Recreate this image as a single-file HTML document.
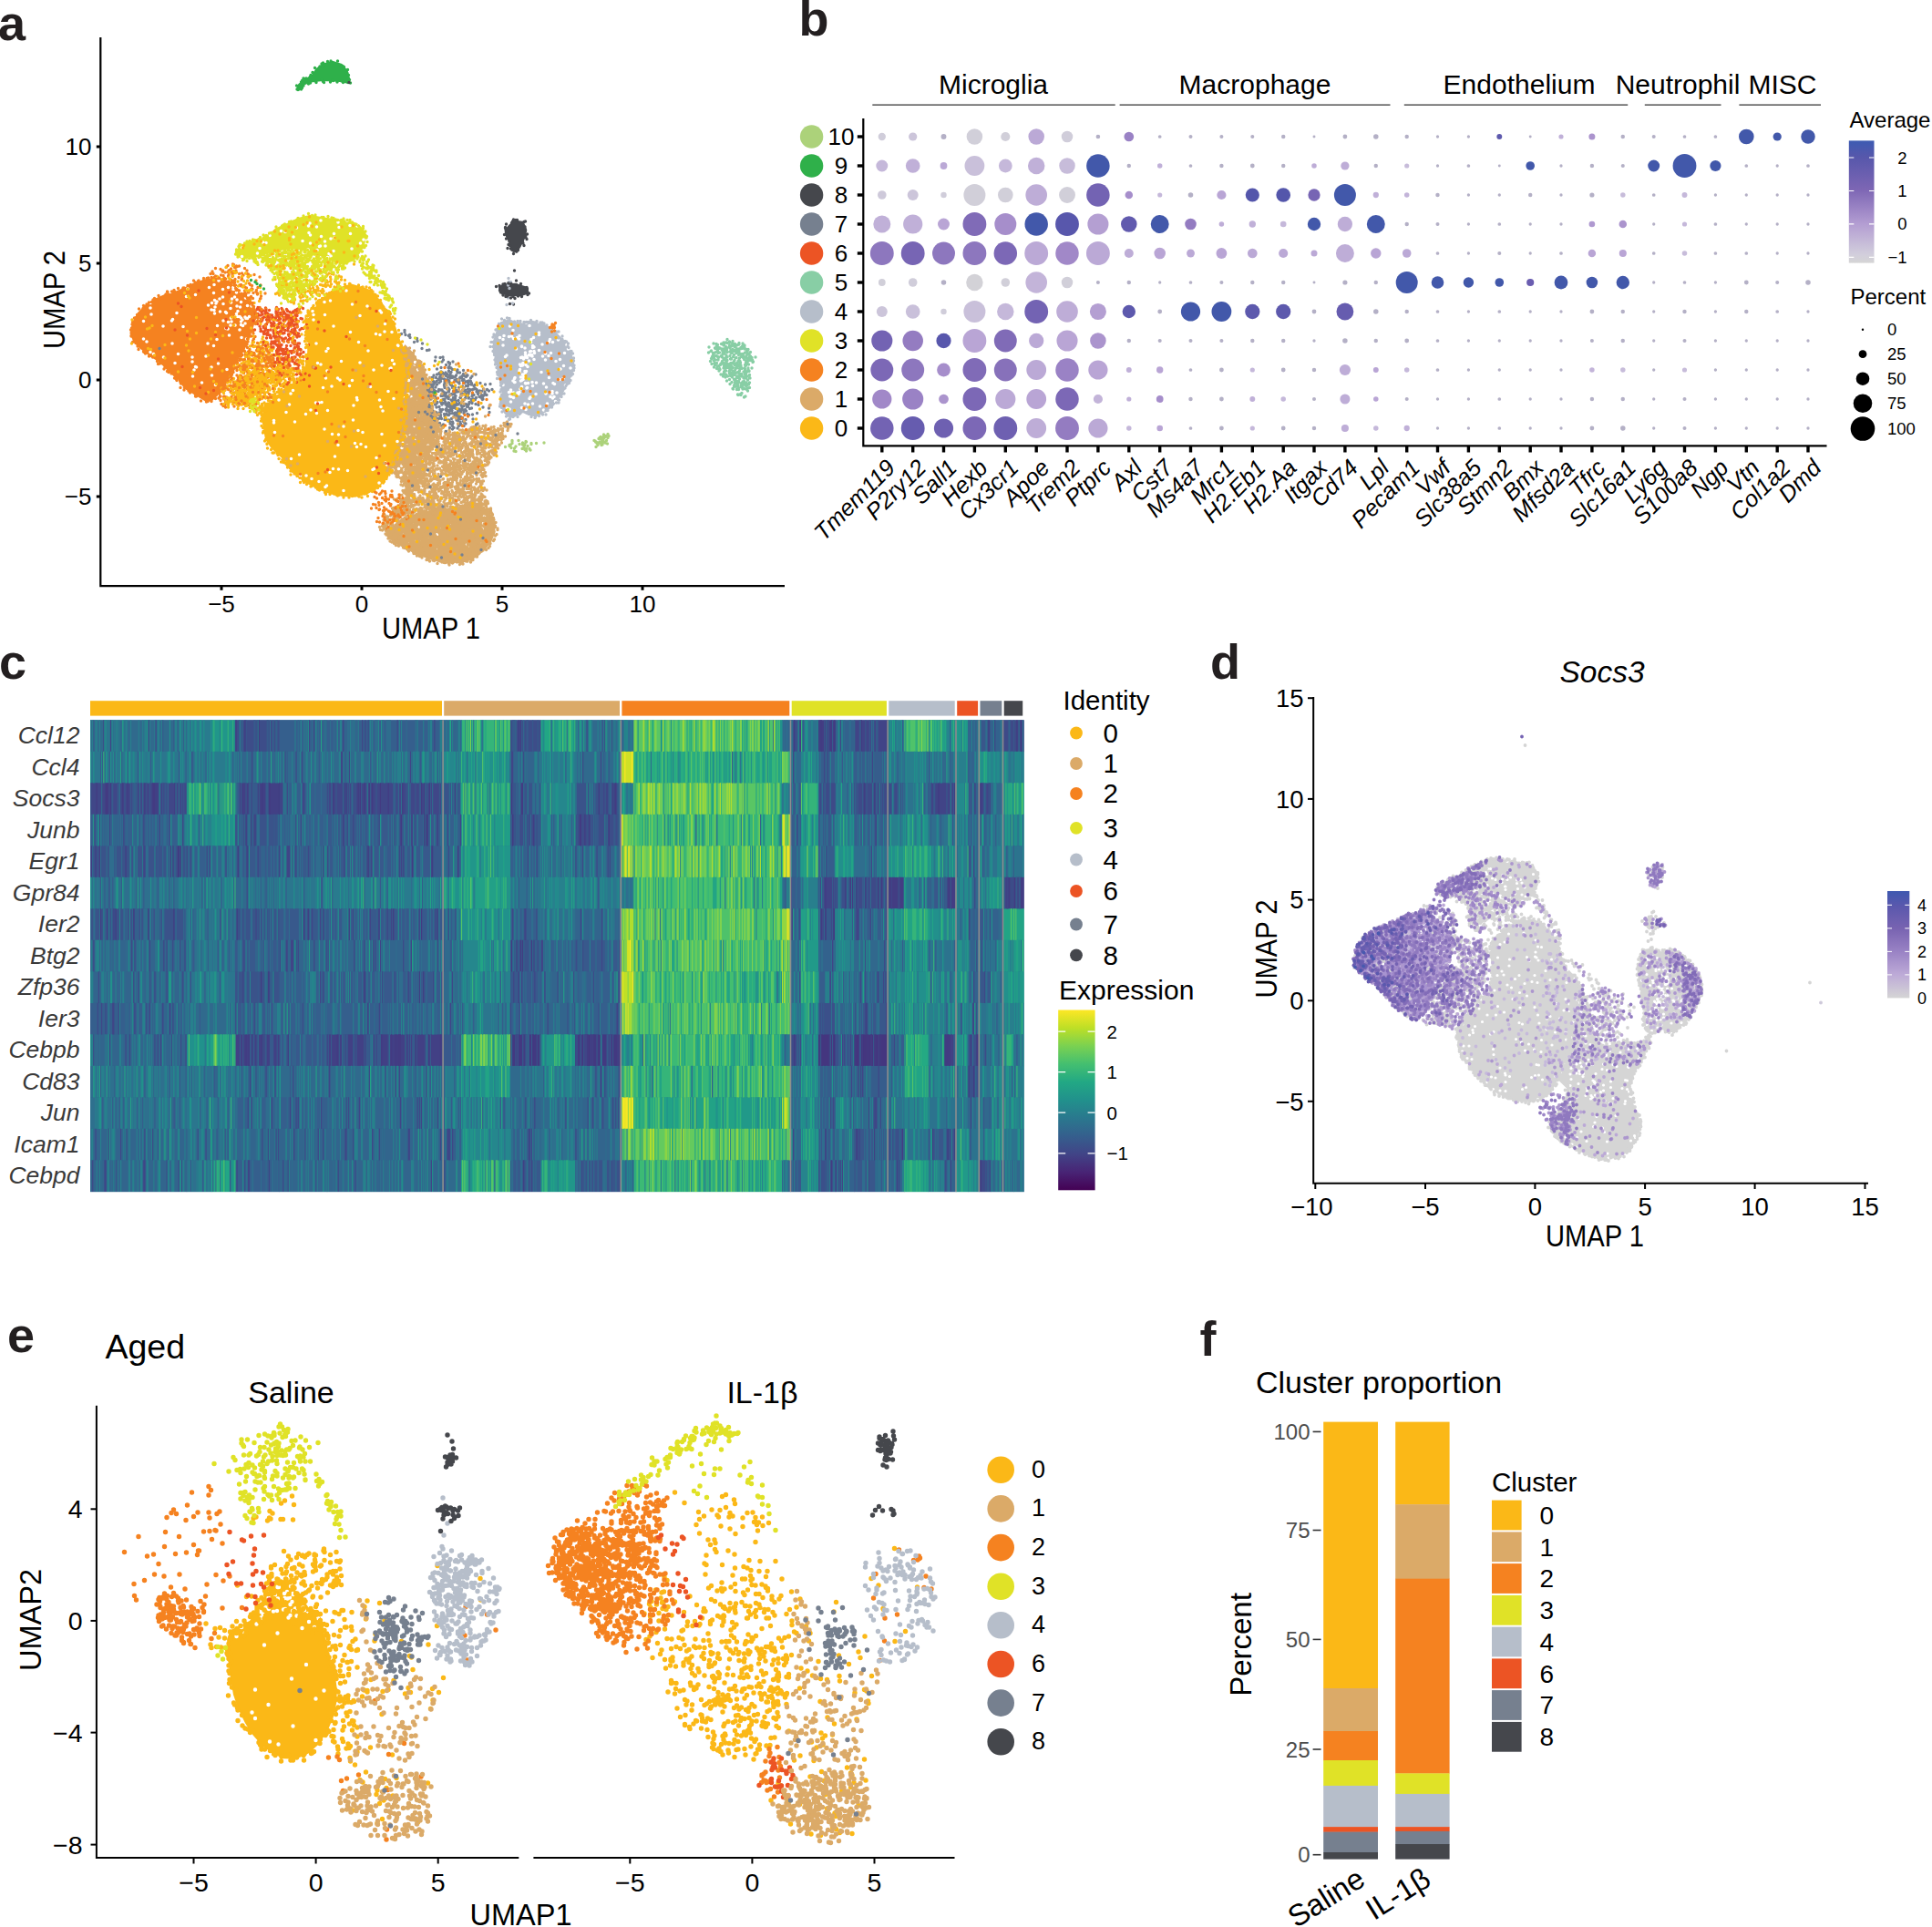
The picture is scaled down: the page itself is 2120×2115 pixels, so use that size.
<!DOCTYPE html>
<html><head><meta charset="utf-8"><title>Figure</title>
<style>html,body{margin:0;padding:0;background:#fff}svg{display:block}text{font-family:"Liberation Sans", sans-serif}</style></head>
<body><svg width="2120" height="2115" viewBox="0 0 2120 2115"><defs><linearGradient id="gb" x1="0" y1="0" x2="0" y2="1"><stop offset="0" stop-color="#3D5BB2"/><stop offset="0.13" stop-color="#5657AB"/><stop offset="0.4" stop-color="#7D66B4"/><stop offset="0.68" stop-color="#B39DD2"/><stop offset="0.93" stop-color="#D2CEDC"/><stop offset="1" stop-color="#D5D5D5"/></linearGradient><linearGradient id="gv" x1="0" y1="1" x2="0" y2="0"><stop offset="0.0" stop-color="#440154"/><stop offset="0.1" stop-color="#482475"/><stop offset="0.2" stop-color="#414487"/><stop offset="0.3" stop-color="#355F8D"/><stop offset="0.4" stop-color="#2A788E"/><stop offset="0.5" stop-color="#21918C"/><stop offset="0.6" stop-color="#22A884"/><stop offset="0.7" stop-color="#44BF70"/><stop offset="0.8" stop-color="#7AD151"/><stop offset="0.9" stop-color="#BDDF26"/><stop offset="1.0" stop-color="#FDE725"/></linearGradient><linearGradient id="gd" x1="0" y1="1" x2="0" y2="0"><stop offset="0" stop-color="#D5D5D5"/><stop offset="0.22" stop-color="#BDAAD7"/><stop offset="0.43" stop-color="#9A83C5"/><stop offset="0.65" stop-color="#7863B1"/><stop offset="0.86" stop-color="#5A58AD"/><stop offset="1" stop-color="#3E59B0"/></linearGradient></defs><rect width="2120" height="2115" fill="#fff"/>
<g><text x="-2" y="43.5" font-size="54" font-weight="bold" fill="#231F20">a</text>
<path d="M110.3 41V643.2H861" stroke="#000" stroke-width="2.2" fill="none"/>
<path d="M105.8 161L110.3 161" stroke="#000" stroke-width="3" fill="none"/>
<text x="100.5" y="170.2" font-size="26" text-anchor="end">10</text>
<path d="M105.8 289L110.3 289" stroke="#000" stroke-width="3" fill="none"/>
<text x="100.5" y="298.2" font-size="26" text-anchor="end">5</text>
<path d="M105.8 417L110.3 417" stroke="#000" stroke-width="3" fill="none"/>
<text x="100.5" y="426.2" font-size="26" text-anchor="end">0</text>
<path d="M105.8 545L110.3 545" stroke="#000" stroke-width="3" fill="none"/>
<text x="100.5" y="554.2" font-size="26" text-anchor="end">−5</text>
<path d="M243 643.2L243 647.8" stroke="#000" stroke-width="3" fill="none"/>
<text x="243" y="672.3" font-size="26" text-anchor="middle">−5</text>
<path d="M397 643.2L397 647.8" stroke="#000" stroke-width="3" fill="none"/>
<text x="397" y="672.3" font-size="26" text-anchor="middle">0</text>
<path d="M551 643.2L551 647.8" stroke="#000" stroke-width="3" fill="none"/>
<text x="551" y="672.3" font-size="26" text-anchor="middle">5</text>
<path d="M705 643.2L705 647.8" stroke="#000" stroke-width="3" fill="none"/>
<text x="705" y="672.3" font-size="26" text-anchor="middle">10</text>
<text x="473" y="701" font-size="32.5" textLength="108" lengthAdjust="spacingAndGlyphs" text-anchor="middle">UMAP 1</text>
<text font-size="32.5" textLength="108" lengthAdjust="spacingAndGlyphs" text-anchor="middle" transform="translate(71 329) rotate(-90)">UMAP 2</text>
<path d="M444.5 378L452.8 386.4L459.4 396.3L466.1 407.9L471 419.6L473.5 432.8L475.2 446.1L478.5 457.8L482.7 469.4L476 482.7L471 495.9L466.1 509.2L462.7 522.5L456.1 535.8L446.1 532.5L432.8 520.9L427.9 515.9L432.8 502.6L437.8 489.3L441.1 476L442.8 462.7L444.5 449.5L444.5 436.2L446.1 422.9L447.8 409.6L446.1 396.3L441.1 383Z" fill="#DBAA68"/>
<path d="M142.4 365.8L145.7 352.5L151.5 342.6L159.8 334.3L169.8 327.7L181.3 322.7L192.9 319.4L202.9 315.2L212.8 310.3L226.1 306.1L239.3 304.5L249.3 307.8L260.8 316.1L270.8 326L279.1 335.9L282.4 345.9L279.1 355.8L275.8 365.8L272.4 375.7L267.5 385.6L260.8 395.6L255.9 405.5L252.6 413.8L245.9 423.7L239.3 433.7L232.7 440.3L226.1 441.1L219.4 437L211.2 432L202.9 427L196.3 418.8L188 410.5L179.7 402.2L171.4 395.6L161.5 388.9L153.2 382.3L146.6 375.7Z" fill="#F58220"/>
<path d="M257.5 279.6L262.5 269.7L272.4 264.7L284 261.4L294 257.3L303.9 249.8L315.5 244.8L327.1 239L340.4 235.7L353.6 238.2L366.9 239.9L380.1 241.5L391.7 244.8L399.2 251.5L401.6 259.8L400 269.7L395 278L388.4 286.3L378.4 289.6L368.5 286.3L358.6 282.9L345.3 279.6L332.1 274.7L320.5 273L308.9 274.7L297.3 278L285.7 281.3L275.8 284.6L265.8 284.6Z" fill="#E0E227"/>
<path d="M357.6 323.8L370 316L385.5 311.4L401 316L406.3 318.3L416.2 328.2L426.2 341.5L432.8 354.8L437.8 369.7L442.8 383L447.8 396.3L449.5 409.6L447.8 422.9L446.1 436.2L446.1 449.5L444.5 462.7L442.8 476L439.5 489.3L434.5 502.6L429.5 515.9L422.9 527.5L414.6 535.8L403 542.4L389.7 545.8L376.4 544.9L363.1 542.4L349.8 537.5L336.5 530.8L324.9 522.5L314.9 512.6L306.6 502.6L314.3 507.1L305 499.3L297.2 491.6L291 482.2L288.9 469.8L286.4 457.4L291 446.5L301.9 435.6L314.3 424.8L326.7 417L334.4 404.6L337.5 385.9L335.3 367.3L334.4 348.7L342.2 336.2Z" fill="#FBB817"/>
<path d="M424.8 588.4L433.1 575.1L446.4 566.9L462.9 561.9L479.5 558.6L496.1 556.9L512.6 555.3L525.9 553.6L537.5 561.9L543.3 573.5L543.3 585.1L539.1 595L532.5 603.3L522.6 611.6L509.3 616.5L496.1 618.2L482.8 617.4L469.6 613.2L456.3 608.3L443.1 601.6L431.5 595Z" fill="#DBAA68"/>
<path d="M540.8 374.7L545.8 359.8L549.1 353.2L559 349.9L565.6 353.2L575.6 354.8L582.2 351.5L592.1 353.2L602.1 358.2L612 366.4L620.3 374.7L626.9 386.3L630.2 397.9L628.6 409.5L623.6 421.1L617 432.7L608.7 444.3L598.8 452.6L588.8 457.5L580.5 455.9L572.3 452.6L565.6 457.5L559 459.2L552.4 452.6L549.1 444.3L550.7 432.7L549.1 422.8L545.8 409.5L544.1 396.3L540.8 384.7Z" fill="#B6BECA"/>
<path d="M324.8 98.3L327.4 91.9L333.9 86.7L341.6 82.8L346.8 75.1L354.6 69.4L364.9 66.8L375.3 69.9L381.7 77.6L383.8 86.7L382.5 91.9L372.7 90.1L362.3 89.3L352 89.3L341.6 90.6L333.9 93.2L328.7 99.6Z" fill="#2FB04A"/>
<path d="M553.5 252.3L559.1 246.1L565.3 241.5L574.5 243L578.3 252.3L576.1 261.7L571.5 271L566.8 277.8L560.6 275.6L558.4 266.3L554.4 258.6Z" fill="#45474C"/>
<path d="M546.7 314.5L552.9 311.4L565.3 310.7L579.2 315.1L580.7 322.2L571.5 325.3L559.1 325.3L548.2 322.2Z" fill="#45474C"/>
<path transform="scale(.5)" d="M709 476h0m75 20h0m-16-1h0m-6-11h0m-18 15h0m-2-11h0m-38-4h0m-9 14h0m-15-8h0m-3 6h0m-85 21h0m25-10h0m9 2h0m25-9h0m27 11h0m3 5h0m24 3h0m28-6h0m36 0h0m29 13h0m-7 8h0m-57-12h0m-8 2h0m-13 6h0m-32 4h0m-17-5h0m-20-9h0m-60 13h0m-7-1h0m-5-12h0m-41 23h0m34 13h0m5-11h0m106 3h0m20 1h0m5-8h0m2-1h0m11 0h0m8 17h0m10-6h0m40-5h0m-46 16h0m-7 3h0m-172 3h0m-16-5h0m-51 53h0m280 22h0m-233 1h0m-11-5h0m-4 1h0m0-4h0m-11 0h0m-12 4h0m-19-10h0m-11 6h0m-47 3h0m-38 7h0m35 10h0m20-4h0m40-4h0m2 16h0m11-3h0m7-4h0m20 4h0m6-4h0m4-10h0m1 16h0m19-4h0m305 22h0m-38-4h0m-33-4h0m-48-8h0m-13 3h0m-22 8h0m-138 1h0m-9-1h0m-14-8h0m-2 11h0m-7-2h0m-13-8h0m-1 13h0m-16-10h0m-14-5h0m-2 4h0m-2 8h0m-7-9h0m-8 5h0m-127 6h0m0-11h0m2 25h0m56-3h0m76-7h0m6 1h0m1 7h0m12-4h0m12 1h0m2 2h0m10 11h0m10-3h0m2-6h0m3-6h0m0 12h0m4 0h0m3 3h0m9-2h0m2 3h0m3 0h0m4-4h0m20-2h0m108 2h0m11-12h0m2 8h0m25 0h0m77 2h0m44-11h0m3 4h0m345 20h0m-20 9h0m-7-7h0m-36 8h0m-24-4h0m-250-1h0m-113 5h0m-44-14h0m-16 15h0m-134-7h0m-5 5h0m-1-13h0m-3 11h0m0-7h0m-13 8h0m-8-8h0m-2 8h0m-5-7h0m-11-3h0m-13 11h0m-75 2h0m-23-16h0m-2 3h0m-19 12h0m-43-11h0m181 16h0m4 1h0m3 14h0m23-12h0m243 5h0m56 4h0m9 2h0m10-7h0m16 1h0m246 8h0m11 2h0m6-1h0m3-13h0m14 12h0m43-7h0m0 5h0m61 22h0m-19-11h0m-12 5h0m-6-6h0m-2 5h0m-15 6h0m-19-15h0m-2 18h0m-3-14h0m-1 6h0m-26-7h0m-4-3h0m-8 2h0m-23 15h0m0-13h0m-7-4h0m-223 18h0m-1-1h0m-86-7h0m-93 3h0m-20 1h0m-133-11h0m-11-3h0m-54 4h0m-7 14h0m-13-5h0m-78 0h0m-56-4h0m-7-6h0m15 29h0m7 4h0m54 0h0m325-6h0m4-6h0m88 5h0m101 0h0m224-4h0m12-6h0m0 1h0m7 3h0m1 10h0m0 5h0m8 0h0m2-7h0m2-1h0m0 8h0m2 0h0m2-16h0m2-2h0m1 1h0m0 9h0m1 4h0m10-6h0m14 7h0m12-1h0m30 0h0m8-9h0m-18 23h0m-9 4h0m-16-12h0m-7 9h0m-6-8h0m-19 7h0m-4-7h0m-5-2h0m-2 12h0m-4-7h0m-2-3h0m-2 2h0m-2 1h0m-2 3h0m-1 9h0m-1 1h0m-1-14h0m-3 1h0m-31-5h0m-3 3h0m-190 3h0m-8 9h0m-46 4h0m-4-8h0m-71 5h0m-41-3h0m-52 4h0m-218 1h0m-27-16h0m-30 12h0m0-10h0m-38 13h0m-25-13h0m67 28h0m3-7h0m2 1h0m33 0h0m34 5h0m206-11h0m14 14h0m102-2h0m18-10h0m18 7h0m2-1h0m50-4h0m8 8h0m224 2h0m0 3h0m1-17h0m0 11h0m2-8h0m4-1h0m5 13h0m1 3h0m1-17h0m1 14h0m3-10h0m30 12h0m42-7h0m7-7h0m15 5h0m-16 23h0m-8 2h0m-23-4h0m-37 10h0m-19-10h0m0-3h0m0-4h0m-1 11h0m-1-11h0m-2 13h0m-2 1h0m0-8h0m-13 11h0m0-10h0m-1 10h0m0-8h0m-3 5h0m-184-7h0m-3 5h0m-35-4h0m-7 5h0m-124 0h0m-27-1h0m-5-4h0m-26 0h0m-250-6h0m-42 2h0m-35 10h0m55 4h0m30 5h0m170 12h0m66-6h0m19-3h0m39-1h0m46 2h0m39 10h0m64-9h0m1 2h0m22-11h0m165 4h0m17 11h0m21-2h0m3-5h0m8-8h0m1 1h0m2 10h0m1-1h0m2-10h0m10 6h0m8-7h0m16 2h0m6 8h0m13 9h0m2-18h0m3 2h0m24 3h0m-19 16h0m-6 9h0m-3 3h0m-1-10h0m-4 7h0m-10-7h0m-22 1h0m-12 7h0m-2 3h0m-22-14h0m-2 4h0m-2-3h0m-9 11h0m0-11h0m-5 9h0m-1-11h0m-2 10h0m-2-9h0m-172 18h0m-2-14h0m-23 9h0m-2 5h0m-10-4h0m-4-4h0m-8-6h0m-7 8h0m-25 2h0m-31 3h0m-49 0h0m-1-5h0m-145-9h0m-26 14h0m23 10h0m58-4h0m7 0h0m6-1h0m70 7h0m60 3h0m101 0h0m176 3h0m5 2h0m3-16h0m24 13h0m7-9h0m2 13h0m5-11h0m10-2h0m16 6h0m16-6h0m18-5h0m-26 19h0m-269 12h0m-84-10h0m-121-1h0m-24 6h0m-13-7h0m-11 9h0m-43-4h0m-27 18h0m0 5h0m46-2h0m107 10h0m21-14h0m135 13h0m1-15h0m20 14h0m13-2h0m5-5h0m-39 28h0m-11-2h0m-9 5h0m-52-5h0m-42-4h0m-10-4h0m-43 9h0m-14-1h0m-17-11h0m-109 7h0m139 28h0m37-4h0m13 2h0m52 3h0m28-9h0m11 3h0m10 6h0m20-15h0m14-2h0m13 17h0m9-6h0m-19 24h0m-16 3h0m-16-14h0m-16-2h0m-79-2h0m-20 0h0m-126 17h0m-18 9h0m96-5h0m91 3h0m20 11h0m17 3h0m8-14h0m1-1h0m23 1h0m18-3h0m15 5h0m5 10h0m-6 12h0m-16 2h0m-1-2h0m-1-8h0m-19 12h0m-1 2h0m0-1h0m-1-3h0m-7-9h0m-6 7h0m-13 3h0m-13-12h0m-28 9h0m-3 2h0m-55 2h0m-20-3h0m-12-1h0m-7 8h0m-65 7h0m13 0h0m12 7h0m16 6h0m180-14h0m17 0h0m19 11h0m-84 6h0m-78 17h0m-37-11h0m-3 3h0m306 48h0m43 16h0m-182 22h0m28-3h0m9 5h0m52 1h0m13-2h0m3-7h0m75 0h0m-2 11h0m-99 13h0m-15-3h0m-59 4h0m9 17h0m15-2h0m9-1h0m23-4h0m8 14h0m75-3h0m28-5h0m-21 10h0m-76 4h0m-4 22h0m23 7h0m40-5h0" stroke="#fff" stroke-width="7.2" stroke-linecap="round" fill="none"/>
<path transform="scale(.5)" d="M604 613h0m20 2h0m1 0h0m66-3h0m4-1h0m7 2h0m5 4h0m1-6h0m2 2h0m4 3h0m1 3h0m2-3h0m1-12h0m1 15h0m3-19h0m3 8h0m0 10h0m1-5h0m2-12h0m4 1h0m3 16h0m2-1h0m5-8h0m2-3h0m5 2h0m0 6h0m8 1h0m-3 21h0m-9-7h0m-1-9h0m-1 8h0m0-5h0m-2 6h0m0-1h0m0-4h0m-1 11h0m0-13h0m-1-1h0m-1 13h0m-3 4h0m-1-8h0m-7-6h0m-2 5h0m-5-3h0m-5 3h0m-1-1h0m0-4h0m-4 15h0m-1-12h0m-1 8h0m-1-9h0m-3 13h0m-1-14h0m-5 13h0m0-5h0m-2 2h0m0-6h0m-3 10h0m-3-2h0m-1 0h0m0-13h0m-1 1h0m-1 7h0m-1-6h0m0-3h0m-5 11h0m-1-9h0m-4 14h0m-11-4h0m-32 0h0m-4-13h0m-6 5h0m-4-2h0m-2 5h0m-5-6h0m-7 21h0m4-2h0m1 1h0m3 4h0m3-6h0m13 9h0m1-2h0m5-1h0m3 1h0m2 2h0m1-5h0m1 5h0m4-6h0m0 2h0m0 8h0m1 3h0m11-7h0m2 3h0m1-9h0m4 4h0m0 2h0m4-9h0m1-1h0m2 18h0m2-7h0m7-9h0m1-3h0m1 7h0m3-4h0m1-2h0m6 1h0m0 14h0m3-10h0m4 0h0m0 2h0m1-1h0m0 2h0m6-6h0m0 12h0m2-15h0m1 0h0m10 12h0m3-9h0m5-2h0m1 8h0m3-4h0m-58 16h0m-8-1h0m-2 1h0m-3 13h0m-1-13h0m-15 5h0m0-2h0m-6-1h0m0-2h0" stroke="#FBB817" stroke-width="6.8" stroke-linecap="round" fill="none"/>
<path transform="scale(.5)" d="M568 754h0m5-3h0m3-7h0m1-4h0m3 9h0m1 7h0m4-5h0m2 1h0m26 26h0m-3-8h0m-3 5h0m-7-10h0m-3 5h0m-1 9h0m-2-14h0m0-4h0m-1 7h0m-4 10h0m-1-17h0m-1 10h0m-2-5h0m-1-5h0m-4 17h0m0-6h0m-1 1h0m-1-8h0m-4 9h0m-1 1h0m-1-14h0m-1 3h0m-1 7h0m-2 7h0m0-18h0m-2 9h0m-1 2h0m0-10h0m-4-1h0m-5 19h0m0-2h0m-1-17h0m-1 14h0m-2 5h0m0-3h0m-2 3h0m-1-19h0m-7 18h0m-12 11h0m0 9h0m11-4h0m4-4h0m0 5h0m1-1h0m2-7h0m1 6h0m1-4h0m5-1h0m1 5h0m3-7h0m1-6h0m1 3h0m2 7h0m0 3h0m1-9h0m1 8h0m1 3h0m1-1h0m1 5h0m1-13h0m0 9h0m2-14h0m3 9h0m0 4h0m2-11h0m1 3h0m5 6h0m1 3h0m2-11h0m2 5h0m5-1h0m4 0h0m2-2h0m0 4h0m0 9h0m1-19h0m7 0h0m0 15h0m4 2h0m2-14h0m0 14h0m3-9h0m0 2h0m10 1h0m0 5h0m9-5h0m30 7h0m13 15h0m-5-8h0m-7 6h0m0-5h0m-7 8h0m-4-3h0m-1 2h0m-1 2h0m0-6h0m-6 5h0m0-4h0m-5-1h0m-3 9h0m-3-7h0m-2 5h0m0-4h0m0-10h0m-1-1h0m-1 18h0m0-5h0m0-7h0m-2 9h0m-1 2h0m-1-12h0m-1 12h0m0-15h0m-1 14h0m-3-13h0m-3 3h0m-1-6h0m-2 0h0m-1 18h0m0-6h0m0-1h0m-1 0h0m-3 6h0m0-17h0m-1 13h0m0-5h0m-2 9h0m0-9h0m-1 3h0m-1 1h0m-5-9h0m-2 13h0m-4-16h0m-5 18h0m0-6h0m-2-8h0m-1 13h0m-3-11h0m-1-1h0m0-4h0m-1 2h0m-2 1h0m-2 8h0m-1 3h0m-3-8h0m0-2h0m-2 5h0m0-9h0m-1 9h0m0-7h0m0-1h0m-3 7h0m0-7h0m-3 9h0m0-6h0m0-2h0m-1-2h0m-2 7h0m-4 5h0m0-5h0m0-4h0m-1 10h0m-1-12h0m-2 13h0m-1-15h0m-2 6h0m0-4h0m-1 16h0m0-16h0m-4 11h0m-1 4h0m0-18h0m-1 15h0m-1-5h0m0-9h0m-2 5h0m-1 5h0m0-10h0m-1 13h0m-1-11h0m-2 5h0m-1 10h0m0-5h0m-6 3h0m-3-5h0m-16 23h0m3-3h0m12 4h0m1-10h0m0 2h0m1-3h0m0 7h0m4-3h0m4 8h0m2-9h0m1-1h0m0 3h0m3 3h0m1 2h0m4-14h0m0 1h0m0 7h0m0 11h0m1-17h0m1-1h0m2 13h0m3-13h0m0 15h0m1-4h0m1 6h0m4-6h0m2-5h0m0 3h0m6 3h0m3-12h0m0 2h0m0 13h0m2-10h0m0 3h0m2-7h0m1-1h0m0 17h0m1-8h0m1 9h0m1-9h0m1-3h0m0 7h0m2 4h0m2-17h0m0 6h0m1 4h0m1-7h0m2 3h0m0 12h0m1-2h0m7-15h0m0 1h0m0 2h0m0 7h0m2 3h0m0 4h0m1-14h0m0 9h0m3-13h0m3 0h0m0 3h0m0 3h0m0 7h0m1-6h0m1-1h0m3 2h0m1 6h0m1-13h0m0 5h0m0 3h0m3 2h0m0 7h0m3-4h0m4-13h0m1 1h0m0 8h0m2-8h0m1 0h0m0 3h0m1 1h0m0 9h0m5-16h0m0 6h0m4-4h0m1 16h0m1-11h0m2 6h0m2-7h0m1-6h0m2 10h0m0 4h0m0 1h0m1-13h0m0 1h0m0 9h0m1 5h0m10-17h0m2 9h0m-19 19h0m0-2h0m-8 10h0m0-11h0m0-5h0m-3 3h0m-3 13h0m-1-11h0m0-4h0m-3 2h0m-1 5h0m-4 11h0m0-12h0m-3 10h0m-1-1h0m0-2h0m-3-14h0m-2 4h0m-3 4h0m-1 6h0m0-7h0m-1-7h0m-1 19h0m0-9h0m0-2h0m-1-1h0m-1 5h0m0-5h0m-5-6h0m-2 15h0m0-1h0m-1-5h0m-1 0h0m-1 6h0m-1-9h0m-3-7h0m-1 2h0m-1 6h0m-2 6h0m-1-3h0m0-4h0m-3 6h0m-1-10h0m-4 16h0m0-3h0m-1 1h0m-1-7h0m-1-3h0m-1 2h0m-1-9h0m-1 12h0m-1-6h0m0-5h0m-1 0h0m-1 2h0m-1 2h0m0-3h0m-1 5h0m-1 11h0m0-7h0m-4-6h0m-1 12h0m0-17h0m-4 16h0m-2 1h0m-2-2h0m0-5h0m-2-2h0m-1 5h0m0-3h0m-2 5h0m-2-14h0m-1 15h0m-1-15h0m-6 7h0m-3 4h0m-2 5h0m0-6h0m0-2h0m0-2h0m0-4h0m-2 1h0m-1 11h0m0-6h0m-2 3h0m-1-11h0m-2 16h0m0-10h0m-4 3h0m-1 0h0m-1-6h0m-9 35h0m4-4h0m7 0h0m2 1h0m2-1h0m1-4h0m1-9h0m2 13h0m1-15h0m1 6h0m2 0h0m0 13h0m1-19h0m0 2h0m3 13h0m1-14h0m2 2h0m0 10h0m0 4h0m1-4h0m2 0h0m1-5h0m0 1h0m3 5h0m3-2h0m1 6h0m1-14h0m1 10h0m2 1h0m2-7h0m1 4h0m2 2h0m2-5h0m1-4h0m3 0h0m2-1h0m3-1h0m0 2h0m0 10h0m2-15h0m1 13h0m0 1h0m3-9h0m1 6h0m2-11h0m0 1h0m0 11h0m1 3h0m3-15h0m0 10h0m3-8h0m0 4h0m2 6h0m0 2h0m2-3h0m2-10h0m2 18h0m1-6h0m3-4h0m0 2h0m1 1h0m2-2h0m1-3h0m0 4h0m5 4h0m1-10h0m1 8h0m1-3h0m3-9h0m5 0h0m17 3h0m-32 32h0m-1-15h0m-1 4h0m-3-4h0m-6 14h0m-3-7h0m-2 11h0m0-9h0m-1 8h0m-1-14h0m-2 12h0m-3-6h0m0-3h0m-1 5h0m-2 6h0m-1-6h0m-4 4h0m0-10h0m-1-6h0m-4 2h0m-8 8h0m-1-10h0m-1 16h0m-3-11h0m-1-1h0m-7 6h0m-5-10h0m-1 6h0m-1 11h0m-2-16h0m-1 7h0m0-6h0m-8 9h0m-1 6h0m0-11h0m0-2h0m-2 4h0m-3-8h0m-1 4h0m0-3h0m-9 0h0m-6 3h0m0-2h0m61 23h0m1-5h0m0 1h0m2 10h0m4-4h0m3-2h0m0 1h0m1-6h0m4 1h0m0 1h0m4 6h0m1-3h0m3-4h0" stroke="#FBB817" stroke-width="6.8" stroke-linecap="round" fill="none"/>
<path transform="scale(.5)" d="M565 763h0m11 11h0m12-2h0m27 24h0m-8 0h0m-12-5h0m-1 4h0m-7-11h0m-1 2h0m-2-6h0m-5 12h0m-25 2h0m0-3h0m-9-4h0m-18 18h0m8 1h0m2-3h0m28-2h0m2 14h0m7-5h0m37-7h0m47 16h0m4 7h0m-2 8h0m-8-2h0m-17 0h0m0-1h0m-4-9h0m-7-1h0m-13 3h0m-4-1h0m-1 10h0m0-7h0m-6 2h0m-12 0h0m-6-2h0m-1 13h0m-2-6h0m-13 1h0m-11 2h0m-10-7h0m-5 7h0m-1-7h0m-7 1h0m-3-5h0m-6 4h0m17 15h0m4 9h0m12-3h0m13-1h0m2 1h0m4 1h0m2-4h0m2-4h0m9 8h0m11 2h0m15-10h0m10 6h0m-26 24h0m-4-1h0m-3-7h0m-3 8h0m-10-1h0m-1-11h0m-7 16h0m-3-16h0m-10 15h0m-2-14h0m-13 11h0m-3 3h0m-4-5h0m-12-3h0m-5-6h0m-18 24h0m12-2h0m2 8h0m23-5h0m2-2h0m14 8h0m7 3h0m39-13h0" stroke="#F58220" stroke-width="6.8" stroke-linecap="round" fill="none"/>
<path transform="scale(.5)" d="M571 559h0m29-2h0m7-3h0m1-1h0m1 3h0m3-7h0m5 9h0m2-3h0m1 3h0m1-4h0m2 1h0m1-1h0m1-8h0m0 4h0m1-2h0m1 7h0m1-2h0m5-9h0m0 6h0m0 7h0m3-15h0m0 8h0m1 1h0m1 3h0m2 2h0m1-10h0m0 10h0m1-8h0m1 9h0m1-4h0m0 4h0m2 2h0m1-2h0m2-8h0m3-1h0m0 2h0m2 4h0m2 3h0m3-2h0m2-6h0m7 4h0m2 1h0m6 3h0m4 1h0m1-5h0m4 3h0m0 2h0m7 0h0m63 20h0m-7 0h0m-1 0h0m-1 0h0m-8 0h0m-8-6h0m-1 5h0m-4-7h0m-1 8h0m-1-4h0m-1 5h0m-4-9h0m-1 6h0m-1-3h0m0-3h0m-1 6h0m0-3h0m-2 6h0m0-4h0m-1 0h0m-2-3h0m-1 2h0m-3 2h0m-1 1h0m-2-9h0m-1 0h0m-1 7h0m-1-6h0m-2 3h0m0-8h0m-1 15h0m0-1h0m0-4h0m-1-4h0m-1-4h0m0-2h0m-2 12h0m-1 1h0m-1-4h0m-2 4h0m0-9h0m-1 11h0m0-8h0m-2 4h0m-1-3h0m-1-12h0m-2 4h0m-1 1h0m-2 6h0m-1-1h0m-1 2h0m0-10h0m-1 12h0m0-5h0m-3 6h0m0-12h0m-1 9h0m0-6h0m0-5h0m-3 18h0m0-2h0m0-16h0m-1 18h0m-1-13h0m-1 4h0m-2 9h0m0-10h0m-1 6h0m0-15h0m-1 11h0m-1 1h0m0-6h0m0-4h0m-3 12h0m-1-5h0m-1-5h0m-2 14h0m0-12h0m-1 5h0m-2-7h0m0-4h0m-2 18h0m0-11h0m-2 5h0m0-4h0m-2 10h0m0-7h0m-1-6h0m-1 10h0m-1-4h0m-1 5h0m-2-12h0m0-3h0m-1 12h0m-1-6h0m-1 11h0m0-3h0m0-11h0m0-4h0m-2 6h0m0-1h0m-2 3h0m0-6h0m-1 17h0m-2 0h0m0-3h0m-2-8h0m-1 5h0m0-10h0m-1 10h0m-1 4h0m0-6h0m0-1h0m0-7h0m-1 3h0m0-1h0m-1 4h0m-3 6h0m0-5h0m-1 8h0m0-3h0m0-7h0m0-7h0m-2 18h0m0-1h0m0-17h0m-2 13h0m-1-4h0m-2 1h0m0-9h0m0-2h0m-3 1h0m-1 0h0m0-1h0m-1 10h0m0-4h0m-1 2h0m-2 7h0m-1 1h0m0-7h0m-1 10h0m-2-14h0m-1 8h0m0-4h0m-2 8h0m0-6h0m-1 6h0m-1-5h0m0-2h0m-1-1h0m-1-8h0m-2 14h0m-1-5h0m0-1h0m-1 8h0m-1-13h0m0-1h0m-1 8h0m0-6h0m0-3h0m-1 17h0m0-6h0m-1-2h0m-1-1h0m-1-7h0m-1 3h0m-2 7h0m0-4h0m-1-2h0m-1 8h0m0-4h0m-1-4h0m-1 7h0m-4-11h0m-1 0h0m-1 0h0m-1 2h0m-3 12h0m-1-2h0m-1 2h0m-1 0h0m-1-8h0m-3 5h0m0-5h0m0-2h0m8 14h0m18 1h0m1-2h0m4 4h0m1 2h0m0 1h0m4 6h0m1-11h0m0 5h0m1 5h0m1 0h0m1-12h0m0 17h0m1-17h0m0 4h0m2 1h0m1 4h0m0 2h0m3-3h0m2 2h0m0 8h0m2-14h0m1 3h0m1-5h0m1 12h0m1-1h0m0 5h0m1-8h0m0 8h0m2-6h0m1-1h0m0 5h0m2-7h0m1-5h0m2 3h0m2-5h0m0 7h0m1 8h0m2-16h0m2 1h0m1 16h0m0 1h0m5-15h0m4-3h0m1 3h0m1 0h0m0 13h0m3-17h0m0 5h0m0 6h0m0 8h0m1-19h0m0 4h0m0 13h0m1-10h0m4 2h0m2-5h0m2 8h0m0 4h0m1-10h0m1 7h0m0 3h0m1-6h0m1-8h0m0 9h0m0 8h0m2-18h0m0 4h0m0 8h0m2 3h0m1-11h0m2-5h0m0 5h0m1 0h0m0 3h0m0 4h0m1-11h0m1 3h0m0 1h0m2-1h0m0 13h0m1-11h0m1 4h0m0 8h0m1-11h0m1-1h0m0 4h0m0 8h0m0 1h0m1-14h0m1 8h0m0 3h0m1 1h0m1 2h0m1-2h0m1-6h0m1-1h0m2 6h0m1-7h0m1-4h0m0 8h0m1-6h0m0 1h0m0 3h0m0 7h0m1-9h0m1-6h0m2 5h0m0 2h0m1-5h0m0 4h0m2-7h0m0 1h0m0 2h0m0 11h0m1-14h0m1 0h0m0 14h0m3-6h0m1-8h0m0 5h0m1 7h0m2-2h0m0 7h0m1-7h0m1-9h0m1-1h0m0 17h0m2-1h0m1-1h0m2-6h0m0 6h0m2-7h0m1-9h0m0 3h0m1 2h0m1 1h0m0 9h0m0 3h0m1-16h0m1 2h0m0 9h0m2-8h0m0 5h0m2-10h0m2 5h0m0 6h0m3 2h0m1-11h0m0 4h0m0 4h0m1-10h0m1 0h0m0 18h0m1-18h0m0 5h0m2 12h0m2-13h0m4 4h0m0 3h0m3 6h0m2-12h0m0 6h0m2-9h0m5 2h0m1 0h0m0 5h0m1-4h0m1-2h0m1-3h0m0 9h0m3-2h0m-42 19h0m-1 10h0m-1-7h0m-5 0h0m0-4h0m-4 9h0m-1-15h0m-1 13h0m-5-7h0m-2 12h0m-1 0h0m0-11h0m0-3h0m-1 0h0m-2 2h0m-1 10h0m0-8h0m-3-3h0m0-1h0m-1 14h0m0-16h0m0-2h0m-2 3h0m-2 15h0m-1 0h0m-2-2h0m-3-16h0m-2 7h0m-1 12h0m0-16h0m-1-1h0m-1 12h0m-2-7h0m-1 0h0m-1 8h0m-2-8h0m0-2h0m-3 14h0m0-10h0m0-6h0m-2 14h0m0-9h0m-1 2h0m-1 6h0m0-11h0m-1 14h0m0-7h0m-1-6h0m-2 13h0m0-4h0m-1-13h0m0-1h0m-1 16h0m-1-2h0m0-3h0m0-10h0m0-2h0m-2 4h0m-1-4h0m-1 8h0m-1 0h0m0-4h0m-1 6h0m0-1h0m-3 5h0m0-2h0m-1 0h0m0-3h0m0-4h0m-1 2h0m-1 12h0m0-16h0m-1 2h0m-2 6h0m-1-8h0m-1 6h0m-1 3h0m-2 0h0m0-1h0m0-6h0m0-4h0m-1 10h0m-1-3h0m-1 8h0m0-15h0m-1 8h0m-1 1h0m0-8h0m-1-1h0m-1 3h0m-1 12h0m-2-4h0m-1 7h0m0-1h0m-1-7h0m0-4h0m0-3h0m0-1h0m-1 4h0m-2 4h0m-2 4h0m-1 4h0m0-5h0m-3-9h0m-1-2h0m-1-3h0m-4 9h0m-2-8h0m-3 13h0m8 10h0m1 3h0m3 3h0m1 8h0m1-18h0m0 6h0m1-6h0m0 9h0m1 6h0m0 2h0m1-17h0m2 16h0m2-13h0m0 8h0m2-11h0m1 2h0m0 15h0m1 1h0m1-8h0m1-3h0m1-5h0m0 4h0m1 0h0m0 5h0m1-6h0m0 8h0m1-10h0m4 6h0m0 2h0m0 2h0m0 4h0m1-10h0m1-5h0m0 5h0m0 11h0m3-18h0m0 16h0m1-14h0m0 8h0m0 5h0m2-12h0m0 13h0m1-15h0m0 4h0m0 1h0m2-5h0m0 6h0m2-7h0m0 18h0m1-11h0m0 2h0m0 4h0m1-5h0m2-5h0m0 5h0m0 2h0m0 7h0m1-12h0m3 3h0m1 1h0m1-5h0m1 2h0m0 9h0m1-8h0m0 5h0m1-5h0m0 9h0m1-14h0m0 14h0m0 2h0m1-2h0m1-4h0m1-4h0m0 4h0m1-4h0m2-4h0m0 6h0m0 1h0m3-4h0m2-6h0m1-1h0m1 7h0m2-1h0m1 6h0m2-7h0m1-2h0m8 0h0m-23 18h0m-8 3h0m0-1h0m-3-3h0m-6 7h0m-1-3h0m-1 13h0m0-14h0m-1 12h0m0-3h0m0-1h0m-2-8h0m-1 7h0m-1 3h0m-2-2h0m-4-1h0m0-5h0m-1 4h0m-3 9h0m-1-6h0m-1 2h0m-1-3h0m0-6h0m-1 9h0m0-6h0m0-3h0m-2 2h0m-2 1h0m0-2h0m-2-1h0m-1-4h0m-4 3h0m17 18h0" stroke="#E0E227" stroke-width="6.8" stroke-linecap="round" fill="none"/>
<path transform="scale(.5)" d="M613 558h0m28 1h0m4-2h0m6-7h0m1 4h0m68 22h0m-22-15h0m-45 13h0m-3-9h0m-10 2h0m-13 5h0m-37 12h0m5-1h0m12 2h0m8 0h0m0 11h0m7-13h0m0 7h0m2-2h0m14 1h0m18-6h0m2 10h0m26 1h0m19 1h0m10-10h0m-22 18h0m-3-3h0m-15 14h0m-11-10h0m-11 15h0m-1-8h0m-6-9h0m-17 15h0m-5-7h0m-7-7h0m14 22h0m23 8h0m3 6h0m24-9h0" stroke="#FBB817" stroke-width="6.8" stroke-linecap="round" fill="none"/>
<path transform="scale(.5)" d="M466 596h0m7-7h0m11 2h0m4 5h0m1-2h0m0 2h0m5 2h0m3-12h0m3-3h0m0 14h0m2-3h0m2-1h0m3-3h0m1 8h0m3-18h0m0 16h0m1-13h0m0 15h0m1-17h0m1 18h0m1-12h0m2 0h0m1 7h0m1-10h0m2 1h0m4-1h0m12 5h0m5 5h0m28 14h0m-8 8h0m-4-13h0m-13 5h0m0-6h0m-2-1h0m-9 3h0m-3 8h0m0-4h0m0-8h0m-1 14h0m-5-13h0m-1 8h0m-8 4h0m-1 2h0m-5-8h0m0-3h0m-1 12h0m-1-1h0m-6-12h0m-1 3h0m-6 6h0m-3-2h0m-2-5h0m-5-1h0m-6 7h0m-9-2h0m-2-8h0m-2 10h0m-4-10h0m45 19h0m2 0h0m3 0h0m2 3h0m1-3h0m2 6h0m9 0h0m1 1h0m2-2h0m1 3h0m7 2h0m0 8h0m4-6h0m6-10h0m2 3h0m3 9h0m1-7h0m0 7h0m1 1h0m9 2h0m3-6h0m6-5h0m10 18h0m-9 6h0m-1 5h0m-1 1h0m-6-10h0m0-2h0m-1-1h0m-2-3h0m-6 3h0m-1 12h0m-4-4h0m-2 7h0m-1 0h0m-1-4h0m-1-12h0m-1-1h0m-2 13h0m-3-9h0m-2-3h0m3 91h0m15-1h0m4 7h0m28 17h0m-11 1h0m-12-4h0m-8-9h0m-2 4h0m-1 10h0m-24 12h0m2 9h0m2-13h0m5 10h0m0 2h0m6-6h0m0 5h0m1-2h0m1 0h0m1-8h0m3 6h0m4 3h0m2-16h0m0 19h0m1-4h0m5-6h0m2-3h0m1 3h0m1-7h0m3 3h0m0 1h0m0 10h0m1-4h0m2-7h0m3-1h0m1 14h0m7-12h0m1 2h0m1-1h0m5 7h0m12 21h0m-1-15h0m-2 17h0m0-7h0m0-3h0m-2 10h0m-1 2h0m-2-17h0m-2 7h0m-2 3h0m0-8h0m-2 13h0m-1-7h0m-3 9h0m-4-9h0m-1-1h0m0-3h0m-11-1h0m-1 12h0m-1-5h0m-1-10h0m-2 17h0m-2-16h0m-5 10h0m-3-1h0m0-12h0m-2 12h0m-10-10h0m-3-1h0m-2 8h0m-1 8h0m-3-7h0m-7 1h0m-5 5h0m-1-6h0m-9 5h0m-5 24h0m6-2h0m8-4h0m1-7h0m4-4h0m6 4h0m2-1h0m0 6h0m1-9h0m1 17h0m1-15h0m1 5h0m0 2h0m4-6h0m2 11h0m5-12h0m5 4h0m9-5h0m2-3h0m0 3h0m0 12h0m1-5h0m2 1h0m1 7h0m1-15h0m2-1h0m2 17h0m1-14h0m3-2h0m7 0h0m2 2h0m0 7h0m7-9h0m1 13h0m1 2h0m2-12h0m1-5h0m2 8h0m-15 16h0m-5-2h0m-1-2h0m-3 12h0m-1 4h0m0-9h0m-5 1h0m-5 8h0m0-6h0m0-4h0m-1-7h0m-1 7h0m0-4h0m-1 0h0m-1-2h0m-5 12h0m-1-1h0m-3-6h0m-2 13h0m-6-18h0m-1 16h0m0-11h0m-3 1h0m-3 11h0m-2-3h0m-1 0h0m-2-6h0m-4 8h0m-2 0h0m-4-3h0m-2 4h0m0-14h0m-7 15h0m-4-9h0m-1-7h0m-1 4h0m-1 8h0m-5-6h0m-8 7h0m-6 23h0m7-3h0m1-4h0m3-2h0m3 5h0m2-8h0m4 0h0m0 12h0m1-3h0m4-7h0m1-2h0m1-7h0m0 7h0m3-6h0m0 11h0m3-12h0m0 4h0m1 4h0m1 10h0m1-13h0m10 12h0m1-17h0m3 10h0m6-2h0m1 5h0m4 2h0m2-3h0m1 3h0m5-10h0m0 6h0m5-10h0m-12 23h0m-7 7h0m-1-2h0m-3-5h0m-4-2h0m-4 8h0m-1-6h0m-4 9h0m-3 1h0m-1-5h0m-3 7h0m-3 0h0m-1-14h0m-2 4h0m-1-2h0m-3 7h0m-2-11h0m-5 16h0m-1 1h0m-3-5h0m-2 2h0m-2-3h0m-1 5h0m0-6h0m-1 1h0m-7 8h0m0-9h0m-1 0h0m-1 2h0m-1-8h0m-1 10h0m6 13h0m4 4h0m4-2h0m1-7h0m0 12h0m28-10h0" stroke="#F58220" stroke-width="6.8" stroke-linecap="round" fill="none"/>
<path transform="scale(.5)" d="M496 587h0m8 11h0m7-15h0m2 12h0m3 4h0m3-1h0m31 7h0m-6 2h0m-1 9h0m-4-16h0m-4 17h0m-4-10h0m-9 11h0m-11-12h0m-6 7h0m-3-3h0m-14 3h0m-11-6h0m-8 8h0m54 13h0m10 2h0m2-3h0m5-5h0m0 15h0m5 1h0m4-1h0m3 0h0m19-6h0m1 13h0m0-3h0m-23 18h0m7 17h0m2-11h0m11-4h0m-13 77h0m-12 6h0m10 9h0m3-2h0m19 19h0m-9-3h0m-10-6h0m-5 15h0m-11-1h0m-6 20h0m4-12h0m7-1h0m2 17h0m13-12h0m0 2h0m1 3h0m13-1h0m20 23h0m-10-4h0m-14-2h0m-8 11h0m-3-4h0m-2-1h0m-10-7h0m-2 8h0m-13 3h0m-5-10h0m-7-8h0m-7 4h0m-10 33h0m1-11h0m11 12h0m11-10h0m13 0h0m0 7h0m4-12h0m0 7h0m4 7h0m7-13h0m0 9h0m5 5h0m10-8h0m9 2h0m9-7h0m-17 18h0m-18 5h0m-1-4h0m-1 13h0m-2 1h0m-18-12h0m-1 9h0m-6-4h0m-3-10h0m-15-1h0m-6 8h0m-1-8h0m-6 17h0m-6 1h0m-1-6h0m5 11h0m42 5h0m-14 13h0m-8 6h0m-9-2h0" stroke="#FBB817" stroke-width="6.8" stroke-linecap="round" fill="none"/>
<path transform="scale(.5)" d="M660 777h0m12 16h0m-6-9h0m-1 8h0m-1 3h0m-1 3h0m-3-3h0m-1-4h0m0-7h0m-3 11h0m-9 4h0m-5-10h0m-80 29h0m5-3h0m30 4h0m3-11h0m3-6h0m2 10h0m2-1h0m1-4h0m0 7h0m1 4h0m1 0h0m3-14h0m0 7h0m1 6h0m1-16h0m3 6h0m0 2h0m0 6h0m2-15h0m2 14h0m2 5h0m2-7h0m6-6h0m0 2h0m0 9h0m1-2h0m6-1h0m2-2h0m12-12h0m0 10h0m1-9h0m11-1h0m-44 24h0m-4-2h0m-2 11h0m0-4h0m-7 10h0m0-11h0m-3-8h0m-3 9h0m-2-4h0m0-2h0m-1 15h0m0-11h0m-1-3h0m-2-1h0m-2 5h0m-3 7h0m-1-13h0m-1 17h0m0-2h0m-1-12h0m-1 11h0m-2-12h0m-1 13h0m-1 0h0m0-6h0m0-1h0m-3 7h0m-2-9h0m-3 4h0m0-8h0m-1 1h0m0-3h0m-2 13h0m0-7h0m-1 10h0m0-5h0m-1 2h0m0-8h0m-2 6h0m-1 4h0m-1-13h0m-2 3h0m-2 7h0m-1-3h0m-1-10h0m-2 10h0m-2-11h0m-3 18h0m0-3h0m0-2h0m-5-1h0m-1 6h0m-1-16h0m-1 13h0m-2 0h0m-1-1h0m-1-2h0m-3-1h0m-11 1h0m-20 20h0m4 4h0m5-3h0m2 1h0m3-11h0m1 5h0m0 3h0m2-5h0m1-2h0m1 7h0m0 6h0m4 0h0m2-17h0m0 1h0m0 8h0m2-1h0m0 9h0m1-1h0m2 0h0m2 3h0m4-17h0m1 8h0m1 4h0m1-13h0m3 11h0m2 6h0m1-12h0m0 10h0m1-11h0m2-3h0m0 15h0m1-1h0m1-15h0m0 1h0m3 0h0m0 8h0m0 2h0m1 7h0m1-9h0m0 8h0m2-13h0m0 9h0m0 1h0m1-7h0m1-5h0m2 9h0m2 1h0m2-12h0m0 7h0m2-5h0m0 4h0m1-2h0m0 14h0m1-14h0m0 1h0m0 3h0m4-8h0m1-1h0m6 0h0m0 6h0m1 7h0m19-7h0m-27 14h0m-7 11h0m-2-4h0m-6 4h0m-4-5h0m-2-2h0m-2-2h0m0-2h0m-1 0h0m-1 14h0m-1-9h0m0-4h0m-1-1h0m-1 12h0m-2 7h0m-1-7h0m0-8h0m-1 0h0m-1 4h0m-1-8h0m-1 2h0m-1 3h0m-2 14h0m0-12h0m-1 0h0m-1 8h0m0-4h0m-3 0h0m-2 8h0m0-5h0m-1 3h0m-1-7h0m0-6h0m-1 0h0m0-1h0m-2 16h0m0-14h0m-1 8h0m0-6h0m-2 12h0m0-5h0m0-3h0m-1-8h0m-1 16h0m0-13h0m0-1h0m-1 14h0m-1 0h0m-1-5h0m0-12h0m-1 6h0m0-1h0m-2-6h0m-1 13h0m-1-3h0m-1 8h0m-2-5h0m0-10h0m-1 2h0m-5-3h0m-3 11h0m-1 1h0m-1 3h0m-2-4h0m-2-1h0m-7 2h0m-1 12h0m5-5h0m4 0h0m0 5h0m1 3h0m0 4h0m1-13h0m0 1h0m10-2h0m7 1h0m4 9h0m5-2h0m6-7h0m3-1h0m2 11h0m2-11h0m1 10h0m1-7h0m0 6h0m1-6h0m1-2h0m3 9h0m0 5h0m10-10h0m1 4h0m1-6h0" stroke="#FBB817" stroke-width="6.8" stroke-linecap="round" fill="none"/>
<path transform="scale(.5)" d="M665 783h0m-20 26h0m-9-5h0m-14 15h0m-12-4h0m-19 0h0m-41 17h0m3-9h0m12 15h0m21 9h0m-5-4h0m-28-1h0m-3 8h0m-13-6h0m-1 6h0m-3-4h0m-8 5h0m-8 21h0m1 5h0m22-7h0m15-9h0m7 26h0m-14 3h0m-12-5h0m-6-5h0m-5 6h0" stroke="#F58220" stroke-width="6.8" stroke-linecap="round" fill="none"/>
<path transform="scale(.5)" d="M564 679h0m5-1h0m1-2h0m13 0h0m24-1h0m0 4h0m4 0h0m41 0h0m2-1h0m3 0h0m3 21h0m-8-6h0m0-6h0m0-2h0m-1 4h0m0-8h0m-3 17h0m0-1h0m0-6h0m0-10h0m-4 3h0m-1 12h0m-1 1h0m-2-9h0m-3 10h0m-1-13h0m-2 10h0m-2 4h0m-1-16h0m0-1h0m-1 10h0m-1 4h0m0-5h0m-1 3h0m-3-6h0m-1 10h0m-1-10h0m-1 9h0m-2-16h0m-1 12h0m-3-6h0m-3 2h0m-1 6h0m-1 0h0m0-9h0m-2 5h0m0-3h0m-3-5h0m-5 15h0m-4-6h0m-3 0h0m-2 6h0m-1-7h0m0-10h0m-3 16h0m-1-9h0m-1 9h0m0-6h0m0-3h0m-2-2h0m-1-2h0m-3 12h0m-2-14h0m-1 16h0m-1-8h0m-2-5h0m-2 7h0m-2-11h0m-4 17h0m0-4h0m0-3h0m0-2h0m-5 0h0m-5 15h0m14 12h0m1-11h0m3 0h0m2-3h0m2 15h0m1 2h0m6-17h0m0 9h0m0 1h0m3-6h0m3-5h0m0 3h0m4 5h0m1 6h0m2-3h0m2-9h0m1 6h0m0 7h0m1-6h0m6 9h0m1-16h0m2 9h0m2-8h0m1 4h0m1-8h0m3 15h0m2-2h0m2-1h0m4-9h0m2-3h0m1 15h0m3-4h0m0 1h0m1 2h0m1-6h0m0 7h0m1-13h0m0 14h0m1-4h0m3-9h0m0 5h0m2-1h0m0 3h0m2-8h0m0 3h0m2 10h0m2-3h0m4-6h0m1 6h0m0 2h0m0 4h0m3-13h0m8-5h0m3 21h0m-8 3h0m-3 8h0m-2 6h0m0-1h0m-1-1h0m-1 1h0m0-2h0m0-4h0m-3-5h0m-1-4h0m-1 12h0m0-12h0m-1 5h0m-3 3h0m-1-1h0m0-5h0m-2 4h0m-1 1h0m-4 8h0m-1-17h0m-1 6h0m0-5h0m-6 4h0m-2 6h0m-3 1h0m-1-8h0m-2 7h0m0-10h0m-1 5h0m-4 13h0m-1-6h0m-4-4h0m0-9h0m-2 18h0m-2-3h0m-2 1h0m-1 2h0m0-6h0m0-8h0m-1 4h0m-6 11h0m0-15h0m-5 11h0m-1-1h0m0-5h0m0-4h0m-2 10h0m0-3h0m-4-7h0m0-4h0m-3 12h0m0-5h0m-1 1h0m-5-3h0m-1 1h0m0-5h0m13 20h0m8-1h0m2 1h0m1 8h0m5 0h0m0 4h0m3-12h0m0 8h0m1-1h0m1-7h0m0 6h0m0 8h0m1-16h0m0 1h0m1 5h0m0 12h0m3-10h0m0 10h0m1-2h0m1-4h0m0 6h0m3 1h0m2-17h0m0 15h0m2-10h0m4-3h0m3-2h0m2 17h0m2-10h0m1-2h0m3-3h0m3 15h0m4-9h0m0 2h0m1-11h0m2 7h0m1 3h0m0 5h0m1-8h0m5-8h0m0 18h0m2-4h0m3 0h0m3 14h0m-5-2h0m0-5h0m-3 11h0m0-11h0m-6 4h0m-2 5h0m-1 1h0m-3 4h0m0-3h0m0-1h0m-1 1h0m-3-1h0m-3 7h0m-3-8h0m0-3h0m-2 7h0m0-9h0m-1 12h0m-3-1h0m-1-8h0m-1 9h0m-1 1h0m0-3h0m0-4h0m-1 5h0m-2-7h0m0-1h0m-4 9h0m-2-10h0m-1-5h0m-2 15h0m0-10h0m-1 6h0m-1-3h0m-7-8h0m9 28h0m4 5h0m6-9h0m2 13h0m1-10h0m0 1h0m2 3h0m1-2h0m1-5h0m3 3h0m2-4h0m2-5h0m0 5h0m0 7h0m1 5h0m0 1h0m5-10h0m2-3h0m0 3h0m1 2h0m0 3h0m4-9h0m0 2h0m2-2h0m9-4h0m-21 22h0m-5 2h0" stroke="#EC5424" stroke-width="6.8" stroke-linecap="round" fill="none"/>
<path transform="scale(.5)" d="M570 675h0m4 4h0m10-1h0m22 0h0m52 7h0m-2-5h0m-2 7h0m-7 0h0m-24 11h0m-1-15h0m-1 2h0m-1-5h0m-7 9h0m-7 4h0m-15-1h0m-4 4h0m-17 9h0m3-5h0m0 1h0m0 1h0m9 11h0m1 5h0m5-11h0m7-7h0m7 2h0m4 0h0m23 13h0m5-12h0m1 0h0m4 13h0m10-10h0m4 11h0m-9 8h0m-7 8h0m-17-11h0m-13 22h0m5 0h0m1 9h0m10-3h0m10 1h0m10 0h0m2 1h0m3 1h0m12 15h0m-5 10h0m-3-8h0m-7 3h0m-23-3h0m-5 16h0m10-2h0m8 9h0m10-7h0m5 6h0m3-2h0m-21 17h0m-2-3h0" stroke="#F58220" stroke-width="6.8" stroke-linecap="round" fill="none"/>
<path transform="scale(.5)" d="M608 678h0m52 8h0m-14 12h0m-7-6h0m-23 1h0m-32-1h0m-21-1h0m9 20h0m24 7h0m4-17h0m5-1h0m2 14h0m7-7h0m5 5h0m5-6h0m1 11h0m14-1h0m15-10h0m8 28h0m-13-3h0m-13 3h0m-21-1h0m0-13h0m-9 13h0m-1-7h0m-2-5h0m37 22h0m1 3h0m3-6h0m4 25h0m-16 9h0m-4 21h0m8-6h0" stroke="#FBB817" stroke-width="6.8" stroke-linecap="round" fill="none"/>
<path transform="scale(.5)" d="M566 675h0m52 2h0m11 2h0m36-2h0m-22 8h0m-10 7h0m-10-7h0m-7 5h0m-3 8h0m-4-6h0m-3-5h0m-1 11h0m-7-2h0m-10-1h0m-4-14h0m-2 7h0m-22-5h0m5 28h0m31 4h0m15 3h0m3-9h0m2 0h0m6-6h0m16 11h0m1-13h0m11 0h0m23 12h0m-11 8h0m-5 17h0m-10-6h0m0-10h0m-1 3h0m-13 9h0m-11-14h0m-2 0h0m-6 8h0m-5 2h0m-4 9h0m-12-3h0m-7-4h0m-3-10h0m-1 10h0m-23-8h0m19 27h0m5 8h0m12-4h0m39-10h0m3-2h0m40 14h0m-11 16h0m-6 3h0m-1-9h0m-3-1h0m-4 12h0m0-1h0m-5-14h0m-20 10h0m-6-3h0m0-3h0m-5-3h0m-4 6h0m-11 9h0m-5-17h0m8 34h0m5-9h0m10 2h0m4-2h0m19 6h0m5 4h0m4 2h0m23-12h0m19 21h0m-2 0h0m-4-2h0m-31-4h0m-2 6h0m-4 1h0m-27-2h0m-9 12h0m-12-15h0m16 20h0m33-2h0m0 17h0m9-17h0m7 11h0m3-13h0m9 4h0m0 24h0m-46-8h0m-3 4h0" stroke="#EC5424" stroke-width="6.8" stroke-linecap="round" fill="none"/>
<path transform="scale(.5)" d="M893 778h0m10 1h0m19 20h0m-5-2h0m-1 0h0m-9-8h0m0-2h0m0-7h0m-3 14h0m-2-8h0m-3 8h0m-1-4h0m-2 5h0m-8-7h0m3 15h0m4 2h0m0 14h0m6-12h0m0 5h0m3-10h0m1 15h0m0 2h0m3-13h0m2 1h0m1 2h0m1 6h0m3-12h0m1 16h0m2-16h0m2 7h0m5-1h0m2-7h0m3 16h0m1-1h0m8 20h0m-3-4h0m-3-1h0m-1 7h0m0-11h0m-1 5h0m-1 4h0m0-2h0m-1-10h0m-1 1h0m-1-2h0m-1 14h0m0-1h0m0-7h0m-2 4h0m-2-2h0m-1 4h0m0-14h0m-3 1h0m-2 12h0m0-5h0m-1-10h0m-2 15h0m0-6h0m-3 7h0m0-10h0m0-3h0m0-2h0m-1 8h0m0-6h0m-1 12h0m0-8h0m-1-4h0m-2 12h0m0-12h0m-1-2h0m0 36h0m2 0h0m3-9h0m2-6h0m1-1h0m0 18h0m3-5h0m1-10h0m1 8h0m4-11h0m0 7h0m1 10h0m2-10h0m0 4h0m2-5h0m0 3h0m2-4h0m0 8h0m1-3h0m0 2h0m0 6h0m1-16h0m1 12h0m1-15h0m1 15h0m1-9h0m1 12h0m1-6h0m2-7h0m0 5h0m0 7h0m1-6h0m0 5h0m0 2h0m2-1h0m1-5h0m4-6h0m-1 31h0m0-11h0m-2-2h0m-3 8h0m-1 3h0m-3-7h0m-1-1h0m-2 7h0m-1-4h0m-2 7h0m-1-7h0m-1 6h0m-2-10h0m-1 2h0m0-1h0m-1 11h0m-1-8h0m-1 7h0m-1-4h0m-1 5h0m0-4h0m0-8h0m-2 11h0m0-4h0m-1 2h0m0-6h0m-4 5h0m0-1h0m0-2h0m0-9h0m-1 2h0m-1-3h0m-1 9h0m0-2h0m-1-5h0m-1 13h0m0-7h0m-1 6h0m-1 0h0m-1 0h0m0-12h0m0-2h0m-1 25h0m1 13h0m1-1h0m1-17h0m1 3h0m0 5h0m2 10h0m1-19h0m0 19h0m1-3h0m1-12h0m1 7h0m2-9h0m1 15h0m2-13h0m2 15h0m1-16h0m1 13h0m0 2h0m2-16h0m1-2h0m0 6h0m2 2h0m0 4h0m1 0h0m3-10h0m0 2h0m1 5h0m0 8h0m1-6h0m1-1h0m0 6h0m1-1h0m2-6h0m0 8h0m1-6h0m0 1h0m0 5h0m1-16h0m0 9h0m1 3h0m4 3h0m0 1h0m4-5h0m6 25h0m-2 0h0m-2-4h0m-1 3h0m-1-1h0m-1-2h0m0-5h0m0-3h0m-1 13h0m0-6h0m-1 7h0m-1-6h0m-1-1h0m0-10h0m-1 14h0m0-5h0m0-3h0m0-8h0m-1 19h0m-3-3h0m0-5h0m-1 3h0m0-7h0m-1 8h0m0-3h0m-1 0h0m-1 1h0m-1 2h0m0-1h0m-1 0h0m0-14h0m-1 14h0m-1-7h0m-1 10h0m-1-10h0m-1 8h0m0-1h0m-1-14h0m-2 16h0m-1-1h0m0-5h0m-1-4h0m0-6h0m-2 9h0m-1 0h0m-1 1h0m-2-1h0m-1 7h0m-1 2h0m-1-6h0m-1-11h0m-2 4h0m-2 2h0m0-6h0m-2 17h0m-1-3h0m0-1h0m-1-7h0m-2-4h0m3 17h0m0 1h0m2 9h0m0 1h0m0 1h0m1-4h0m0 2h0m1-7h0m0 8h0m1-9h0m0 1h0m0 1h0m1 8h0m1-5h0m1-4h0m0 14h0m1-3h0m2-13h0m0 5h0m0 7h0m1-12h0m0 10h0m1 8h0m2-12h0m0 6h0m1-2h0m1 8h0m1-4h0m0 4h0m2-10h0m0 4h0m0 6h0m2-1h0m3-5h0m3-12h0m0 3h0m0 7h0m1-8h0m0 4h0m1-4h0m0 5h0m0 5h0m1-12h0m0 1h0m1 7h0m0 1h0m1-2h0m4-4h0m0 9h0m0 3h0m0 1h0m2-10h0m1-6h0m0 4h0m0 14h0m1-11h0m0 2h0m0 1h0m1-11h0m1 4h0m0 7h0m1-4h0m0 2h0m1 10h0m1-13h0m3-5h0m0 5h0m0 1h0m1-4h0m0 1h0m2 3h0m0 10h0m4 0h0m4-5h0m1 1h0m67 6h0m2-1h0m8-1h0m8-1h0m8-1h0m5 4h0m1-5h0m12 4h0m6-1h0m15-2h0m7-6h0m0 5h0m3-3h0m0 5h0m3-9h0m1-1h0m0 2h0m1 9h0m1 2h0m2-5h0m2-3h0m0 2h0m1 3h0m2-5h0m-7 10h0m-1 4h0m-5 13h0m-5 1h0m-1-1h0m0-2h0m0-10h0m0-5h0m-1 10h0m-2 5h0m0-5h0m-1 2h0m-1 0h0m0-11h0m-2 17h0m-1 0h0m-1-6h0m0-2h0m0-6h0m-1 0h0m0-4h0m-2 16h0m-3-12h0m-1 8h0m0-6h0m-1 9h0m-1-13h0m-1 13h0m0-1h0m-1-3h0m-1-3h0m-1 5h0m0-7h0m-1 4h0m0-1h0m0-1h0m-2-8h0m-1 8h0m-1-1h0m0-6h0m-1 10h0m-3-1h0m0-9h0m-3 9h0m-2-7h0m-2 8h0m0-10h0m-2 9h0m0-3h0m0-4h0m-1 14h0m-3-9h0m-2-8h0m-3 8h0m0-2h0m-2 12h0m-1-14h0m0-3h0m-1 8h0m-2 5h0m-2-11h0m-1 15h0m0-6h0m-1-2h0m0-9h0m-1 11h0m0-3h0m0-10h0m-1 6h0m-1 11h0m0-1h0m0-9h0m-2 10h0m0-13h0m0-4h0m-2 15h0m0-5h0m-1 6h0m0-9h0m-1 10h0m0-1h0m0-13h0m0-2h0m-4 5h0m-1 10h0m0-7h0m0-6h0m-1 3h0m-2 11h0m0-2h0m-1-3h0m0-6h0m-1 13h0m0-11h0m-2-2h0m-2 6h0m-1-2h0m0-4h0m-3 12h0m-2-14h0m-1 5h0m-5 9h0m0-14h0m-1 14h0m0-6h0m-1 4h0m-6 0h0m0-4h0m-1 6h0m-2-8h0m-2 8h0m-1-2h0m0-2h0m-1 0h0m0-3h0m-5 4h0m-2 0h0m0-7h0m-1 11h0m0-4h0m0-3h0m0-8h0m-1 7h0m-1 7h0m0-5h0m-1 5h0m-1-4h0m-4-1h0m0-6h0m-1 3h0m-2 9h0m-7-12h0m0-5h0m-1 16h0m0-6h0m-1 5h0m0-8h0m-3-8h0m-1 18h0m0-15h0m-1 2h0m-2 8h0m0-12h0m-1 14h0m0-13h0m-1 5h0m-1-8h0m-1 10h0m0-5h0m-1 9h0m-1 5h0m-1-1h0m-1-5h0m0-2h0m-1 8h0m0-15h0m-1 10h0m0-4h0m-1 0h0m0-7h0m-2-2h0m-3 10h0m-1-9h0m-2 6h0m-1-5h0m-1-3h0m-2 11h0m-1-8h0m-2 14h0m-2-5h0m-1-6h0m0-1h0m0-4h0m-3 18h0m0-11h0m-2 9h0m0-1h0m0-1h0m0-13h0m-1 15h0m-1-2h0m0-10h0m-4-2h0m-1 0h0m-1 3h0m0-1h0m-1-1h0m-4 15h0m0-15h0m-1 15h0m-1-6h0m-2 6h0m0-5h0m-2-1h0m-1 2h0m0-2h0m0-12h0m-1 13h0m0-11h0m-1-3h0m-1 10h0m-1 9h0m-5-7h0m0-2h0m-12 29h0m7-1h0m2-14h0m1 7h0m0 8h0m2-16h0m1 16h0m2-9h0m0 1h0m1-3h0m0 9h0m1-2h0m1 1h0m0 3h0m1-17h0m1 0h0m1 8h0m2-2h0m0 2h0m1-2h0m0 7h0m5-14h0m1-1h0m1 0h0m1 2h0m0 4h0m0 1h0m0 1h0m1-2h0m0 8h0m2-5h0m0 2h0m0 3h0m0 4h0m1-7h0m1-8h0m1 9h0m1-6h0m0 2h0m1-7h0m0 17h0m1-10h0m1-7h0m2-1h0m1 7h0m0 3h0m0 6h0m1-3h0m1-13h0m0 15h0m2-9h0m2 3h0m1-4h0m1-2h0m2-2h0m2 8h0m2 1h0m0 2h0m1-12h0m1 0h0m0 1h0m0 11h0m1-7h0m1-1h0m0 2h0m1-3h0m0 2h0m0 4h0m2 7h0m0 1h0m1-15h0m0 3h0m1 11h0m3-9h0m0 4h0m0 4h0m0 2h0m1-3h0m2-13h0m0 11h0m0 3h0m2-14h0m0 2h0m0 4h0m1-3h0m1 5h0m1 9h0m1-16h0m0 13h0m7 3h0m3-15h0m0 1h0m0 6h0m2-2h0m0 4h0m0 4h0m2-13h0m0 11h0m1 5h0m1-12h0m2-1h0m0 2h0m0 4h0m1-11h0m0 2h0m0 5h0m3-5h0m0 16h0m1-2h0m1-5h0m3-8h0m0 15h0m1-10h0m0 8h0m0 2h0m2-18h0m0 8h0m0 4h0m3-13h0m0 1h0m0 4h0m3-1h0m0 3h0m0 4h0m0 5h0m1-9h0m1-3h0m0 14h0m1-8h0m0 1h0m1 2h0m0 1h0m0 4h0m2-18h0m0 6h0m1-1h0m0 8h0m0 4h0m1-10h0m0 1h0m1 5h0m1-13h0m1 0h0m0 8h0m1-1h0m2 9h0m1-14h0m2 11h0m0 5h0m1-12h0m0 6h0m1-8h0m1 5h0m1-5h0m1-1h0m0 8h0m1 3h0m3 5h0m4-5h0m1 1h0m2-13h0m2 9h0m0 8h0m1-6h0m1-8h0m0 2h0m0 12h0m1-9h0m0 9h0m1-13h0m1-2h0m2-2h0m0 17h0m1-8h0m1-7h0m0 11h0m1-12h0m1-2h0m2 8h0m0 4h0m1-3h0m1 0h0m0 9h0m1-5h0m0 5h0m1-3h0m2-15h0m0 18h0m2-13h0m0 4h0m1 2h0m1-8h0m1 3h0m0 3h0m0 4h0m0 1h0m2-15h0m0 8h0m0 2h0m1 3h0m0 2h0m1 1h0m1-15h0m0 11h0m1 4h0m1-15h0m0 2h0m0 3h0m0 1h0m0 6h0m0 1h0m1-3h0m0 3h0m0 4h0m4-4h0m1-12h0m1 1h0m1-3h0m1 15h0m1-11h0m0 1h0m2 12h0m1-16h0m0 16h0m1-12h0m0 5h0m1-9h0m1 9h0m2 5h0m1-8h0m0 7h0m2-10h0m1-2h0m0 11h0m1-1h0m0 4h0m1-16h0m0 7h0m0 5h0m1-4h0m0 9h0m2-13h0m0 12h0m1-11h0m0 11h0m2-16h0m0 17h0m3-17h0m1 6h0m1 6h0m1-10h0m2 1h0m-11 21h0m-2-4h0m-2 12h0m-1 5h0m0-17h0m-1 18h0m0-15h0m-1 12h0m-1-3h0m0-8h0m-1 15h0m-2-5h0m-1 1h0m0-6h0m-1-7h0m-2 8h0m-1 0h0m-2-10h0m-1 13h0m-1 4h0m0-5h0m0-10h0m-1 13h0m-3 1h0m-3-13h0m-1 1h0m-1 15h0m0-1h0m0-6h0m-1 5h0m0-6h0m0-11h0m-2 5h0m0-3h0m-1 10h0m-1-4h0m-1 11h0m0-8h0m-1-3h0m-1-6h0m-3 14h0m0-1h0m-3-6h0m-1 1h0m0-10h0m-1 2h0m-1 15h0m0-2h0m0-3h0m-2-6h0m-7 12h0m-1-3h0m0-5h0m0-2h0m-1 9h0m-1 2h0m-1-11h0m-1 10h0m0-7h0m0-3h0m-2 9h0m-1-3h0m0-7h0m-1 7h0m-1-6h0m-1 3h0m0-9h0m-1 16h0m0-10h0m-1 9h0m-2 1h0m-1-8h0m0-3h0m0-4h0m0-3h0m-1 13h0m-2-1h0m0-1h0m-3 7h0m-2-15h0m-1 10h0m-1-8h0m0-5h0m-1 8h0m0-8h0m-2 19h0m0-18h0m-2 6h0m-1 2h0m0-5h0m0-2h0m-4 15h0m-1-1h0m0-2h0m0-1h0m-1-13h0m-1 2h0m-1 4h0m-3 13h0m0-4h0m0-12h0m-2 10h0m0-6h0m-2 2h0m-1 8h0m-1-2h0m-1-8h0m-1 10h0m-1-13h0m0-1h0m-1 9h0m0-5h0m-1-3h0m-2 10h0m0-12h0m-1 1h0m0-1h0m0-2h0m-1 16h0m-2-2h0m0-6h0m-1 3h0m0-10h0m-1 2h0m-1 2h0m-1 11h0m-1 0h0m-1-7h0m-1 7h0m0-8h0m-1 2h0m-1 5h0m0-1h0m0-10h0m-2 15h0m0-5h0m-3-2h0m0-3h0m-1-4h0m0-4h0m-2 16h0m0-5h0m0-8h0m-1 8h0m0-7h0m-1 11h0m0-7h0m0-6h0m-2 15h0m0-17h0m0-1h0m-2 15h0m-1 1h0m-1-1h0m-1-15h0m-3 15h0m0-9h0m-3-6h0m-1 2h0m0-2h0m-1 10h0m-1-4h0m-1 3h0m-1 8h0m0-12h0m-1 9h0m0-14h0m-1 3h0m-1 5h0m-2-7h0m-1 7h0m-1 7h0m0-12h0m-1 10h0m0-9h0m0-1h0m-1 7h0m-1 5h0m-1-7h0m-1-7h0m-1 8h0m-1 9h0m0-9h0m0-4h0m-2-3h0m0-2h0m-1 5h0m-1 9h0m0-7h0m-1 7h0m-1-5h0m0-9h0m-3 16h0m0-3h0m0-9h0m-1 11h0m0-6h0m-2-1h0m0-1h0m-2 7h0m-1 0h0m0-8h0m-1 13h0m-1-1h0m0-1h0m0-11h0m-1 1h0m0-5h0m-2 2h0m-1-3h0m-5 3h0m-1 2h0m-1 11h0m0-14h0m-1 15h0m0-7h0m0-4h0m-1-6h0m-2 13h0m-2 1h0m0-3h0m-1 2h0m-2-10h0m-1 9h0m0-8h0m0-2h0m-2 16h0m0-6h0m-1 5h0m-2-1h0m-5 13h0m0 1h0m1-8h0m1 4h0m2 6h0m1 0h0m0 6h0m1-17h0m0 6h0m1-6h0m1 5h0m0 1h0m0 6h0m1-10h0m1 7h0m3-10h0m1 3h0m0 2h0m1 2h0m1 8h0m2-12h0m1 9h0m1-11h0m0 7h0m1 5h0m1-3h0m0 5h0m1 0h0m1-13h0m0 3h0m2 4h0m4-7h0m0 8h0m0 4h0m0 3h0m2-12h0m3-3h0m0 16h0m3-13h0m0 8h0m0 3h0m1-9h0m0 7h0m2 3h0m1-14h0m0 1h0m2 3h0m0 3h0m0 4h0m1-12h0m0 1h0m0 12h0m1-15h0m0 4h0m0 12h0m1-2h0m3-14h0m1 7h0m0 2h0m2-8h0m0 7h0m1-9h0m0 9h0m1 5h0m2-13h0m1 17h0m1 0h0m1-17h0m0 4h0m0 1h0m1-2h0m2 6h0m0 3h0m1-13h0m0 5h0m0 9h0m1-8h0m0 10h0m1-9h0m0 4h0m0 5h0m1-11h0m0 3h0m1-7h0m2 9h0m1 0h0m0 7h0m1-13h0m0 6h0m1 2h0m0 6h0m3-14h0m0 1h0m1 5h0m1 0h0m1-6h0m1 2h0m1 0h0m3 9h0m1-5h0m2-8h0m0 14h0m1-3h0m1-12h0m1 1h0m0 1h0m1 12h0m1-1h0m0 1h0m1-15h0m1 15h0m0 1h0m1-5h0m1-8h0m1 0h0m0 13h0m1-11h0m0 4h0m1-2h0m0 1h0m0 6h0m1-3h0m1 5h0m1-7h0m2-7h0m0 4h0m1-5h0m0 8h0m1-7h0m2 17h0m1-1h0m1-6h0m1-10h0m0 17h0m1-2h0m3 0h0m1-10h0m1 6h0m0 1h0m2-6h0m3 9h0m2-15h0m0 13h0m1-4h0m4 0h0m0 1h0m0 2h0m0 1h0m1-4h0m0 3h0m1-13h0m0 5h0m2 1h0m1-4h0m1-1h0m1 2h0m1 9h0m0 2h0m2-13h0m0 17h0m1-16h0m0 12h0m2-6h0m0 6h0m4-14h0m0 8h0m1-1h0m1-2h0m0 12h0m1-15h0m0 3h0m1 5h0m1-3h0m0 2h0m1-9h0m0 3h0m0 7h0m4 7h0m1-18h0m1 1h0m1 1h0m0 12h0m1-10h0m1 14h0m1-12h0m0 9h0m1-6h0m0 4h0m1-7h0m1 4h0m0 8h0m2-13h0m1 7h0m1-6h0m0 3h0m2 9h0m1-1h0m1-6h0m1-2h0m0 2h0m2 4h0m1-12h0m0 9h0m1 3h0m6-13h0m1 9h0m1-7h0m1 4h0m2-3h0m0 2h0m1-3h0m0 6h0m0 4h0m1 0h0m1-11h0m1-2h0m0 16h0m1-2h0m1-7h0m2-6h0m2 2h0m-8 16h0m-1 0h0m-4 17h0m0-15h0m-1-2h0m-1 19h0m-1-8h0m-1 8h0m-1-8h0m0-6h0m-2-1h0m-1 2h0m-1 6h0m-1 4h0m-1-4h0m-1-10h0m0-2h0m-2 11h0m0-10h0m-2 17h0m0-8h0m-1-10h0m-1 19h0m0-1h0m0-14h0m0-2h0m-1 5h0m-1 10h0m0-7h0m0-9h0m-2 18h0m0-5h0m0-13h0m-1 9h0m0-1h0m0-6h0m-1 13h0m-2 2h0m0-6h0m0-6h0m0-2h0m-2 4h0m-1 8h0m0-11h0m-2 12h0m0-9h0m0-3h0m0-2h0m-1 13h0m0-1h0m0-4h0m-2 2h0m0-11h0m-1 4h0m-1-6h0m-1 19h0m0-8h0m-1-1h0m-2 9h0m0-3h0m-1-11h0m-1-5h0m-2 11h0m-2-6h0m-1 2h0m-1 8h0m0-1h0m0-13h0m0-1h0m-1 3h0m-3 14h0m-1-8h0m0-7h0m-2 12h0m-1-4h0m0-5h0m0-4h0m-1 10h0m-1-4h0m-2-2h0m-1 12h0m0-13h0m-1 1h0m0-5h0m-1 14h0m0-2h0m-1-1h0m-2 5h0m0-12h0m-1 13h0m0-5h0m0-3h0m0-5h0m0-1h0m-2 10h0m0-1h0m0-12h0m-1 9h0m0-6h0m-1 12h0m0-7h0m-2 0h0m0-1h0m-1 11h0m0-9h0m-3 3h0m-1 6h0m0-14h0m0-2h0m-1 8h0m0-7h0m-1 13h0m0-2h0m-1-2h0m-1-7h0m0-3h0m-1 10h0m0-7h0m0-3h0m-1 12h0m0-7h0m-1-6h0m0-1h0m-1 13h0m0-1h0m0-4h0m-2 11h0m0-6h0m0-7h0m-1-6h0m-1 9h0m0-8h0m-1 10h0m0-4h0m-2-2h0m-1 14h0m0-15h0m-1 14h0m0-1h0m0-3h0m-1 5h0m-1-6h0m-3-5h0m-3 1h0m-2 1h0m0-8h0m-2 7h0m-1 0h0m-3 10h0m0-6h0m-1-10h0m-3 6h0m0-6h0m-2 12h0m-1-8h0m-1 1h0m-2 6h0m-1 5h0m0-6h0m0-13h0m-1 9h0m-3 2h0m-3-1h0m0-2h0m-1-4h0m-2 4h0m-1 6h0m0-5h0m0-8h0m-1 0h0m-1 14h0m0-14h0m-1 3h0m-1 1h0m0-3h0m-2-1h0m-1 6h0m0-5h0m-1 3h0m-1-4h0m-2 8h0m-1 5h0m-1 2h0m0-12h0m0-2h0m-1 4h0m-1 13h0m-1 0h0m0-3h0m0-5h0m0-10h0m-1 17h0m0-10h0m-1 2h0m-1 4h0m0-4h0m-1 1h0m0-6h0m-2 2h0m-1-2h0m-1 0h0m-1 7h0m-2 5h0m0-12h0m-1 7h0m0-5h0m-1 5h0m-4 7h0m0-18h0m-1 2h0m-1 6h0m-3 10h0m0-3h0m0-6h0m0-8h0m0-1h0m-1 2h0m-2 7h0m0-10h0m-1 11h0m-1 8h0m0-3h0m-3-16h0m-7 15h0m-3-15h0m7 28h0m0 5h0m3-1h0m1-2h0m1 7h0m1-14h0m0 13h0m1-9h0m5 2h0m0 9h0m2-8h0m1-8h0m0 4h0m2 1h0m1 1h0m0 5h0m1-11h0m0 7h0m1-8h0m0 2h0m1 14h0m2-6h0m0 2h0m2-11h0m0 11h0m1 4h0m1-5h0m0 7h0m2-5h0m1-2h0m1-2h0m0 3h0m0 2h0m2 0h0m1-13h0m0 2h0m4 1h0m1 6h0m0 3h0m1-11h0m0 3h0m0 1h0m2-3h0m1 13h0m1-13h0m0 3h0m1 3h0m2-1h0m1-5h0m0 6h0m0 6h0m2-16h0m0 12h0m0 7h0m1-3h0m0 3h0m1-15h0m1-3h0m0 15h0m1-13h0m0 8h0m0 3h0m0 1h0m2-12h0m0 13h0m3 0h0m1-11h0m2 1h0m0 6h0m0 3h0m0 1h0m1-3h0m1 1h0m2-2h0m2-12h0m0 2h0m0 9h0m1-8h0m0 3h0m0 2h0m1-3h0m1-2h0m1 1h0m1 7h0m3-4h0m1 2h0m0 2h0m0 2h0m2-12h0m2 6h0m0 1h0m0 9h0m1-2h0m0 2h0m1-2h0m3-14h0m1 0h0m0 1h0m2 10h0m1-1h0m3-11h0m0 19h0m3-18h0m1 18h0m1-17h0m1 1h0m1 0h0m0 9h0m0 3h0m1 3h0m2-4h0m2-12h0m1 9h0m1 0h0m1-11h0m1 2h0m0 9h0m1-11h0m0 1h0m0 13h0m0 4h0m2-12h0m2 2h0m1-8h0m0 11h0m0 2h0m1-7h0m3 9h0m1-10h0m0 5h0m1-8h0m2 1h0m1-3h0m2 5h0m1 14h0m1-11h0m0 7h0m1-13h0m2-2h0m3 12h0m0 4h0m0 1h0m2-4h0m1 2h0m1-8h0m2 2h0m0 4h0m0 3h0m1-7h0m1-9h0m0 3h0m0 3h0m0 5h0m0 5h0m1-6h0m3 2h0m0 1h0m1-4h0m3-6h0m1 11h0m1-7h0m0 9h0m2-10h0m0 11h0m2-3h0m1-2h0m5-12h0m1 3h0m0 8h0m0 1h0m0 4h0m2 1h0m2-2h0m1-4h0m1 4h0m2 4h0m1-1h0m1-15h0m1 14h0m2-17h0m0 1h0m0 6h0m0 9h0m1-12h0m0 2h0m1 10h0m5-11h0m2 31h0m-5-2h0m0-3h0m-3 6h0m-2-1h0m0-14h0m-1 12h0m0-1h0m-2-8h0m0-3h0m-2 6h0m-1 10h0m-2-7h0m-1 2h0m-2 4h0m0-3h0m-2-12h0m-1 12h0m-3 1h0m0-5h0m-5 0h0m-1 8h0m-1-3h0m0-15h0m-1 13h0m0-8h0m-1 8h0m0-8h0m-1-5h0m-1 2h0m-2 11h0m-1-10h0m-1 5h0m-1 0h0m-1 5h0m-2-11h0m-1 3h0m-1 2h0m-3 7h0m0-5h0m0-6h0m-1-1h0m-3 12h0m0-9h0m-1 11h0m0-11h0m-1 13h0m-2 1h0m0-3h0m0-15h0m-1 17h0m0-4h0m0-12h0m-1 15h0m0-14h0m-1 6h0m-1 10h0m0-10h0m-1 7h0m0-2h0m0-11h0m-1-3h0m-2 8h0m-1 5h0m-2-4h0m-6 8h0m0-11h0m0-2h0m0-3h0m-1 8h0m-1-4h0m0-1h0m0-3h0m-1 9h0m0-1h0m-3-6h0m-1-3h0m-1 4h0m-1 9h0m0-7h0m0-1h0m0-1h0m0-3h0m-1 5h0m-1 11h0m-1-17h0m-1 13h0m-1-3h0m-1 5h0m0-12h0m-1 16h0m0-9h0m0-5h0m-2 5h0m0-2h0m0-7h0m-1 6h0m-3 12h0m-1-8h0m0-2h0m-2 0h0m-1 6h0m-1-13h0m0-1h0m-2 17h0m0-2h0m0-3h0m-2-7h0m0-5h0m-1 12h0m-1-1h0m0-4h0m-1 3h0m0-6h0m-1 9h0m-1-4h0m-1 7h0m-1-1h0m0-9h0m0-1h0m-1 3h0m-1-7h0m-1 16h0m0-4h0m-1 1h0m0-11h0m-1 13h0m0-4h0m-1 2h0m-1-3h0m-1-5h0m-1 3h0m0-2h0m-4-5h0m0-1h0m-1 6h0m-1 2h0m0-6h0m-1 0h0m-1 2h0m-4 6h0m-1 6h0m0-5h0m0-9h0m-1 4h0m-1 8h0m-1-10h0m0-2h0m-1 3h0m0-4h0m0-3h0m-2 1h0m-2 15h0m-1-16h0m-3 8h0m-1 3h0m-1 4h0m0-9h0m0-6h0m-1 6h0m-2 9h0m0-5h0m0-4h0m-2 9h0m-2 0h0m0-1h0m-1-4h0m-1 1h0m-2 4h0m0-13h0m-2 16h0m-2-9h0m-1-2h0m0-5h0m-1 17h0m0-3h0m0-13h0m-1 10h0m0-9h0m-2 1h0m-1 10h0m0-5h0m-1 5h0m-1 0h0m0-4h0m0-7h0m-1 15h0m0-6h0m-1 1h0m-1-2h0m0-5h0m-1-7h0m-1 16h0m-2 1h0m-1 0h0m0-16h0m-1 3h0m-1 14h0m-1-1h0m0-11h0m-19 30h0m7-1h0m7-8h0m0 9h0m3-9h0m2 9h0m2-15h0m0 16h0m3 0h0m1-16h0m0 2h0m0 1h0m0 15h0m1-6h0m0 4h0m1-13h0m1 2h0m0 1h0m0 9h0m1-8h0m0 8h0m1-14h0m0 5h0m2-1h0m0 3h0m0 4h0m1-4h0m1-5h0m0 13h0m1-16h0m0 1h0m2 6h0m1-6h0m1 0h0m0 2h0m0 14h0m2-10h0m0 3h0m0 6h0m1-7h0m0 1h0m1-5h0m1-1h0m1 4h0m0 3h0m1 2h0m3 3h0m0 2h0m2-2h0m2-4h0m1-13h0m0 19h0m1-6h0m0 6h0m1-5h0m0 5h0m1-11h0m1 5h0m0 2h0m2 3h0m2 0h0m1-17h0m0 12h0m0 2h0m1-11h0m0 12h0m2-13h0m0 16h0m2-15h0m3 14h0m1-13h0m0 12h0m1-4h0m1-7h0m0 2h0m1 5h0m1 4h0m1-11h0m0 1h0m0 4h0m1-11h0m0 1h0m0 2h0m0 3h0m0 5h0m1-3h0m2 3h0m1-2h0m1-9h0m0 10h0m0 6h0m1-8h0m0 2h0m1 0h0m0 2h0m0 3h0m0 2h0m3-13h0m0 10h0m1-10h0m0 10h0m1-6h0m1-6h0m0 4h0m0 2h0m1-5h0m1 7h0m1-2h0m1 6h0m1-4h0m0 1h0m0 7h0m6-2h0m1-4h0m0 1h0m1-10h0m0 11h0m0 1h0m1-14h0m3 2h0m0 1h0m1 1h0m0 6h0m2 7h0m1-11h0m2-7h0m0 10h0m0 4h0m2-9h0m3 2h0m1-7h0m1 9h0m0 4h0m1-1h0m1-7h0m1 2h0m2 6h0m2-13h0m0 13h0m2-11h0m0 5h0m0 12h0m1-16h0m2 14h0m0 1h0m1-9h0m1-1h0m1-8h0m0 19h0m1-16h0m2-3h0m1 11h0m1 4h0m2-7h0m0 9h0m1-14h0m1 3h0m1-6h0m0 1h0m0 9h0m2 1h0m1-11h0m1 3h0m1 1h0m1-2h0m0 5h0m1 1h0m0 10h0m1-18h0m0 2h0m0 10h0m2-7h0m0 9h0m1 2h0m1-14h0m0 13h0m2-5h0m1 9h0m1-18h0m1 12h0m2-12h0m1 7h0m0 3h0m1-2h0m0 2h0m1-11h0m1 12h0m1-9h0m0 6h0m0 10h0m1-4h0m0 1h0m2 3h0m1-1h0m1-12h0m0 6h0m0 3h0m2-4h0m0 4h0m1-14h0m0 7h0m1-8h0m0 6h0m1 12h0m4-17h0m0 15h0m3-5h0m0 3h0m2-4h0m0 8h0m2-14h0m0 10h0m0 1h0m1-7h0m0 9h0m1-11h0m0 8h0m1-6h0m3 2h0m2 1h0m3 8h0m10 19h0m0-2h0m-4 2h0m-2-13h0m-1-4h0m-2 2h0m0-3h0m-1 12h0m0-3h0m0-6h0m-3 4h0m0-7h0m-2 18h0m0-12h0m-2 1h0m-1 12h0m-3-16h0m-2 2h0m-2 11h0m0-5h0m0-5h0m0-1h0m-1-4h0m0-1h0m-1 11h0m-1 8h0m-2-4h0m-2-9h0m-1 4h0m-1 8h0m-2-8h0m0-2h0m0-7h0m0-1h0m-1 18h0m0-2h0m-1 0h0m0-4h0m-1 3h0m0-9h0m-1 7h0m-1-12h0m-1 5h0m0-4h0m-1 15h0m0-1h0m0-2h0m-1-2h0m-1 6h0m0-9h0m0-6h0m-1 7h0m0-4h0m-3-1h0m-1 14h0m0-6h0m-1 5h0m0-2h0m0-12h0m-1 3h0m-1 12h0m0-3h0m-1 1h0m0-2h0m0-4h0m-2-3h0m-1 10h0m0-16h0m-1 8h0m-1 9h0m0-6h0m-2 6h0m0-18h0m-1 1h0m-2 17h0m-1-7h0m0-9h0m-1 13h0m0-3h0m-3 6h0m-1-1h0m-1-10h0m-1 8h0m-2-4h0m-1-6h0m0-6h0m-2 16h0m-1-11h0m-1 13h0m-2-3h0m0-13h0m-1 12h0m-2 3h0m0-4h0m-1 4h0m0-13h0m-2 15h0m0-5h0m0-10h0m-1 10h0m0-8h0m0-2h0m-1 14h0m0-2h0m-1-16h0m-2 5h0m-1 0h0m-2 1h0m-3 0h0m-1 4h0m-2 9h0m0-3h0m0-2h0m0-7h0m-2 8h0m0-13h0m-1 11h0m-4-5h0m-1 5h0m0-4h0m-1 9h0m0-8h0m-1-10h0m-1 16h0m0-1h0m-1-11h0m-2 10h0m0-1h0m0-1h0m0-6h0m-2 9h0m-4-6h0m-1 0h0m-1 6h0m0-9h0m-2 8h0m0-1h0m0-8h0m0-2h0m0-2h0m-1 10h0m0-5h0m-1 13h0m0-4h0m-1 4h0m0-7h0m0-3h0m-1-2h0m-1-4h0m0-1h0m-1 12h0m0-13h0m-1 0h0m-2 8h0m0-9h0m-1 3h0m-1 13h0m0-7h0m-1 4h0m0-3h0m-1 5h0m0-6h0m-1 7h0m0-3h0m-1 4h0m0-2h0m0-7h0m-1 9h0m0-6h0m0-9h0m0-1h0m-2-1h0m-2 14h0m0-5h0m0-7h0m-1 1h0m-1 1h0m0-3h0m-1 0h0m-3 16h0m0-1h0m-1 3h0m0-3h0m-1 3h0m0-17h0m-1 13h0m0-15h0m-1 17h0m-3 1h0m0-10h0m0-1h0m-1-6h0m0-1h0m-2 18h0m0-13h0m0-2h0m-1 4h0m0-1h0m-1 11h0m0-16h0m-4 8h0m0-7h0m-1 17h0m0-1h0m0-17h0m0-1h0m-1 9h0m0-8h0m-1 18h0m-1-7h0m-2-3h0m-1-1h0m0-5h0m0-2h0m-1 12h0m0-2h0m0-8h0m-3 16h0m-1-16h0m-1 15h0m0-7h0m0-8h0m0-2h0m0-1h0m-1 19h0m0-10h0m-1 6h0m0-3h0m0-9h0m0-3h0m-2 16h0m0-8h0m-3 9h0m-1-14h0m-1 16h0m0-8h0m-1 7h0m-1-8h0m-1 4h0m0-8h0m-2 4h0m0-7h0m0-1h0m-1 9h0m0-11h0m-1 3h0m-1 8h0m0-11h0m-1 19h0m0-12h0m0-1h0m-4 10h0m0-1h0m-4 3h0m0-18h0m-1 15h0m0-2h0m-4 2h0m-2 3h0m-1-3h0m-2 1h0m-20 14h0m3 0h0m2 7h0m1-3h0m1 0h0m1 5h0m1-5h0m0 1h0m0 1h0m1-2h0m6-2h0m1-2h0m1-5h0m2-1h0m1 5h0m1-7h0m1 0h0m0 12h0m0 1h0m2-3h0m2-9h0m0 15h0m1-7h0m0 7h0m2-10h0m0 7h0m1-5h0m1-10h0m0 4h0m2 13h0m1-10h0m0 5h0m1-11h0m0 15h0m1-14h0m0 1h0m0 12h0m1-15h0m0 11h0m1-9h0m0 4h0m1-3h0m0 7h0m1-2h0m1-7h0m0 1h0m2 3h0m4 0h0m0 4h0m0 7h0m0 1h0m2-12h0m2-4h0m0 1h0m0 2h0m1-1h0m2 5h0m1-3h0m2-4h0m2 2h0m1 3h0m0 1h0m0 7h0m1-10h0m0 7h0m1 5h0m1 0h0m0 2h0m0 1h0m1-2h0m1-12h0m3-2h0m0 16h0m2 0h0m2-7h0m0 1h0m3-1h0m1-10h0m0 1h0m0 6h0m5-6h0m1 1h0m1-2h0m1 3h0m0 1h0m1-1h0m1 1h0m2 8h0m0 5h0m1-17h0m0 1h0m0 1h0m0 9h0m1 1h0m2-10h0m1 4h0m0 2h0m1 5h0m2-7h0m1 8h0m2-2h0m1-6h0m0 8h0m1-12h0m0 8h0m0 1h0m1-11h0m0 7h0m1-7h0m0 14h0m1-4h0m3 3h0m0 1h0m0 1h0m1 2h0m2-5h0m2-11h0m0 3h0m1 7h0m0 1h0m1 3h0m1-14h0m0 4h0m0 9h0m1-16h0m2 6h0m1-4h0m0 10h0m2-6h0m0 1h0m0 7h0m1-5h0m0 6h0m0 3h0m2-14h0m4 4h0m2-2h0m0 7h0m1-6h0m2 9h0m0 1h0m1-4h0m2-6h0m1-7h0m0 9h0m0 1h0m0 8h0m1-7h0m2-3h0m0 1h0m1-6h0m0 12h0m2-5h0m0 4h0m1-8h0m0 11h0m1-15h0m0 10h0m0 7h0m6-19h0m0 1h0m0 2h0m0 1h0m0 14h0m1-16h0m0 8h0m2-2h0m0 11h0m2-13h0m2 2h0m0 10h0m3-15h0m1 11h0m1 1h0m0 4h0m1-11h0m1-6h0m0 8h0m0 9h0m1-8h0m0 4h0m1-5h0m1 1h0m2-3h0m0 2h0m0 7h0m1-9h0m1-4h0m0 4h0m0 11h0m2-7h0m1-2h0m0 1h0m0 2h0m1-13h0m0 18h0m1-5h0m0 4h0m3-5h0m0 4h0m2 2h0m1-9h0m0 4h0m1 2h0m0 3h0m2-18h0m0 7h0m1-1h0m0 2h0m0 4h0m1-4h0m0 2h0m0 9h0m3-16h0m0 10h0m1 3h0m1-11h0m0 11h0m2 1h0m1-11h0m1 3h0m1 7h0m1-13h0m1-1h0m1 2h0m0 9h0m2-1h0m1-5h0m1-6h0m0 7h0m2-1h0m0 5h0m1 2h0m2 5h0m1-3h0m1-6h0m0 1h0m0 7h0m2-13h0m0 5h0m0 5h0m2-8h0m1-3h0m0 3h0m0 1h0m1 11h0m2-13h0m0 1h0m0 10h0m1-16h0m0 15h0m1-8h0m1-8h0m1 0h0m0 7h0m1-1h0m0 3h0m1-3h0m1-2h0m0 6h0m0 7h0m1-2h0m0 3h0m1-2h0m1-10h0m2-6h0m0 4h0m2 10h0m1-14h0m0 5h0m1 12h0m2-9h0m1 8h0m2 1h0m3 17h0m-2-3h0m0-10h0m-1 0h0m-1 3h0m-2 13h0m-2-12h0m0-1h0m-1 12h0m0-10h0m-1-2h0m-1 5h0m-1 5h0m-1 5h0m0-5h0m0-11h0m-1 2h0m-1 1h0m-2 12h0m0-7h0m0-4h0m0-1h0m-1 12h0m0-2h0m-2-7h0m-3 7h0m-1 0h0m0-2h0m0-3h0m0-7h0m-1-3h0m-4 2h0m-3 5h0m-3 6h0m-1 0h0m-3 3h0m0-1h0m-2 0h0m-1-11h0m-1 6h0m-1-9h0m-2 11h0m0-12h0m-3 8h0m-1 9h0m-1-16h0m-1 17h0m0-5h0m0-2h0m0-2h0m0-3h0m-4 10h0m0-4h0m0-4h0m-2 8h0m0-13h0m-1 15h0m0-8h0m-1-6h0m0-2h0m-4 12h0m0-5h0m-1-10h0m-2 10h0m0-4h0m0-3h0m-1 14h0m0-7h0m-1 5h0m0-13h0m-1 11h0m0-10h0m-1 8h0m-1 1h0m0-5h0m-1 10h0m0-5h0m-2-2h0m-3 7h0m0-16h0m0-1h0m-1 17h0m-1-3h0m-1 5h0m-1-5h0m0-11h0m-2 13h0m-1 0h0m0-3h0m0-3h0m0-9h0m-1 2h0m-2 11h0m0-5h0m-1-7h0m-2 11h0m0-13h0m-2 9h0m-1 10h0m-1-17h0m-3 15h0m-1-9h0m0-5h0m-1 6h0m-1 4h0m0-2h0m0-4h0m-1 4h0m-2-3h0m0-3h0m-3 12h0m0-2h0m0-8h0m-1 12h0m0-4h0m0-9h0m-2 5h0m0-5h0m-1 13h0m0-9h0m0-7h0m-1 15h0m0-4h0m-1 2h0m0-4h0m0-8h0m-1 8h0m-1 1h0m0-13h0m-2 15h0m0-12h0m-1 13h0m0-7h0m-1 6h0m0-8h0m-2 4h0m0-4h0m-1 4h0m-1 4h0m0-3h0m0-7h0m-1 7h0m-1-12h0m-1 9h0m-2-8h0m-1 13h0m-3-7h0m0-5h0m-1-1h0m-2 15h0m-1 2h0m0-4h0m0-3h0m0-8h0m-1 2h0m-1 1h0m-1 9h0m-1 4h0m-1-16h0m-1 15h0m0-18h0m-2 15h0m0-13h0m-3 9h0m-1 5h0m0-7h0m0-2h0m-1 8h0m0-12h0m-1 5h0m-3 3h0m-1 7h0m0-5h0m0-8h0m-1 10h0m-1-14h0m-1 9h0m0-8h0m-1 10h0m-2-2h0m0-10h0m-1 9h0m-3-5h0m0-3h0m-2 8h0m-2 2h0m0-1h0m-1-3h0m-1-6h0m0-1h0m-1 14h0m0-11h0m-1 8h0m0-2h0m0-4h0m-1 11h0m0-8h0m-1-6h0m-1 14h0m-1 2h0m0-16h0m-1 9h0m0-11h0m-1 4h0m-1 8h0m-1 5h0m0-2h0m-1-14h0m-1 12h0m0-13h0m-1 17h0m-2-12h0m-1-1h0m-1 11h0m-5 4h0m-3-9h0m-1-9h0m-2 5h0m-1 11h0m0-2h0m-1-7h0m-2 2h0m0-9h0m-1 12h0m0-2h0m0-11h0m-1 13h0m-1 5h0m0-3h0m0-3h0m0-9h0m-1 0h0m-1 4h0m-1 6h0m-1 3h0m0-2h0m-1-9h0m-2 6h0m-1-10h0m-1 11h0m0-8h0m-2 15h0m-8-1h0m-1-18h0m-1 6h0m-1 6h0m-2 0h0m0-5h0m-1 1h0m-1 0h0m-1-7h0m-2 7h0m0-8h0m-1 7h0m-1 10h0m0-6h0m-1 3h0m0-7h0m-1 0h0m0-4h0m-4 15h0m0-6h0m0-11h0m-2 16h0m0-16h0m-2 14h0m-1 0h0m-6 2h0m2 6h0m4 1h0m3-4h0m3 2h0m1 10h0m1-11h0m0 1h0m0 3h0m1 9h0m2-6h0m0 4h0m1-1h0m0 3h0m1-8h0m1-5h0m0 6h0m0 5h0m0 5h0m1-9h0m0 2h0m1-2h0m1 11h0m1-11h0m0 2h0m1-5h0m2-5h0m1 6h0m1 1h0m0 10h0m0 1h0m1-3h0m2-2h0m0 2h0m0 4h0m3-1h0m2-12h0m0 6h0m0 3h0m1-8h0m1 7h0m3-14h0m0 9h0m2-3h0m0 13h0m3-7h0m0 6h0m1-4h0m1-11h0m1 11h0m3 0h0m1-11h0m1 5h0m0 8h0m1-12h0m0 3h0m1 6h0m1-12h0m0 13h0m1-2h0m1-9h0m0 7h0m0 8h0m1-10h0m0 8h0m2-8h0m1 6h0m0 1h0m1-15h0m0 2h0m0 9h0m0 2h0m1 5h0m1-1h0m0 1h0m2-13h0m0 13h0m1-4h0m0 5h0m1-15h0m1 10h0m1-6h0m2 4h0m1 6h0m2-17h0m0 2h0m1-2h0m0 6h0m0 12h0m1-7h0m0 5h0m1-17h0m0 10h0m1-5h0m0 2h0m0 8h0m1-14h0m2 4h0m1 14h0m1-3h0m0 2h0m1-3h0m1-6h0m0 1h0m1-3h0m0 11h0m0 1h0m4-18h0m1-1h0m0 8h0m1-2h0m1 0h0m0 7h0m2-9h0m2 10h0m1-2h0m1-2h0m0 1h0m1 8h0m1-18h0m0 6h0m1 3h0m2-4h0m0 2h0m0 1h0m0 1h0m0 8h0m1 0h0m1-9h0m2-1h0m3-8h0m0 7h0m2-4h0m0 2h0m2-2h0m0 9h0m1-6h0m2-4h0m0 15h0m1-1h0m0 3h0m1-16h0m0 3h0m3-5h0m0 4h0m3-4h0m0 4h0m0 4h0m2 0h0m0 5h0m1-8h0m0 12h0m1-4h0m3-13h0m0 9h0m0 7h0m1-9h0m0 2h0m0 2h0m4 0h0m0 5h0m1-9h0m0 7h0m1-12h0m0 7h0m2-5h0m2 13h0m1-10h0m0 9h0m2-6h0m2-3h0m2 5h0m3-13h0m0 13h0m0 3h0m2-11h0m1 5h0m1-8h0m0 2h0m1 11h0m1-7h0m0 3h0m1-6h0m0 2h0m1 9h0m1-13h0m1 14h0m1-6h0m0 2h0m0 4h0m1 1h0m3-12h0m1 9h0m1-15h0m2 8h0m2-4h0m0 4h0m1-4h0m0 13h0m2-12h0m1 5h0m1-9h0m0 13h0m0 3h0m1 2h0m2-4h0m1-2h0m0 2h0m1-15h0m1 0h0m0 3h0m0 2h0m1 5h0m0 5h0m0 2h0m1-8h0m0 6h0m1 1h0m1 2h0m1-11h0m0 5h0m0 4h0m1-10h0m0 2h0m0 7h0m1-7h0m1-3h0m0 10h0m3 4h0m1-17h0m0 16h0m2 0h0m1-4h0m0 5h0m3-15h0m0 2h0m3 0h0m1 10h0m1-6h0m1 0h0m0 1h0m1-5h0m1 2h0m0 8h0m0 3h0m2-19h0m0 5h0m1-1h0m0 15h0m2-16h0m0 1h0m0 9h0m1-11h0m0 2h0m0 5h0m1-9h0m1 2h0m0 5h0m2 6h0m1-2h0m1-4h0m1 9h0m1-6h0m0 8h0m1-15h0m0 5h0m0 5h0m1-10h0m0 4h0m1 8h0m1-14h0m0 6h0m0 1h0m1 8h0m0 2h0m1-16h0m2 7h0m1-8h0m0 7h0m0 2h0m0 3h0m1-5h0m1 11h0m1-14h0m0 12h0m2-15h0m3 8h0m12-10h0m0 3h0m-16 20h0m-2 6h0m0-6h0m-2 8h0m0-7h0m0-2h0m-1 3h0m-1-2h0m-3 0h0m-1 7h0m-1 8h0m0-14h0m-1 14h0m0-18h0m-2 0h0m-4 6h0m0-2h0m-1 12h0m-1-8h0m0-2h0m-2 12h0m-2-6h0m0-6h0m0-6h0m-3 19h0m0-11h0m-1 11h0m0-9h0m-2-5h0m0-1h0m-1 5h0m0-9h0m-2 11h0m-4 5h0m-1 0h0m0-12h0m-1 9h0m-4 5h0m0-1h0m0-4h0m0-2h0m0-5h0m-1 2h0m0-5h0m-3 12h0m0-6h0m0-3h0m-2 9h0m0-3h0m-1 1h0m-4-11h0m-2 3h0m-2 13h0m-2 1h0m0-5h0m0-8h0m0-2h0m0-1h0m-3 12h0m0-5h0m-1-4h0m-1 11h0m-3-4h0m0-10h0m-2 5h0m-1 0h0m0-2h0m-2 1h0m-1-3h0m-1 14h0m0-12h0m-1 2h0m-1 4h0m-1-3h0m-1-7h0m-1 1h0m-1 0h0m-1 5h0m0-3h0m-1 6h0m-3 8h0m-2-13h0m0-5h0m-2 18h0m0-5h0m-1 0h0m0-5h0m0-7h0m-2-1h0m-1 17h0m-1-5h0m0-5h0m0-2h0m0-2h0m-1 14h0m0-12h0m0-3h0m-1 10h0m0-7h0m-1 10h0m0-2h0m0-8h0m0-6h0m-1 4h0m-1 5h0m-1 0h0m-3 2h0m0-8h0m0-1h0m-1 12h0m0-2h0m-1-1h0m0-3h0m0-6h0m-1 0h0m-5-2h0m-1 9h0m-1-9h0m-2 3h0m-2 13h0m-1-2h0m-1 2h0m0-10h0m-1 10h0m-2-1h0m0-4h0m0-5h0m-1 3h0m-3 5h0m-1-14h0m-1 14h0m0-9h0m-2 4h0m-1 0h0m0-7h0m-2 6h0m0-1h0m-1 2h0m-2-4h0m-3 0h0m0-4h0m-1 17h0m0-11h0m0-3h0m-3 2h0m-1 7h0m0-12h0m-1 15h0m0-2h0m-1-5h0m-2 3h0m0-8h0m-2 7h0m-2-9h0m-2 11h0m-1-6h0m-1 11h0m0-1h0m-1-5h0m0-3h0m0-3h0m-1 12h0m-1-15h0m-1-3h0m-1 11h0m-1 7h0m-1-8h0m-1 6h0m0-3h0m-2 5h0m-1-5h0m0-7h0m-1 10h0m-1 0h0m0-5h0m0-5h0m-1-1h0m-1 7h0m-2-8h0m-1 11h0m0-5h0m-3-7h0m-2 16h0m0-3h0m0-2h0m0-7h0m-1-3h0m0-3h0m-1 14h0m0-3h0m0-2h0m-3-1h0m-1-3h0m0-5h0m-1 11h0m-3-5h0m0-7h0m-1 4h0m0-3h0m-4 7h0m0-3h0m-1 7h0m-1-1h0m-2 1h0m0-2h0m-1-8h0m-1 16h0m0-3h0m0-2h0m-4-2h0m-1-5h0m-5-4h0m-2 4h0m0-4h0m-1 0h0m-5 0h0m34 21h0m6 7h0m1-10h0m1 1h0m7 2h0m2 12h0m3-12h0m4 3h0m0 2h0m2 3h0m0 3h0m1-5h0m1 8h0m1-12h0m2 4h0m0 2h0m4-2h0m1 8h0m1-12h0m0 9h0m0 5h0m3-15h0m1 2h0m0 1h0m0 8h0m0 1h0m1-15h0m1 15h0m1-7h0m0 6h0m2-9h0m0 5h0m1-9h0m0 5h0m0 3h0m0 8h0m1-12h0m0 9h0m0 4h0m1-6h0m1 3h0m1-9h0m2 3h0m0 2h0m2-10h0m2 1h0m0 5h0m1-8h0m0 5h0m0 4h0m0 4h0m0 3h0m2 1h0m0 1h0m1-16h0m0 4h0m0 9h0m1-14h0m2 1h0m0 5h0m0 7h0m0 4h0m1-18h0m0 3h0m0 13h0m0 2h0m1-4h0m0 4h0m2-1h0m1-4h0m2-12h0m1 3h0m0 5h0m1 4h0m2-7h0m0 1h0m3 0h0m0 7h0m2-14h0m0 5h0m1-3h0m0 4h0m0 1h0m1-5h0m2 9h0m1-10h0m1 6h0m0 6h0m1 3h0m1-13h0m0 3h0m0 9h0m2-13h0m0 4h0m1-1h0m0 3h0m0 7h0m1-13h0m2 6h0m1-8h0m0 11h0m1 3h0m1-1h0m2-5h0m1 11h0m2-5h0m2-14h0m0 10h0m1-9h0m0 9h0m3-10h0m0 5h0m0 7h0m1-11h0m1-1h0m0 1h0m0 2h0m1 6h0m1 4h0m3-12h0m0 3h0m0 3h0m0 2h0m1-5h0m0 14h0m1-1h0m1-14h0m2 12h0m1-15h0m0 2h0m0 2h0m0 14h0m4-17h0m0 16h0m1-15h0m0 10h0m0 2h0m1-7h0m0 3h0m0 4h0m0 2h0m3-11h0m0 14h0m1-19h0m2 2h0m0 10h0m0 3h0m1-6h0m0 1h0m1-4h0m0 7h0m1-4h0m1 2h0m1-1h0m0 6h0m2-12h0m0 7h0m1-11h0m1 5h0m1-4h0m1 5h0m1-2h0m1 11h0m1-10h0m0 6h0m0 3h0m3 4h0m1-3h0m0 2h0m1 2h0m1-12h0m0 1h0m2 9h0m1-4h0m1-9h0m0 4h0m2 8h0m2-16h0m0 14h0m1-12h0m0 6h0m2-6h0m0 4h0m1-4h0m4 6h0m-17 12h0m-2 2h0m-3 1h0m-3 7h0m-1-3h0m-1 7h0m0-10h0m-1 3h0m-2-4h0m-1 0h0m-1-2h0m-2 11h0m-4-5h0m0-3h0m-1 7h0m0-5h0m-2-2h0m-1 3h0m0-6h0m-1 10h0m-1 7h0m0-6h0m-1-1h0m-1-5h0m0-1h0m0-4h0m-1 11h0m0-5h0m-1-3h0m-1 1h0m-1 13h0m0-13h0m-1 14h0m-1-9h0m-1 1h0m-3-8h0m-1 11h0m0-11h0m-1 7h0m-1 1h0m0-4h0m-2 2h0m0-8h0m-2 11h0m-1-11h0m0-1h0m-1 1h0m-1 14h0m0-12h0m-1 13h0m0-4h0m-1-4h0m-1-4h0m-1 5h0m-2-8h0m-3 13h0m0-8h0m-4 7h0m0-9h0m-2-3h0m-1 14h0m0-7h0m-2 5h0m0-6h0m0-3h0m0-4h0m-1 11h0m0-8h0m-1 11h0m0-8h0m-3-4h0m-1 12h0m0-9h0m-1-4h0m-1 4h0m-1-3h0m-2 8h0m-5 7h0m-1-17h0m-1 0h0m-3 9h0m-1-3h0m-2 3h0m0-9h0m-1 5h0m-4-3h0m-4 4h0m-2-4h0m-5 7h0m-3-9h0m53 20h0" stroke="#DBAA68" stroke-width="6.8" stroke-linecap="round" fill="none"/>
<path transform="scale(.5)" d="M785 562h0m5 11h0m0 2h0m2-7h0m2-2h0m1-3h0m1 15h0m1-7h0m0 7h0m2-12h0m0 4h0m3-8h0m3 13h0m2-1h0m2-4h0m17 27h0m0-3h0m-4 0h0m-2-11h0m-1 10h0m0-5h0m-1-6h0m-1 9h0m0-2h0m-2 10h0m0-5h0m0-1h0m-1 3h0m0-9h0m-3 10h0m-1-9h0m-2-3h0m-1 4h0m-1 1h0m-1-10h0m-3 8h0m-4 10h0m-1-12h0m-2 4h0m0-9h0m-1 0h0m-1 2h0m8 18h0m3 3h0m6-1h0m0 3h0m1-4h0m0 3h0m0 6h0m1 8h0m1-9h0m1-4h0m0 1h0m0 12h0m1-11h0m1-3h0m2 3h0m1 2h0m3-4h0m1 13h0m1-6h0m3-2h0m2 2h0m0 3h0m2-11h0m0 13h0m4-1h0m0 1h0m6 1h0m8 15h0m-2 5h0m-3-8h0m0-2h0m0-4h0m-1-1h0m-1 5h0m0-1h0m-2 11h0m-1-8h0m-2-7h0m-1 2h0m-7 0h0m-3-5h0m-5 4h0m13 17h0m5 1h0m2-3h0m1 1h0m0 1h0m1 0h0m1 0h0m0 4h0m0 9h0m1-7h0m1-6h0m0 5h0m2 0h0m0 8h0m0 2h0m2-3h0m0 1h0m1-7h0m1 3h0m1 8h0m1-9h0m1 4h0m5 4h0m1-2h0m7 21h0m-5 1h0m0-14h0m-1-2h0m-3 8h0m-1 1h0m-2 3h0m-3 9h0m10-1h0m3 6h0m1-7h0" stroke="#E0E227" stroke-width="6.8" stroke-linecap="round" fill="none"/>
<path transform="scale(.5)" d="M551 878h0m3-1h0m4-1h0m2-1h0m7 9h0m-5 10h0m-2-2h0m-1-10h0m-1 10h0m0-9h0m-2 1h0m-1 14h0m0-3h0m0-11h0m0-2h0m-1 15h0m0-14h0m0-3h0m-1 2h0m-1 13h0m-1-2h0m-1-3h0m-1-9h0m0 22h0m9 0h0m10-3h0" stroke="#E0E227" stroke-width="6.8" stroke-linecap="round" fill="none"/>
<path transform="scale(.5)" d="M984 795h0m2 2h0m1 2h0m7-5h0m23 19h0m-8 5h0m-5 0h0m0-1h0m0-5h0m-1 2h0m-10-3h0m-3-3h0m-4-1h0m0-2h0m-1 10h0m0-1h0m-1-7h0m-5-6h0m-1 17h0m-10-2h0m0-9h0m-4 12h0m-5-9h0m-11 19h0m2 1h0m1 7h0m1-13h0m5 5h0m1 8h0m1-15h0m3 11h0m3-12h0m0 7h0m0 3h0m2 6h0m2-17h0m0 9h0m0 2h0m5-10h0m1 11h0m1 2h0m0 4h0m2 0h0m1-13h0m1 9h0m1-13h0m0 16h0m2-9h0m1 7h0m0 2h0m0 1h0m2-13h0m0 12h0m0 1h0m2-17h0m0 9h0m3-4h0m2 0h0m2 2h0m4-1h0m1 9h0m1-12h0m1 9h0m2 5h0m3-4h0m1-3h0m0 2h0m0 4h0m2-9h0m3 0h0m0 1h0m1-3h0m1-1h0m0 10h0m2-14h0m1 12h0m3-7h0m1 12h0m1-11h0m2-3h0m1 13h0m3-1h0m4-6h0m0 7h0m0 1h0m3-12h0m37 32h0m-8-14h0m-12 14h0m-4 0h0m-3-3h0m-3-2h0m-1-1h0m0-7h0m-2 9h0m0-7h0m-3 8h0m-2-11h0m0-3h0m-1 3h0m-2 12h0m-1 2h0m0-3h0m-3-11h0m-1 10h0m0-7h0m0-7h0m-4 7h0m-1 10h0m-3-16h0m-1 10h0m0-11h0m-1 17h0m-2-9h0m-7-6h0m-1 17h0m0-1h0m0-7h0m-2 6h0m-5 0h0m-1-6h0m-2 4h0m0-7h0m-2 11h0m-2-8h0m-2-5h0m-3-2h0m0-3h0m-2 14h0m-2 4h0m0-7h0m-8-1h0m0-9h0m-1 5h0m0-3h0m-3 15h0m-2-3h0m-3 0h0m-3-16h0m-1 15h0m-1 4h0m-3-15h0m-3 15h0m0-9h0m-2-10h0m-1 17h0m-1-13h0m-1-1h0m-1 10h0m-1-5h0m-1-4h0m-1 9h0m-1 6h0m-3-6h0m0-6h0m0-5h0m-1 8h0m0-3h0m-6-5h0m5 27h0m5 6h0m4-14h0m0 4h0m2 4h0m3-2h0m0 3h0m13-1h0m2-4h0m1 4h0m0 9h0m2-1h0m1-13h0m2-2h0m0 14h0m1-7h0m2-6h0m2 7h0m0 1h0m0 1h0m3 3h0m1-15h0m0 11h0m2-4h0m3 11h0m1-13h0m1 1h0m3 7h0m0 3h0m2-11h0m0 7h0m1-12h0m0 3h0m1 9h0m0 3h0m1-6h0m3-9h0m3 19h0m5-6h0m1-8h0m0 3h0m3-4h0m6-1h0m0 11h0m2-5h0m2-2h0m1 0h0m1-6h0m0 6h0m1-5h0m0 12h0m1-1h0m7-3h0m1-7h0m0 1h0m2 12h0m1-9h0m0 11h0m3-1h0m2-4h0m1-13h0m3 5h0m2-3h0m1 9h0m1-10h0m4 6h0m1 1h0m1 3h0m0 6h0m1-1h0m2-8h0m2-4h0m4 3h0m-18 22h0m-6-2h0m-8-2h0m0-1h0m0-4h0m-5 17h0m-1-14h0m-1 4h0m-2 5h0m0-4h0m-2 5h0m-3-6h0m-1 12h0m-3-8h0m-2-11h0m-1 19h0m-1-5h0m-2-4h0m0-6h0m-3 15h0m-2 0h0m0-1h0m-2-10h0m-4 9h0m0-8h0m0-3h0m-1 0h0m0-6h0m-2 13h0m0-13h0m-1 15h0m-1-5h0m0-2h0m0-6h0m-1 9h0m-3 5h0m0-5h0m-2 5h0m0-5h0m-1 5h0m0-6h0m-1 4h0m-2-9h0m-2-1h0m-1 3h0m-1 2h0m-1 2h0m-1 6h0m0-9h0m-2 11h0m0-11h0m0-2h0m-1-4h0m-5 3h0m-1 14h0m-1-11h0m-1-2h0m-2-4h0m-1 17h0m-2-6h0m-4-10h0m-2 11h0m0-8h0m-2-6h0m-1 8h0m-2-5h0m0-2h0m-6 13h0m0-2h0m-4-3h0m-1 4h0m8 10h0m7 2h0m0 12h0m4-8h0m2 10h0m1-13h0m1 6h0m2-1h0m0 3h0m2 5h0m6-10h0m1 5h0m4-12h0m0 7h0m3 2h0m2-10h0m0 2h0m0 8h0m2-3h0m2-7h0m2 18h0m1-18h0m0 6h0m1 0h0m3 8h0m2-5h0m1-4h0m0 1h0m1 3h0m3 5h0m1-9h0m1-4h0m0 4h0m1 0h0m0 3h0m0 6h0m2 4h0m1-4h0m2-13h0m0 13h0m1-13h0m0 2h0m1 15h0m2-2h0m4-14h0m1-2h0m3 1h0m6 9h0m8-1h0m-15 11h0m-3 6h0m0-4h0m-1 12h0m-1-10h0m-1 9h0m-5-4h0m-1-4h0m-1 7h0m-2 2h0m-2-12h0m0-3h0m-3 2h0m-6 17h0m-2-10h0m-1 6h0m0-9h0m-1 7h0m-5 6h0m0-14h0m-2-3h0m-1 2h0m-5-3h0m-3 0h0m-6 15h0m-5-7h0m-6-8h0m-4 1h0m49 18h0" stroke="#76808F" stroke-width="6.8" stroke-linecap="round" fill="none"/>
<path transform="scale(.5)" d="M987 797h0m3 20h0m-19 1h0m-44 14h0m40-8h0m25 5h0m6 5h0m28-10h0m18-2h0m36 33h0m-4-12h0m-7 12h0m-8-1h0m-4 5h0m-3-18h0m-48 18h0m-17-17h0m-50 14h0m0-10h0m4 14h0m14 15h0m39 3h0m14-5h0m18-9h0m6 13h0m3-11h0m18 6h0m1 0h0m2 3h0m6-15h0m9 36h0m-13-2h0m-25 2h0m-27-11h0m-7 0h0m-8-4h0m-9 11h0m-51 12h0m5 5h0m8 4h0m2-8h0m2 12h0m18-13h0m31 4h0m19-1h0m8 2h0m21-2h0m27-2h0m-26 25h0m-3 2h0m-7-12h0m-16 10h0m-16 2h0m-3-11h0m-15 9h0m-15 2h0m-20-11h0m-7 17h0m5 10h0m28-1h0m14-5h0" stroke="#76808F" stroke-width="6.8" stroke-linecap="round" fill="none"/>
<path transform="scale(.5)" d="M881 733h0m7-8h0m0 4h0m2 6h0m7 2h0m2-2h0m28 19h0m-11-5h0m0-1h0m-1-5h0m-6 8h0m-9-10h0m26 24h0m11 4h0m5-1h0m31 22h0m-1-6h0m-2 10h0m-4-9h0m-10-1h0m-1 8h0" stroke="#76808F" stroke-width="6.8" stroke-linecap="round" fill="none"/>
<path transform="scale(.5)" d="M1566 754h0m6 1h0m1 1h0m2 1h0m8-2h0m1 0h0m4-3h0m0 6h0m1-2h0m3-4h0m3 0h0m1-7h0m0 8h0m5-3h0m0 2h0m0 6h0m1 1h0m4-1h0m1-5h0m1-4h0m1 9h0m3-3h0m1 0h0m0 3h0m2 1h0m2-1h0m2-1h0m3-4h0m0 3h0m8-2h0m4 4h0m0 1h0m13 14h0m-3 4h0m-1-1h0m-1-9h0m-1 2h0m-1 9h0m0-9h0m-1 3h0m-1-5h0m-3 7h0m-1-8h0m0-3h0m-3 14h0m-2 0h0m0-17h0m-1 5h0m0-1h0m-2 1h0m0-2h0m-1 15h0m-1-2h0m-2-6h0m0-4h0m-1 13h0m0-6h0m-1-3h0m-2-4h0m-2 9h0m0-6h0m-1 3h0m-1-3h0m0-7h0m-1 9h0m0-11h0m-1 1h0m-1 18h0m0-10h0m-3 2h0m0-4h0m-1 6h0m-1 2h0m0-2h0m0-1h0m0-1h0m-1 4h0m0-2h0m0-13h0m-1 14h0m0-5h0m-2 3h0m0-8h0m-2-2h0m-4 11h0m-1-5h0m0-2h0m-1-3h0m-1-2h0m-1 9h0m0-6h0m-2 12h0m-1 0h0m-1-10h0m-1 9h0m0-5h0m-1 8h0m0-3h0m-1-6h0m-1-2h0m0-1h0m-4-2h0m-1 10h0m-1-9h0m-1 0h0m0-2h0m-1 12h0m-1-6h0m0-4h0m-1 0h0m-1 7h0m-1-11h0m-2 4h0m-1 9h0m0-10h0m-3 12h0m-1 3h0m0-4h0m-4-5h0m-1 1h0m-4-9h0m-1 12h0m4 19h0m2-6h0m1 12h0m1-16h0m0 1h0m3 1h0m0 6h0m1-10h0m0 4h0m0 6h0m1 6h0m2-7h0m2-9h0m1 16h0m2-14h0m1 6h0m0 1h0m1-6h0m1 0h0m4 14h0m1-17h0m0 18h0m2-15h0m0 9h0m0 1h0m3-5h0m0 8h0m1-10h0m0 12h0m2-9h0m0 9h0m2-14h0m0 12h0m1-17h0m0 4h0m0 9h0m1 4h0m1-13h0m0 7h0m5 8h0m1-18h0m1 7h0m1-1h0m0 10h0m1-9h0m1 9h0m3-14h0m0 13h0m2-3h0m0 6h0m1-8h0m0 8h0m2-13h0m2-1h0m1 12h0m3-4h0m0 1h0m2-5h0m1-3h0m1 7h0m0 4h0m0 1h0m1-2h0m2-14h0m1 1h0m3-1h0m0 3h0m2-1h0m0 5h0m4 6h0m0 2h0m1-16h0m0 11h0m1-6h0m0 11h0m2-4h0m0 6h0m2-9h0m1-1h0m0 2h0m1-8h0m0 1h0m0 2h0m2-4h0m0 3h0m0 6h0m3-6h0m1 5h0m1 5h0m1-1h0m5-10h0m-8 24h0m-6 7h0m0-1h0m-1-14h0m-1 11h0m0-3h0m-2 8h0m-1 0h0m-2-1h0m0-13h0m-1 1h0m-1 9h0m0-3h0m0-8h0m-1 7h0m-2 8h0m-4-7h0m-1-1h0m0-1h0m-1-5h0m-1-1h0m-2 13h0m0-5h0m0-4h0m-1-2h0m-1 0h0m-1 15h0m-1-1h0m-1-16h0m-1 7h0m0-5h0m-2 16h0m-1-11h0m-1 5h0m-1-12h0m-2 18h0m0-4h0m-1 2h0m-1-10h0m-1 12h0m0-1h0m-1-6h0m-1-1h0m0-8h0m-2 16h0m-1-12h0m0-3h0m-1 10h0m0-5h0m0-2h0m-1 8h0m-3-12h0m0-3h0m-1 7h0m0-6h0m-1 6h0m0-5h0m-2 12h0m0-7h0m-3 8h0m0-7h0m0-5h0m-1 13h0m0-10h0m0-3h0m-1 5h0m-7-7h0m-1 10h0m-1 0h0m0-2h0m-1 5h0m0-11h0m-4 1h0m-1 5h0m-4-8h0m-2 5h0m15 16h0m4 0h0m1 4h0m3-5h0m2 7h0m1-6h0m1 1h0m1 13h0m2-10h0m4-6h0m0 13h0m1-13h0m1 5h0m1-2h0m2 16h0m1-17h0m0 4h0m0 2h0m4 5h0m1-11h0m0 1h0m1-3h0m0 19h0m1-7h0m0 1h0m2 3h0m1-10h0m2 0h0m0 3h0m2 8h0m1-17h0m0 10h0m1 2h0m1-6h0m1-5h0m0 4h0m1-1h0m1-3h0m0 5h0m1-1h0m2 13h0m2-8h0m1 7h0m1-16h0m0 6h0m0 3h0m1-3h0m1-7h0m0 1h0m0 1h0m0 1h0m1-3h0m0 10h0m1-5h0m2 1h0m1 8h0m4-11h0m0 6h0m1 1h0m-1 21h0m0-11h0m-2 4h0m0-1h0m-2 15h0m0-6h0m-2-6h0m-1-6h0m-1 14h0m0-7h0m0-5h0m-3 1h0m-1 10h0m-3 1h0m0-7h0m0-3h0m-1 6h0m0-1h0m-1 0h0m-1 1h0m0-1h0m0-2h0m0-2h0m0-4h0m-6 14h0m0-4h0m0-11h0m-1 6h0m-1 0h0m-1-5h0m-1 14h0m0-1h0m-2-6h0m0-7h0m-3 3h0m-1 5h0m0-2h0m-2 7h0m-1-1h0m-6-10h0m17 23h0m1 1h0m3-1h0m3 1h0m1-3h0m1-1h0m5 9h0m1-1h0m2-1h0" stroke="#88CEA5" stroke-width="6.8" stroke-linecap="round" fill="none"/>
<path transform="scale(.5)" d="M1118 977h0m0 2h0m3-3h0m3-9h0m0 2h0m0 4h0m14-6h0m2 8h0m7-3h0m0 4h0m4 2h0m1-4h0m2-5h0m1 1h0m3 9h0m8-6h0m0 2h0m11-2h0m17-1h0m-30 16h0m-2-2h0m0-1h0m-7 5h0m0-5h0m-3 2h0m-2-5h0m-4 3h0m-14 6h0m0-11h0m-3 4h0m-1 6h0m-6-7h0m-13-2h0" stroke="#ACD27A" stroke-width="6.8" stroke-linecap="round" fill="none"/>
<path transform="scale(.5)" d="M1318 959h0m6 0h0m1-5h0m0 5h0m4-2h0m1 1h0m4-5h0m2 4h0m-2 4h0m-1 13h0m-2-7h0m-3 5h0m-1-12h0m-1 11h0m0-10h0m-2 5h0m0-2h0m0-3h0m-1 0h0m-1 15h0m0-2h0m-1-5h0m-1 8h0m0-14h0m-2 9h0m0-9h0m-2 7h0m0-9h0m-1 11h0m-1-9h0m-2 14h0m-1-5h0m-1 1h0m-2-3h0m-1 0h0m-1-2h0m-2-1h0m4 14h0" stroke="#ACD27A" stroke-width="6.8" stroke-linecap="round" fill="none"/>
<path transform="scale(.5)" d="M1129 594h0m-13 27h0m-7 14h0m1 7h0m17 26h0m-8-1h0" stroke="#45474C" stroke-width="6.8" stroke-linecap="round" fill="none"/>
<path transform="scale(.5)" d="M1116 611h0m1 8h0m4 0h0m-3 14h0m-3-7h0m0 28h0m10 12h0m-13 3h0" stroke="#B6BECA" stroke-width="6.8" stroke-linecap="round" fill="none"/>
<path transform="scale(.5)" d="M839 1078h0m6 1h0m15-1h0m16 15h0m0-2h0m0-5h0m-7 12h0m-8-7h0m-1-4h0m-3 3h0m0-3h0m-4 9h0m-5-1h0m-2-5h0m0-7h0m-2 14h0m-5-4h0m-3-11h0m-3 3h0m-6 9h0m-1-12h0m-3-2h0m-1 11h0m-7 25h0m4-9h0m5 1h0m2 7h0m5-12h0m1 6h0m0 10h0m1-1h0m5-13h0m5 9h0m4-14h0m1 18h0m6-13h0m3 5h0m1-3h0m10 7h0m0 2h0m6-15h0m0 9h0m9 1h0m3-8h0m4 8h0m3 8h0m12 6h0m-9 11h0m-1-3h0m-3 6h0m-6-13h0m-2 4h0m-2-5h0m-1-5h0m-3 15h0m-3-2h0m-1-3h0m-6 3h0m-2 0h0m-1-5h0m-3-1h0m-1-2h0m-3 3h0m-3-5h0m-2-1h0m-9 14h0m-1-15h0m-1 6h0m-1-6h0m-1 12h0m-10 4h0m-3 8h0m6 1h0m7 3h0m1-1h0m4-6h0m6 4h0m2 11h0m3-16h0m3 8h0m2-2h0m2-6h0m2-1h0m0 3h0m13 8h0m-28 10h0" stroke="#F58220" stroke-width="6.8" stroke-linecap="round" fill="none"/>
<path transform="scale(.5)" d="M881 760h0m0 8h0m1 4h0m4 4h0m1 1h0m2-10h0m1-4h0m9 1h0m5 11h0m3 0h0m2-5h0m15 25h0m-3-2h0m-2-1h0m-8-8h0m-1-1h0m-16 16h0m-1-9h0m-1 8h0m-4-13h0m5 26h0m0 6h0m1-15h0m4 17h0m30-4h0m1-9h0m1 6h0m3 0h0m12 27h0m-5-4h0m0-1h0m-4-3h0m0-8h0m-41 3h0m-4 13h0m-1-6h0m-1 19h0m2-10h0m0 6h0m0 11h0m48-8h0m3-3h0m5 7h0m6 19h0m-5-2h0m-1 2h0m0-8h0m-53 5h0m-5 5h0m0-1h0m0-12h0m-4 36h0m1-18h0m1 18h0m1-12h0m59 0h0m1 7h0m1 1h0m5-12h0m5 29h0m-3-3h0m-1 9h0m-1-14h0m-66 14h0m0-9h0m-8 13h0m5 14h0m5-13h0m69 0h0m1 1h0m3 9h0m8 6h0m-6 4h0m-4 4h0m-1 7h0m-2 3h0m-1-7h0m-7 8h0m-65-8h0m0-8h0m-3 4h0m-1 8h0m-7 24h0m4 1h0m1-6h0m1-10h0m1 3h0m64 9h0m6-3h0m3-5h0m-6 17h0m-2-1h0m-3 8h0m-2-1h0m-67-3h0m-5 4h0m-1 3h0m-1 2h0m-5 21h0m1-5h0m1 7h0m4-11h0m1-4h0m65 5h0m1 3h0m4-11h0m0 6h0m-4 13h0m-1 11h0m-4 6h0m0-14h0m-3 6h0m-67 9h0m-1-12h0m-7 0h0m-2 7h0m20 13h0m1 1h0m3 0h0m7 10h0m39-2h0m3-8h0m2 4h0m2-10h0m-12 25h0m-1-1h0m-2 1h0m-3 2h0m-9 0h0m-8-6h0m-1 5h0m-11-3h0" stroke="#DBAA68" stroke-width="6.8" stroke-linecap="round" fill="none"/>
<path transform="scale(.5)" d="M425 616h0m10 1h0m1-1h0m11-5h0m0 4h0m7-4h0m3-1h0m7-1h0m9-3h0m8 4h0m11 3h0m1-1h0m8 6h0m24 20h0m-6-1h0m-2-4h0m-2-6h0m-6-7h0m-5 1h0m-75-1h0m-11 5h0m-6 2h0m-8 5h0m-2 0h0m-1 3h0m-10-2h0m-9 4h0m-46 21h0m3-3h0m9-6h0m5 6h0m11-9h0m3-6h0m1 1h0m9-1h0m6 0h0m152 5h0m0 1h0m2 1h0m2 3h0m9 6h0m9 17h0m-1 5h0m-2-8h0m0-5h0m-5-2h0m-216 0h0m-6 1h0m-5 4h0m-7 9h0m0-6h0m-1 6h0m-9 1h0m-10 20h0m4-1h0m2-6h0m2-1h0m256-8h0m3 6h0m1 8h0m3 2h0m-1 7h0m-4 6h0m0-3h0m-270-1h0m-1 5h0m-3 12h0m1 13h0m0 1h0m1-18h0m0 7h0m257 12h0m4-17h0m1 16h0m2-15h0m2 5h0m-11 22h0m-1-6h0m-1 12h0m-3 2h0m-241-5h0m-3-7h0m-4 5h0m11 9h0m1 0h0m1 7h0m11 5h0m1 1h0m3 3h0m211-4h0m7-1h0m6-8h0m-14 19h0m-2 6h0m-7 8h0m0-11h0m-1 6h0m-168 7h0m-4 1h0m-1-9h0m-1 3h0m-10-9h0m-5-3h0m-3 1h0m33 28h0m2-4h0m5 2h0m0 7h0m3 2h0m142-6h0m4-3h0m3-1h0m-10 15h0m-3 6h0m0-4h0m-6 11h0m-104 4h0m-8-4h0m-1-2h0m-4-3h0m-7-10h0m20 31h0m1-9h0m7 14h0m1-5h0m9 7h0m74-4h0m3-4h0m0 3h0m3-13h0m0 6h0m-12 15h0m-8 6h0m-1 8h0m-12 2h0m-30-7h0m-2 0h0m0-4h0m-12-4h0m24 18h0m12 2h0m3-1h0m8 0h0" stroke="#F58220" stroke-width="6.8" stroke-linecap="round" fill="none"/>
<path transform="scale(.5)" d="M654 479h0m12-5h0m11-5h0m8 4h0m3 3h0m4-4h0m14 5h0m4 0h0m10-2h0m8 3h0m4 1h0m65 18h0m-10-1h0m-6-3h0m-8-5h0m-5-5h0m-6 0h0m-8-3h0m-5 3h0m-8 0h0m-4-1h0m-72 0h0m-14 2h0m-6 2h0m-6 0h0m-4 1h0m-10 5h0m-3 2h0m-3 2h0m-13 2h0m-28 18h0m6 1h0m3 2h0m4-7h0m4-1h0m9-5h0m2-2h0m191-3h0m3 12h0m2-5h0m0 9h0m3 2h0m1 12h0m-2-9h0m-1 17h0m-232-18h0m-3 4h0m-9 2h0m-4-1h0m-7 3h0m-6 1h0m-5 4h0m-8 4h0m-3-1h0m-9 21h0m2-10h0m0 4h0m0 4h0m5-15h0m54 18h0m14 0h0m6-4h0m1 1h0m9-2h0m6-3h0m2-4h0m8 0h0m8 0h0m1 1h0m12-6h0m0 1h0m8-2h0m7 12h0m8-4h0m7 0h0m5 5h0m5 1h0m3 1h0m2 2h0m104-6h0m1 0h0m3-9h0m2 0h0m-14 21h0m-2 4h0m-1-6h0m-1 4h0m-4 8h0m-16 2h0m-1 2h0m-8-1h0m-7-2h0m-10 3h0m-1-5h0m-7-5h0m-10-1h0m-6 0h0m-4-3h0m-9-2h0m-112-1h0m-11-1h0m-5 1h0m-13 5h0m-2 2h0m-9-1h0m-5 6h0m-7-3h0m-2 1h0m-11-7h0" stroke="#E0E227" stroke-width="6.8" stroke-linecap="round" fill="none"/>
<path transform="scale(.5)" d="M736 635h0m2-3h0m6-2h0m3 2h0m10-8h0m1 4h0m9-5h0m1 0h0m15 9h0m4-6h0m7 5h0m2-1h0m8 0h0m7 2h0m4 5h0m20 22h0m-6-9h0m-5-3h0m-3-1h0m-3-6h0m-90 2h0m-1 3h0m-10 0h0m-5 2h0m-3 9h0m-7 3h0m-18 18h0m3-2h0m1-4h0m7-7h0m4-4h0m1 3h0m135 4h0m1-2h0m6 10h0m2 3h0m18 18h0m-5-7h0m-2-4h0m-6-3h0m-173 4h0m0-4h0m-1 12h0m-3 0h0m-6 13h0m2 12h0m1-14h0m1-1h0m0 13h0m6 0h0m187-10h0m2 12h0m1-8h0m1-11h0m10 36h0m-1-2h0m-1-9h0m-9-1h0m-191 11h0m-3-2h0m-1-4h0m-1 7h0m-1 13h0m2-6h0m1 13h0m3 2h0m200-18h0m3 12h0m3 6h0m2-8h0m7 20h0m-3-7h0m-2 6h0m-5-7h0m-202 10h0m-1 5h0m-5 2h0m-1-16h0m0 20h0m1 0h0m2 15h0m1-5h0m213-12h0m2 1h0m2-2h0m5 11h0m0 1h0m4 7h0m-4 9h0m-1 9h0m-1-8h0m-222-3h0m-5 3h0m-1 2h0m-1 5h0m-2 1h0m-19 21h0m3 0h0m6-5h0m6-3h0m3-1h0m229 5h0m5-14h0m3 6h0m5 3h0m-9 16h0m-1 13h0m0-4h0m0-5h0m-250-4h0m-8 0h0m-7 5h0m-3 0h0m-9 8h0m0-3h0m-18 20h0m1-6h0m0 2h0m7-1h0m13-8h0m270 8h0m0 4h0m3-7h0m0 4h0m-3 21h0m-1-10h0m-1 15h0m-296-17h0m-5 6h0m-1 6h0m-2-5h0m-3 7h0m-3 4h0m-6 8h0m1 5h0m0 8h0m7-17h0m308 7h0m2-7h0m1 16h0m1-8h0m-1 26h0m-5 0h0m0-12h0m-1 3h0m-309 12h0m-2-15h0m-1 11h0m-1-11h0m4 26h0m1-3h0m2 1h0m305 4h0m2 1h0m2-10h0m-4 22h0m-1 10h0m-2-10h0m-1 1h0m-295 9h0m0-1h0m0-13h0m-3 4h0m-2 3h0m6 16h0m8 3h0m3 7h0m3 0h0m7 1h0m2 4h0m258 0h0m5-16h0m0 12h0m1-13h0m3 7h0m-4 14h0m-1 5h0m-8 11h0m0-1h0m0-8h0m-234 5h0m0-1h0m-2 3h0m-4-8h0m0-4h0m-2 10h0m0-10h0m-1 4h0m-4 5h0m-5-7h0m19 19h0m7 1h0m0 7h0m5 1h0m215-1h0m0 3h0m3-4h0m1-13h0m-8 22h0m-5 5h0m-1 4h0m-5 6h0m-176 2h0m-2-4h0m-6 4h0m-1-10h0m-6-4h0m-6-5h0m-8 2h0m35 21h0m9 5h0m2-1h0m9 3h0m4 4h0m4 2h0m115 0h0m1 3h0m5-4h0m6-5h0m1 1h0m5-4h0m7-7h0m-34 29h0m-3-6h0m-3 1h0m-7 8h0m-6-2h0m-1-1h0m-14 0h0m-7 3h0m-1-5h0m-11 5h0m-11-5h0m-2 1h0m-3-2h0m-5-2h0m-9 1h0m-9 0h0m0-2h0m-2-2h0" stroke="#FBB817" stroke-width="6.8" stroke-linecap="round" fill="none"/>
<path transform="scale(.5)" d="M942 1117h0m1 0h0m8 2h0m7 0h0m6-1h0m6-1h0m4-3h0m1 0h0m7-3h0m7 1h0m10 2h0m0 2h0m3-6h0m8 1h0m5-1h0m6 2h0m7-1h0m7-4h0m6 0h0m9 0h0m5 7h0m2-5h0m5 5h0m7 3h0m2 1h0m10 12h0m-3 3h0m0-8h0m-142-2h0m-5-1h0m-7-1h0m-4 5h0m-6 3h0m-8 1h0m-1 2h0m-12 3h0m-7 4h0m-28 19h0m4-6h0m2 6h0m8-11h0m3-3h0m0 3h0m12-5h0m194 2h0m5 4h0m1 7h0m0 2h0m1-10h0m2 26h0m-3 3h0m-3-9h0m-2 6h0m-225 1h0m-5 2h0m0-13h0m0 19h0m4 6h0m4 2h0m5 3h0m2-2h0m2 6h0m6 1h0m200 1h0m1-6h0m7-6h0m2-3h0m-13 19h0m-5 4h0m-10 3h0m-7 4h0m-139 1h0m-4-4h0m-12-4h0m-2-2h0m-5-2h0m-3-1h0m30 18h0m6 1h0m4 1h0m1 2h0m12 1h0m2 4h0m3 3h0m7-2h0m3 1h0m14-1h0m8 5h0m3 0h0m7 2h0m4-3h0m5 0h0m14-1h0m3 0h0m2 1h0m8-3h0m3 1h0m6-4h0m3-2h0m5 3h0m8-7h0m1 0h0" stroke="#DBAA68" stroke-width="6.8" stroke-linecap="round" fill="none"/>
<path transform="scale(.5)" d="M1113 698h0m5 1h0m82 15h0m-6-4h0m-4-2h0m-4 0h0m-8-2h0m0-1h0m-13-2h0m-6 4h0m-4 0h0m-5 0h0m-8-2h0m-6 0h0m-7 1h0m-22-3h0m-6-3h0m-1 13h0m-5-2h0m-11 23h0m2 2h0m2-12h0m4-2h0m4-1h0m113 3h0m2 0h0m5 6h0m5-2h0m5 0h0m8 10h0m13 16h0m-4-4h0m-3-1h0m-6-4h0m-9-3h0m-143 9h0m0-11h0m-4 11h0m-2 10h0m6 0h0m0 10h0m2 0h0m1 4h0m0 4h0m161-19h0m2 3h0m6 8h0m1 4h0m2 1h0m2 16h0m0-6h0m-1 2h0m-170 7h0m0-9h0m-2 4h0m1 10h0m3 7h0m1 10h0m4-6h0m159 4h0m3-13h0m2 11h0m1-11h0m0 6h0m-3 13h0m-3 3h0m-2 11h0m-2 2h0m-157-14h0m-1-1h0m-1 9h0m8 9h0m0 6h0m1 9h0m2-13h0m132 15h0m6-5h0m2-5h0m3-4h0m4-2h0m-11 23h0m-5 1h0m-1 6h0m-5 7h0m-126-11h0m-1 9h0m-1-4h0m-1-12h0m-1 32h0m1-5h0m1-5h0m2 13h0m106-2h0m4 1h0m1-5h0m9-5h0m5 0h0m-24 17h0m-4 9h0m0-9h0m-7 9h0m-8 3h0m-8 2h0m-1 2h0m-5-7h0m-3 5h0m-6-7h0m-4-2h0m-11-2h0m-3 3h0m-2 2h0m-4 6h0m-10 0h0m-15-1h0m-1-8h0m-8-2h0m15 17h0m2-1h0" stroke="#B6BECA" stroke-width="6.8" stroke-linecap="round" fill="none"/>
<path transform="scale(.5)" d="M709 138h0m10-3h0m7-1h0m15 0h0m22 19h0m-8-3h0m0-3h0m-3-2h0m-3 0h0m-40 0h0m-3-5h0m-4 6h0m-11 3h0m-5 10h0m-23 18h0m3-5h0m6 0h0m8-2h0m1-2h0m1-3h0m11 14h0m13-4h0m3 4h0m21-3h0m1 1h0m20 1h0m10-17h0m1 0h0m3 4h0m0 7h0m2 3h0m2 7h0m-5-1h0m-11 0h0m-13-1h0m-15 0h0m-14 1h0m-17 0h0m-13 1h0m-4 2h0m-9-1h0m-2 5h0m-3 5h0m-2 3h0m0-16h0m-7 17h0m-2-1h0m-1-8h0" stroke="#2FB04A" stroke-width="6.8" stroke-linecap="round" fill="none"/>
<path transform="scale(.5)" d="M1109 499h0m2-7h0m12-3h0m2-3h0m2-4h0m5 1h0m3 0h0m15 4h0m2 11h0m1-12h0m4 28h0m-4 3h0m0-10h0m-1-4h0m-40 5h0m-1 4h0m-2-11h0m-2 14h0m4 9h0m5 13h0m2-7h0m1 9h0m28-9h0m1 4h0m2 5h0m4-18h0m2 4h0m-19 24h0m0-4h0m-3 7h0m-7 5h0m0-7h0m-6-4h0m-7-1h0" stroke="#45474C" stroke-width="6.8" stroke-linecap="round" fill="none"/>
<path transform="scale(.5)" d="M1133 616h0m24 18h0m-1-3h0m-1 2h0m-3-1h0m-9-9h0m-10 2h0m-11-1h0m0-1h0m-6-1h0m-8 1h0m-4 1h0m-6 15h0m-1-2h0m-1-10h0m-7 2h0m15 17h0m0 2h0m6 3h0m4-1h0m7 4h0m5-3h0m4 4h0m7-5h0m8 1h0m13-4h0m1-3h0m2 0h0" stroke="#45474C" stroke-width="6.8" stroke-linecap="round" fill="none"/>
<path transform="scale(.5)" d="M412 635h0m4 19h0m-3-4h0m-8-7h0m100 19h0m33 22h0m-22 12h0m-7 0h0m-78 1h0m-112-1h0m-29 6h0m44 13h0m179-1h0m38 6h0m-62 17h0m-16-8h0m-42 2h0m-20-4h0m-83-7h0m-5 2h0m-34 32h0m73 3h0m47 1h0m8-14h0m46 0h0m47 30h0m-96-4h0m-83-3h0m-6-2h0m14 15h0m23 6h0m95-6h0m31 34h0m-26-4h0m-39 7h0m-32-1h0m78 21h0m6 6h0m-48 5h0m30 13h0" stroke="#FBB817" stroke-width="6.8" stroke-linecap="round" fill="none"/>
<path transform="scale(.5)" d="M679 476h0m96 19h0m-25 3h0m-56-10h0m-9 9h0m-11-8h0m-8 4h0m-17 6h0m-15-1h0m-31 10h0m11 6h0m13-7h0m14 3h0m125 19h0m-2 0h0m-21 0h0m-8-7h0m-34 4h0m-6 6h0m-8 6h0m-49-2h0m-3-9h0m0-4h0m-55 14h0m-7-7h0m-9-1h0m-6 7h0m-23 3h0m-2 5h0m64 14h0m6-8h0m7 0h0m80 1h0m4 0h0m32 2h0m29 1h0m30-14h0m-7 22h0m-38 13h0m37 5h0" stroke="#FBB817" stroke-width="6.8" stroke-linecap="round" fill="none"/>
<path transform="scale(.5)" d="M899 805h0m22-2h0m-18 50h0m19 15h0m26 18h0m-29 19h0m152 52h0m-14 2h0m-137-19h0m-31 19h0m18 3h0m2 13h0m10-6h0m68 5h0m22-9h0m57-2h0m2 14h0m8 0h0m11 11h0m-46-6h0m-41 2h0m-28 8h0m-15-4h0m-33 7h0m-26-4h0m-4-5h0m-14 22h0m14-5h0m33 10h0m81-12h0m82 0h0m-31 20h0m-131 9h0m-22 8h0m49 7h0m25-1h0m77 26h0m-154 18h0m6 5h0m16-13h0m13 8h0m8 4h0m22 2h0m20 4h0m49 14h0m0-7h0m-37 12h0m-6-3h0m-36-6h0m-13-1h0m-19 0h0m-4-6h0m-48 12h0m27 20h0m11-13h0m50 17h0m4-6h0m1-5h0m39 9h0m5 2h0m-28 18h0m-26 3h0m-19 1h0m-53-4h0m-1-4h0m-14-8h0m-12 17h0m18 3h0m32 5h0m79-6h0m51 4h0m17 10h0m-73 13h0m-8 6h0m-59-6h0m-22 12h0m97 3h0m8 12h0m12 8h0m-51 0h0" stroke="#FBB817" stroke-width="6.8" stroke-linecap="round" fill="none"/>
<path transform="scale(.5)" d="M1103 716h0m19-4h0m15 3h0m39 18h0m-83 21h0m38-10h0m21 5h0m68-8h0m-89 23h0m-32 33h0m10-5h0m45 3h0m100-3h0m-28 19h0m-24 3h0m-63 5h0m-18-9h0m0-6h0m33 21h0m0 5h0m-10 23h0m-46 23h0m26-11h0m10 4h0m36 1h0m27-10h0m-35 34h0m-33 7h0m52 4h0" stroke="#FBB817" stroke-width="6.8" stroke-linecap="round" fill="none"/>
<path transform="scale(.5)" d="M931 799h0m103 16h0m-26-11h0m-10 7h0m-30 6h0m-7-17h0m-8 3h0m-11 8h0m-4 26h0m10-4h0m110 15h0m-11-3h0m-1-5h0m-34 9h0m-13-3h0m-3 7h0m-5-12h0m-51 5h0m14 18h0m1 15h0m2-14h0m11 14h0m47-1h0m4-12h0m7 2h0m13 11h0m45-19h0m-28 25h0m-3 13h0m-40-14h0m-10 13h0m-6-14h0m-5 3h0m-39 33h0m25-2h0m30-9h0m37 12h0m-7 6h0m-55-2h0m-10 14h0m0-1h0m31 13h0m13 0h0m19-7h0m11-3h0" stroke="#FBB817" stroke-width="6.8" stroke-linecap="round" fill="none"/>
<path transform="scale(.5)" d="M904 826h0m25 16h0m-1 31h0m-17 49h0m161 20h0m-29 18h0m-73 2h0m-47 35h0m37 9h0m-58 14h0m148 5h0m-153 31h0m86 9h0m46 2h0m-28 32h0m-117-6h0m-5 22h0m35-13h0m85 24h0m-1 2h0m-5-5h0m-73 18h0m10 0h0m51 18h0m65-16h0m20 7h0m-161 14h0m-19 13h0m59 20h0m55-14h0m30 5h0m36-2h0m2 3h0m-79 22h0m-91-11h0" stroke="#F58220" stroke-width="6.8" stroke-linecap="round" fill="none"/>
<path transform="scale(.5)" d="M1093 716h0m118 12h0m-87 4h0m77 21h0m26 23h0m-31-3h0m14 14h0m-97 16h0m-14 3h0m-1 26h0m10-8h0m96-4h0m21 13h0m10 0h0m3-6h0m-74 32h0m-15 0h0m57 2h0m-7 30h0m-49 5h0m-44-5h0m6 10h0" stroke="#F58220" stroke-width="6.8" stroke-linecap="round" fill="none"/>
<path transform="scale(.5)" d="M786 639h0m26 38h0m-31-14h0m66 41h0m-150 18h0m-22-2h0m92 24h0m34 15h0m49-14h0m-76 67h0m-53 4h0m-9 9h0m85 11h0m1-11h0m72 36h0m-44 0h0m-107-1h0m162 38h0m-125 28h0m-28 5h0m-127 25h0m20 1h0m137 2h0m117-10h0m-139 23h0m97 29h0m13 16h0m-132 19h0m-16 3h0m-39 2h0" stroke="#F58220" stroke-width="6.8" stroke-linecap="round" fill="none"/>
<path transform="scale(.5)" d="M1006 798h0m21 15h0m-51-6h0m3 29h0m17 3h0m21 2h0m-21 18h0m-50 10h0m15 5h0m76-12h0m31 15h0m8 12h0m-26-6h0m-36 35h0m6-7h0m7 3h0m45-3h0m-57 24h0m-38-1h0m46 9h0" stroke="#F58220" stroke-width="6.8" stroke-linecap="round" fill="none"/>
<path transform="scale(.5)" d="M826 683h0m-127 24h0m13 19h0m48 13h0m98 74h0m-132-7h0m28 37h0m58 0h0m-115 43h0m-4 15h0m46 68h0m113 49h0m-21 21h0m-4-13h0m-108 5h0" stroke="#EC5424" stroke-width="6.8" stroke-linecap="round" fill="none"/>
<path transform="scale(.5)" d="M436 638h0m67 4h0m-112 24h0m7 7h0m98 28h0m-112 23h0m27 12h0m43-15h0m19 14h0m24-15h0m-18 68h0m-79 17h0m69 52h0m-30-6h0m13 13h0" stroke="#EC5424" stroke-width="6.8" stroke-linecap="round" fill="none"/>
<path transform="scale(.5)" d="M602 609h0m9 1h0m93 1h0m1 3h0m11-7h0m20 6h0m1-5h0m1-2h0m3 5h0m12 22h0m-6 6h0m-1-10h0m-3-1h0m-2 6h0m-6 1h0m-4 1h0m-40-13h0m-3 3h0m-12 3h0m-6 7h0m-40 2h0m-17-4h0m9 19h0m1-10h0m2 12h0m2-11h0m14 15h0m23-18h0m5 6h0m2 3h0m3 8h0m6-2h0m5-14h0m1 9h0m12-3h0m15 0h0m-48 18h0m-8 8h0m-1-6h0m-39-2h0" stroke="#E0E227" stroke-width="6.8" stroke-linecap="round" fill="none"/>
<path transform="scale(.5)" d="M1096 721h0m67 30h0m2 48h0m-4 33h0m-32 32h0m-14 35h0" stroke="#E0E227" stroke-width="6.8" stroke-linecap="round" fill="none"/>
<path transform="scale(.5)" d="M911 742h0m13 4h0m14 10h0m26 39h0" stroke="#E0E227" stroke-width="6.8" stroke-linecap="round" fill="none"/>
<path transform="scale(.5)" d="M919 905h0m195 26h0m-26 24h0m-33 19h0m-96 7h0m9 6h0m31 4h0m21 20h0m-81 21h0m106 6h0m-78 8h0m-62 20h0m39 3h0m76-3h0m-48 46h0m-32-5h0m71 33h0m-66 32h0m115 9h0m-4 26h0m-42 11h0m-45 6h0" stroke="#76808F" stroke-width="6.8" stroke-linecap="round" fill="none"/>
<path transform="scale(.5)" d="M1001 800h0m21 19h0m18 2h0m-34 13h0m-34-8h0m-29 3h0m37 17h0m1-6h0m0 14h0m26 1h0m8 1h0m3-5h0m44 3h0m-7 8h0m-36 15h0m-5-9h0m-2 1h0m-1-9h0m-23 8h0m-18-4h0m-39 34h0m2-11h0m80-5h0m5 4h0m56 5h0m1-2h0m-10 25h0m-64 4h0m-6-2h0m-32-7h0m-16-7h0m-3 25h0m11 3h0m16 9h0m34-9h0m14-6h0m21 13h0m-24 14h0m-16 3h0m-20-2h0" stroke="#DBAA68" stroke-width="6.8" stroke-linecap="round" fill="none"/>
<path transform="scale(.5)" d="M782 697h0m47 19h0m34 53h0m-65 34h0m-17 10h0m-93-7h0m120 43h0m-151 21h0m-34-10h0m7 31h0m245 5h0m-131 40h0m33 10h0m-58 23h0m52 11h0m72 37h0m-190 1h0m-24-11h0m9 15h0m164 24h0" stroke="#DBAA68" stroke-width="6.8" stroke-linecap="round" fill="none"/>
<path transform="scale(.5)" d="M551 615h0m9 4h0m19 15h0m-8-7h0m-7-4h0m390 239h0" stroke="#2FB04A" stroke-width="6.8" stroke-linecap="round" fill="none"/>
<path transform="scale(.5)" d="M1207 719h0m2-1h0m2-1h0m1-5h0m0 1h0m1 0h0m3 0h0m0 1h0m0 4h0m1 1h0m2-10h0m-2 17h0m-4-6h0" stroke="#F58220" stroke-width="6.8" stroke-linecap="round" fill="none"/>
<path transform="scale(.5)" d="M350 765h0m786 187h0" stroke="#76808F" stroke-width="6.8" stroke-linecap="round" fill="none"/>
<path transform="scale(.5)" d="M766 181h0" stroke="#45474C" stroke-width="6.8" stroke-linecap="round" fill="none"/></g>
<g><text x="876.5" y="38.5" font-size="54" font-weight="bold" fill="#231F20">b</text>
<text x="1090" y="103" font-size="30" text-anchor="middle">Microglia</text>
<path d="M957.3 115.2L1223.7 115.2" stroke="#333" stroke-width="1.3" fill="none"/>
<text x="1377" y="103" font-size="30" text-anchor="middle">Macrophage</text>
<path d="M1228.6 115.2L1525.5 115.2" stroke="#333" stroke-width="1.3" fill="none"/>
<text x="1667" y="103" font-size="30" text-anchor="middle">Endothelium</text>
<path d="M1540.8 115.2L1786.2 115.2" stroke="#333" stroke-width="1.3" fill="none"/>
<text x="1841" y="103" font-size="30" text-anchor="middle">Neutrophil</text>
<path d="M1804.8 115.2L1888.5 115.2" stroke="#333" stroke-width="1.3" fill="none"/>
<text x="1956" y="103" font-size="30" text-anchor="middle">MISC</text>
<path d="M1908.4 115.2L1998 115.2" stroke="#333" stroke-width="1.3" fill="none"/>
<path d="M947.3 130V489.3H2004.5" stroke="#000" stroke-width="2.2" fill="none"/>
<path d="M940.8 150L947.3 150" stroke="#000" stroke-width="3.4" fill="none"/>
<text x="923" y="159" font-size="26" text-anchor="middle">10</text>
<circle cx="890.6" cy="150" r="12.7" fill="#ACD27A"/>
<circle cx="967.8" cy="150" r="4.16" fill="#D0CDDA"/>
<circle cx="1001.7" cy="150" r="4.62" fill="#CCC5DA"/>
<circle cx="1035.5" cy="150" r="2.96" fill="#B4B0C6"/>
<circle cx="1069.4" cy="150" r="8.78" fill="#D1CFD9"/>
<circle cx="1103.3" cy="150" r="5.08" fill="#D1CFD9"/>
<circle cx="1137.2" cy="150" r="8.78" fill="#BBA9D6"/>
<circle cx="1171" cy="150" r="6.28" fill="#D0CDDA"/>
<circle cx="1204.9" cy="150" r="2.31" fill="#B4B0C6"/>
<circle cx="1238.8" cy="150" r="5.36" fill="#9A82C5"/>
<circle cx="1272.7" cy="150" r="1.85" fill="#B4B0C6"/>
<circle cx="1306.5" cy="150" r="2.03" fill="#B4B0C6"/>
<circle cx="1340.4" cy="150" r="2.03" fill="#B4B0C6"/>
<circle cx="1374.3" cy="150" r="2.03" fill="#B4B0C6"/>
<circle cx="1408.2" cy="150" r="2.22" fill="#B4B0C6"/>
<circle cx="1442" cy="150" r="1.48" fill="#B4B0C6"/>
<circle cx="1475.9" cy="150" r="2.40" fill="#B4B0C6"/>
<circle cx="1509.8" cy="150" r="2.77" fill="#B4B0C6"/>
<circle cx="1543.7" cy="150" r="2.22" fill="#B4B0C6"/>
<circle cx="1577.5" cy="150" r="1.66" fill="#B4B0C6"/>
<circle cx="1611.4" cy="150" r="1.66" fill="#B4B0C6"/>
<circle cx="1645.3" cy="150" r="2.96" fill="#5D59AD"/>
<circle cx="1679.2" cy="150" r="1.48" fill="#B4B0C6"/>
<circle cx="1713" cy="150" r="2.59" fill="#C0B0D8"/>
<circle cx="1746.9" cy="150" r="3.51" fill="#AB94CD"/>
<circle cx="1780.8" cy="150" r="2.22" fill="#B4B0C6"/>
<circle cx="1814.7" cy="150" r="2.03" fill="#B4B0C6"/>
<circle cx="1848.5" cy="150" r="1.85" fill="#B4B0C6"/>
<circle cx="1882.4" cy="150" r="1.85" fill="#B4B0C6"/>
<circle cx="1916.3" cy="150" r="8.31" fill="#4258AA"/>
<circle cx="1950.2" cy="150" r="4.62" fill="#4258AA"/>
<circle cx="1984" cy="150" r="7.76" fill="#4258AA"/>
<path d="M940.8 182L947.3 182" stroke="#000" stroke-width="3.4" fill="none"/>
<text x="923" y="191" font-size="26" text-anchor="middle">9</text>
<circle cx="890.6" cy="182" r="12.7" fill="#2FB04A"/>
<circle cx="967.8" cy="182" r="6.47" fill="#C5B8DA"/>
<circle cx="1001.7" cy="182" r="7.85" fill="#C0B0D8"/>
<circle cx="1035.5" cy="182" r="3.88" fill="#BBA9D6"/>
<circle cx="1069.4" cy="182" r="10.90" fill="#C9C0DA"/>
<circle cx="1103.3" cy="182" r="7.39" fill="#C5B8DA"/>
<circle cx="1137.2" cy="182" r="9.24" fill="#C0B0D8"/>
<circle cx="1171" cy="182" r="8.78" fill="#C7BCDA"/>
<circle cx="1204.9" cy="182" r="12.75" fill="#4258AA"/>
<circle cx="1238.8" cy="182" r="2.22" fill="#B4B0C6"/>
<circle cx="1272.7" cy="182" r="2.77" fill="#C0B0D8"/>
<circle cx="1306.5" cy="182" r="1.85" fill="#B4B0C6"/>
<circle cx="1340.4" cy="182" r="2.22" fill="#B4B0C6"/>
<circle cx="1374.3" cy="182" r="2.40" fill="#B4B0C6"/>
<circle cx="1408.2" cy="182" r="2.22" fill="#B4B0C6"/>
<circle cx="1442" cy="182" r="2.77" fill="#BEADD7"/>
<circle cx="1475.9" cy="182" r="4.62" fill="#BEADD7"/>
<circle cx="1509.8" cy="182" r="2.22" fill="#B4B0C6"/>
<circle cx="1543.7" cy="182" r="2.59" fill="#C7BCDA"/>
<circle cx="1577.5" cy="182" r="1.66" fill="#B4B0C6"/>
<circle cx="1611.4" cy="182" r="1.85" fill="#B4B0C6"/>
<circle cx="1645.3" cy="182" r="1.48" fill="#B4B0C6"/>
<circle cx="1679.2" cy="182" r="4.80" fill="#4258AA"/>
<circle cx="1713" cy="182" r="1.66" fill="#B4B0C6"/>
<circle cx="1746.9" cy="182" r="2.22" fill="#B4B0C6"/>
<circle cx="1780.8" cy="182" r="2.03" fill="#B4B0C6"/>
<circle cx="1814.7" cy="182" r="6.47" fill="#4258AA"/>
<circle cx="1848.5" cy="182" r="12.93" fill="#4258AA"/>
<circle cx="1882.4" cy="182" r="6.10" fill="#4258AA"/>
<circle cx="1916.3" cy="182" r="1.85" fill="#B4B0C6"/>
<circle cx="1950.2" cy="182" r="1.66" fill="#B4B0C6"/>
<circle cx="1984" cy="182" r="1.85" fill="#B4B0C6"/>
<path d="M940.8 214L947.3 214" stroke="#000" stroke-width="3.4" fill="none"/>
<text x="923" y="223" font-size="26" text-anchor="middle">8</text>
<circle cx="890.6" cy="214" r="12.7" fill="#45474C"/>
<circle cx="967.8" cy="214" r="4.80" fill="#CEC9DA"/>
<circle cx="1001.7" cy="214" r="6.00" fill="#CCC5DA"/>
<circle cx="1035.5" cy="214" r="3.23" fill="#D0CDDA"/>
<circle cx="1069.4" cy="214" r="12.01" fill="#D1CFD9"/>
<circle cx="1103.3" cy="214" r="8.31" fill="#D1CFD9"/>
<circle cx="1137.2" cy="214" r="11.82" fill="#BEADD7"/>
<circle cx="1171" cy="214" r="8.96" fill="#D1CFD9"/>
<circle cx="1204.9" cy="214" r="12.75" fill="#7363B3"/>
<circle cx="1238.8" cy="214" r="4.25" fill="#A68ECB"/>
<circle cx="1272.7" cy="214" r="2.59" fill="#C5B8DA"/>
<circle cx="1306.5" cy="214" r="2.77" fill="#B4B0C6"/>
<circle cx="1340.4" cy="214" r="5.08" fill="#B9A5D5"/>
<circle cx="1374.3" cy="214" r="7.57" fill="#5456AB"/>
<circle cx="1408.2" cy="214" r="7.85" fill="#5456AB"/>
<circle cx="1442" cy="214" r="6.65" fill="#7765B4"/>
<circle cx="1475.9" cy="214" r="12.01" fill="#4258AA"/>
<circle cx="1509.8" cy="214" r="3.14" fill="#C0B0D8"/>
<circle cx="1543.7" cy="214" r="2.77" fill="#C3B4D9"/>
<circle cx="1577.5" cy="214" r="2.22" fill="#B4B0C6"/>
<circle cx="1611.4" cy="214" r="1.66" fill="#B4B0C6"/>
<circle cx="1645.3" cy="214" r="1.66" fill="#B4B0C6"/>
<circle cx="1679.2" cy="214" r="2.22" fill="#B4B0C6"/>
<circle cx="1713" cy="214" r="1.66" fill="#B4B0C6"/>
<circle cx="1746.9" cy="214" r="2.59" fill="#B4B0C6"/>
<circle cx="1780.8" cy="214" r="2.77" fill="#C7BCDA"/>
<circle cx="1814.7" cy="214" r="1.85" fill="#B4B0C6"/>
<circle cx="1848.5" cy="214" r="2.96" fill="#C5B8DA"/>
<circle cx="1882.4" cy="214" r="1.66" fill="#B4B0C6"/>
<circle cx="1916.3" cy="214" r="1.66" fill="#B4B0C6"/>
<circle cx="1950.2" cy="214" r="1.66" fill="#B4B0C6"/>
<circle cx="1984" cy="214" r="1.66" fill="#B4B0C6"/>
<path d="M940.8 246L947.3 246" stroke="#000" stroke-width="3.4" fill="none"/>
<text x="923" y="255" font-size="26" text-anchor="middle">7</text>
<circle cx="890.6" cy="246" r="12.7" fill="#76808F"/>
<circle cx="967.8" cy="246" r="9.51" fill="#C0B0D8"/>
<circle cx="1001.7" cy="246" r="10.62" fill="#C0B0D8"/>
<circle cx="1035.5" cy="246" r="6.47" fill="#B9A5D5"/>
<circle cx="1069.4" cy="246" r="12.93" fill="#806BB7"/>
<circle cx="1103.3" cy="246" r="12.01" fill="#A68ECB"/>
<circle cx="1137.2" cy="246" r="12.75" fill="#4258AA"/>
<circle cx="1171" cy="246" r="12.93" fill="#5857AC"/>
<circle cx="1204.9" cy="246" r="11.55" fill="#B49FD2"/>
<circle cx="1238.8" cy="246" r="8.78" fill="#615AAE"/>
<circle cx="1272.7" cy="246" r="9.98" fill="#4258AA"/>
<circle cx="1306.5" cy="246" r="6.28" fill="#947CC1"/>
<circle cx="1340.4" cy="246" r="2.77" fill="#BEADD7"/>
<circle cx="1374.3" cy="246" r="3.69" fill="#C0B0D8"/>
<circle cx="1408.2" cy="246" r="3.33" fill="#C5B8DA"/>
<circle cx="1442" cy="246" r="7.20" fill="#4258AA"/>
<circle cx="1475.9" cy="246" r="8.13" fill="#BEADD7"/>
<circle cx="1509.8" cy="246" r="9.98" fill="#4258AA"/>
<circle cx="1543.7" cy="246" r="2.22" fill="#B4B0C6"/>
<circle cx="1577.5" cy="246" r="2.03" fill="#B4B0C6"/>
<circle cx="1611.4" cy="246" r="1.66" fill="#B4B0C6"/>
<circle cx="1645.3" cy="246" r="1.85" fill="#B4B0C6"/>
<circle cx="1679.2" cy="246" r="1.66" fill="#B4B0C6"/>
<circle cx="1713" cy="246" r="1.66" fill="#B4B0C6"/>
<circle cx="1746.9" cy="246" r="3.33" fill="#AF99D0"/>
<circle cx="1780.8" cy="246" r="4.25" fill="#AB94CD"/>
<circle cx="1814.7" cy="246" r="1.66" fill="#B4B0C6"/>
<circle cx="1848.5" cy="246" r="2.59" fill="#C5B8DA"/>
<circle cx="1882.4" cy="246" r="1.85" fill="#B4B0C6"/>
<circle cx="1916.3" cy="246" r="1.66" fill="#B4B0C6"/>
<circle cx="1950.2" cy="246" r="1.66" fill="#B4B0C6"/>
<circle cx="1984" cy="246" r="1.66" fill="#B4B0C6"/>
<path d="M940.8 278L947.3 278" stroke="#000" stroke-width="3.4" fill="none"/>
<text x="923" y="287" font-size="26" text-anchor="middle">6</text>
<circle cx="890.6" cy="278" r="12.7" fill="#EC5424"/>
<circle cx="967.8" cy="278" r="12.93" fill="#8D77BE"/>
<circle cx="1001.7" cy="278" r="12.93" fill="#7765B4"/>
<circle cx="1035.5" cy="278" r="12.47" fill="#8D77BE"/>
<circle cx="1069.4" cy="278" r="12.93" fill="#8D77BE"/>
<circle cx="1103.3" cy="278" r="12.75" fill="#7C68B6"/>
<circle cx="1137.2" cy="278" r="12.93" fill="#BBA9D6"/>
<circle cx="1171" cy="278" r="12.75" fill="#A188C8"/>
<circle cx="1204.9" cy="278" r="12.93" fill="#BBA9D6"/>
<circle cx="1238.8" cy="278" r="4.99" fill="#BEADD7"/>
<circle cx="1272.7" cy="278" r="6.28" fill="#B9A5D5"/>
<circle cx="1306.5" cy="278" r="4.43" fill="#BBA9D6"/>
<circle cx="1340.4" cy="278" r="5.91" fill="#B9A5D5"/>
<circle cx="1374.3" cy="278" r="5.36" fill="#BBA9D6"/>
<circle cx="1408.2" cy="278" r="5.08" fill="#BBA9D6"/>
<circle cx="1442" cy="278" r="3.51" fill="#BBA9D6"/>
<circle cx="1475.9" cy="278" r="9.98" fill="#BEADD7"/>
<circle cx="1509.8" cy="278" r="5.73" fill="#B9A5D5"/>
<circle cx="1543.7" cy="278" r="4.80" fill="#BBA9D6"/>
<circle cx="1577.5" cy="278" r="1.85" fill="#B4B0C6"/>
<circle cx="1611.4" cy="278" r="1.66" fill="#B4B0C6"/>
<circle cx="1645.3" cy="278" r="2.03" fill="#B4B0C6"/>
<circle cx="1679.2" cy="278" r="1.66" fill="#B4B0C6"/>
<circle cx="1713" cy="278" r="1.85" fill="#B4B0C6"/>
<circle cx="1746.9" cy="278" r="4.25" fill="#B9A5D5"/>
<circle cx="1780.8" cy="278" r="4.06" fill="#B9A5D5"/>
<circle cx="1814.7" cy="278" r="1.85" fill="#B4B0C6"/>
<circle cx="1848.5" cy="278" r="2.77" fill="#C7BCDA"/>
<circle cx="1882.4" cy="278" r="1.85" fill="#B4B0C6"/>
<circle cx="1916.3" cy="278" r="1.85" fill="#B4B0C6"/>
<circle cx="1950.2" cy="278" r="1.66" fill="#B4B0C6"/>
<circle cx="1984" cy="278" r="1.66" fill="#B4B0C6"/>
<path d="M940.8 310L947.3 310" stroke="#000" stroke-width="3.4" fill="none"/>
<text x="923" y="319" font-size="26" text-anchor="middle">5</text>
<circle cx="890.6" cy="310" r="12.7" fill="#88CEA5"/>
<circle cx="967.8" cy="310" r="3.88" fill="#D1CFD9"/>
<circle cx="1001.7" cy="310" r="4.80" fill="#D0CDDA"/>
<circle cx="1035.5" cy="310" r="2.77" fill="#B4B0C6"/>
<circle cx="1069.4" cy="310" r="9.24" fill="#D3D2D7"/>
<circle cx="1103.3" cy="310" r="4.80" fill="#D1CFD9"/>
<circle cx="1137.2" cy="310" r="11.82" fill="#C3B4D9"/>
<circle cx="1171" cy="310" r="6.28" fill="#D1CFD9"/>
<circle cx="1204.9" cy="310" r="2.03" fill="#B4B0C6"/>
<circle cx="1238.8" cy="310" r="2.22" fill="#B4B0C6"/>
<circle cx="1272.7" cy="310" r="1.66" fill="#B4B0C6"/>
<circle cx="1306.5" cy="310" r="1.85" fill="#B4B0C6"/>
<circle cx="1340.4" cy="310" r="2.03" fill="#B4B0C6"/>
<circle cx="1374.3" cy="310" r="2.22" fill="#B4B0C6"/>
<circle cx="1408.2" cy="310" r="2.22" fill="#B4B0C6"/>
<circle cx="1442" cy="310" r="1.48" fill="#B4B0C6"/>
<circle cx="1475.9" cy="310" r="2.59" fill="#B4B0C6"/>
<circle cx="1509.8" cy="310" r="2.22" fill="#B4B0C6"/>
<circle cx="1543.7" cy="310" r="12.01" fill="#4258AA"/>
<circle cx="1577.5" cy="310" r="6.84" fill="#4258AA"/>
<circle cx="1611.4" cy="310" r="5.73" fill="#4258AA"/>
<circle cx="1645.3" cy="310" r="4.80" fill="#4258AA"/>
<circle cx="1679.2" cy="310" r="4.06" fill="#6A5DB0"/>
<circle cx="1713" cy="310" r="7.39" fill="#4258AA"/>
<circle cx="1746.9" cy="310" r="6.28" fill="#4258AA"/>
<circle cx="1780.8" cy="310" r="7.20" fill="#4258AA"/>
<circle cx="1814.7" cy="310" r="1.66" fill="#B4B0C6"/>
<circle cx="1848.5" cy="310" r="1.85" fill="#B4B0C6"/>
<circle cx="1882.4" cy="310" r="1.66" fill="#B4B0C6"/>
<circle cx="1916.3" cy="310" r="2.40" fill="#B4B0C6"/>
<circle cx="1950.2" cy="310" r="2.03" fill="#B4B0C6"/>
<circle cx="1984" cy="310" r="2.77" fill="#B4B0C6"/>
<path d="M940.8 342L947.3 342" stroke="#000" stroke-width="3.4" fill="none"/>
<text x="923" y="351" font-size="26" text-anchor="middle">4</text>
<circle cx="890.6" cy="342" r="12.7" fill="#B6BECA"/>
<circle cx="967.8" cy="342" r="6.00" fill="#CCC5DA"/>
<circle cx="1001.7" cy="342" r="7.85" fill="#C9C0DA"/>
<circle cx="1035.5" cy="342" r="3.23" fill="#D0CDDA"/>
<circle cx="1069.4" cy="342" r="12.01" fill="#C9C0DA"/>
<circle cx="1103.3" cy="342" r="9.24" fill="#C5B8DA"/>
<circle cx="1137.2" cy="342" r="12.93" fill="#7363B3"/>
<circle cx="1171" cy="342" r="11.82" fill="#BEADD7"/>
<circle cx="1204.9" cy="342" r="9.05" fill="#B49FD2"/>
<circle cx="1238.8" cy="342" r="7.20" fill="#5D59AD"/>
<circle cx="1272.7" cy="342" r="2.40" fill="#B4B0C6"/>
<circle cx="1306.5" cy="342" r="10.62" fill="#4258AA"/>
<circle cx="1340.4" cy="342" r="10.90" fill="#4258AA"/>
<circle cx="1374.3" cy="342" r="8.13" fill="#5D59AD"/>
<circle cx="1408.2" cy="342" r="8.13" fill="#5D59AD"/>
<circle cx="1442" cy="342" r="2.40" fill="#B4B0C6"/>
<circle cx="1475.9" cy="342" r="9.42" fill="#665CAF"/>
<circle cx="1509.8" cy="342" r="2.77" fill="#B4B0C6"/>
<circle cx="1543.7" cy="342" r="2.22" fill="#B4B0C6"/>
<circle cx="1577.5" cy="342" r="1.85" fill="#B4B0C6"/>
<circle cx="1611.4" cy="342" r="1.66" fill="#B4B0C6"/>
<circle cx="1645.3" cy="342" r="1.85" fill="#B4B0C6"/>
<circle cx="1679.2" cy="342" r="1.66" fill="#B4B0C6"/>
<circle cx="1713" cy="342" r="1.66" fill="#B4B0C6"/>
<circle cx="1746.9" cy="342" r="2.40" fill="#B4B0C6"/>
<circle cx="1780.8" cy="342" r="2.22" fill="#B4B0C6"/>
<circle cx="1814.7" cy="342" r="1.66" fill="#B4B0C6"/>
<circle cx="1848.5" cy="342" r="2.22" fill="#B4B0C6"/>
<circle cx="1882.4" cy="342" r="1.66" fill="#B4B0C6"/>
<circle cx="1916.3" cy="342" r="2.22" fill="#B4B0C6"/>
<circle cx="1950.2" cy="342" r="1.85" fill="#B4B0C6"/>
<circle cx="1984" cy="342" r="1.66" fill="#B4B0C6"/>
<path d="M940.8 374L947.3 374" stroke="#000" stroke-width="3.4" fill="none"/>
<text x="923" y="383" font-size="26" text-anchor="middle">3</text>
<circle cx="890.6" cy="374" r="12.7" fill="#E0E227"/>
<circle cx="967.8" cy="374" r="11.55" fill="#7363B3"/>
<circle cx="1001.7" cy="374" r="11.27" fill="#947CC1"/>
<circle cx="1035.5" cy="374" r="8.13" fill="#5857AC"/>
<circle cx="1069.4" cy="374" r="12.93" fill="#B9A5D5"/>
<circle cx="1103.3" cy="374" r="12.47" fill="#806BB7"/>
<circle cx="1137.2" cy="374" r="8.13" fill="#BBA9D6"/>
<circle cx="1171" cy="374" r="11.55" fill="#B9A5D5"/>
<circle cx="1204.9" cy="374" r="8.78" fill="#AB94CD"/>
<circle cx="1238.8" cy="374" r="2.22" fill="#B4B0C6"/>
<circle cx="1272.7" cy="374" r="2.03" fill="#B4B0C6"/>
<circle cx="1306.5" cy="374" r="2.03" fill="#B4B0C6"/>
<circle cx="1340.4" cy="374" r="2.03" fill="#B4B0C6"/>
<circle cx="1374.3" cy="374" r="2.22" fill="#B4B0C6"/>
<circle cx="1408.2" cy="374" r="2.22" fill="#B4B0C6"/>
<circle cx="1442" cy="374" r="1.66" fill="#B4B0C6"/>
<circle cx="1475.9" cy="374" r="2.77" fill="#B4B0C6"/>
<circle cx="1509.8" cy="374" r="2.22" fill="#B4B0C6"/>
<circle cx="1543.7" cy="374" r="2.40" fill="#B4B0C6"/>
<circle cx="1577.5" cy="374" r="1.85" fill="#B4B0C6"/>
<circle cx="1611.4" cy="374" r="1.66" fill="#B4B0C6"/>
<circle cx="1645.3" cy="374" r="1.66" fill="#B4B0C6"/>
<circle cx="1679.2" cy="374" r="1.66" fill="#B4B0C6"/>
<circle cx="1713" cy="374" r="1.66" fill="#B4B0C6"/>
<circle cx="1746.9" cy="374" r="2.03" fill="#B4B0C6"/>
<circle cx="1780.8" cy="374" r="2.22" fill="#B4B0C6"/>
<circle cx="1814.7" cy="374" r="1.66" fill="#B4B0C6"/>
<circle cx="1848.5" cy="374" r="2.03" fill="#B4B0C6"/>
<circle cx="1882.4" cy="374" r="1.66" fill="#B4B0C6"/>
<circle cx="1916.3" cy="374" r="1.66" fill="#B4B0C6"/>
<circle cx="1950.2" cy="374" r="1.66" fill="#B4B0C6"/>
<circle cx="1984" cy="374" r="1.66" fill="#B4B0C6"/>
<path d="M940.8 406L947.3 406" stroke="#000" stroke-width="3.4" fill="none"/>
<text x="923" y="415" font-size="26" text-anchor="middle">2</text>
<circle cx="890.6" cy="406" r="12.7" fill="#F58220"/>
<circle cx="967.8" cy="406" r="12.47" fill="#7C68B6"/>
<circle cx="1001.7" cy="406" r="12.47" fill="#8D77BE"/>
<circle cx="1035.5" cy="406" r="7.39" fill="#A68ECB"/>
<circle cx="1069.4" cy="406" r="12.93" fill="#806BB7"/>
<circle cx="1103.3" cy="406" r="12.47" fill="#8771BA"/>
<circle cx="1137.2" cy="406" r="10.90" fill="#BBA9D6"/>
<circle cx="1171" cy="406" r="12.75" fill="#9A82C5"/>
<circle cx="1204.9" cy="406" r="10.62" fill="#B9A5D5"/>
<circle cx="1238.8" cy="406" r="2.96" fill="#C0B0D8"/>
<circle cx="1272.7" cy="406" r="3.69" fill="#B9A5D5"/>
<circle cx="1306.5" cy="406" r="1.85" fill="#B4B0C6"/>
<circle cx="1340.4" cy="406" r="2.40" fill="#B4B0C6"/>
<circle cx="1374.3" cy="406" r="2.59" fill="#C5B8DA"/>
<circle cx="1408.2" cy="406" r="2.40" fill="#B4B0C6"/>
<circle cx="1442" cy="406" r="2.22" fill="#B4B0C6"/>
<circle cx="1475.9" cy="406" r="6.10" fill="#BEADD7"/>
<circle cx="1509.8" cy="406" r="2.96" fill="#B9A5D5"/>
<circle cx="1543.7" cy="406" r="2.77" fill="#C5B8DA"/>
<circle cx="1577.5" cy="406" r="1.85" fill="#B4B0C6"/>
<circle cx="1611.4" cy="406" r="1.66" fill="#B4B0C6"/>
<circle cx="1645.3" cy="406" r="1.66" fill="#B4B0C6"/>
<circle cx="1679.2" cy="406" r="1.66" fill="#B4B0C6"/>
<circle cx="1713" cy="406" r="1.66" fill="#B4B0C6"/>
<circle cx="1746.9" cy="406" r="2.77" fill="#C3B4D9"/>
<circle cx="1780.8" cy="406" r="2.77" fill="#C7BCDA"/>
<circle cx="1814.7" cy="406" r="1.66" fill="#B4B0C6"/>
<circle cx="1848.5" cy="406" r="2.59" fill="#C7BCDA"/>
<circle cx="1882.4" cy="406" r="1.66" fill="#B4B0C6"/>
<circle cx="1916.3" cy="406" r="1.66" fill="#B4B0C6"/>
<circle cx="1950.2" cy="406" r="1.66" fill="#B4B0C6"/>
<circle cx="1984" cy="406" r="1.66" fill="#B4B0C6"/>
<path d="M940.8 438L947.3 438" stroke="#000" stroke-width="3.4" fill="none"/>
<text x="923" y="447" font-size="26" text-anchor="middle">1</text>
<circle cx="890.6" cy="438" r="12.7" fill="#DBAA68"/>
<circle cx="967.8" cy="438" r="10.62" fill="#A188C8"/>
<circle cx="1001.7" cy="438" r="11.55" fill="#9A82C5"/>
<circle cx="1035.5" cy="438" r="5.36" fill="#AB94CD"/>
<circle cx="1069.4" cy="438" r="12.93" fill="#7C68B6"/>
<circle cx="1103.3" cy="438" r="11.08" fill="#BBA9D6"/>
<circle cx="1137.2" cy="438" r="10.90" fill="#B9A5D5"/>
<circle cx="1171" cy="438" r="12.75" fill="#7C68B6"/>
<circle cx="1204.9" cy="438" r="5.08" fill="#C3B4D9"/>
<circle cx="1238.8" cy="438" r="2.59" fill="#C0B0D8"/>
<circle cx="1272.7" cy="438" r="3.88" fill="#A68ECB"/>
<circle cx="1306.5" cy="438" r="2.22" fill="#B4B0C6"/>
<circle cx="1340.4" cy="438" r="2.40" fill="#B4B0C6"/>
<circle cx="1374.3" cy="438" r="2.96" fill="#C0B0D8"/>
<circle cx="1408.2" cy="438" r="2.77" fill="#C5B8DA"/>
<circle cx="1442" cy="438" r="2.03" fill="#B4B0C6"/>
<circle cx="1475.9" cy="438" r="5.54" fill="#BEADD7"/>
<circle cx="1509.8" cy="438" r="2.77" fill="#B9A5D5"/>
<circle cx="1543.7" cy="438" r="2.03" fill="#B4B0C6"/>
<circle cx="1577.5" cy="438" r="1.66" fill="#B4B0C6"/>
<circle cx="1611.4" cy="438" r="1.66" fill="#B4B0C6"/>
<circle cx="1645.3" cy="438" r="1.85" fill="#B4B0C6"/>
<circle cx="1679.2" cy="438" r="1.66" fill="#B4B0C6"/>
<circle cx="1713" cy="438" r="1.66" fill="#B4B0C6"/>
<circle cx="1746.9" cy="438" r="2.22" fill="#B4B0C6"/>
<circle cx="1780.8" cy="438" r="2.22" fill="#B4B0C6"/>
<circle cx="1814.7" cy="438" r="1.66" fill="#B4B0C6"/>
<circle cx="1848.5" cy="438" r="2.03" fill="#B4B0C6"/>
<circle cx="1882.4" cy="438" r="1.66" fill="#B4B0C6"/>
<circle cx="1916.3" cy="438" r="1.66" fill="#B4B0C6"/>
<circle cx="1950.2" cy="438" r="1.66" fill="#B4B0C6"/>
<circle cx="1984" cy="438" r="1.66" fill="#B4B0C6"/>
<path d="M940.8 470L947.3 470" stroke="#000" stroke-width="3.4" fill="none"/>
<text x="923" y="479" font-size="26" text-anchor="middle">0</text>
<circle cx="890.6" cy="470" r="12.7" fill="#FBB817"/>
<circle cx="967.8" cy="470" r="12.75" fill="#7363B3"/>
<circle cx="1001.7" cy="470" r="12.93" fill="#665CAF"/>
<circle cx="1035.5" cy="470" r="10.62" fill="#6E60B1"/>
<circle cx="1069.4" cy="470" r="12.93" fill="#7C68B6"/>
<circle cx="1103.3" cy="470" r="12.93" fill="#6E60B1"/>
<circle cx="1137.2" cy="470" r="10.90" fill="#BEADD7"/>
<circle cx="1171" cy="470" r="12.93" fill="#947CC1"/>
<circle cx="1204.9" cy="470" r="10.62" fill="#BBA9D6"/>
<circle cx="1238.8" cy="470" r="2.77" fill="#C5B8DA"/>
<circle cx="1272.7" cy="470" r="3.33" fill="#B9A5D5"/>
<circle cx="1306.5" cy="470" r="1.85" fill="#B4B0C6"/>
<circle cx="1340.4" cy="470" r="2.40" fill="#B4B0C6"/>
<circle cx="1374.3" cy="470" r="2.59" fill="#C5B8DA"/>
<circle cx="1408.2" cy="470" r="2.40" fill="#B4B0C6"/>
<circle cx="1442" cy="470" r="2.22" fill="#B4B0C6"/>
<circle cx="1475.9" cy="470" r="4.06" fill="#BEADD7"/>
<circle cx="1509.8" cy="470" r="2.77" fill="#C5B8DA"/>
<circle cx="1543.7" cy="470" r="3.14" fill="#C0B0D8"/>
<circle cx="1577.5" cy="470" r="1.66" fill="#B4B0C6"/>
<circle cx="1611.4" cy="470" r="1.66" fill="#B4B0C6"/>
<circle cx="1645.3" cy="470" r="1.85" fill="#B4B0C6"/>
<circle cx="1679.2" cy="470" r="1.66" fill="#B4B0C6"/>
<circle cx="1713" cy="470" r="1.66" fill="#B4B0C6"/>
<circle cx="1746.9" cy="470" r="2.40" fill="#B4B0C6"/>
<circle cx="1780.8" cy="470" r="2.77" fill="#B4B0C6"/>
<circle cx="1814.7" cy="470" r="1.66" fill="#B4B0C6"/>
<circle cx="1848.5" cy="470" r="2.03" fill="#B4B0C6"/>
<circle cx="1882.4" cy="470" r="1.66" fill="#B4B0C6"/>
<circle cx="1916.3" cy="470" r="1.66" fill="#B4B0C6"/>
<circle cx="1950.2" cy="470" r="1.66" fill="#B4B0C6"/>
<circle cx="1984" cy="470" r="1.66" fill="#B4B0C6"/>
<path d="M967.8 489.3L967.8 496.5" stroke="#000" stroke-width="3.4" fill="none"/>
<text font-size="25.5" text-anchor="end" font-style="italic" transform="translate(983.8 515) rotate(-45)">Tmem119</text>
<path d="M1001.7 489.3L1001.7 496.5" stroke="#000" stroke-width="3.4" fill="none"/>
<text font-size="25.5" text-anchor="end" font-style="italic" transform="translate(1017.7 515) rotate(-45)">P2ry12</text>
<path d="M1035.5 489.3L1035.5 496.5" stroke="#000" stroke-width="3.4" fill="none"/>
<text font-size="25.5" text-anchor="end" font-style="italic" transform="translate(1051.5 515) rotate(-45)">Sall1</text>
<path d="M1069.4 489.3L1069.4 496.5" stroke="#000" stroke-width="3.4" fill="none"/>
<text font-size="25.5" text-anchor="end" font-style="italic" transform="translate(1085.4 515) rotate(-45)">Hexb</text>
<path d="M1103.3 489.3L1103.3 496.5" stroke="#000" stroke-width="3.4" fill="none"/>
<text font-size="25.5" text-anchor="end" font-style="italic" transform="translate(1119.3 515) rotate(-45)">Cx3cr1</text>
<path d="M1137.2 489.3L1137.2 496.5" stroke="#000" stroke-width="3.4" fill="none"/>
<text font-size="25.5" text-anchor="end" font-style="italic" transform="translate(1153.2 515) rotate(-45)">Apoe</text>
<path d="M1171 489.3L1171 496.5" stroke="#000" stroke-width="3.4" fill="none"/>
<text font-size="25.5" text-anchor="end" font-style="italic" transform="translate(1187 515) rotate(-45)">Trem2</text>
<path d="M1204.9 489.3L1204.9 496.5" stroke="#000" stroke-width="3.4" fill="none"/>
<text font-size="25.5" text-anchor="end" font-style="italic" transform="translate(1220.9 515) rotate(-45)">Ptprc</text>
<path d="M1238.8 489.3L1238.8 496.5" stroke="#000" stroke-width="3.4" fill="none"/>
<text font-size="25.5" text-anchor="end" font-style="italic" transform="translate(1254.8 515) rotate(-45)">Axl</text>
<path d="M1272.7 489.3L1272.7 496.5" stroke="#000" stroke-width="3.4" fill="none"/>
<text font-size="25.5" text-anchor="end" font-style="italic" transform="translate(1288.7 515) rotate(-45)">Cst7</text>
<path d="M1306.5 489.3L1306.5 496.5" stroke="#000" stroke-width="3.4" fill="none"/>
<text font-size="25.5" text-anchor="end" font-style="italic" transform="translate(1322.5 515) rotate(-45)">Ms4a7</text>
<path d="M1340.4 489.3L1340.4 496.5" stroke="#000" stroke-width="3.4" fill="none"/>
<text font-size="25.5" text-anchor="end" font-style="italic" transform="translate(1356.4 515) rotate(-45)">Mrc1</text>
<path d="M1374.3 489.3L1374.3 496.5" stroke="#000" stroke-width="3.4" fill="none"/>
<text font-size="25.5" text-anchor="end" font-style="italic" transform="translate(1390.3 515) rotate(-45)">H2.Eb1</text>
<path d="M1408.2 489.3L1408.2 496.5" stroke="#000" stroke-width="3.4" fill="none"/>
<text font-size="25.5" text-anchor="end" font-style="italic" transform="translate(1424.2 515) rotate(-45)">H2.Aa</text>
<path d="M1442 489.3L1442 496.5" stroke="#000" stroke-width="3.4" fill="none"/>
<text font-size="25.5" text-anchor="end" font-style="italic" transform="translate(1458 515) rotate(-45)">Itgax</text>
<path d="M1475.9 489.3L1475.9 496.5" stroke="#000" stroke-width="3.4" fill="none"/>
<text font-size="25.5" text-anchor="end" font-style="italic" transform="translate(1491.9 515) rotate(-45)">Cd74</text>
<path d="M1509.8 489.3L1509.8 496.5" stroke="#000" stroke-width="3.4" fill="none"/>
<text font-size="25.5" text-anchor="end" font-style="italic" transform="translate(1525.8 515) rotate(-45)">Lpl</text>
<path d="M1543.7 489.3L1543.7 496.5" stroke="#000" stroke-width="3.4" fill="none"/>
<text font-size="25.5" text-anchor="end" font-style="italic" transform="translate(1559.7 515) rotate(-45)">Pecam1</text>
<path d="M1577.5 489.3L1577.5 496.5" stroke="#000" stroke-width="3.4" fill="none"/>
<text font-size="25.5" text-anchor="end" font-style="italic" transform="translate(1593.5 515) rotate(-45)">Vwf</text>
<path d="M1611.4 489.3L1611.4 496.5" stroke="#000" stroke-width="3.4" fill="none"/>
<text font-size="25.5" text-anchor="end" font-style="italic" transform="translate(1627.4 515) rotate(-45)">Slc38a5</text>
<path d="M1645.3 489.3L1645.3 496.5" stroke="#000" stroke-width="3.4" fill="none"/>
<text font-size="25.5" text-anchor="end" font-style="italic" transform="translate(1661.3 515) rotate(-45)">Stmn2</text>
<path d="M1679.2 489.3L1679.2 496.5" stroke="#000" stroke-width="3.4" fill="none"/>
<text font-size="25.5" text-anchor="end" font-style="italic" transform="translate(1695.2 515) rotate(-45)">Bmx</text>
<path d="M1713 489.3L1713 496.5" stroke="#000" stroke-width="3.4" fill="none"/>
<text font-size="25.5" text-anchor="end" font-style="italic" transform="translate(1729 515) rotate(-45)">Mfsd2a</text>
<path d="M1746.9 489.3L1746.9 496.5" stroke="#000" stroke-width="3.4" fill="none"/>
<text font-size="25.5" text-anchor="end" font-style="italic" transform="translate(1762.9 515) rotate(-45)">Tfrc</text>
<path d="M1780.8 489.3L1780.8 496.5" stroke="#000" stroke-width="3.4" fill="none"/>
<text font-size="25.5" text-anchor="end" font-style="italic" transform="translate(1796.8 515) rotate(-45)">Slc16a1</text>
<path d="M1814.7 489.3L1814.7 496.5" stroke="#000" stroke-width="3.4" fill="none"/>
<text font-size="25.5" text-anchor="end" font-style="italic" transform="translate(1830.7 515) rotate(-45)">Ly6g</text>
<path d="M1848.5 489.3L1848.5 496.5" stroke="#000" stroke-width="3.4" fill="none"/>
<text font-size="25.5" text-anchor="end" font-style="italic" transform="translate(1864.5 515) rotate(-45)">S100a8</text>
<path d="M1882.4 489.3L1882.4 496.5" stroke="#000" stroke-width="3.4" fill="none"/>
<text font-size="25.5" text-anchor="end" font-style="italic" transform="translate(1898.4 515) rotate(-45)">Ngp</text>
<path d="M1916.3 489.3L1916.3 496.5" stroke="#000" stroke-width="3.4" fill="none"/>
<text font-size="25.5" text-anchor="end" font-style="italic" transform="translate(1932.3 515) rotate(-45)">Vtn</text>
<path d="M1950.2 489.3L1950.2 496.5" stroke="#000" stroke-width="3.4" fill="none"/>
<text font-size="25.5" text-anchor="end" font-style="italic" transform="translate(1966.2 515) rotate(-45)">Col1a2</text>
<path d="M1984 489.3L1984 496.5" stroke="#000" stroke-width="3.4" fill="none"/>
<text font-size="25.5" text-anchor="end" font-style="italic" transform="translate(2000 515) rotate(-45)">Dmd</text>
<text x="2029.5" y="139.5" font-size="24">Average</text>
<rect x="2028.8" y="154.4" width="27.7" height="134.2" fill="url(#gb)"/>
<path d="M2028.8 173h5.5M2051 173h5.5" stroke="#fff" stroke-width="1.2"/>
<text x="2092.5" y="179.5" font-size="18.5" text-anchor="end">2</text>
<path d="M2028.8 209.5h5.5M2051 209.5h5.5" stroke="#fff" stroke-width="1.2"/>
<text x="2092.5" y="216" font-size="18.5" text-anchor="end">1</text>
<path d="M2028.8 245.8h5.5M2051 245.8h5.5" stroke="#fff" stroke-width="1.2"/>
<text x="2092.5" y="252.3" font-size="18.5" text-anchor="end">0</text>
<path d="M2028.8 282.3h5.5M2051 282.3h5.5" stroke="#fff" stroke-width="1.2"/>
<text x="2092.5" y="288.8" font-size="18.5" text-anchor="end">−1</text>
<text x="2030.5" y="333.6" font-size="24">Percent</text>
<circle cx="2044" cy="361.8" r="1.2" fill="#000"/>
<text x="2071" y="368.3" font-size="18.5">0</text>
<circle cx="2044" cy="388.7" r="4.4" fill="#000"/>
<text x="2071" y="395.2" font-size="18.5">25</text>
<circle cx="2044" cy="415.7" r="7.3" fill="#000"/>
<text x="2071" y="422.2" font-size="18.5">50</text>
<circle cx="2044" cy="442.7" r="10.3" fill="#000"/>
<text x="2071" y="449.2" font-size="18.5">75</text>
<circle cx="2044" cy="470.5" r="13.3" fill="#000"/>
<text x="2071" y="477" font-size="18.5">100</text></g>
<g><text x="-1" y="745" font-size="54" font-weight="bold" fill="#231F20">c</text>
<rect x="99" y="769.2" width="386" height="16.4" fill="#FBB817"/>
<rect x="487.2" y="769.2" width="192.8" height="16.4" fill="#DBAA68"/>
<rect x="682.4" y="769.2" width="183.9" height="16.4" fill="#F58220"/>
<rect x="868.7" y="769.2" width="104.2" height="16.4" fill="#E0E227"/>
<rect x="975.3" y="769.2" width="72.4" height="16.4" fill="#B6BECA"/>
<rect x="1050.2" y="769.2" width="22.9" height="16.4" fill="#EC5424"/>
<rect x="1075.5" y="769.2" width="23.8" height="16.4" fill="#76808F"/>
<rect x="1101.7" y="769.2" width="20.5" height="16.4" fill="#45474C"/>
<rect x="99" y="790.3" width="1024.4" height="517.6" fill="#33638D"/>
<rect x="99" y="790.3" width="106.2" height="34.8" fill="#306A8D"/>
<rect x="204.8" y="790.3" width="27.6" height="34.8" fill="#297B8E"/>
<rect x="232" y="790.3" width="26.4" height="34.8" fill="#21968A"/>
<rect x="258" y="790.3" width="48.9" height="34.8" fill="#3D4D89"/>
<rect x="306.5" y="790.3" width="52.7" height="34.8" fill="#355F8D"/>
<rect x="358.8" y="790.3" width="127.7" height="34.8" fill="#355F8D"/>
<rect x="99" y="824.8" width="106.2" height="34.8" fill="#2B768E"/>
<rect x="204.8" y="824.8" width="27.6" height="34.8" fill="#2B768E"/>
<rect x="232" y="824.8" width="26.4" height="34.8" fill="#297B8E"/>
<rect x="258" y="824.8" width="48.9" height="34.8" fill="#32658D"/>
<rect x="306.5" y="824.8" width="52.7" height="34.8" fill="#306A8D"/>
<rect x="358.8" y="824.8" width="127.7" height="34.8" fill="#306A8D"/>
<rect x="99" y="859.3" width="106.2" height="34.8" fill="#404788"/>
<rect x="204.8" y="859.3" width="27.6" height="34.8" fill="#22A087"/>
<rect x="232" y="859.3" width="26.4" height="34.8" fill="#2EB07D"/>
<rect x="258" y="859.3" width="48.9" height="34.8" fill="#424085"/>
<rect x="306.5" y="859.3" width="52.7" height="34.8" fill="#355F8D"/>
<rect x="358.8" y="859.3" width="127.7" height="34.8" fill="#404788"/>
<rect x="99" y="893.8" width="106.2" height="34.8" fill="#355F8D"/>
<rect x="204.8" y="893.8" width="27.6" height="34.8" fill="#27818D"/>
<rect x="232" y="893.8" width="26.4" height="34.8" fill="#21918C"/>
<rect x="258" y="893.8" width="48.9" height="34.8" fill="#3A538A"/>
<rect x="306.5" y="893.8" width="52.7" height="34.8" fill="#355F8D"/>
<rect x="358.8" y="893.8" width="127.7" height="34.8" fill="#38598C"/>
<rect x="99" y="928.3" width="106.2" height="34.8" fill="#3A538A"/>
<rect x="204.8" y="928.3" width="27.6" height="34.8" fill="#355F8D"/>
<rect x="232" y="928.3" width="26.4" height="34.8" fill="#32658D"/>
<rect x="258" y="928.3" width="48.9" height="34.8" fill="#38598C"/>
<rect x="306.5" y="928.3" width="52.7" height="34.8" fill="#38598C"/>
<rect x="358.8" y="928.3" width="127.7" height="34.8" fill="#38598C"/>
<rect x="99" y="962.8" width="106.2" height="34.8" fill="#2E708E"/>
<rect x="204.8" y="962.8" width="27.6" height="34.8" fill="#2B768E"/>
<rect x="232" y="962.8" width="26.4" height="34.8" fill="#2B768E"/>
<rect x="258" y="962.8" width="48.9" height="34.8" fill="#306A8D"/>
<rect x="306.5" y="962.8" width="52.7" height="34.8" fill="#2B768E"/>
<rect x="358.8" y="962.8" width="127.7" height="34.8" fill="#297B8E"/>
<rect x="99" y="997.3" width="106.2" height="34.8" fill="#3A538A"/>
<rect x="204.8" y="997.3" width="27.6" height="34.8" fill="#306A8D"/>
<rect x="232" y="997.3" width="26.4" height="34.8" fill="#306A8D"/>
<rect x="258" y="997.3" width="48.9" height="34.8" fill="#3A538A"/>
<rect x="306.5" y="997.3" width="52.7" height="34.8" fill="#38598C"/>
<rect x="358.8" y="997.3" width="127.7" height="34.8" fill="#38598C"/>
<rect x="99" y="1031.8" width="106.2" height="34.8" fill="#32658D"/>
<rect x="204.8" y="1031.8" width="27.6" height="34.8" fill="#2E708E"/>
<rect x="232" y="1031.8" width="26.4" height="34.8" fill="#2E708E"/>
<rect x="258" y="1031.8" width="48.9" height="34.8" fill="#38598C"/>
<rect x="306.5" y="1031.8" width="52.7" height="34.8" fill="#32658D"/>
<rect x="358.8" y="1031.8" width="127.7" height="34.8" fill="#32658D"/>
<rect x="99" y="1066.4" width="106.2" height="34.8" fill="#32658D"/>
<rect x="204.8" y="1066.4" width="27.6" height="34.8" fill="#2B768E"/>
<rect x="232" y="1066.4" width="26.4" height="34.8" fill="#2B768E"/>
<rect x="258" y="1066.4" width="48.9" height="34.8" fill="#3A538A"/>
<rect x="306.5" y="1066.4" width="52.7" height="34.8" fill="#355F8D"/>
<rect x="358.8" y="1066.4" width="127.7" height="34.8" fill="#38598C"/>
<rect x="99" y="1100.9" width="106.2" height="34.8" fill="#355F8D"/>
<rect x="204.8" y="1100.9" width="27.6" height="34.8" fill="#306A8D"/>
<rect x="232" y="1100.9" width="26.4" height="34.8" fill="#306A8D"/>
<rect x="258" y="1100.9" width="48.9" height="34.8" fill="#38598C"/>
<rect x="306.5" y="1100.9" width="52.7" height="34.8" fill="#355F8D"/>
<rect x="358.8" y="1100.9" width="127.7" height="34.8" fill="#355F8D"/>
<rect x="99" y="1135.4" width="106.2" height="34.8" fill="#32658D"/>
<rect x="204.8" y="1135.4" width="27.6" height="34.8" fill="#21918C"/>
<rect x="232" y="1135.4" width="26.4" height="34.8" fill="#22A087"/>
<rect x="258" y="1135.4" width="48.9" height="34.8" fill="#424085"/>
<rect x="306.5" y="1135.4" width="52.7" height="34.8" fill="#38598C"/>
<rect x="358.8" y="1135.4" width="127.7" height="34.8" fill="#424085"/>
<rect x="99" y="1169.9" width="106.2" height="34.8" fill="#2E708E"/>
<rect x="204.8" y="1169.9" width="27.6" height="34.8" fill="#2E708E"/>
<rect x="232" y="1169.9" width="26.4" height="34.8" fill="#2E708E"/>
<rect x="258" y="1169.9" width="48.9" height="34.8" fill="#32658D"/>
<rect x="306.5" y="1169.9" width="52.7" height="34.8" fill="#306A8D"/>
<rect x="358.8" y="1169.9" width="127.7" height="34.8" fill="#306A8D"/>
<rect x="99" y="1204.4" width="106.2" height="34.8" fill="#2E708E"/>
<rect x="204.8" y="1204.4" width="27.6" height="34.8" fill="#2B768E"/>
<rect x="232" y="1204.4" width="26.4" height="34.8" fill="#2B768E"/>
<rect x="258" y="1204.4" width="48.9" height="34.8" fill="#355F8D"/>
<rect x="306.5" y="1204.4" width="52.7" height="34.8" fill="#355F8D"/>
<rect x="358.8" y="1204.4" width="127.7" height="34.8" fill="#32658D"/>
<rect x="99" y="1238.9" width="106.2" height="34.8" fill="#32658D"/>
<rect x="204.8" y="1238.9" width="27.6" height="34.8" fill="#306A8D"/>
<rect x="232" y="1238.9" width="26.4" height="34.8" fill="#306A8D"/>
<rect x="258" y="1238.9" width="48.9" height="34.8" fill="#32658D"/>
<rect x="306.5" y="1238.9" width="52.7" height="34.8" fill="#32658D"/>
<rect x="358.8" y="1238.9" width="127.7" height="34.8" fill="#32658D"/>
<rect x="99" y="1273.4" width="106.2" height="34.8" fill="#32658D"/>
<rect x="204.8" y="1273.4" width="27.6" height="34.8" fill="#2E708E"/>
<rect x="232" y="1273.4" width="26.4" height="34.8" fill="#22A685"/>
<rect x="258" y="1273.4" width="48.9" height="34.8" fill="#355F8D"/>
<rect x="306.5" y="1273.4" width="52.7" height="34.8" fill="#32658D"/>
<rect x="358.8" y="1273.4" width="127.7" height="34.8" fill="#32658D"/>
<rect x="486.1" y="790.3" width="20.6" height="34.8" fill="#32658D"/>
<rect x="506.3" y="790.3" width="54.2" height="34.8" fill="#35B579"/>
<rect x="560.1" y="790.3" width="33.8" height="34.8" fill="#3D4D89"/>
<rect x="593.5" y="790.3" width="38.2" height="34.8" fill="#22A685"/>
<rect x="631.3" y="790.3" width="50.4" height="34.8" fill="#306A8D"/>
<rect x="486.1" y="824.8" width="20.6" height="34.8" fill="#25878D"/>
<rect x="506.3" y="824.8" width="54.2" height="34.8" fill="#21918C"/>
<rect x="560.1" y="824.8" width="33.8" height="34.8" fill="#32658D"/>
<rect x="593.5" y="824.8" width="38.2" height="34.8" fill="#297B8E"/>
<rect x="631.3" y="824.8" width="50.4" height="34.8" fill="#306A8D"/>
<rect x="486.1" y="859.3" width="20.6" height="34.8" fill="#3A538A"/>
<rect x="506.3" y="859.3" width="54.2" height="34.8" fill="#2EB07D"/>
<rect x="560.1" y="859.3" width="33.8" height="34.8" fill="#3A538A"/>
<rect x="593.5" y="859.3" width="38.2" height="34.8" fill="#25878D"/>
<rect x="631.3" y="859.3" width="50.4" height="34.8" fill="#3A538A"/>
<rect x="486.1" y="893.8" width="20.6" height="34.8" fill="#355F8D"/>
<rect x="506.3" y="893.8" width="54.2" height="34.8" fill="#219B88"/>
<rect x="560.1" y="893.8" width="33.8" height="34.8" fill="#3D4D89"/>
<rect x="593.5" y="893.8" width="38.2" height="34.8" fill="#297B8E"/>
<rect x="631.3" y="893.8" width="50.4" height="34.8" fill="#3D4D89"/>
<rect x="486.1" y="928.3" width="20.6" height="34.8" fill="#32658D"/>
<rect x="506.3" y="928.3" width="54.2" height="34.8" fill="#21968A"/>
<rect x="560.1" y="928.3" width="33.8" height="34.8" fill="#355F8D"/>
<rect x="593.5" y="928.3" width="38.2" height="34.8" fill="#306A8D"/>
<rect x="631.3" y="928.3" width="50.4" height="34.8" fill="#32658D"/>
<rect x="486.1" y="962.8" width="20.6" height="34.8" fill="#21918C"/>
<rect x="506.3" y="962.8" width="54.2" height="34.8" fill="#22A087"/>
<rect x="560.1" y="962.8" width="33.8" height="34.8" fill="#2E708E"/>
<rect x="593.5" y="962.8" width="38.2" height="34.8" fill="#27818D"/>
<rect x="631.3" y="962.8" width="50.4" height="34.8" fill="#2B768E"/>
<rect x="486.1" y="997.3" width="20.6" height="34.8" fill="#306A8D"/>
<rect x="506.3" y="997.3" width="54.2" height="34.8" fill="#21918C"/>
<rect x="560.1" y="997.3" width="33.8" height="34.8" fill="#355F8D"/>
<rect x="593.5" y="997.3" width="38.2" height="34.8" fill="#2E708E"/>
<rect x="631.3" y="997.3" width="50.4" height="34.8" fill="#32658D"/>
<rect x="486.1" y="1031.8" width="20.6" height="34.8" fill="#306A8D"/>
<rect x="506.3" y="1031.8" width="54.2" height="34.8" fill="#25878D"/>
<rect x="560.1" y="1031.8" width="33.8" height="34.8" fill="#3A538A"/>
<rect x="593.5" y="1031.8" width="38.2" height="34.8" fill="#355F8D"/>
<rect x="631.3" y="1031.8" width="50.4" height="34.8" fill="#38598C"/>
<rect x="486.1" y="1066.4" width="20.6" height="34.8" fill="#306A8D"/>
<rect x="506.3" y="1066.4" width="54.2" height="34.8" fill="#27818D"/>
<rect x="560.1" y="1066.4" width="33.8" height="34.8" fill="#38598C"/>
<rect x="593.5" y="1066.4" width="38.2" height="34.8" fill="#32658D"/>
<rect x="631.3" y="1066.4" width="50.4" height="34.8" fill="#355F8D"/>
<rect x="486.1" y="1100.9" width="20.6" height="34.8" fill="#32658D"/>
<rect x="506.3" y="1100.9" width="54.2" height="34.8" fill="#2B768E"/>
<rect x="560.1" y="1100.9" width="33.8" height="34.8" fill="#355F8D"/>
<rect x="593.5" y="1100.9" width="38.2" height="34.8" fill="#32658D"/>
<rect x="631.3" y="1100.9" width="50.4" height="34.8" fill="#355F8D"/>
<rect x="486.1" y="1135.4" width="20.6" height="34.8" fill="#38598C"/>
<rect x="506.3" y="1135.4" width="54.2" height="34.8" fill="#3DBA74"/>
<rect x="560.1" y="1135.4" width="33.8" height="34.8" fill="#433981"/>
<rect x="593.5" y="1135.4" width="38.2" height="34.8" fill="#21968A"/>
<rect x="631.3" y="1135.4" width="50.4" height="34.8" fill="#433981"/>
<rect x="486.1" y="1169.9" width="20.6" height="34.8" fill="#297B8E"/>
<rect x="506.3" y="1169.9" width="54.2" height="34.8" fill="#21918C"/>
<rect x="560.1" y="1169.9" width="33.8" height="34.8" fill="#306A8D"/>
<rect x="593.5" y="1169.9" width="38.2" height="34.8" fill="#2B768E"/>
<rect x="631.3" y="1169.9" width="50.4" height="34.8" fill="#306A8D"/>
<rect x="486.1" y="1204.4" width="20.6" height="34.8" fill="#2B768E"/>
<rect x="506.3" y="1204.4" width="54.2" height="34.8" fill="#297B8E"/>
<rect x="560.1" y="1204.4" width="33.8" height="34.8" fill="#32658D"/>
<rect x="593.5" y="1204.4" width="38.2" height="34.8" fill="#306A8D"/>
<rect x="631.3" y="1204.4" width="50.4" height="34.8" fill="#32658D"/>
<rect x="486.1" y="1238.9" width="20.6" height="34.8" fill="#355F8D"/>
<rect x="506.3" y="1238.9" width="54.2" height="34.8" fill="#25878D"/>
<rect x="560.1" y="1238.9" width="33.8" height="34.8" fill="#355F8D"/>
<rect x="593.5" y="1238.9" width="38.2" height="34.8" fill="#2E708E"/>
<rect x="631.3" y="1238.9" width="50.4" height="34.8" fill="#32658D"/>
<rect x="486.1" y="1273.4" width="20.6" height="34.8" fill="#306A8D"/>
<rect x="506.3" y="1273.4" width="54.2" height="34.8" fill="#2EB07D"/>
<rect x="560.1" y="1273.4" width="33.8" height="34.8" fill="#38598C"/>
<rect x="593.5" y="1273.4" width="38.2" height="34.8" fill="#21968A"/>
<rect x="631.3" y="1273.4" width="50.4" height="34.8" fill="#3A538A"/>
<rect x="681.3" y="790.3" width="14.3" height="34.8" fill="#2E6F8E"/>
<rect x="695.2" y="790.3" width="119.6" height="34.8" fill="#59C664"/>
<rect x="814.4" y="790.3" width="44" height="34.8" fill="#4EC26A"/>
<rect x="858" y="790.3" width="9.9" height="34.8" fill="#33648D"/>
<rect x="681.3" y="824.8" width="14.3" height="34.8" fill="#CFE126"/>
<rect x="695.2" y="824.8" width="119.6" height="34.8" fill="#28AC81"/>
<rect x="814.4" y="824.8" width="44" height="34.8" fill="#22A286"/>
<rect x="858" y="824.8" width="9.9" height="34.8" fill="#6ACC5A"/>
<rect x="681.3" y="859.3" width="14.3" height="34.8" fill="#27808D"/>
<rect x="695.2" y="859.3" width="119.6" height="34.8" fill="#6FCD58"/>
<rect x="814.4" y="859.3" width="44" height="34.8" fill="#59C664"/>
<rect x="858" y="859.3" width="9.9" height="34.8" fill="#2C758E"/>
<rect x="681.3" y="893.8" width="14.3" height="34.8" fill="#84D34B"/>
<rect x="695.2" y="893.8" width="119.6" height="34.8" fill="#3CBA75"/>
<rect x="814.4" y="893.8" width="44" height="34.8" fill="#35B579"/>
<rect x="858" y="893.8" width="9.9" height="34.8" fill="#93D641"/>
<rect x="681.3" y="928.3" width="14.3" height="34.8" fill="#B1DD2D"/>
<rect x="695.2" y="928.3" width="119.6" height="34.8" fill="#64CA5E"/>
<rect x="814.4" y="928.3" width="44" height="34.8" fill="#59C664"/>
<rect x="858" y="928.3" width="9.9" height="34.8" fill="#B1DD2D"/>
<rect x="681.3" y="962.8" width="14.3" height="34.8" fill="#2E6F8E"/>
<rect x="695.2" y="962.8" width="119.6" height="34.8" fill="#43BE70"/>
<rect x="814.4" y="962.8" width="44" height="34.8" fill="#3CBA75"/>
<rect x="858" y="962.8" width="9.9" height="34.8" fill="#31698D"/>
<rect x="681.3" y="997.3" width="14.3" height="34.8" fill="#B1DD2D"/>
<rect x="695.2" y="997.3" width="119.6" height="34.8" fill="#4EC26A"/>
<rect x="814.4" y="997.3" width="44" height="34.8" fill="#43BE70"/>
<rect x="858" y="997.3" width="9.9" height="34.8" fill="#93D641"/>
<rect x="681.3" y="1031.8" width="14.3" height="34.8" fill="#C0DF26"/>
<rect x="695.2" y="1031.8" width="119.6" height="34.8" fill="#4EC26A"/>
<rect x="814.4" y="1031.8" width="44" height="34.8" fill="#3CBA75"/>
<rect x="858" y="1031.8" width="9.9" height="34.8" fill="#84D34B"/>
<rect x="681.3" y="1066.4" width="14.3" height="34.8" fill="#C0DF26"/>
<rect x="695.2" y="1066.4" width="119.6" height="34.8" fill="#43BE70"/>
<rect x="814.4" y="1066.4" width="44" height="34.8" fill="#28AC81"/>
<rect x="858" y="1066.4" width="9.9" height="34.8" fill="#76D053"/>
<rect x="681.3" y="1100.9" width="14.3" height="34.8" fill="#93D641"/>
<rect x="695.2" y="1100.9" width="119.6" height="34.8" fill="#4EC26A"/>
<rect x="814.4" y="1100.9" width="44" height="34.8" fill="#43BE70"/>
<rect x="858" y="1100.9" width="9.9" height="34.8" fill="#45BF6F"/>
<rect x="681.3" y="1135.4" width="14.3" height="34.8" fill="#27808D"/>
<rect x="695.2" y="1135.4" width="119.6" height="34.8" fill="#3CBA75"/>
<rect x="814.4" y="1135.4" width="44" height="34.8" fill="#2EB07D"/>
<rect x="858" y="1135.4" width="9.9" height="34.8" fill="#2E6F8E"/>
<rect x="681.3" y="1169.9" width="14.3" height="34.8" fill="#6ACC5A"/>
<rect x="695.2" y="1169.9" width="119.6" height="34.8" fill="#35B579"/>
<rect x="814.4" y="1169.9" width="44" height="34.8" fill="#35B579"/>
<rect x="858" y="1169.9" width="9.9" height="34.8" fill="#5DC761"/>
<rect x="681.3" y="1204.4" width="14.3" height="34.8" fill="#ECE525"/>
<rect x="695.2" y="1204.4" width="119.6" height="34.8" fill="#22A286"/>
<rect x="814.4" y="1204.4" width="44" height="34.8" fill="#219989"/>
<rect x="858" y="1204.4" width="9.9" height="34.8" fill="#B1DD2D"/>
<rect x="681.3" y="1238.9" width="14.3" height="34.8" fill="#6ACC5A"/>
<rect x="695.2" y="1238.9" width="119.6" height="34.8" fill="#64CA5E"/>
<rect x="814.4" y="1238.9" width="44" height="34.8" fill="#4EC26A"/>
<rect x="858" y="1238.9" width="9.9" height="34.8" fill="#45BF6F"/>
<rect x="681.3" y="1273.4" width="14.3" height="34.8" fill="#2C758E"/>
<rect x="695.2" y="1273.4" width="119.6" height="34.8" fill="#3CBA75"/>
<rect x="814.4" y="1273.4" width="44" height="34.8" fill="#28AC81"/>
<rect x="858" y="1273.4" width="9.9" height="34.8" fill="#33648D"/>
<rect x="867.5" y="790.3" width="11.9" height="34.8" fill="#3B508A"/>
<rect x="879" y="790.3" width="19.4" height="34.8" fill="#2C738E"/>
<rect x="898" y="790.3" width="19.2" height="34.8" fill="#433D83"/>
<rect x="916.8" y="790.3" width="20.8" height="34.8" fill="#33628D"/>
<rect x="937.2" y="790.3" width="37.3" height="34.8" fill="#414487"/>
<rect x="867.5" y="824.8" width="11.9" height="34.8" fill="#31688D"/>
<rect x="879" y="824.8" width="19.4" height="34.8" fill="#26848D"/>
<rect x="898" y="824.8" width="19.2" height="34.8" fill="#365D8C"/>
<rect x="916.8" y="824.8" width="20.8" height="34.8" fill="#2F6E8E"/>
<rect x="937.2" y="824.8" width="37.3" height="34.8" fill="#365D8C"/>
<rect x="867.5" y="859.3" width="11.9" height="34.8" fill="#39578B"/>
<rect x="879" y="859.3" width="19.4" height="34.8" fill="#34B47A"/>
<rect x="898" y="859.3" width="19.2" height="34.8" fill="#3E4A88"/>
<rect x="916.8" y="859.3" width="20.8" height="34.8" fill="#2C738E"/>
<rect x="937.2" y="859.3" width="37.3" height="34.8" fill="#3E4A88"/>
<rect x="867.5" y="893.8" width="11.9" height="34.8" fill="#365D8C"/>
<rect x="879" y="893.8" width="19.4" height="34.8" fill="#21958B"/>
<rect x="898" y="893.8" width="19.2" height="34.8" fill="#39578B"/>
<rect x="916.8" y="893.8" width="20.8" height="34.8" fill="#26848D"/>
<rect x="937.2" y="893.8" width="37.3" height="34.8" fill="#365D8C"/>
<rect x="867.5" y="928.3" width="11.9" height="34.8" fill="#33628D"/>
<rect x="879" y="928.3" width="19.4" height="34.8" fill="#219A89"/>
<rect x="898" y="928.3" width="19.2" height="34.8" fill="#365D8C"/>
<rect x="916.8" y="928.3" width="20.8" height="34.8" fill="#22908C"/>
<rect x="937.2" y="928.3" width="37.3" height="34.8" fill="#2F6E8E"/>
<rect x="867.5" y="962.8" width="11.9" height="34.8" fill="#365D8C"/>
<rect x="879" y="962.8" width="19.4" height="34.8" fill="#287F8D"/>
<rect x="898" y="962.8" width="19.2" height="34.8" fill="#414487"/>
<rect x="916.8" y="962.8" width="20.8" height="34.8" fill="#3B508A"/>
<rect x="937.2" y="962.8" width="37.3" height="34.8" fill="#3E4A88"/>
<rect x="867.5" y="997.3" width="11.9" height="34.8" fill="#33628D"/>
<rect x="879" y="997.3" width="19.4" height="34.8" fill="#229F87"/>
<rect x="898" y="997.3" width="19.2" height="34.8" fill="#3E4A88"/>
<rect x="916.8" y="997.3" width="20.8" height="34.8" fill="#287F8D"/>
<rect x="937.2" y="997.3" width="37.3" height="34.8" fill="#365D8C"/>
<rect x="867.5" y="1031.8" width="11.9" height="34.8" fill="#31688D"/>
<rect x="879" y="1031.8" width="19.4" height="34.8" fill="#219A89"/>
<rect x="898" y="1031.8" width="19.2" height="34.8" fill="#33628D"/>
<rect x="916.8" y="1031.8" width="20.8" height="34.8" fill="#26848D"/>
<rect x="937.2" y="1031.8" width="37.3" height="34.8" fill="#31688D"/>
<rect x="867.5" y="1066.4" width="11.9" height="34.8" fill="#31688D"/>
<rect x="879" y="1066.4" width="19.4" height="34.8" fill="#229F87"/>
<rect x="898" y="1066.4" width="19.2" height="34.8" fill="#365D8C"/>
<rect x="916.8" y="1066.4" width="20.8" height="34.8" fill="#2C738E"/>
<rect x="937.2" y="1066.4" width="37.3" height="34.8" fill="#33628D"/>
<rect x="867.5" y="1100.9" width="11.9" height="34.8" fill="#2F6E8E"/>
<rect x="879" y="1100.9" width="19.4" height="34.8" fill="#22908C"/>
<rect x="898" y="1100.9" width="19.2" height="34.8" fill="#3B508A"/>
<rect x="916.8" y="1100.9" width="20.8" height="34.8" fill="#33628D"/>
<rect x="937.2" y="1100.9" width="37.3" height="34.8" fill="#39578B"/>
<rect x="867.5" y="1135.4" width="11.9" height="34.8" fill="#3E4A88"/>
<rect x="879" y="1135.4" width="19.4" height="34.8" fill="#26848D"/>
<rect x="898" y="1135.4" width="19.2" height="34.8" fill="#44367F"/>
<rect x="916.8" y="1135.4" width="20.8" height="34.8" fill="#365D8C"/>
<rect x="937.2" y="1135.4" width="37.3" height="34.8" fill="#44367F"/>
<rect x="867.5" y="1169.9" width="11.9" height="34.8" fill="#31688D"/>
<rect x="879" y="1169.9" width="19.4" height="34.8" fill="#248A8D"/>
<rect x="898" y="1169.9" width="19.2" height="34.8" fill="#365D8C"/>
<rect x="916.8" y="1169.9" width="20.8" height="34.8" fill="#31688D"/>
<rect x="937.2" y="1169.9" width="37.3" height="34.8" fill="#365D8C"/>
<rect x="867.5" y="1204.4" width="11.9" height="34.8" fill="#31688D"/>
<rect x="879" y="1204.4" width="19.4" height="34.8" fill="#248A8D"/>
<rect x="898" y="1204.4" width="19.2" height="34.8" fill="#365D8C"/>
<rect x="916.8" y="1204.4" width="20.8" height="34.8" fill="#2A798E"/>
<rect x="937.2" y="1204.4" width="37.3" height="34.8" fill="#31688D"/>
<rect x="867.5" y="1238.9" width="11.9" height="34.8" fill="#31688D"/>
<rect x="879" y="1238.9" width="19.4" height="34.8" fill="#219A89"/>
<rect x="898" y="1238.9" width="19.2" height="34.8" fill="#39578B"/>
<rect x="916.8" y="1238.9" width="20.8" height="34.8" fill="#31688D"/>
<rect x="937.2" y="1238.9" width="37.3" height="34.8" fill="#39578B"/>
<rect x="867.5" y="1273.4" width="11.9" height="34.8" fill="#39578B"/>
<rect x="879" y="1273.4" width="19.4" height="34.8" fill="#26848D"/>
<rect x="898" y="1273.4" width="19.2" height="34.8" fill="#3B508A"/>
<rect x="916.8" y="1273.4" width="20.8" height="34.8" fill="#33628D"/>
<rect x="937.2" y="1273.4" width="37.3" height="34.8" fill="#39578B"/>
<rect x="974.1" y="790.3" width="18.7" height="34.8" fill="#287F8D"/>
<rect x="992.4" y="790.3" width="26.6" height="34.8" fill="#4FC36A"/>
<rect x="1018.6" y="790.3" width="17.8" height="34.8" fill="#229F87"/>
<rect x="1036" y="790.3" width="13.4" height="34.8" fill="#26848D"/>
<rect x="974.1" y="824.8" width="18.7" height="34.8" fill="#2C738E"/>
<rect x="992.4" y="824.8" width="26.6" height="34.8" fill="#287F8D"/>
<rect x="1018.6" y="824.8" width="17.8" height="34.8" fill="#31688D"/>
<rect x="1036" y="824.8" width="13.4" height="34.8" fill="#31688D"/>
<rect x="974.1" y="859.3" width="18.7" height="34.8" fill="#3E4A88"/>
<rect x="992.4" y="859.3" width="26.6" height="34.8" fill="#2C738E"/>
<rect x="1018.6" y="859.3" width="17.8" height="34.8" fill="#414487"/>
<rect x="1036" y="859.3" width="13.4" height="34.8" fill="#414487"/>
<rect x="974.1" y="893.8" width="18.7" height="34.8" fill="#287F8D"/>
<rect x="992.4" y="893.8" width="26.6" height="34.8" fill="#22908C"/>
<rect x="1018.6" y="893.8" width="17.8" height="34.8" fill="#2F6E8E"/>
<rect x="1036" y="893.8" width="13.4" height="34.8" fill="#2C738E"/>
<rect x="974.1" y="928.3" width="18.7" height="34.8" fill="#22908C"/>
<rect x="992.4" y="928.3" width="26.6" height="34.8" fill="#229F87"/>
<rect x="1018.6" y="928.3" width="17.8" height="34.8" fill="#22908C"/>
<rect x="1036" y="928.3" width="13.4" height="34.8" fill="#287F8D"/>
<rect x="974.1" y="962.8" width="18.7" height="34.8" fill="#433D83"/>
<rect x="992.4" y="962.8" width="26.6" height="34.8" fill="#2A798E"/>
<rect x="1018.6" y="962.8" width="17.8" height="34.8" fill="#39578B"/>
<rect x="1036" y="962.8" width="13.4" height="34.8" fill="#433D83"/>
<rect x="974.1" y="997.3" width="18.7" height="34.8" fill="#22908C"/>
<rect x="992.4" y="997.3" width="26.6" height="34.8" fill="#22A485"/>
<rect x="1018.6" y="997.3" width="17.8" height="34.8" fill="#22908C"/>
<rect x="1036" y="997.3" width="13.4" height="34.8" fill="#26848D"/>
<rect x="974.1" y="1031.8" width="18.7" height="34.8" fill="#287F8D"/>
<rect x="992.4" y="1031.8" width="26.6" height="34.8" fill="#22908C"/>
<rect x="1018.6" y="1031.8" width="17.8" height="34.8" fill="#2C738E"/>
<rect x="1036" y="1031.8" width="13.4" height="34.8" fill="#2C738E"/>
<rect x="974.1" y="1066.4" width="18.7" height="34.8" fill="#26848D"/>
<rect x="992.4" y="1066.4" width="26.6" height="34.8" fill="#22908C"/>
<rect x="1018.6" y="1066.4" width="17.8" height="34.8" fill="#2A798E"/>
<rect x="1036" y="1066.4" width="13.4" height="34.8" fill="#2C738E"/>
<rect x="974.1" y="1100.9" width="18.7" height="34.8" fill="#2A798E"/>
<rect x="992.4" y="1100.9" width="26.6" height="34.8" fill="#248A8D"/>
<rect x="1018.6" y="1100.9" width="17.8" height="34.8" fill="#287F8D"/>
<rect x="1036" y="1100.9" width="13.4" height="34.8" fill="#2C738E"/>
<rect x="974.1" y="1135.4" width="18.7" height="34.8" fill="#365D8C"/>
<rect x="992.4" y="1135.4" width="26.6" height="34.8" fill="#24AA83"/>
<rect x="1018.6" y="1135.4" width="17.8" height="34.8" fill="#287F8D"/>
<rect x="1036" y="1135.4" width="13.4" height="34.8" fill="#433D83"/>
<rect x="974.1" y="1169.9" width="18.7" height="34.8" fill="#2C738E"/>
<rect x="992.4" y="1169.9" width="26.6" height="34.8" fill="#22A485"/>
<rect x="1018.6" y="1169.9" width="17.8" height="34.8" fill="#26848D"/>
<rect x="1036" y="1169.9" width="13.4" height="34.8" fill="#2C738E"/>
<rect x="974.1" y="1204.4" width="18.7" height="34.8" fill="#2C738E"/>
<rect x="992.4" y="1204.4" width="26.6" height="34.8" fill="#26848D"/>
<rect x="1018.6" y="1204.4" width="17.8" height="34.8" fill="#2C738E"/>
<rect x="1036" y="1204.4" width="13.4" height="34.8" fill="#2C738E"/>
<rect x="974.1" y="1238.9" width="18.7" height="34.8" fill="#3B508A"/>
<rect x="992.4" y="1238.9" width="26.6" height="34.8" fill="#2C738E"/>
<rect x="1018.6" y="1238.9" width="17.8" height="34.8" fill="#39578B"/>
<rect x="1036" y="1238.9" width="13.4" height="34.8" fill="#3B508A"/>
<rect x="974.1" y="1273.4" width="18.7" height="34.8" fill="#33628D"/>
<rect x="992.4" y="1273.4" width="26.6" height="34.8" fill="#22A485"/>
<rect x="1018.6" y="1273.4" width="17.8" height="34.8" fill="#287F8D"/>
<rect x="1036" y="1273.4" width="13.4" height="34.8" fill="#33628D"/>
<rect x="1049" y="790.3" width="13.5" height="34.8" fill="#21958B"/>
<rect x="1062.1" y="790.3" width="12.6" height="34.8" fill="#365D8C"/>
<rect x="1049" y="824.8" width="13.5" height="34.8" fill="#287F8D"/>
<rect x="1062.1" y="824.8" width="12.6" height="34.8" fill="#33628D"/>
<rect x="1049" y="859.3" width="13.5" height="34.8" fill="#248A8D"/>
<rect x="1062.1" y="859.3" width="12.6" height="34.8" fill="#39578B"/>
<rect x="1049" y="893.8" width="13.5" height="34.8" fill="#26848D"/>
<rect x="1062.1" y="893.8" width="12.6" height="34.8" fill="#33628D"/>
<rect x="1049" y="928.3" width="13.5" height="34.8" fill="#287F8D"/>
<rect x="1062.1" y="928.3" width="12.6" height="34.8" fill="#33628D"/>
<rect x="1049" y="962.8" width="13.5" height="34.8" fill="#248A8D"/>
<rect x="1062.1" y="962.8" width="12.6" height="34.8" fill="#31688D"/>
<rect x="1049" y="997.3" width="13.5" height="34.8" fill="#2A798E"/>
<rect x="1062.1" y="997.3" width="12.6" height="34.8" fill="#365D8C"/>
<rect x="1049" y="1031.8" width="13.5" height="34.8" fill="#26848D"/>
<rect x="1062.1" y="1031.8" width="12.6" height="34.8" fill="#33628D"/>
<rect x="1049" y="1066.4" width="13.5" height="34.8" fill="#26848D"/>
<rect x="1062.1" y="1066.4" width="12.6" height="34.8" fill="#33628D"/>
<rect x="1049" y="1100.9" width="13.5" height="34.8" fill="#287F8D"/>
<rect x="1062.1" y="1100.9" width="12.6" height="34.8" fill="#33628D"/>
<rect x="1049" y="1135.4" width="13.5" height="34.8" fill="#22908C"/>
<rect x="1062.1" y="1135.4" width="12.6" height="34.8" fill="#3B508A"/>
<rect x="1049" y="1169.9" width="13.5" height="34.8" fill="#287F8D"/>
<rect x="1062.1" y="1169.9" width="12.6" height="34.8" fill="#3B508A"/>
<rect x="1049" y="1204.4" width="13.5" height="34.8" fill="#2C738E"/>
<rect x="1062.1" y="1204.4" width="12.6" height="34.8" fill="#31688D"/>
<rect x="1049" y="1238.9" width="13.5" height="34.8" fill="#22908C"/>
<rect x="1062.1" y="1238.9" width="12.6" height="34.8" fill="#2C738E"/>
<rect x="1049" y="1273.4" width="13.5" height="34.8" fill="#219A89"/>
<rect x="1062.1" y="1273.4" width="12.6" height="34.8" fill="#287F8D"/>
<rect x="1074.3" y="790.3" width="13" height="34.8" fill="#39578B"/>
<rect x="1086.9" y="790.3" width="14" height="34.8" fill="#33628D"/>
<rect x="1074.3" y="824.8" width="13" height="34.8" fill="#22908C"/>
<rect x="1086.9" y="824.8" width="14" height="34.8" fill="#26848D"/>
<rect x="1074.3" y="859.3" width="13" height="34.8" fill="#414487"/>
<rect x="1086.9" y="859.3" width="14" height="34.8" fill="#31688D"/>
<rect x="1074.3" y="893.8" width="13" height="34.8" fill="#31688D"/>
<rect x="1086.9" y="893.8" width="14" height="34.8" fill="#2C738E"/>
<rect x="1074.3" y="928.3" width="13" height="34.8" fill="#31688D"/>
<rect x="1086.9" y="928.3" width="14" height="34.8" fill="#2C738E"/>
<rect x="1074.3" y="962.8" width="13" height="34.8" fill="#26848D"/>
<rect x="1086.9" y="962.8" width="14" height="34.8" fill="#21958B"/>
<rect x="1074.3" y="997.3" width="13" height="34.8" fill="#39578B"/>
<rect x="1086.9" y="997.3" width="14" height="34.8" fill="#33628D"/>
<rect x="1074.3" y="1031.8" width="13" height="34.8" fill="#33628D"/>
<rect x="1086.9" y="1031.8" width="14" height="34.8" fill="#2C738E"/>
<rect x="1074.3" y="1066.4" width="13" height="34.8" fill="#39578B"/>
<rect x="1086.9" y="1066.4" width="14" height="34.8" fill="#2A798E"/>
<rect x="1074.3" y="1100.9" width="13" height="34.8" fill="#2C738E"/>
<rect x="1086.9" y="1100.9" width="14" height="34.8" fill="#2C738E"/>
<rect x="1074.3" y="1135.4" width="13" height="34.8" fill="#365D8C"/>
<rect x="1086.9" y="1135.4" width="14" height="34.8" fill="#2C738E"/>
<rect x="1074.3" y="1169.9" width="13" height="34.8" fill="#2C738E"/>
<rect x="1086.9" y="1169.9" width="14" height="34.8" fill="#248A8D"/>
<rect x="1074.3" y="1204.4" width="13" height="34.8" fill="#31688D"/>
<rect x="1086.9" y="1204.4" width="14" height="34.8" fill="#287F8D"/>
<rect x="1074.3" y="1238.9" width="13" height="34.8" fill="#287F8D"/>
<rect x="1086.9" y="1238.9" width="14" height="34.8" fill="#26848D"/>
<rect x="1074.3" y="1273.4" width="13" height="34.8" fill="#3E4A88"/>
<rect x="1086.9" y="1273.4" width="14" height="34.8" fill="#31688D"/>
<rect x="1100.5" y="790.3" width="11.9" height="34.8" fill="#3E4A88"/>
<rect x="1112" y="790.3" width="11.8" height="34.8" fill="#3E4A88"/>
<rect x="1100.5" y="824.8" width="11.9" height="34.8" fill="#287F8D"/>
<rect x="1112" y="824.8" width="11.8" height="34.8" fill="#287F8D"/>
<rect x="1100.5" y="859.3" width="11.9" height="34.8" fill="#219A89"/>
<rect x="1112" y="859.3" width="11.8" height="34.8" fill="#219A89"/>
<rect x="1100.5" y="893.8" width="11.9" height="34.8" fill="#248A8D"/>
<rect x="1112" y="893.8" width="11.8" height="34.8" fill="#248A8D"/>
<rect x="1100.5" y="928.3" width="11.9" height="34.8" fill="#2C738E"/>
<rect x="1112" y="928.3" width="11.8" height="34.8" fill="#2C738E"/>
<rect x="1100.5" y="962.8" width="11.9" height="34.8" fill="#433D83"/>
<rect x="1112" y="962.8" width="11.8" height="34.8" fill="#433D83"/>
<rect x="1100.5" y="997.3" width="11.9" height="34.8" fill="#22A485"/>
<rect x="1112" y="997.3" width="11.8" height="34.8" fill="#22A485"/>
<rect x="1100.5" y="1031.8" width="11.9" height="34.8" fill="#22908C"/>
<rect x="1112" y="1031.8" width="11.8" height="34.8" fill="#22908C"/>
<rect x="1100.5" y="1066.4" width="11.9" height="34.8" fill="#22908C"/>
<rect x="1112" y="1066.4" width="11.8" height="34.8" fill="#22908C"/>
<rect x="1100.5" y="1100.9" width="11.9" height="34.8" fill="#287F8D"/>
<rect x="1112" y="1100.9" width="11.8" height="34.8" fill="#287F8D"/>
<rect x="1100.5" y="1135.4" width="11.9" height="34.8" fill="#34B47A"/>
<rect x="1112" y="1135.4" width="11.8" height="34.8" fill="#2C738E"/>
<rect x="1100.5" y="1169.9" width="11.9" height="34.8" fill="#287F8D"/>
<rect x="1112" y="1169.9" width="11.8" height="34.8" fill="#287F8D"/>
<rect x="1100.5" y="1204.4" width="11.9" height="34.8" fill="#26848D"/>
<rect x="1112" y="1204.4" width="11.8" height="34.8" fill="#26848D"/>
<rect x="1100.5" y="1238.9" width="11.9" height="34.8" fill="#2C738E"/>
<rect x="1112" y="1238.9" width="11.8" height="34.8" fill="#2C738E"/>
<rect x="1100.5" y="1273.4" width="11.9" height="34.8" fill="#31688D"/>
<rect x="1112" y="1273.4" width="11.8" height="34.8" fill="#31688D"/>
<g transform="translate(99 0) scale(1.1 1)" stroke-width="34.8" fill="none">
<path d="M0 807.6H909" stroke="#27808D" stroke-dasharray="1 1 1 2 2 2 1 5 2 1 1 2 2 1 1 3 1 4 1 1 2 3 1 7 1 3 1 1 2 1 1 1 1 4 1 2 2 2 1 12 3 1 2 2 1 28 1 7 1 13 1 5 1 17 1 36 1 5 1 2 1 1 1 8 2 8 1 14 2 8 1 3 1 3 1 11 1 1 1 26 1 1 1 15 1 5 1 4 1 1 2 8 2 1 1 2 1 5 1 5 2 1 1 3 1 15 1 61 1 6 1 3 1 26 1 3 1 2 1 1 2 5 1 2 1 2 1 2 1 3 1 1 1 1 1 2 1 7 1 4 1 150 1 28 2 4 1 21 1 1 2 85 1 10 1 21 1 9 1 21 1 6 1 9999"/>
<path d="M3 807.6H922" stroke="#375A8C" stroke-dasharray="1 68 1 10 1 3 1 5 1 54 1 6 1 7 2 1 1 9 2 8 1 234 3 6 1 4 2 4 1 4 1 28 1 34 2 18 1 180 1 20 1 3 1 3 1 26 2 4 1 3 1 2 1 4 1 24 1 106 1 3 1 9999"/>
<path d="M13 807.6H903" stroke="#404587" stroke-dasharray="1 6 1 37 1 6 1 152 1 4 1 28 1 18 1 2 1 2 1 28 1 36 1 151 1 17 1 6 1 206 1 7 1 12 1 146 1 6 1 9999"/>
<path d="M14 807.6H888" stroke="#21928B" stroke-dasharray="1 11 1 29 1 22 1 10 1 3 1 3 1 2 1 2 2 3 2 2 1 6 1 96 1 28 1 40 1 2 1 67 1 17 1 3 1 22 1 4 1 3 1 38 1 13 1 4 1 11 1 2 1 3 1 37 2 4 1 1 1 10 1 22 1 9 1 74 1 22 1 6 1 3 2 16 1 6 3 30 1 51 1 2 1 2 1 4 1 3 1 10 1 35 1 24 1 1 1 9999"/>
<path d="M32 807.6H874" stroke="#22A485" stroke-dasharray="1 89 1 7 1 99 1 128 1 18 1 6 1 3 1 2 1 1 1 11 1 8 1 72 1 3 1 5 1 15 1 41 1 4 1 8 1 24 1 3 1 4 1 19 1 2 1 4 1 10 1 6 1 1 1 2 1 6 1 5 2 1 2 2 1 10 1 113 1 1 1 31 1 5 1 11 2 5 1 4 1 8 1 9999"/>
<path d="M99 807.6H931" stroke="#2F6D8E" stroke-dasharray="1 51 1 27 1 2 1 2 1 21 1 1 1 11 1 5 1 5 1 1 1 3 1 3 1 10 1 1 3 1 3 2 1 12 1 1 1 3 3 4 2 2 5 15 1 8 2 12 1 9 1 2 1 13 1 16 1 8 1 32 1 7 1 27 1 220 1 10 1 1 2 3 2 33 1 17 1 4 2 3 1 16 1 1 1 2 1 18 1 53 2 4 1 12 1 1 1 2 2 1 1 3 1 4 2 21 1 9 1 3 1 9999"/>
<path d="M123 807.6H871" stroke="#35B579" stroke-dasharray="1 7 1 5 1 4 1 315 1 3 1 5 1 5 1 2 1 1 1 3 1 69 1 1 1 4 1 11 2 8 1 3 2 9 2 2 1 1 1 2 1 2 1 9 1 9 1 5 1 8 1 2 1 61 1 106 2 5 1 1 1 1 1 13 1 1 1 2 1 2 1 11 1 8 1 9999"/>
<path d="M145 807.6H929" stroke="#433B82" stroke-dasharray="1 8 1 13 1 258 1 1 1 272 1 5 1 19 2 9 1 2 1 26 1 126 1 27 1 3 1 9999"/>
<path d="M375 807.6H849" stroke="#55C566" stroke-dasharray="1 1 1 10 1 20 1 3 2 2 1 53 1 6 1 359 2 8 1 9999"/>
<path d="M379 807.6H836" stroke="#7FD24E" stroke-dasharray="1 6 1 17 1 138 2 6 1 11 2 11 1 15 1 14 1 3 1 1 2 2 1 5 1 4 1 9 1 9 2 8 1 1 2 1 1 2 2 158 1 2 1 5 1 9999"/>
<path d="M552 807.6H683" stroke="#B1DD2D" stroke-dasharray="1 4 1 13 1 19 1 10 1 9 1 8 2 17 1 35 1 5 1 9999"/>
<path d="M0 842.1H928" stroke="#21928B" stroke-dasharray="1 2 1 7 1 3 2 3 1 2 1 1 1 9 2 1 2 3 1 5 1 2 1 17 1 6 3 3 1 6 1 1 1 6 1 5 1 3 1 1 1 4 1 2 1 2 2 11 1 2 2 27 1 19 1 5 1 26 1 3 1 6 1 8 1 23 1 28 1 17 1 3 1 9 1 5 1 1 1 11 1 1 1 4 1 2 1 2 1 4 1 87 1 1 1 2 1 1 2 1 1 5 1 4 2 1 1 1 1 2 2 21 2 20 2 18 1 9 1 9 1 1 1 4 1 2 1 3 1 7 2 7 1 16 1 1 1 2 1 2 2 1 1 2 1 4 1 1 1 2 1 4 1 6 1 9 1 11 1 26 1 24 1 1 1 20 1 7 1 5 1 36 2 3 1 10 1 8 1 1 1 3 1 1 1 2 1 4 1 1 1 15 1 8 1 19 1 15 2 2 1 6 1 2 1 3 1 3 1 1 1 1 1 9999"/>
<path d="M10 842.1H876" stroke="#375A8C" stroke-dasharray="1 1 1 1 1 4 1 4 1 6 1 5 1 9 1 12 1 27 1 6 1 5 2 7 1 4 1 26 1 53 1 31 1 25 1 24 1 5 1 43 1 16 1 127 1 37 1 4 1 122 1 103 1 5 1 54 1 31 1 19 1 5 1 11 1 9999"/>
<path d="M13 842.1H893" stroke="#35B579" stroke-dasharray="1 356 1 14 1 16 1 10 1 65 1 84 1 20 1 9 1 4 1 18 1 6 1 3 1 15 1 7 2 1 2 1 2 1 1 4 2 6 1 3 4 4 1 7 1 195 1 9999"/>
<path d="M30 842.1H914" stroke="#22A485" stroke-dasharray="1 32 1 102 1 13 1 105 1 45 1 11 1 11 1 9 1 6 1 3 1 2 1 2 1 8 2 1 1 1 1 6 1 2 1 3 1 180 1 12 1 22 1 68 1 14 1 3 2 1 1 134 1 19 1 12 1 3 1 1 2 14 1 3 1 9999"/>
<path d="M40 842.1H896" stroke="#27808D" stroke-dasharray="1 1 1 11 1 2 2 17 1 68 1 1 1 2 1 5 1 13 1 5 1 8 1 3 1 11 1 7 1 5 2 16 1 2 1 5 1 5 2 2 1 4 1 1 1 10 3 5 1 2 1 6 2 7 1 3 1 1 2 1 4 4 1 7 2 2 2 7 3 3 1 1 1 5 1 1 1 23 1 32 1 6 1 11 1 2 1 2 1 9 3 2 1 35 1 2 1 2 1 24 1 6 2 5 1 51 1 4 1 56 1 8 1 22 1 24 1 2 1 22 1 11 1 4 1 1 1 2 1 2 1 5 1 1 1 13 1 18 1 16 1 31 1 1 1 1 2 1 2 11 2 19 2 11 1 9999"/>
<path d="M151 842.1H921" stroke="#2F6D8E" stroke-dasharray="1 11 2 3 1 2 1 10 1 182 1 1 1 8 1 7 1 33 1 16 1 24 1 98 1 84 1 3 1 75 1 3 1 5 1 30 2 2 1 6 1 1 1 2 1 8 1 2 1 1 1 16 1 21 2 42 1 29 1 1 1 5 1 1 1 1 1 9999"/>
<path d="M161 842.1H781" stroke="#404587" stroke-dasharray="1 32 1 10 1 5 1 38 2 6 1 60 1 100 2 10 1 58 1 17 1 191 1 30 1 2 1 44 1 9999"/>
<path d="M391 842.1H694" stroke="#55C566" stroke-dasharray="1 150 1 3 1 3 1 2 1 16 1 3 1 19 1 4 1 4 1 3 1 1 1 1 1 4 1 5 1 15 1 11 1 10 1 11 1 10 1 7 1 9999"/>
<path d="M531 842.1H532" stroke="#B1DD2D" stroke-dasharray="1 9999"/>
<path d="M533 842.1H541" stroke="#FDE725" stroke-dasharray="1 6 1 9999"/>
<path d="M690 842.1H691" stroke="#7FD24E" stroke-dasharray="1 9999"/>
<path d="M0 876.6H897" stroke="#375A8C" stroke-dasharray="1 20 2 4 2 5 1 5 1 1 2 1 2 8 1 3 1 8 1 3 1 1 2 15 1 1 1 33 1 19 2 1 1 4 1 2 3 2 4 1 1 6 3 59 1 2 2 3 1 8 1 1 1 1 1 1 1 1 1 1 1 5 1 8 1 5 1 16 1 1 1 10 1 2 2 4 1 3 2 6 1 2 1 8 1 2 1 9 1 5 1 55 1 95 1 6 1 171 1 30 1 2 2 3 1 17 1 3 1 5 1 4 1 3 1 6 1 7 1 1 1 4 1 2 1 5 1 4 1 21 1 3 1 1 1 2 2 11 1 6 1 1 1 27 1 1 1 2 1 9999"/>
<path d="M6 876.6H889" stroke="#433B82" stroke-dasharray="1 8 3 2 1 11 1 4 1 16 1 7 3 1 1 17 1 86 1 6 2 8 1 53 1 10 1 1 1 11 1 1 1 3 1 4 1 2 1 7 1 7 1 13 1 18 1 2 1 4 1 25 1 55 1 9 2 75 1 7 1 5 1 1 2 247 1 9 1 63 1 15 1 19 1 5 1 9999"/>
<path d="M11 876.6H893" stroke="#2F6D8E" stroke-dasharray="1 17 1 14 1 4 1 2 1 24 1 7 1 2 1 57 1 15 1 34 1 26 1 5 1 21 1 8 1 41 1 3 1 2 1 23 1 6 1 8 1 7 1 3 1 10 1 10 1 11 1 1 1 26 1 1 2 3 1 8 3 2 2 8 1 3 1 19 1 20 1 1 1 14 1 8 1 7 1 3 1 165 2 19 1 3 1 7 1 24 1 16 1 3 1 16 1 4 1 2 1 1 1 25 1 34 1 8 1 2 1 7 1 9999"/>
<path d="M69 876.6H924" stroke="#27808D" stroke-dasharray="1 27 1 14 1 4 1 1 1 9 1 1 1 7 1 2 1 2 1 47 1 1 1 5 2 2 1 4 1 5 1 1 1 57 1 40 1 34 1 7 1 4 1 3 1 5 1 7 1 22 1 29 1 8 1 38 1 15 1 199 1 44 1 2 1 8 1 29 1 12 1 6 1 13 1 1 1 5 1 28 1 21 1 20 3 6 1 1 1 10 1 9999"/>
<path d="M98 876.6H931" stroke="#35B579" stroke-dasharray="3 4 1 1 1 7 2 1 1 258 1 34 1 46 1 84 1 3 2 5 1 15 1 2 1 1 1 3 1 15 2 2 1 1 1 1 1 1 1 9 1 2 1 4 2 3 1 15 2 20 1 2 2 7 2 3 1 145 1 42 1 39 1 2 1 1 1 5 2 4 1 9999"/>
<path d="M103 876.6H930" stroke="#55C566" stroke-dasharray="1 10 1 19 1 2 1 2 1 231 1 1 1 3 1 3 1 7 1 10 1 2 1 11 1 128 1 42 1 120 1 4 1 207 1 6 1 9999"/>
<path d="M104 876.6H872" stroke="#21928B" stroke-dasharray="1 17 2 4 1 4 1 1 1 68 1 14 1 159 2 7 1 2 1 7 1 3 1 5 1 4 2 34 1 10 1 2 3 28 1 2 1 34 1 38 1 79 1 23 1 6 1 5 1 2 2 1 1 8 1 5 1 47 1 55 1 9 2 2 1 42 1 9999"/>
<path d="M109 876.6H687" stroke="#7FD24E" stroke-dasharray="1 493 1 47 1 25 1 8 1 9999"/>
<path d="M124 876.6H929" stroke="#22A485" stroke-dasharray="1 19 1 225 1 24 1 11 1 10 1 34 1 22 1 2 1 51 2 10 1 20 1 14 1 15 1 24 2 33 1 8 1 23 1 22 1 4 1 8 1 23 1 125 1 35 1 5 1 10 1 9999"/>
<path d="M189 876.6H513" stroke="#404587" stroke-dasharray="3 4 1 15 2 298 1 9999"/>
<path d="M547 876.6H676" stroke="#B1DD2D" stroke-dasharray="1 4 1 3 2 1 1 2 1 4 1 13 1 3 1 6 1 5 1 6 1 2 1 2 1 1 1 9 1 4 1 6 1 1 1 1 1 35 1 9999"/>
<path d="M2 911.1H931" stroke="#2F6D8E" stroke-dasharray="1 3 1 4 1 1 1 1 1 1 2 5 1 1 1 1 1 1 1 1 1 3 1 7 1 1 1 3 2 4 1 2 1 2 1 7 1 2 3 5 1 9 1 1 1 19 1 35 1 1 1 2 1 2 3 1 1 4 3 7 2 9 1 1 1 2 1 2 1 1 1 1 2 7 1 8 1 2 1 2 1 4 1 4 1 1 1 5 1 1 2 4 1 5 1 1 2 7 1 1 1 2 1 1 1 3 1 1 1 1 2 2 1 4 1 6 1 2 1 3 1 2 1 11 1 12 1 1 1 14 3 1 1 1 1 69 1 1 1 4 1 6 1 23 1 18 1 19 1 1 1 10 1 11 1 160 1 17 2 20 3 1 1 1 2 3 1 2 1 1 1 8 1 2 1 8 1 7 1 6 2 5 1 5 1 1 1 12 1 5 1 8 1 5 1 34 1 2 1 1 1 2 1 4 1 4 1 3 1 24 1 6 1 1 1 4 1 4 1 9999"/>
<path d="M3 911.1H929" stroke="#22A485" stroke-dasharray="1 84 1 36 1 5 1 2 2 7 1 246 1 13 1 11 1 49 1 16 1 67 1 32 1 4 1 2 1 17 1 2 1 3 1 1 1 17 1 6 1 11 1 12 1 9 1 2 1 3 1 23 1 3 1 3 1 29 1 5 1 43 1 16 1 11 1 3 1 26 1 30 1 23 1 2 1 11 1 9999"/>
<path d="M4 911.1H889" stroke="#404587" stroke-dasharray="1 4 1 9 1 13 1 19 1 15 1 9 1 12 1 112 1 4 1 45 1 5 1 25 1 14 1 5 1 10 2 1 1 32 1 12 1 335 1 77 2 103 1 9999"/>
<path d="M7 911.1H911" stroke="#27808D" stroke-dasharray="1 2 1 11 1 42 1 21 1 6 2 40 1 53 1 10 1 1 1 7 1 1 2 7 1 4 1 8 1 9 1 55 1 3 1 6 1 3 1 4 1 3 1 16 1 10 1 3 1 4 1 1 1 6 1 9 1 5 1 14 1 30 1 78 1 51 1 7 1 2 1 8 1 25 1 12 2 23 1 22 1 14 1 1 1 13 1 9 1 6 1 19 1 26 1 6 1 3 1 12 1 30 1 5 1 8 1 6 1 12 1 22 1 2 1 3 1 3 1 3 1 2 1 5 1 3 3 9999"/>
<path d="M8 911.1H924" stroke="#21928B" stroke-dasharray="1 33 1 4 1 32 1 9 1 5 1 2 1 1 1 3 2 8 2 30 1 58 1 71 1 10 1 49 1 110 1 5 3 12 1 3 1 77 1 2 1 15 1 5 1 4 1 3 1 3 1 11 1 3 1 33 1 10 1 4 1 13 1 71 1 8 1 5 1 2 1 8 1 14 1 20 1 4 1 33 1 17 1 4 1 1 1 3 1 15 1 8 1 23 1 9999"/>
<path d="M100 911.1H920" stroke="#35B579" stroke-dasharray="1 11 1 25 1 232 1 3 1 3 1 11 2 19 1 126 1 153 1 1 1 20 2 4 1 28 1 64 1 3 1 35 1 62 1 9999"/>
<path d="M108 911.1H904" stroke="#375A8C" stroke-dasharray="1 74 1 2 1 233 1 2 1 12 1 6 2 1 3 11 1 1 1 5 1 1 1 9 1 4 1 10 1 3 1 2 1 1 2 15 2 2 1 77 1 63 1 127 1 41 1 9 1 11 1 31 1 10 1 9999"/>
<path d="M155 911.1H518" stroke="#433B82" stroke-dasharray="1 4 1 3 1 87 1 57 1 22 1 1 2 9 1 74 1 20 1 45 2 3 1 3 1 19 1 9999"/>
<path d="M374 911.1H697" stroke="#55C566" stroke-dasharray="1 10 1 9 1 3 1 132 1 3 2 3 1 4 1 17 1 9 1 26 1 6 1 12 1 10 1 10 1 1 1 8 2 10 1 14 1 14 1 9999"/>
<path d="M530 911.1H698" stroke="#E2E425" stroke-dasharray="1 160 2 4 1 9999"/>
<path d="M531 911.1H532" stroke="#B1DD2D" stroke-dasharray="1 9999"/>
<path d="M544 911.1H681" stroke="#7FD24E" stroke-dasharray="1 7 1 4 1 2 1 10 1 10 1 3 1 9 1 2 2 13 1 1 1 6 1 22 1 3 1 10 1 5 1 12 1 9999"/>
<path d="M1 945.6H342" stroke="#433B82" stroke-dasharray="1 3 1 3 1 25 1 44 1 1 1 4 2 1 1 56 1 8 1 48 1 71 1 43 1 19 1 9999"/>
<path d="M2 945.6H883" stroke="#2F6D8E" stroke-dasharray="1 7 1 5 1 2 5 1 1 5 1 7 1 15 3 14 1 4 1 1 1 4 1 10 1 1 1 3 1 13 1 1 1 9 1 14 1 2 1 3 3 2 1 10 1 5 1 1 1 2 1 3 1 2 1 2 2 3 1 11 1 2 2 1 1 1 1 4 1 3 1 2 1 1 5 8 1 3 4 3 1 16 1 1 1 1 2 2 1 20 1 4 1 1 2 3 1 6 2 3 1 9 2 19 1 4 1 7 1 58 1 4 1 7 1 5 1 5 2 36 1 2 1 242 1 3 1 6 1 99 1 8 1 30 1 9999"/>
<path d="M40 945.6H931" stroke="#27808D" stroke-dasharray="1 2 2 1 1 5 1 11 1 11 1 4 1 9 1 10 2 3 2 11 2 9 3 2 1 1 1 4 2 45 1 2 1 1 1 26 1 8 1 1 2 12 1 11 1 5 1 22 1 4 1 11 2 16 2 6 1 7 1 13 1 11 1 6 1 15 2 13 1 2 1 17 2 2 1 2 1 6 1 5 1 4 1 7 1 9 1 3 1 3 1 3 1 3 1 3 1 4 2 4 2 1 1 8 2 1 1 9 2 17 1 45 1 49 1 21 1 28 1 9 1 5 1 22 1 4 1 39 1 6 1 6 2 2 1 24 1 3 1 18 1 1 1 7 1 29 2 2 1 3 1 1 1 3 1 4 1 7 1 2 1 6 3 3 1 7 1 9999"/>
<path d="M53 945.6H882" stroke="#404587" stroke-dasharray="2 41 1 3 1 15 1 2 1 15 1 21 1 9 1 20 1 7 3 2 1 15 1 14 1 3 1 16 1 22 1 3 1 27 1 1 1 1 1 27 1 16 1 8 2 68 1 8 1 38 1 6 1 13 1 10 1 1 1 215 1 44 1 97 1 3 1 9999"/>
<path d="M67 945.6H922" stroke="#375A8C" stroke-dasharray="1 709 1 4 1 1 1 10 1 59 1 8 1 25 1 23 1 6 1 9999"/>
<path d="M126 945.6H913" stroke="#21928B" stroke-dasharray="1 13 1 17 1 35 1 5 1 1 1 32 1 19 1 5 1 20 1 168 1 1 1 1 1 4 1 4 1 7 1 3 1 2 1 21 1 103 1 26 1 24 1 26 1 22 1 76 1 40 1 27 1 4 1 2 2 5 2 26 1 1 1 5 1 1 1 4 1 9999"/>
<path d="M362 945.6H889" stroke="#22A485" stroke-dasharray="1 7 1 5 3 6 1 1 1 24 1 118 1 33 1 16 1 10 1 6 1 28 2 4 1 7 1 18 2 3 1 1 1 3 2 8 1 10 1 17 1 1 1 2 1 25 2 6 2 2 1 3 2 38 1 3 1 7 1 25 2 18 1 2 1 27 1 9999"/>
<path d="M374 945.6H876" stroke="#35B579" stroke-dasharray="1 11 1 6 1 3 1 4 1 132 1 4 1 2 1 5 1 11 2 5 1 7 1 3 2 10 1 1 1 12 1 7 2 5 1 2 1 5 2 7 1 5 4 20 2 4 1 13 1 30 1 1 1 21 1 59 1 9 1 1 1 1 1 2 2 3 2 3 3 15 1 24 1 9999"/>
<path d="M399 945.6H847" stroke="#55C566" stroke-dasharray="1 138 1 159 1 26 1 87 1 32 1 9999"/>
<path d="M534 945.6H697" stroke="#FDE725" stroke-dasharray="1 2 1 155 1 1 2 9999"/>
<path d="M539 945.6H698" stroke="#E2E425" stroke-dasharray="1 152 1 4 1 9999"/>
<path d="M544 945.6H682" stroke="#B1DD2D" stroke-dasharray="1 6 1 6 2 6 1 4 1 11 2 2 1 13 1 3 1 2 1 11 1 6 1 14 1 11 1 13 1 9 1 2 1 9999"/>
<path d="M548 945.6H725" stroke="#7FD24E" stroke-dasharray="1 3 2 3 1 15 1 3 1 20 1 10 1 3 1 12 1 14 1 2 1 5 1 6 1 7 1 13 1 35 1 8 1 9999"/>
<path d="M0 980.1H879" stroke="#21928B" stroke-dasharray="1 2 1 7 1 15 1 12 1 9 1 9 1 12 1 3 1 13 1 2 1 18 1 5 1 3 1 5 1 4 2 1 1 1 1 2 1 15 1 2 1 26 1 4 1 9 1 7 1 14 2 1 1 3 1 3 1 11 1 3 1 2 1 4 2 3 1 4 1 8 2 1 1 13 3 2 1 2 1 4 1 1 1 10 3 1 1 1 2 1 1 3 1 4 1 1 1 65 1 8 1 3 1 16 1 18 1 1 1 3 1 1 1 8 2 9 1 1 1 1 1 3 1 4 2 7 1 1 1 1 1 7 1 5 1 6 1 10 1 19 1 1 1 4 1 34 1 21 1 16 1 3 1 3 1 12 1 17 1 10 1 16 2 99 1 5 3 3 1 20 1 28 1 1 2 9999"/>
<path d="M1 980.1H912" stroke="#27808D" stroke-dasharray="1 5 1 17 1 7 1 5 1 1 1 1 1 20 1 4 3 10 1 5 3 8 1 7 1 2 1 4 1 11 1 23 1 7 1 3 1 2 1 1 1 3 1 4 1 1 1 1 1 2 1 1 1 2 1 18 1 8 1 1 1 5 1 8 1 136 1 10 2 32 1 2 1 1 1 3 2 17 1 2 1 1 1 47 1 6 2 8 2 9 1 3 1 1 1 5 1 3 1 123 1 4 1 19 1 38 1 16 2 7 1 59 1 6 1 26 1 29 1 26 1 2 1 1 1 9999"/>
<path d="M10 980.1H928" stroke="#375A8C" stroke-dasharray="1 3 1 3 2 2 1 8 1 14 1 6 1 13 1 10 1 4 1 27 1 2 1 15 1 12 1 31 1 19 1 17 1 16 2 9 1 31 1 8 1 6 1 6 1 34 1 95 1 7 1 4 1 1 1 63 2 154 1 30 1 32 1 3 2 8 1 1 1 6 1 6 1 5 1 2 1 4 2 2 2 8 1 6 1 14 1 4 1 15 1 4 1 2 1 16 3 3 1 53 1 5 1 1 1 2 2 1 2 9999"/>
<path d="M26 980.1H908" stroke="#22A485" stroke-dasharray="1 5 1 14 1 54 1 13 1 24 1 93 1 4 1 26 1 2 1 22 1 13 1 31 1 9 1 3 1 4 1 1 1 1 2 4 2 71 1 11 1 20 1 5 1 1 1 20 1 44 1 5 1 2 1 3 1 13 1 3 1 7 1 12 1 10 1 9 4 16 1 1 1 10 1 6 1 12 1 5 1 7 2 7 1 17 1 96 1 17 1 2 1 55 1 4 1 2 1 3 1 5 1 9999"/>
<path d="M144 980.1H906" stroke="#35B579" stroke-dasharray="1 127 1 11 1 67 1 1 1 6 1 8 1 2 1 2 1 3 1 13 1 2 1 7 1 6 1 1 1 128 1 25 1 10 1 14 1 7 1 12 1 288 1 9999"/>
<path d="M156 980.1H916" stroke="#404587" stroke-dasharray="1 542 1 99 1 7 1 74 1 31 2 9999"/>
<path d="M257 980.1H894" stroke="#2F6D8E" stroke-dasharray="1 48 1 13 1 7 1 19 1 8 1 96 1 178 1 70 1 3 1 1 1 16 1 20 1 10 1 1 1 1 1 8 1 5 1 8 1 4 1 44 1 1 3 9 1 11 1 2 1 4 1 16 1 4 1 9999"/>
<path d="M379 980.1H684" stroke="#55C566" stroke-dasharray="1 16 1 192 2 22 1 17 1 14 1 12 1 15 1 7 1 9999"/>
<path d="M546 980.1H686" stroke="#7FD24E" stroke-dasharray="1 3 1 4 1 2 1 1 1 4 1 7 1 12 1 6 1 42 1 2 2 1 1 4 1 3 1 26 1 6 1 9999"/>
<path d="M733 980.1H860" stroke="#433B82" stroke-dasharray="1 19 1 4 1 1 1 3 1 8 1 12 1 2 1 69 1 9999"/>
<path d="M0 1014.6H907" stroke="#2F6D8E" stroke-dasharray="1 2 2 4 1 4 1 6 1 11 2 1 1 5 1 2 1 1 1 2 1 2 3 3 1 2 1 6 1 3 1 11 1 7 1 1 1 49 1 4 1 3 1 5 2 7 1 9 1 1 1 11 2 3 1 9 2 5 1 3 1 7 2 2 1 2 1 3 1 4 1 2 1 4 3 3 1 8 1 3 1 3 1 11 1 6 1 16 1 3 1 4 1 1 1 2 1 4 1 6 2 1 1 2 1 4 2 2 1 42 1 12 1 11 1 4 1 6 1 8 2 7 1 48 1 14 1 11 1 37 1 4 1 139 1 23 1 2 1 31 2 1 1 2 2 4 1 1 1 1 1 5 1 11 1 77 1 3 1 9 1 2 1 9 1 9999"/>
<path d="M10 1014.6H877" stroke="#433B82" stroke-dasharray="1 6 1 7 1 17 1 13 1 25 1 62 1 66 1 3 1 40 1 43 1 27 1 15 1 382 1 3 1 7 2 133 1 9999"/>
<path d="M13 1014.6H909" stroke="#27808D" stroke-dasharray="1 4 1 10 1 9 1 16 1 3 1 4 1 1 1 4 1 23 1 9 2 3 2 5 1 1 1 1 1 4 1 4 2 6 1 3 1 27 1 2 1 6 1 3 1 67 1 4 1 3 1 3 1 1 1 1 1 5 1 11 1 28 1 7 1 28 1 2 1 6 3 22 1 12 1 19 1 3 1 18 1 1 1 3 1 2 1 5 2 2 1 5 1 7 1 21 2 9 1 5 1 3 1 141 1 40 1 8 1 3 1 8 1 43 1 10 1 1 1 62 1 25 1 21 1 12 1 9999"/>
<path d="M19 1014.6H869" stroke="#375A8C" stroke-dasharray="1 2 1 79 1 14 1 33 1 7 1 4 1 1 1 6 1 3 1 182 1 93 1 281 3 1 1 11 1 7 1 107 1 9999"/>
<path d="M23 1014.6H910" stroke="#404587" stroke-dasharray="1 106 1 34 1 55 1 7 1 2 1 29 1 16 1 7 2 7 1 3 1 27 1 15 1 7 1 4 1 6 1 56 1 11 2 10 1 43 1 20 1 18 1 169 2 6 1 56 3 11 1 15 1 114 1 9999"/>
<path d="M98 1014.6H900" stroke="#21928B" stroke-dasharray="1 2 1 11 1 10 2 85 1 28 1 6 1 8 1 50 1 61 1 86 2 5 1 8 1 4 1 2 1 10 1 28 1 24 1 38 1 96 1 38 1 22 1 2 1 3 2 9 1 29 1 38 1 23 1 3 1 12 1 2 1 16 1 7 1 9999"/>
<path d="M109 1014.6H876" stroke="#22A485" stroke-dasharray="1 21 1 4 1 243 1 3 1 6 2 7 1 1 1 15 1 47 1 49 1 35 1 18 1 1 2 4 1 3 1 3 1 8 2 3 1 4 1 6 2 28 1 18 1 11 1 26 1 11 1 34 1 48 1 5 1 5 1 26 1 3 1 7 1 1 1 9 1 1 1 12 1 9999"/>
<path d="M370 1014.6H924" stroke="#55C566" stroke-dasharray="1 160 1 1 1 3 1 132 1 141 1 1 1 17 1 85 1 2 1 1 1 9999"/>
<path d="M377 1014.6H920" stroke="#35B579" stroke-dasharray="1 8 1 14 1 9 1 149 1 27 1 1 1 3 1 3 2 8 1 79 1 25 2 103 4 3 3 4 1 14 1 5 1 63 1 9999"/>
<path d="M530 1014.6H688" stroke="#7FD24E" stroke-dasharray="1 3 1 15 1 4 1 1 1 1 2 1 1 3 2 2 1 9 1 1 1 2 2 15 1 2 1 10 1 3 1 2 1 1 2 1 2 8 1 1 1 6 1 2 1 1 2 1 3 2 2 14 2 4 1 2 3 9999"/>
<path d="M546 1014.6H643" stroke="#B1DD2D" stroke-dasharray="1 46 1 48 1 9999"/>
<path d="M695 1014.6H699" stroke="#E2E425" stroke-dasharray="2 1 1 9999"/>
<path d="M1 1049.1H910" stroke="#27808D" stroke-dasharray="1 3 2 1 1 1 1 2 1 2 1 1 1 5 1 3 2 13 1 3 1 1 1 2 1 3 2 7 1 11 1 7 1 2 1 7 1 10 1 3 1 1 1 2 1 1 1 1 1 2 1 1 1 4 1 3 1 7 1 7 1 4 1 11 1 22 1 1 1 1 1 8 1 9 1 2 1 16 2 8 1 2 1 2 2 2 1 2 1 8 1 2 1 1 1 4 1 5 1 10 2 4 1 19 1 3 1 1 2 1 1 9 2 5 2 2 1 1 1 14 1 86 1 1 1 1 1 14 1 3 1 2 1 19 1 17 1 29 1 22 1 134 1 10 1 55 2 3 1 9 1 33 1 3 1 1 1 3 1 7 1 6 1 5 1 7 1 16 1 6 1 10 1 1 1 12 1 9999"/>
<path d="M3 1049.1H889" stroke="#404587" stroke-dasharray="1 37 1 2 1 14 1 13 1 2 1 5 1 6 1 4 1 58 1 35 1 5 2 3 3 2 1 1 1 15 1 11 1 1 1 25 1 9 1 8 1 1 1 4 1 22 1 7 1 25 1 5 1 89 1 7 2 33 1 5 1 18 1 17 1 211 1 32 1 18 1 91 1 3 1 9999"/>
<path d="M7 1049.1H908" stroke="#21928B" stroke-dasharray="1 30 1 28 2 30 1 9 1 4 1 14 1 5 1 38 1 29 1 23 1 9 1 3 1 45 1 72 1 5 1 27 1 2 1 59 1 6 1 54 1 32 1 8 1 3 1 18 1 38 1 4 1 42 1 11 1 2 1 19 1 39 1 2 1 1 1 14 1 6 1 2 1 28 1 43 1 22 1 13 1 3 1 12 2 1 1 9999"/>
<path d="M21 1049.1H929" stroke="#2F6D8E" stroke-dasharray="1 3 1 10 1 2 1 38 2 6 1 60 3 8 1 6 1 2 2 1 1 3 2 2 1 1 1 4 1 54 1 9 1 38 1 5 1 8 1 24 1 9 1 30 1 28 1 1 1 9 1 8 2 1 1 1 1 5 1 5 1 2 1 2 1 3 1 6 1 7 1 4 1 1 1 2 1 5 1 2 1 3 1 1 1 1 1 13 1 9 1 3 1 2 1 4 1 104 1 95 1 1 2 8 1 2 1 15 1 37 1 2 1 12 1 22 1 41 1 7 2 31 1 1 1 7 1 9999"/>
<path d="M102 1049.1H904" stroke="#375A8C" stroke-dasharray="2 6 1 6 1 9 1 4 1 5 1 220 2 66 1 9 1 268 1 103 1 26 1 5 1 18 2 39 1 9999"/>
<path d="M218 1049.1H930" stroke="#22A485" stroke-dasharray="1 59 1 42 1 65 1 1 3 1 1 5 1 3 1 1 1 4 1 136 1 7 1 20 1 3 3 14 1 12 1 1 1 15 1 5 1 5 1 7 1 1 1 23 2 3 1 11 1 3 1 20 1 80 1 4 1 10 1 3 1 3 1 1 1 7 1 1 2 31 1 1 1 6 1 36 1 1 1 4 1 1 1 1 3 1 1 1 1 9999"/>
<path d="M406 1049.1H931" stroke="#35B579" stroke-dasharray="1 8 1 116 1 10 1 16 1 13 2 16 1 18 1 9 2 9 1 6 1 2 1 3 1 62 1 1 1 106 1 22 1 88 1 9999"/>
<path d="M420 1049.1H530" stroke="#433B82" stroke-dasharray="1 4 1 3 1 1 1 8 1 88 1 9999"/>
<path d="M530 1049.1H713" stroke="#55C566" stroke-dasharray="1 3 1 119 1 13 3 12 1 2 1 6 1 3 1 14 1 9999"/>
<path d="M533 1049.1H690" stroke="#7FD24E" stroke-dasharray="1 6 1 3 1 14 1 5 1 4 1 6 1 1 1 10 2 1 1 1 2 3 1 3 1 3 2 6 1 3 1 2 1 1 2 3 1 4 1 2 1 6 1 5 1 4 1 3 1 3 1 6 1 5 1 11 1 9999"/>
<path d="M536 1049.1H537" stroke="#E2E425" stroke-dasharray="1 9999"/>
<path d="M538 1049.1H539" stroke="#FDE725" stroke-dasharray="1 9999"/>
<path d="M545 1049.1H695" stroke="#B1DD2D" stroke-dasharray="1 5 1 61 1 76 1 3 1 9999"/>
<path d="M0 1083.6H881" stroke="#27808D" stroke-dasharray="3 8 3 1 1 2 1 6 1 4 1 1 2 7 2 1 1 4 2 5 1 1 1 3 1 4 1 3 1 1 1 9 1 5 1 4 1 12 2 3 1 2 1 5 1 1 1 12 1 22 1 16 1 24 1 2 1 10 2 2 3 1 1 4 1 9 1 3 1 6 1 9 1 6 1 8 1 4 1 6 1 18 1 14 1 27 1 8 2 2 1 4 1 83 2 2 1 1 1 9 1 11 3 2 1 8 1 16 1 153 1 7 1 60 3 3 1 8 2 2 1 2 2 1 1 1 1 4 1 4 1 5 1 6 1 30 1 46 1 17 2 9999"/>
<path d="M8 1083.6H893" stroke="#404587" stroke-dasharray="1 34 1 4 1 10 1 4 1 11 1 15 1 59 1 25 1 2 1 47 1 2 1 41 1 16 1 11 1 13 1 24 1 18 1 60 1 7 1 12 1 9 1 12 1 15 1 19 1 24 1 179 1 30 1 29 1 4 1 11 2 4 1 1 1 87 1 10 1 9999"/>
<path d="M16 1083.6H895" stroke="#2F6D8E" stroke-dasharray="1 17 1 18 1 18 1 74 1 6 2 18 2 4 1 17 1 12 1 2 1 2 1 16 2 9 1 1 1 3 1 10 1 1 2 5 1 4 1 2 1 4 2 2 1 1 1 1 1 8 2 5 4 3 1 4 1 2 1 1 1 1 1 1 1 5 1 7 1 31 1 16 2 10 1 8 1 14 2 2 1 1 1 5 1 6 1 8 1 2 1 9 1 4 1 2 2 4 1 1 1 2 1 1 3 1 1 5 1 2 1 4 1 9 1 5 1 216 1 21 1 10 1 4 1 7 1 8 1 7 1 20 1 50 1 10 1 5 2 9999"/>
<path d="M20 1083.6H904" stroke="#21928B" stroke-dasharray="2 29 1 26 1 1 1 17 1 6 1 3 1 7 1 2 1 1 1 2 1 5 3 48 1 11 1 27 1 1 1 12 1 8 1 8 1 1 1 86 1 27 1 1 1 4 2 5 3 1 1 11 1 2 3 111 1 3 1 27 1 39 1 8 1 9 1 13 1 17 1 1 1 5 1 1 2 11 2 9 1 7 1 1 2 1 1 12 1 3 1 19 1 9 1 5 2 6 1 47 1 3 1 39 2 1 1 4 1 5 1 5 1 1 2 1 1 7 1 25 1 1 1 9999"/>
<path d="M79 1083.6H931" stroke="#22A485" stroke-dasharray="1 30 1 13 1 259 2 8 1 4 1 10 1 61 1 52 1 24 1 3 1 9 1 3 2 3 2 2 1 5 1 4 1 14 1 5 1 7 1 11 1 1 1 3 3 10 1 22 1 73 1 25 1 33 1 1 1 5 1 1 1 2 1 4 1 10 1 2 1 11 1 1 1 3 1 12 1 3 1 26 1 16 1 1 2 2 1 1 1 3 1 1 1 9999"/>
<path d="M99 1083.6H909" stroke="#375A8C" stroke-dasharray="2 13 1 14 1 37 1 241 1 275 1 65 1 5 1 80 1 19 1 41 1 7 1 9999"/>
<path d="M170 1083.6H428" stroke="#433B82" stroke-dasharray="1 6 1 95 1 54 1 3 1 18 1 75 1 9999"/>
<path d="M381 1083.6H874" stroke="#35B579" stroke-dasharray="1 171 1 32 1 14 1 6 1 10 2 5 1 5 1 27 1 27 1 2 1 2 1 1 1 12 2 1 1 3 2 4 1 97 1 15 1 3 1 28 1 3 1 9999"/>
<path d="M531 1083.6H532" stroke="#E2E425" stroke-dasharray="1 9999"/>
<path d="M536 1083.6H646" stroke="#7FD24E" stroke-dasharray="1 6 1 3 1 11 2 1 1 7 1 10 1 11 1 8 1 4 1 3 2 1 1 18 1 11 1 9999"/>
<path d="M541 1083.6H542" stroke="#FDE725" stroke-dasharray="1 9999"/>
<path d="M556 1083.6H722" stroke="#55C566" stroke-dasharray="1 56 1 42 1 10 1 1 2 4 1 3 3 31 1 7 1 9999"/>
<path d="M690 1083.6H693" stroke="#B1DD2D" stroke-dasharray="1 1 1 9999"/>
<path d="M7 1118.1H885" stroke="#404587" stroke-dasharray="1 3 1 3 1 6 2 4 1 15 1 10 1 3 1 12 1 6 1 2 1 62 1 18 1 47 1 63 2 10 1 63 1 6 1 59 1 8 1 27 1 19 1 6 1 23 1 17 2 236 1 9 1 106 2 2 1 9999"/>
<path d="M18 1118.1H911" stroke="#27808D" stroke-dasharray="1 10 1 17 1 4 3 10 3 9 1 14 1 2 1 1 1 2 3 14 2 4 1 14 1 4 1 17 1 3 1 2 3 4 1 3 1 3 1 2 4 9 1 5 1 9 1 2 2 1 1 11 1 8 2 1 1 3 1 12 1 4 2 6 1 2 1 23 1 3 1 3 1 6 1 8 1 5 1 8 2 6 1 3 1 3 1 6 1 3 1 1 1 4 1 4 1 6 1 2 1 9 1 1 1 14 1 5 1 11 1 7 1 2 1 5 1 9 1 2 1 1 1 11 1 4 3 3 1 10 1 6 1 8 1 100 1 50 1 30 2 1 2 2 1 15 1 22 2 5 1 1 1 30 1 9 1 12 1 49 1 2 1 15 2 5 1 2 1 5 1 8 1 3 2 1 1 9999"/>
<path d="M35 1118.1H924" stroke="#2F6D8E" stroke-dasharray="1 1 1 2 2 18 2 1 1 4 3 3 1 1 1 4 1 2 1 4 1 3 1 57 1 2 1 1 1 1 1 1 1 6 1 3 1 5 1 6 2 21 2 4 1 10 1 5 2 3 1 5 1 4 1 3 1 32 1 6 1 6 1 1 1 1 1 2 1 8 1 5 2 2 1 3 1 1 1 3 2 2 3 3 1 1 1 16 1 59 1 17 1 4 1 1 1 29 1 4 1 4 1 1 1 3 1 2 1 2 1 16 1 5 1 4 1 50 1 98 1 40 1 2 1 4 1 12 1 5 1 5 1 5 1 1 1 2 1 1 1 1 1 1 1 1 1 5 3 1 1 3 2 9 1 16 1 8 1 4 1 4 1 33 1 8 1 48 1 9999"/>
<path d="M42 1118.1H931" stroke="#21928B" stroke-dasharray="1 43 1 17 1 20 1 10 1 4 1 4 1 8 1 116 1 39 1 50 1 10 1 1 1 9 1 1 1 2 1 16 1 7 1 12 1 62 1 4 1 31 1 27 1 13 1 4 1 32 1 33 1 17 1 22 1 17 1 40 1 16 1 4 1 34 1 7 1 2 1 29 1 9 1 5 1 2 2 8 2 1 1 1 1 1 1 9 1 8 1 1 1 14 1 8 1 1 1 2 2 1 1 9999"/>
<path d="M109 1118.1H905" stroke="#375A8C" stroke-dasharray="1 261 1 10 1 24 1 3 1 2 1 314 1 1 1 122 1 13 2 34 1 9999"/>
<path d="M193 1118.1H917" stroke="#22A485" stroke-dasharray="1 2 1 192 1 157 1 24 1 1 1 14 1 7 1 2 1 5 1 19 1 4 1 13 2 4 1 1 1 1 1 7 2 11 1 2 1 32 2 10 1 74 1 5 1 7 1 1 1 3 2 6 1 2 1 15 1 9 1 25 1 33 1 9999"/>
<path d="M530 1118.1H930" stroke="#35B579" stroke-dasharray="1 20 1 1 1 5 1 1 1 6 2 11 1 2 1 9 1 3 1 16 1 12 1 7 1 1 1 8 1 4 1 61 1 87 1 14 1 15 1 30 1 64 1 9999"/>
<path d="M531 1118.1H537" stroke="#E2E425" stroke-dasharray="1 2 1 1 1 9999"/>
<path d="M532 1118.1H717" stroke="#55C566" stroke-dasharray="1 8 1 174 1 9999"/>
<path d="M538 1118.1H624" stroke="#B1DD2D" stroke-dasharray="1 84 1 9999"/>
<path d="M542 1118.1H697" stroke="#7FD24E" stroke-dasharray="1 1 1 7 1 9 1 4 1 2 1 15 1 6 1 1 1 7 1 12 1 7 2 1 1 2 1 3 2 6 1 1 1 4 1 8 1 3 1 4 2 5 2 12 1 4 1 2 1 9999"/>
<path d="M774 1118.1H795" stroke="#433B82" stroke-dasharray="1 19 1 9999"/>
<path d="M0 1152.6H931" stroke="#21928B" stroke-dasharray="1 17 1 30 1 22 1 9 1 288 1 25 1 9 1 4 1 1 1 115 1 3 1 13 3 11 1 4 1 2 1 2 1 13 1 17 1 10 1 30 1 8 1 1 2 1 1 7 1 6 1 12 1 1 1 24 1 1 2 4 1 24 1 47 1 9 1 19 1 18 1 47 1 5 2 5 1 22 1 9999"/>
<path d="M1 1152.6H914" stroke="#27808D" stroke-dasharray="2 12 1 1 1 3 1 7 2 11 1 1 1 2 2 4 1 2 2 1 1 1 1 23 1 28 1 23 1 55 1 14 1 71 1 98 1 21 1 33 1 13 1 2 2 14 1 2 1 36 1 48 1 6 1 11 1 64 1 17 1 12 1 16 1 3 1 1 1 64 1 41 1 9 1 8 1 65 1 1 1 5 1 13 1 1 2 9999"/>
<path d="M3 1152.6H894" stroke="#404587" stroke-dasharray="1 15 1 15 1 3 1 24 1 2 1 2 1 10 1 8 1 4 1 336 1 51 1 3 1 4 3 3 1 1 1 15 1 1 1 6 1 210 1 5 1 1 1 4 1 1 1 2 1 2 1 27 1 15 1 56 1 3 1 29 1 9999"/>
<path d="M4 1152.6H896" stroke="#2F6D8E" stroke-dasharray="1 1 1 2 1 4 1 5 1 11 1 8 1 12 1 19 2 4 1 3 1 4 1 25 1 51 1 22 1 2 1 4 2 2 1 1 1 7 3 6 1 4 2 2 1 3 1 16 1 1 1 25 2 3 1 13 1 15 1 8 1 11 2 23 1 4 1 1 1 52 1 108 1 24 1 150 1 1 1 5 1 6 1 33 1 43 1 9 1 29 2 31 1 3 1 4 1 6 1 7 1 9999"/>
<path d="M66 1152.6H930" stroke="#375A8C" stroke-dasharray="1 82 1 2 1 6 2 1 2 2 1 5 1 1 2 3 4 3 1 50 1 2 1 7 1 3 1 2 2 5 2 1 1 7 1 1 4 3 1 3 4 7 1 19 1 1 1 1 2 2 1 8 1 4 1 84 1 1 1 4 1 2 2 1 1 2 1 4 1 2 1 36 1 3 1 2 1 12 1 4 1 4 2 1 1 2 1 29 1 141 1 4 1 29 1 9 1 1 1 26 2 12 1 79 2 43 1 17 1 4 1 9999"/>
<path d="M98 1152.6H827" stroke="#55C566" stroke-dasharray="1 24 1 18 1 242 1 77 1 78 1 3 1 22 1 1 2 13 1 7 1 23 1 5 1 12 1 12 1 1 1 2 1 8 1 2 1 4 1 1 1 5 1 6 1 126 1 8 1 2 1 9999"/>
<path d="M104 1152.6H929" stroke="#22A485" stroke-dasharray="1 3 1 7 2 2 1 254 1 5 1 1 2 2 1 13 1 8 1 4 1 36 1 20 2 1 1 55 2 4 1 2 1 5 1 7 2 7 1 9 1 15 1 1 2 10 1 1 2 6 2 3 1 3 1 3 1 1 1 6 1 2 3 1 1 1 1 24 1 7 1 3 1 3 1 1 1 21 1 1 1 9 1 128 1 12 1 5 1 1 2 45 2 7 1 9999"/>
<path d="M107 1152.6H851" stroke="#35B579" stroke-dasharray="1 18 1 3 1 2 1 1 1 1 1 6 1 319 2 1 2 6 1 3 1 339 1 8 1 21 1 9999"/>
<path d="M124 1152.6H682" stroke="#7FD24E" stroke-dasharray="2 247 2 7 1 6 2 1 2 1 1 4 1 3 1 11 1 1 1 133 1 13 1 8 1 3 1 8 1 13 1 6 1 2 1 7 1 1 1 2 1 7 1 47 1 9999"/>
<path d="M155 1152.6H886" stroke="#433B82" stroke-dasharray="1 2 1 2 1 9 1 25 1 48 1 43 1 9 1 3 2 1 3 14 1 12 1 11 1 91 1 2 1 51 1 5 1 199 1 26 1 33 1 2 1 3 1 4 1 2 2 3 1 4 1 64 1 1 2 21 1 5 2 9999"/>
<path d="M3 1187.1H916" stroke="#22A485" stroke-dasharray="1 5 1 6 1 17 1 11 1 11 1 50 1 21 1 2 1 90 1 27 1 25 1 56 1 29 1 3 1 3 1 4 1 9 1 4 4 4 1 5 1 2 1 4 2 40 1 3 1 16 1 19 1 35 1 10 2 1 1 7 1 3 1 6 2 10 1 7 1 13 1 3 4 7 1 3 1 8 1 2 1 19 1 4 1 16 1 33 1 2 1 2 1 1 1 1 1 3 1 115 1 26 1 7 1 35 1 4 1 9999"/>
<path d="M4 1187.1H924" stroke="#21928B" stroke-dasharray="1 2 1 17 1 1 1 9 1 13 2 7 1 14 1 7 1 3 1 9 1 4 1 8 1 16 1 4 1 7 1 5 1 38 1 2 1 23 1 3 1 85 1 2 1 6 2 16 1 8 1 5 1 7 1 12 1 76 1 8 2 2 1 1 1 6 1 3 2 3 1 1 1 33 1 19 1 16 1 36 2 4 1 7 1 18 1 4 1 14 2 1 1 8 1 3 1 15 2 4 1 3 1 30 1 4 1 23 1 13 1 19 1 26 1 3 1 3 1 24 1 11 1 4 1 3 1 2 2 8 2 20 2 15 1 5 2 3 1 2 1 1 1 9999"/>
<path d="M10 1187.1H923" stroke="#375A8C" stroke-dasharray="1 13 1 29 1 8 1 15 1 9 1 5 1 5 1 8 1 3 1 8 2 1 1 72 1 5 1 33 1 84 1 14 1 5 1 7 1 9 1 88 1 33 1 21 1 1 1 4 1 12 1 31 1 59 1 178 1 63 1 1 1 53 1 2 1 9999"/>
<path d="M11 1187.1H894" stroke="#27808D" stroke-dasharray="3 5 1 6 1 4 1 7 2 2 2 2 1 2 1 5 1 2 1 2 1 1 1 1 1 2 1 4 1 5 1 5 1 13 1 4 1 1 2 6 1 6 1 4 1 8 1 6 1 2 1 2 1 3 2 1 1 4 2 1 1 3 1 1 1 1 1 5 1 3 2 4 1 17 1 1 1 1 1 1 1 6 1 9 2 3 1 1 1 8 2 3 1 9 1 2 1 6 1 3 4 2 1 3 2 2 1 2 3 1 2 3 1 14 2 4 1 4 1 3 1 3 1 2 1 5 2 4 1 35 1 17 1 25 1 4 1 3 1 2 2 3 1 1 1 25 1 1 1 8 1 1 2 2 2 1 1 6 1 5 1 8 1 2 1 2 1 35 1 5 1 17 1 43 1 7 1 66 1 1 1 2 1 20 1 14 1 3 1 1 1 2 2 2 1 7 1 3 1 43 1 40 1 40 1 9999"/>
<path d="M159 1187.1H787" stroke="#404587" stroke-dasharray="1 5 1 9 1 8 1 17 1 35 1 39 1 15 1 9 1 3 1 26 1 168 1 4 1 3 1 13 1 1 1 229 1 6 1 1 1 1 1 15 1 9999"/>
<path d="M166 1187.1H913" stroke="#2F6D8E" stroke-dasharray="1 13 1 183 1 8 1 4 1 175 1 45 1 130 1 2 1 4 1 32 1 3 3 57 2 3 1 7 1 17 1 2 1 4 1 7 1 16 1 4 1 6 1 9999"/>
<path d="M410 1187.1H821" stroke="#55C566" stroke-dasharray="1 3 1 130 1 7 1 12 1 22 2 1 1 4 1 7 1 4 1 8 1 2 1 1 1 11 1 14 1 4 2 2 1 1 1 3 1 1 1 4 1 8 1 4 1 128 1 3 1 9999"/>
<path d="M460 1187.1H925" stroke="#35B579" stroke-dasharray="1 69 1 1 1 4 2 152 1 2 1 19 1 98 1 1 1 7 1 6 1 2 1 1 1 25 1 40 1 21 1 9999"/>
<path d="M539 1187.1H540" stroke="#B1DD2D" stroke-dasharray="1 9999"/>
<path d="M563 1187.1H699" stroke="#7FD24E" stroke-dasharray="1 15 1 13 1 2 1 48 2 20 1 1 1 4 1 17 2 4 1 9999"/>
<path d="M876 1187.1H882" stroke="#433B82" stroke-dasharray="1 4 1 9999"/>
<path d="M5 1221.6H888" stroke="#27808D" stroke-dasharray="1 1 2 5 3 4 1 1 2 5 2 2 1 1 1 5 1 1 1 8 1 5 1 1 1 6 1 5 1 1 1 8 1 6 1 19 2 6 1 9 2 2 1 9 1 8 1 5 1 7 1 1 2 17 1 12 1 7 2 2 1 6 1 1 2 17 2 1 1 3 1 5 1 1 1 3 1 9 1 1 2 3 1 1 1 1 2 10 1 4 1 1 2 2 1 6 1 2 1 7 1 8 2 6 1 2 1 2 1 2 1 1 2 3 1 2 1 61 1 2 2 6 1 3 1 16 1 5 1 2 2 5 1 1 1 1 1 2 1 6 1 2 1 11 2 4 1 14 1 79 1 5 1 26 1 34 1 20 1 13 1 3 1 2 1 53 1 1 1 2 1 2 1 4 1 2 1 1 1 14 1 14 1 36 1 9 1 9 1 5 1 6 1 3 1 1 2 9999"/>
<path d="M9 1221.6H924" stroke="#21928B" stroke-dasharray="2 24 1 12 1 20 1 2 1 2 1 17 1 5 2 7 1 13 1 39 1 1 1 1 1 12 1 9 1 27 1 33 1 31 1 53 1 24 2 6 1 1 3 3 1 2 1 2 1 2 1 4 2 5 1 2 2 3 1 29 1 21 1 4 1 11 1 31 1 8 1 7 1 31 1 12 1 4 1 5 1 18 1 23 2 17 1 65 1 1 1 1 1 13 1 9 1 6 1 1 1 2 1 1 1 3 1 4 1 4 1 33 2 27 1 2 1 1 1 2 1 8 2 8 1 33 1 13 1 2 1 1 2 5 1 2 2 3 1 9999"/>
<path d="M12 1221.6H906" stroke="#375A8C" stroke-dasharray="1 9 1 2 1 3 1 3 1 13 1 4 1 11 1 16 1 1 2 4 1 19 1 6 1 10 1 9 1 214 2 6 1 6 1 1 1 21 1 17 1 2 2 53 1 290 1 2 1 19 1 16 1 55 1 36 1 5 1 7 1 9999"/>
<path d="M40 1221.6H929" stroke="#22A485" stroke-dasharray="1 39 1 54 1 128 1 89 1 42 1 2 1 9 1 256 1 13 1 15 1 20 2 1 1 26 1 1 1 43 1 28 1 8 1 1 1 35 1 29 1 19 1 7 1 9999"/>
<path d="M119 1221.6H913" stroke="#35B579" stroke-dasharray="1 20 1 249 1 151 1 2 2 2 1 1 1 3 1 3 1 1 2 19 1 4 1 2 2 4 1 2 1 29 1 2 1 3 1 8 1 2 1 11 1 1 1 8 2 5 1 5 3 1 1 2 1 110 1 109 1 9999"/>
<path d="M145 1221.6H928" stroke="#2F6D8E" stroke-dasharray="2 11 1 4 1 11 4 3 1 1 3 9 1 7 1 3 1 7 1 1 1 2 1 3 1 3 1 7 1 21 1 5 1 12 1 5 1 17 1 4 1 19 1 7 1 44 1 4 1 40 1 3 1 1 1 7 1 47 1 1 1 37 1 185 1 8 1 1 1 4 1 2 1 39 1 17 1 24 1 5 1 2 1 72 1 12 1 5 1 9 1 9999"/>
<path d="M157 1221.6H879" stroke="#404587" stroke-dasharray="1 3 1 19 1 17 1 5 1 1 1 22 1 24 1 1 1 10 1 40 1 16 1 1 1 1 1 15 1 87 1 8 1 30 1 21 1 4 1 9 1 9 1 2 1 1 1 2 1 208 1 2 1 34 1 5 3 3 1 89 1 9999"/>
<path d="M530 1221.6H614" stroke="#7FD24E" stroke-dasharray="1 5 1 17 1 34 1 3 1 9 1 8 2 9999"/>
<path d="M531 1221.6H536" stroke="#FDE725" stroke-dasharray="1 3 1 9999"/>
<path d="M539 1221.6H540" stroke="#B1DD2D" stroke-dasharray="1 9999"/>
<path d="M543 1221.6H697" stroke="#55C566" stroke-dasharray="1 9 1 10 1 1 2 3 1 23 1 1 1 17 2 18 1 32 1 6 1 20 1 9999"/>
<path d="M693 1221.6H694" stroke="#E2E425" stroke-dasharray="1 9999"/>
<path d="M0 1256.1H903" stroke="#2F6D8E" stroke-dasharray="1 58 1 4 1 6 1 4 1 74 1 6 2 5 2 3 1 3 1 38 1 3 1 39 1 29 1 3 1 1 1 15 1 4 1 24 1 20 1 5 1 31 1 8 1 5 1 6 2 6 1 2 1 15 2 48 1 16 1 3 1 1 1 4 1 202 1 1 3 2 1 2 1 1 1 31 1 1 2 2 1 2 1 3 2 1 1 1 1 1 1 6 1 2 1 4 1 3 1 31 1 1 1 5 3 48 1 9999"/>
<path d="M1 1256.1H919" stroke="#27808D" stroke-dasharray="2 7 1 6 1 3 2 1 1 8 1 1 1 1 1 1 1 6 1 2 1 2 1 2 2 4 1 1 1 1 1 7 1 1 1 4 2 1 1 3 1 6 1 3 1 2 1 1 2 3 1 1 2 1 1 10 1 4 1 1 1 3 1 2 1 17 2 9 2 7 1 1 1 5 1 1 1 12 1 1 1 5 1 7 1 2 1 1 1 1 1 5 1 5 1 6 1 2 1 4 1 13 4 3 2 6 3 3 1 1 1 15 1 2 1 16 1 6 1 2 2 7 1 4 1 7 1 10 1 1 1 51 1 4 1 4 1 2 1 1 1 6 1 2 1 1 1 6 1 1 1 3 1 6 2 11 3 6 1 2 1 8 2 1 1 1 1 13 1 4 1 1 1 3 1 4 1 91 1 10 1 38 1 16 1 5 1 2 1 6 1 4 1 7 1 2 1 12 1 3 1 3 3 3 1 1 1 2 1 24 1 10 1 35 1 3 1 24 1 13 1 12 1 25 1 1 2 1 2 9999"/>
<path d="M5 1256.1H768" stroke="#404587" stroke-dasharray="1 12 1 11 1 5 1 17 1 7 1 44 1 7 1 18 1 36 1 5 1 7 1 1 1 15 1 10 1 12 1 4 1 21 2 6 1 18 1 6 1 28 2 30 1 6 3 2 1 75 2 1 1 43 1 216 1 63 1 1 1 9999"/>
<path d="M19 1256.1H930" stroke="#21928B" stroke-dasharray="1 3 1 64 1 11 1 11 1 8 1 11 1 7 1 3 1 7 1 41 1 112 1 33 1 1 1 31 2 1 3 18 1 7 1 1 1 43 1 10 1 3 1 6 1 63 1 9 1 39 1 52 1 20 1 17 1 16 1 59 1 61 2 3 1 11 2 36 1 16 2 10 1 19 1 3 1 9999"/>
<path d="M69 1256.1H927" stroke="#22A485" stroke-dasharray="1 4 1 4 1 40 1 18 1 187 1 8 1 35 1 1 2 7 1 5 1 3 1 1 1 94 1 3 1 3 1 33 1 15 1 31 1 2 1 19 1 5 1 14 1 11 1 20 1 3 1 16 1 8 1 2 1 7 1 12 1 8 1 36 1 56 1 60 1 24 1 2 2 4 1 16 1 9999"/>
<path d="M126 1256.1H892" stroke="#375A8C" stroke-dasharray="1 10 1 320 1 11 1 327 1 2 1 6 1 52 1 1 1 13 2 12 1 9999"/>
<path d="M533 1256.1H869" stroke="#55C566" stroke-dasharray="1 334 1 9999"/>
<path d="M537 1256.1H677" stroke="#B1DD2D" stroke-dasharray="1 15 1 4 2 1 2 11 1 4 1 2 1 6 1 1 1 20 1 24 1 7 1 16 1 13 1 9999"/>
<path d="M542 1256.1H911" stroke="#35B579" stroke-dasharray="2 11 1 7 1 2 1 11 1 2 1 2 1 21 1 3 1 2 1 3 1 7 2 4 2 14 1 1 1 16 2 6 1 13 1 25 1 2 1 95 1 92 1 3 1 9999"/>
<path d="M551 1256.1H698" stroke="#7FD24E" stroke-dasharray="1 4 1 16 1 2 1 8 1 7 1 3 1 10 1 2 1 7 2 7 1 4 1 10 1 8 1 1 1 4 1 4 1 2 1 11 1 14 1 1 1 9999"/>
<path d="M733 1256.1H863" stroke="#433B82" stroke-dasharray="1 30 1 17 1 27 1 29 1 14 1 6 1 9999"/>
<path d="M2 1290.6H859" stroke="#404587" stroke-dasharray="1 11 2 10 1 26 2 21 1 11 1 2 1 54 1 7 1 2 2 19 1 13 1 4 1 27 1 21 1 16 1 10 1 64 1 12 1 83 1 2 1 87 1 214 2 1 1 1 1 1 1 25 1 27 2 1 1 45 1 4 1 9999"/>
<path d="M6 1290.6H931" stroke="#27808D" stroke-dasharray="1 2 1 7 2 4 1 3 1 2 1 7 2 2 2 3 1 2 2 4 2 5 1 3 2 8 2 2 3 6 1 1 2 4 1 2 1 4 1 10 2 1 1 19 1 57 1 8 1 2 2 3 1 1 1 4 2 2 1 6 1 1 1 1 1 7 1 6 1 19 2 2 3 2 1 2 1 7 1 5 1 2 1 2 1 5 1 9 3 4 1 2 1 1 1 1 1 12 1 8 1 20 1 79 1 8 1 21 1 7 1 17 1 17 1 4 2 1 1 12 1 3 1 11 1 16 1 12 1 7 1 9 1 32 1 19 1 22 3 6 1 34 1 7 1 38 1 1 1 8 1 6 1 7 2 44 1 6 1 2 1 32 1 3 2 5 1 3 1 3 1 2 1 1 1 6 1 9999"/>
<path d="M11 1290.6H896" stroke="#2F6D8E" stroke-dasharray="1 9 1 2 1 6 1 13 1 83 1 25 2 4 2 7 1 4 1 5 2 1 1 1 1 7 1 6 1 32 1 7 1 8 1 14 1 12 1 9 1 4 1 1 1 3 1 11 1 11 1 6 1 6 1 39 1 15 1 21 1 3 2 3 1 3 2 4 2 5 1 1 1 39 3 6 1 5 1 2 1 3 1 4 3 4 1 5 1 58 1 29 1 21 1 64 1 4 1 22 1 6 1 5 2 6 1 2 3 9 1 5 3 10 1 1 1 1 2 1 2 1 1 4 1 4 1 4 1 28 1 2 1 4 1 1 1 7 1 39 1 9999"/>
<path d="M69 1290.6H929" stroke="#21928B" stroke-dasharray="1 19 1 18 1 1 1 23 1 6 2 9 1 79 1 24 1 3 1 12 1 32 1 3 1 24 1 4 1 37 2 10 1 5 1 1 1 8 3 2 1 116 1 4 1 6 1 4 1 16 1 9 1 20 1 16 1 5 1 7 1 3 1 3 1 10 2 5 1 4 1 2 1 3 1 1 1 1 1 4 1 17 1 25 1 2 1 1 2 1 1 25 1 4 1 18 1 16 1 38 1 2 1 4 1 6 1 29 1 1 3 1 2 2 1 26 1 2 1 11 1 9999"/>
<path d="M100 1290.6H897" stroke="#375A8C" stroke-dasharray="1 11 1 9 1 2 1 13 1 263 1 88 1 29 1 11 1 6 1 185 1 5 1 159 1 2 1 9999"/>
<path d="M114 1290.6H908" stroke="#22A485" stroke-dasharray="1 250 1 4 1 10 1 1 1 5 1 28 1 41 1 1 1 5 1 1 1 2 1 2 1 67 1 27 1 7 1 4 1 3 1 1 1 2 1 2 1 8 1 1 1 2 1 3 1 5 1 1 1 3 2 2 1 11 1 3 1 70 1 123 1 1 1 25 1 6 1 29 1 9999"/>
<path d="M126 1290.6H870" stroke="#35B579" stroke-dasharray="1 1 1 15 1 306 1 1 3 19 1 191 1 8 1 3 1 35 1 95 1 2 1 1 3 4 1 2 1 41 1 9999"/>
<path d="M133 1290.6H684" stroke="#55C566" stroke-dasharray="1 237 1 1 1 12 1 8 1 4 2 3 1 8 2 1 1 127 1 10 1 1 1 1 1 6 1 10 1 31 1 18 1 12 1 8 1 1 1 1 1 6 1 14 2 3 2 9999"/>
<path d="M432 1290.6H889" stroke="#433B82" stroke-dasharray="1 306 1 148 1 9999"/>
<path d="M561 1290.6H640" stroke="#7FD24E" stroke-dasharray="1 36 1 4 2 19 1 8 1 5 1 9999"/>
</g>
<path d="M486.1 790.3L486.1 1307.9" stroke="#8E8E8E" stroke-width="1.6" fill="none"/>
<path d="M681.3 790.3L681.3 1307.9" stroke="#8E8E8E" stroke-width="1.6" fill="none"/>
<path d="M867.5 790.3L867.5 1307.9" stroke="#8E8E8E" stroke-width="1.6" fill="none"/>
<path d="M974.1 790.3L974.1 1307.9" stroke="#8E8E8E" stroke-width="1.6" fill="none"/>
<path d="M1049 790.3L1049 1307.9" stroke="#8E8E8E" stroke-width="1.6" fill="none"/>
<path d="M1074.3 790.3L1074.3 1307.9" stroke="#8E8E8E" stroke-width="1.6" fill="none"/>
<path d="M1100.5 790.3L1100.5 1307.9" stroke="#8E8E8E" stroke-width="1.6" fill="none"/>
<text x="87.5" y="816.1" font-size="26.5" text-anchor="end" font-style="italic" fill="#3A3A3A">Ccl12</text>
<text x="87.5" y="850.6" font-size="26.5" text-anchor="end" font-style="italic" fill="#3A3A3A">Ccl4</text>
<text x="87.5" y="885.1" font-size="26.5" text-anchor="end" font-style="italic" fill="#3A3A3A">Socs3</text>
<text x="87.5" y="919.6" font-size="26.5" text-anchor="end" font-style="italic" fill="#3A3A3A">Junb</text>
<text x="87.5" y="954.1" font-size="26.5" text-anchor="end" font-style="italic" fill="#3A3A3A">Egr1</text>
<text x="87.5" y="988.6" font-size="26.5" text-anchor="end" font-style="italic" fill="#3A3A3A">Gpr84</text>
<text x="87.5" y="1023.1" font-size="26.5" text-anchor="end" font-style="italic" fill="#3A3A3A">Ier2</text>
<text x="87.5" y="1057.6" font-size="26.5" text-anchor="end" font-style="italic" fill="#3A3A3A">Btg2</text>
<text x="87.5" y="1092.1" font-size="26.5" text-anchor="end" font-style="italic" fill="#3A3A3A">Zfp36</text>
<text x="87.5" y="1126.6" font-size="26.5" text-anchor="end" font-style="italic" fill="#3A3A3A">Ier3</text>
<text x="87.5" y="1161.1" font-size="26.5" text-anchor="end" font-style="italic" fill="#3A3A3A">Cebpb</text>
<text x="87.5" y="1195.6" font-size="26.5" text-anchor="end" font-style="italic" fill="#3A3A3A">Cd83</text>
<text x="87.5" y="1230.1" font-size="26.5" text-anchor="end" font-style="italic" fill="#3A3A3A">Jun</text>
<text x="87.5" y="1264.6" font-size="26.5" text-anchor="end" font-style="italic" fill="#3A3A3A">Icam1</text>
<text x="87.5" y="1299.1" font-size="26.5" text-anchor="end" font-style="italic" fill="#3A3A3A">Cebpd</text>
<text x="1166.5" y="779" font-size="29.5">Identity</text>
<circle cx="1181" cy="804.5" r="6.9" fill="#FBB817"/>
<text x="1210.5" y="814.7" font-size="29.5">0</text>
<circle cx="1181" cy="838" r="6.9" fill="#DBAA68"/>
<text x="1210.5" y="848.2" font-size="29.5">1</text>
<circle cx="1181" cy="871" r="6.9" fill="#F58220"/>
<text x="1210.5" y="881.2" font-size="29.5">2</text>
<circle cx="1181" cy="908.8" r="6.9" fill="#E0E227"/>
<text x="1210.5" y="919" font-size="29.5">3</text>
<circle cx="1181" cy="943.5" r="6.9" fill="#B6BECA"/>
<text x="1210.5" y="953.7" font-size="29.5">4</text>
<circle cx="1181" cy="978" r="6.9" fill="#EC5424"/>
<text x="1210.5" y="988.2" font-size="29.5">6</text>
<circle cx="1181" cy="1014.5" r="6.9" fill="#76808F"/>
<text x="1210.5" y="1024.7" font-size="29.5">7</text>
<circle cx="1181" cy="1048.3" r="6.9" fill="#45474C"/>
<text x="1210.5" y="1058.5" font-size="29.5">8</text>
<text x="1162" y="1096.5" font-size="30">Expression</text>
<rect x="1161.2" y="1108.5" width="40.4" height="197.8" fill="url(#gv)"/>
<path d="M1161.2 1132.2h8M1193.6 1132.2h8" stroke="#fff" stroke-width="1.2"/>
<text x="1214.5" y="1139.5" font-size="20.5">2</text>
<path d="M1161.2 1176.7h8M1193.6 1176.7h8" stroke="#fff" stroke-width="1.2"/>
<text x="1214.5" y="1184" font-size="20.5">1</text>
<path d="M1161.2 1221.2h8M1193.6 1221.2h8" stroke="#fff" stroke-width="1.2"/>
<text x="1214.5" y="1228.5" font-size="20.5">0</text>
<path d="M1161.2 1265.8h8M1193.6 1265.8h8" stroke="#fff" stroke-width="1.2"/>
<text x="1214.5" y="1273.1" font-size="20.5">−1</text></g>
<g><text x="1316.5" y="1487.5" font-size="54" font-weight="bold" fill="#231F20">f</text>
<text x="1377.9" y="1528.7" font-size="34">Cluster proportion</text>
<text font-size="33" text-anchor="middle" transform="translate(1372.5 1805) rotate(-90)">Percent</text>
<text x="1437.5" y="1579.9" font-size="24" text-anchor="end" fill="#4D4D4D">100</text>
<path d="M1440.6 1571.4L1449.5 1571.4" stroke="#333" stroke-width="1.6" fill="none"/>
<text x="1437.5" y="1688" font-size="24" text-anchor="end" fill="#4D4D4D">75</text>
<path d="M1440.6 1679.5L1449.5 1679.5" stroke="#333" stroke-width="1.6" fill="none"/>
<text x="1437.5" y="1807.9" font-size="24" text-anchor="end" fill="#4D4D4D">50</text>
<path d="M1440.6 1799.4L1449.5 1799.4" stroke="#333" stroke-width="1.6" fill="none"/>
<text x="1437.5" y="1928.5" font-size="24" text-anchor="end" fill="#4D4D4D">25</text>
<path d="M1440.6 1920L1449.5 1920" stroke="#333" stroke-width="1.6" fill="none"/>
<text x="1437.5" y="2044.2" font-size="24" text-anchor="end" fill="#4D4D4D">0</text>
<path d="M1440.6 2035.7L1449.5 2035.7" stroke="#333" stroke-width="1.6" fill="none"/>
<rect x="1452.2" y="1560.6" width="59.8" height="292.7" fill="#FBB817"/>
<rect x="1452.2" y="1853" width="59.8" height="47.3" fill="#DBAA68"/>
<rect x="1452.2" y="1900" width="59.8" height="32.3" fill="#F58220"/>
<rect x="1452.2" y="1932" width="59.8" height="28.2" fill="#E0E227"/>
<rect x="1452.2" y="1959.9" width="59.8" height="45.5" fill="#B6BECA"/>
<rect x="1452.2" y="2005.1" width="59.8" height="5.8" fill="#EC5424"/>
<rect x="1452.2" y="2010.6" width="59.8" height="22.7" fill="#76808F"/>
<rect x="1452.2" y="2033" width="59.8" height="7.6" fill="#45474C"/>
<rect x="1531.2" y="1560.6" width="59.4" height="90.9" fill="#FBB817"/>
<rect x="1531.2" y="1651.2" width="59.4" height="81.8" fill="#DBAA68"/>
<rect x="1531.2" y="1732.7" width="59.4" height="214" fill="#F58220"/>
<rect x="1531.2" y="1946.4" width="59.4" height="22.8" fill="#E0E227"/>
<rect x="1531.2" y="1968.9" width="59.4" height="36.5" fill="#B6BECA"/>
<rect x="1531.2" y="2005.1" width="59.4" height="5.1" fill="#EC5424"/>
<rect x="1531.2" y="2009.9" width="59.4" height="14.4" fill="#76808F"/>
<rect x="1531.2" y="2024" width="59.4" height="16.6" fill="#45474C"/>
<text font-size="33" text-anchor="end" transform="translate(1500 2068) rotate(-32)">Saline</text>
<text font-size="33" text-anchor="end" transform="translate(1572 2068) rotate(-32)">IL-1β</text>
<text x="1637" y="1637.4" font-size="29.5">Cluster</text>
<rect x="1637" y="1646.6" width="32.6" height="32.8" fill="#FBB817"/>
<text x="1689.5" y="1672.7" font-size="28">0</text>
<rect x="1637" y="1681.4" width="32.6" height="32.8" fill="#DBAA68"/>
<text x="1689.5" y="1707.5" font-size="28">1</text>
<rect x="1637" y="1716.1" width="32.6" height="32.8" fill="#F58220"/>
<text x="1689.5" y="1742.2" font-size="28">2</text>
<rect x="1637" y="1750.9" width="32.6" height="32.8" fill="#E0E227"/>
<text x="1689.5" y="1777" font-size="28">3</text>
<rect x="1637" y="1785.6" width="32.6" height="32.8" fill="#B6BECA"/>
<text x="1689.5" y="1811.7" font-size="28">4</text>
<rect x="1637" y="1820.4" width="32.6" height="32.8" fill="#EC5424"/>
<text x="1689.5" y="1846.5" font-size="28">6</text>
<rect x="1637" y="1855.1" width="32.6" height="32.8" fill="#76808F"/>
<text x="1689.5" y="1881.2" font-size="28">7</text>
<rect x="1637" y="1889.9" width="32.6" height="32.8" fill="#45474C"/>
<text x="1689.5" y="1916" font-size="28">8</text></g>
<g><text x="1328" y="744.5" font-size="54" font-weight="bold" fill="#231F20">d</text>
<text x="1758" y="748.5" font-size="33.5" text-anchor="middle" font-style="italic">Socs3</text>
<path d="M1441.2 765V1298.7H2050" stroke="#000" stroke-width="2" fill="none"/>
<path d="M1435 766.2L1441.2 766.2" stroke="#000" stroke-width="2" fill="none"/>
<text x="1430.5" y="776" font-size="27.5" text-anchor="end">15</text>
<path d="M1435 876.9L1441.2 876.9" stroke="#000" stroke-width="2" fill="none"/>
<text x="1430.5" y="886.7" font-size="27.5" text-anchor="end">10</text>
<path d="M1435 987.6L1441.2 987.6" stroke="#000" stroke-width="2" fill="none"/>
<text x="1430.5" y="997.4" font-size="27.5" text-anchor="end">5</text>
<path d="M1435 1098.3L1441.2 1098.3" stroke="#000" stroke-width="2" fill="none"/>
<text x="1430.5" y="1108.1" font-size="27.5" text-anchor="end">0</text>
<path d="M1435 1208.8L1441.2 1208.8" stroke="#000" stroke-width="2" fill="none"/>
<text x="1430.5" y="1218.6" font-size="27.5" text-anchor="end">−5</text>
<path d="M1443.3 1298.7L1443.3 1305" stroke="#000" stroke-width="2" fill="none"/>
<text x="1439.3" y="1334" font-size="27.5" text-anchor="middle">−10</text>
<path d="M1564 1298.7L1564 1305" stroke="#000" stroke-width="2" fill="none"/>
<text x="1564" y="1334" font-size="27.5" text-anchor="middle">−5</text>
<path d="M1684.4 1298.7L1684.4 1305" stroke="#000" stroke-width="2" fill="none"/>
<text x="1684.4" y="1334" font-size="27.5" text-anchor="middle">0</text>
<path d="M1805.1 1298.7L1805.1 1305" stroke="#000" stroke-width="2" fill="none"/>
<text x="1805.1" y="1334" font-size="27.5" text-anchor="middle">5</text>
<path d="M1925.6 1298.7L1925.6 1305" stroke="#000" stroke-width="2" fill="none"/>
<text x="1925.6" y="1334" font-size="27.5" text-anchor="middle">10</text>
<path d="M2046.5 1298.7L2046.5 1305" stroke="#000" stroke-width="2" fill="none"/>
<text x="2046.5" y="1334" font-size="27.5" text-anchor="middle">15</text>
<text x="1750" y="1367.5" font-size="32.5" textLength="108" lengthAdjust="spacingAndGlyphs" text-anchor="middle">UMAP 1</text>
<text font-size="32.5" textLength="108" lengthAdjust="spacingAndGlyphs" text-anchor="middle" transform="translate(1401 1041.5) rotate(-90)">UMAP 2</text>
<rect x="2071" y="978" width="24.3" height="117.4" fill="url(#gd)"/>
<path d="M2071 993.3h5M2090.3 993.3h5" stroke="#fff" stroke-width="1"/>
<text x="2104" y="999.6" font-size="18">4</text>
<path d="M2071 1018.9h5M2090.3 1018.9h5" stroke="#fff" stroke-width="1"/>
<text x="2104" y="1025.2" font-size="18">3</text>
<path d="M2071 1044.4h5M2090.3 1044.4h5" stroke="#fff" stroke-width="1"/>
<text x="2104" y="1050.7" font-size="18">2</text>
<path d="M2071 1069.9h5M2090.3 1069.9h5" stroke="#fff" stroke-width="1"/>
<text x="2104" y="1076.2" font-size="18">1</text>
<text x="2104" y="1101.7" font-size="18">0</text>
<path d="M1725.7 1068.9L1730.9 1077.5L1736.1 1087.5L1741.3 1097.5L1742.5 1109L1743.8 1123.3L1747.7 1137.7L1754.2 1144.8L1764.6 1147.7L1775 1144.8L1785.4 1142L1795.8 1144.8L1803.5 1142L1810 1136.2L1811.3 1143.4L1807.4 1152L1802.2 1162L1797 1172L1791.9 1180.6L1789.3 1189.2L1789.3 1197.8L1790.6 1207.8L1794.5 1216.4L1798.3 1226.5L1799.6 1236.5L1797 1246.5L1793.2 1255.1L1786.7 1263.7L1777.6 1269.4L1767.2 1272.3L1756.8 1272.3L1746.4 1269.4L1736.1 1265.1L1725.7 1259.4L1715.3 1253.7L1706.2 1246.5L1699.7 1237.9L1702.3 1229.3L1710.1 1220.7L1716.6 1209.3L1720.5 1197.8L1719.2 1186.4L1717.9 1174.9L1720.5 1163.4L1724.4 1152L1727 1140.5L1728.3 1129.1L1728.3 1114.7L1727 1100.4L1725.7 1086.1L1723.1 1077.5Z" fill="#D5D5D5"/>
<path d="M1721.6 1064.6L1728.1 1071.8L1733.3 1080.4L1738.5 1090.5L1742.4 1100.5L1744.4 1112L1745.7 1123.5L1748.3 1133.5L1751.5 1143.6L1746.3 1155.1L1742.4 1166.6L1738.5 1178.1L1735.9 1189.6L1730.7 1201L1722.9 1198.2L1712.5 1188.1L1708.6 1183.8L1712.5 1172.3L1716.4 1160.8L1719 1149.3L1720.3 1137.9L1721.6 1126.4L1721.6 1114.9L1722.9 1103.4L1724.2 1091.9L1722.9 1080.4L1719 1068.9Z" fill="#D5D5D5"/>
<path d="M1653.6 1017.7L1663.3 1011L1675.4 1006.9L1687.6 1011L1691.7 1012.9L1699.5 1021.5L1707.3 1033L1712.5 1044.5L1716.4 1057.4L1720.3 1068.9L1724.2 1080.4L1725.5 1091.9L1724.2 1103.4L1722.9 1114.9L1722.9 1126.4L1721.6 1137.9L1720.3 1149.3L1717.7 1160.8L1713.8 1172.3L1709.9 1183.8L1704.7 1193.9L1698.2 1201L1689.1 1206.8L1678.7 1209.7L1668.3 1208.9L1657.8 1206.8L1647.4 1202.5L1637 1196.7L1627.9 1189.6L1620.1 1180.9L1613.6 1172.3L1619.6 1176.2L1612.3 1169.5L1606.2 1162.8L1601.4 1154.7L1599.7 1144L1597.7 1133.2L1601.4 1123.8L1609.9 1114.4L1619.6 1105L1629.3 1098.3L1635.4 1087.6L1637.8 1071.4L1636.1 1055.3L1635.4 1039.2L1641.4 1028.4Z" fill="#D5D5D5"/>
<path d="M1575.1 979.5L1579 970.9L1586.8 966.6L1595.9 963.7L1603.7 960.2L1611.5 953.7L1620.6 949.4L1629.6 944.4L1640 941.5L1650.4 943.7L1660.8 945.1L1671.2 946.5L1680.2 949.4L1686.1 955.1L1688 962.3L1686.7 970.9L1682.8 978.1L1677.7 985.2L1669.9 988.1L1662.1 985.2L1654.3 982.4L1643.9 979.5L1633.5 975.2L1624.4 973.8L1615.4 975.2L1606.3 978.1L1597.2 980.9L1589.4 983.8L1581.6 983.8Z" fill="#D5D5D5"/>
<path d="M1797 1061.7L1800.9 1048.8L1803.5 1043.1L1811.3 1040.2L1816.5 1043.1L1824.3 1044.5L1829.5 1041.7L1837.3 1043.1L1845.1 1047.4L1852.8 1054.6L1859.3 1061.7L1864.5 1071.8L1867.1 1081.8L1865.8 1091.8L1861.9 1101.8L1856.7 1111.9L1850.3 1121.9L1842.5 1129.1L1834.7 1133.4L1828.2 1131.9L1821.7 1129.1L1816.5 1133.4L1811.3 1134.8L1806.1 1129.1L1803.5 1121.9L1804.8 1111.9L1803.5 1103.3L1800.9 1091.8L1799.6 1080.4L1797 1070.3Z" fill="#D5D5D5"/>
<path d="M1485 1054L1487.5 1042.5L1492.1 1033.9L1498.6 1026.8L1506.4 1021L1515.4 1016.7L1524.5 1013.9L1532.3 1010.3L1540.1 1006L1550.5 1002.4L1560.9 1001L1568.7 1003.8L1577.7 1011L1585.5 1019.6L1592 1028.2L1594.6 1036.8L1592 1045.4L1589.4 1054L1586.8 1062.6L1582.9 1071.2L1577.7 1079.8L1573.8 1088.4L1571.2 1095.5L1566.1 1104.1L1560.9 1112.7L1555.7 1118.4L1550.5 1119.2L1545.3 1115.6L1538.8 1111.3L1532.3 1107L1527.1 1099.8L1520.6 1092.7L1514.1 1085.5L1507.7 1079.8L1499.9 1074L1493.4 1068.3L1488.2 1062.6Z" fill="#A793D0"/>
<path transform="scale(.5)" d="M3244 1896h0m2 2h0m62-7h0m47 6h0m10 22h0m-94-12h0m-6 0h0m-2 12h0m-2-4h0m-28-8h0m-3 0h0m-48 21h0m9 4h0m23 1h0m2-12h0m4 3h0m11 9h0m44-5h0m7 3h0m14 6h0m1-7h0m1-9h0m10 10h0m7-5h0m14 6h0m0 7h0m8-8h0m3 7h0m6 10h0m-15 3h0m-27 2h0m0-7h0m-1 0h0m-17 0h0m-22-3h0m-53 2h0m-13-5h0m-3 4h0m-17 6h0m-7-6h0m-15 6h0m168 12h0m16 2h0m8 4h0m4 49h0m-235-5h0m-15 3h0m-33 3h0m42 18h0m3-3h0m5 5h0m3-15h0m2 6h0m11-8h0m0 1h0m0 14h0m7-5h0m15 7h0m174-5h0m76 20h0m-63-5h0m-33 2h0m-133 5h0m-12 2h0m-4-10h0m-7 2h0m-26-9h0m-2 19h0m-3-6h0m-3 3h0m-1-2h0m0-10h0m-1 7h0m-49 8h0m-37-13h0m12 26h0m53 7h0m19-18h0m6 7h0m5 1h0m0 10h0m17-9h0m7-1h0m0 3h0m1-10h0m8 9h0m2 8h0m3-13h0m2 0h0m0 3h0m4-2h0m7-1h0m1 0h0m112 7h0m10-5h0m68-4h0m5 14h0m8 1h0m245 20h0m-258-9h0m-201-3h0m-5 2h0m0-9h0m-3 18h0m-4-9h0m-7-5h0m-5 3h0m-9 4h0m-10 0h0m-22-5h0m-26 8h0m-91-10h0m48 32h0m51-12h0m59 3h0m11 0h0m8-6h0m123 1h0m26 4h0m38-5h0m5 8h0m13-9h0m3 2h0m4 6h0m29-2h0m11-1h0m197-1h0m2 2h0m4 3h0m2 7h0m16-13h0m29 6h0m13 10h0m2-10h0m2-8h0m1 5h0m7 3h0m6-8h0m3 29h0m-1-9h0m0-1h0m-18 9h0m-3-3h0m-4 6h0m-7-7h0m-3 9h0m-4-1h0m-5-4h0m-3-5h0m-1 4h0m-1-7h0m-9 7h0m-7 3h0m0-4h0m-19-7h0m-1 19h0m-175-7h0m-47-1h0m-80-11h0m-16 12h0m-129-6h0m-38 0h0m-4 4h0m-17-4h0m-2 8h0m-10-9h0m-24 4h0m-54 26h0m4-9h0m41 4h0m33-9h0m19 3h0m35 12h0m136-15h0m14-1h0m25 9h0m9-8h0m12 18h0m16-4h0m6-14h0m6 16h0m28-6h0m36 6h0m7-11h0m9 2h0m148 5h0m25-1h0m1 5h0m14-15h0m6 6h0m1-8h0m0 8h0m4 6h0m1 2h0m1-10h0m0 7h0m1-3h0m2-6h0m0 10h0m0 2h0m1 3h0m1-15h0m0 11h0m1-4h0m14-3h0m14 7h0m0 3h0m13-16h0m6 11h0m5-1h0m12 7h0m0 16h0m-56-5h0m-10 0h0m-3-9h0m-1 0h0m-5 17h0m0-1h0m-1 1h0m-1-9h0m-1 6h0m0-5h0m-1 8h0m0-10h0m0-3h0m-1 3h0m-3 0h0m-2-2h0m-8-2h0m-11-1h0m-205 6h0m-81 10h0m-18-11h0m-9-6h0m-28 12h0m-145-14h0m-19 9h0m-58 26h0m14-11h0m65 11h0m183-2h0m31-7h0m85 7h0m22 1h0m173-12h0m0 16h0m1-16h0m5 11h0m1 1h0m1 5h0m1-14h0m1 3h0m1 11h0m1-11h0m1-2h0m3 1h0m2-4h0m0 1h0m1 7h0m5-6h0m5 0h0m12 11h0m2 2h0m5-8h0m2 1h0m9 6h0m1-1h0m12-2h0m7 7h0m-10 8h0m-9 6h0m-5-3h0m-12-12h0m-17 7h0m-5-6h0m-1 11h0m-3 0h0m-3-8h0m-5 5h0m-3 9h0m0-2h0m-1-13h0m-1 0h0m-2 9h0m0-11h0m-2 17h0m-2 0h0m-149-13h0m-2-5h0m-15 1h0m-7 13h0m-9 5h0m-3 0h0m0-15h0m-12 14h0m-16-15h0m-48 8h0m-32 1h0m-49-3h0m-41 5h0m-133-8h0m-8-4h0m-2 9h0m-25 5h0m13 9h0m30 3h0m143 0h0m19 0h0m18-6h0m74 6h0m20 8h0m7-5h0m21 5h0m47-15h0m14 4h0m1 12h0m1-13h0m128 11h0m7-15h0m2 14h0m2-3h0m1-1h0m6-9h0m1-1h0m0 3h0m1 4h0m1-7h0m1 8h0m0 3h0m0 8h0m8-1h0m7-12h0m0 8h0m16-3h0m6-5h0m1-2h0m17 9h0m2-1h0m4-11h0m-7 24h0m-22 1h0m-22 4h0m-8 6h0m-24-7h0m-1 0h0m-138-3h0m-19-6h0m-3 3h0m-8 8h0m-24 5h0m-27 3h0m-16-13h0m-37 2h0m-7-3h0m-81-2h0m-16 10h0m-27-5h0m15 24h0m7-11h0m1 6h0m38 3h0m7-5h0m135 1h0m23 0h0m11 11h0m10-14h0m15 5h0m4-2h0m1 6h0m3 2h0m141-8h0m4-3h0m44 6h0m-53 19h0m-51 3h0m-41 5h0m-31 0h0m-3-3h0m-10-3h0m-39 8h0m-4-16h0m-31 12h0m-23-11h0m-28 9h0m-16-4h0m-12-7h0m-103 15h0m-12 0h0m-3 12h0m68-5h0m1 12h0m69-9h0m20-2h0m15 5h0m60 3h0m1 7h0m3 0h0m6-7h0m5-3h0m3 3h0m1 0h0m5-12h0m14 5h0m5 4h0m17 9h0m23-4h0m0 3h0m8-10h0m23 3h0m18-7h0m19-1h0m3 7h0m3 10h0m-3 6h0m-22 12h0m-34 0h0m-21-1h0m-24 1h0m-9-11h0m-4 9h0m-14-2h0m-8 3h0m0-4h0m-13-9h0m-15 12h0m-55 3h0m-5-1h0m-142-12h0m-10-2h0m-12 3h0m84 18h0m11 12h0m122 0h0m21 2h0m2-13h0m12 11h0m1-7h0m5 2h0m1 6h0m4-16h0m4 16h0m27 0h0m14-10h0m11 2h0m21-8h0m25 1h0m1 1h0m-3 29h0m-4-1h0m-32 3h0m-34 4h0m-2-2h0m0-2h0m-3-2h0m-22-9h0m-10 16h0m-16-10h0m-34-6h0m-29 7h0m-8-10h0m-8 1h0m-8 4h0m-48-2h0m-9 12h0m0-15h0m-22 6h0m-9-2h0m-11 13h0m15 14h0m15 3h0m12 1h0m37-4h0m8-4h0m93 7h0m4-11h0m37 6h0m0 6h0m10-9h0m10 3h0m10 8h0m6-15h0m0 12h0m16-7h0m25 2h0m11 2h0m4 5h0m3 11h0m-11 10h0m-27-6h0m-18 5h0m-21-12h0m-6 5h0m-3-4h0m-1 7h0m-11-7h0m-19 3h0m0-1h0m-9-6h0m-7 17h0m-70-5h0m-60 4h0m218 5h0m4 1h0m29 0h0m-20 26h0m-42 2h0m-40 4h0m33 18h0m3-9h0m2 9h0m15 3h0m75 22h0m-3-1h0m-2-4h0m-66-8h0m-51-1h0m-9 13h0m-25-1h0m-1-10h0m-4 2h0m9 19h0m10 5h0m9 6h0m23-13h0m45 1h0m9-5h0m43 3h0m-51 28h0m2 10h0" stroke="#fff" stroke-width="6.4" stroke-linecap="round" fill="none"/>
<path transform="scale(.5)" d="M3347 1636h0m9 257h0m-3 4h0m-2-3h0m-7 0h0m-3-1h0m-7 2h0m-9-3h0m-1-6h0m-5 5h0m-7-4h0m-4-1h0m-2 2h0m-8-2h0m-7-1h0m-6 1h0m-1-3h0m-7 3h0m-5-2h0m-6 4h0m-2-2h0m-4 3h0m-7 6h0m-2 3h0m0-7h0m-7 6h0m-7 1h0m-29 17h0m0 2h0m3 1h0m6-8h0m1 4h0m3 0h0m1 5h0m3-2h0m1-12h0m3-3h0m2 1h0m2 11h0m2-14h0m0 14h0m3-2h0m2 1h0m22-6h0m101-7h0m2 5h0m0 2h0m8 9h0m2 0h0m0 3h0m250-7h0m2-9h0m4 1h0m3 8h0m2 4h0m2 0h0m5-4h0m3-1h0m1 4h0m1-7h0m1-5h0m-1 23h0m-6-6h0m-1 16h0m-6-3h0m-5-13h0m-2 3h0m-3 11h0m-7-14h0m-241 15h0m-2-8h0m-2-1h0m-113 5h0m-3-10h0m-10 1h0m-1 3h0m-2-5h0m-10 10h0m-1 0h0m-4-4h0m0-1h0m-2 8h0m-1 3h0m0-2h0m-1 3h0m-1-15h0m-1 8h0m-7 8h0m-4-11h0m-2 5h0m-1 2h0m-2-12h0m-1 8h0m-1 4h0m0-7h0m-1-4h0m-3 15h0m0-12h0m-2 13h0m0-13h0m-1 7h0m0-1h0m-3 2h0m-1 4h0m-4-8h0m-1 0h0m0-7h0m-2 5h0m-1 3h0m-5-1h0m-3 1h0m-1 3h0m-9 5h0m-15 15h0m1-6h0m0 2h0m0 3h0m2 3h0m2-15h0m0 3h0m5-4h0m4 10h0m5 6h0m1-9h0m0 1h0m2 3h0m1 2h0m4-10h0m2-1h0m0 11h0m1-1h0m2 4h0m1-14h0m1 1h0m2 10h0m12-7h0m0 8h0m1 4h0m1-4h0m1 3h0m4-1h0m4 1h0m5-6h0m2 7h0m1-6h0m1-5h0m2 0h0m1-7h0m1 12h0m2 3h0m1-3h0m1-5h0m0 10h0m3-7h0m0 2h0m1-2h0m1-7h0m1 5h0m3-1h0m3 3h0m1 9h0m6-4h0m1-8h0m0 3h0m1 9h0m1-8h0m0 1h0m3 6h0m2-8h0m1-2h0m0 8h0m0 1h0m2-8h0m2-1h0m1 1h0m2 8h0m3-3h0m1 3h0m5-3h0m3 1h0m2-2h0m4 5h0m81 0h0m3-2h0m1-5h0m1 8h0m2-9h0m1-6h0m1-3h0m256 5h0m10 4h0m-253 26h0m-9 0h0m-3-7h0m0-1h0m-1-2h0m-4 1h0m0-2h0m-1 0h0m-1-3h0m-2 3h0m-1-4h0m0-1h0m-3 5h0m0-1h0m-3 9h0m-5 1h0m-6 0h0m-11 4h0m-5-5h0m-3-4h0m-1 5h0m0-5h0m-1 3h0m-5 0h0m-1-3h0m-1 9h0m0-4h0m-2 2h0m0-11h0m-1 12h0m-2-15h0m-2 5h0m-1 4h0m-2 1h0m-1-9h0m-3 2h0m-1-2h0m-3 16h0m0-1h0m0-18h0m-1 4h0m0-1h0m-1 6h0m-2-9h0m-1 0h0m-1 17h0m-4 1h0m-1 0h0m0-2h0m0-1h0m-1-3h0m0-11h0m-1-1h0m-2 17h0m-1-2h0m0-12h0m0-1h0m-2 13h0m-1-3h0m-1-4h0m-4 10h0m0-8h0m0-1h0m-2 7h0m-1-12h0m-2-4h0m-2 0h0m-1 4h0m-2 11h0m0-2h0m0-6h0m-1 4h0m-2-2h0m0-3h0m-2 7h0m-4-8h0m-1 4h0m-3 10h0m-1-11h0m-1 7h0m0-4h0m-4 3h0m0-2h0m-1-9h0m-1 9h0m-2 1h0m0-10h0m-2 6h0m0-8h0m-2 11h0m-3-1h0m-1-10h0m-1 2h0m-2 12h0m0-3h0m-1-2h0m-1-4h0m-2 10h0m0-5h0m-1-1h0m-1 6h0m-3-2h0m0-8h0m-1-6h0m-1 3h0m-1 5h0m-2 11h0m-1 0h0m-1-10h0m-3 10h0m0-7h0m0-9h0m-1 5h0m-2 0h0m-1 6h0m0-1h0m0-6h0m-1 12h0m0-5h0m0-5h0m-1 3h0m0-6h0m-2-4h0m-1 8h0m-2-2h0m0-2h0m-1 2h0m0-2h0m-4 13h0m-1-19h0m-1 1h0m-1 7h0m-1-3h0m0-3h0m-4-1h0m-3 6h0m-2 1h0m-1 1h0m-1-4h0m-2 0h0m0-4h0m-6 5h0m-8-1h0m-4 0h0m-4-5h0m-2 1h0m-4 1h0m-27 26h0m7 2h0m26 8h0m50-18h0m8 0h0m1 4h0m2 0h0m2-4h0m0 3h0m1 10h0m0 1h0m1-4h0m1 5h0m0 1h0m1-5h0m5-9h0m1 9h0m0 7h0m1-10h0m0 6h0m8-10h0m1 13h0m2-5h0m2 3h0m0 3h0m1-3h0m1-4h0m0 7h0m1-17h0m1-1h0m5 13h0m2-6h0m0 8h0m2-15h0m1 2h0m2 14h0m0 2h0m2-7h0m1 6h0m1-6h0m1 5h0m3-6h0m2-6h0m1 11h0m2-2h0m2-4h0m1-3h0m1-6h0m1 6h0m1 1h0m0 5h0m1 5h0m1-6h0m1-11h0m0 11h0m1-7h0m5-3h0m1 6h0m1-5h0m0 14h0m3-3h0m4-13h0m3 1h0m1 4h0m3-1h0m0 6h0m0 3h0m2 0h0m1-8h0m1 10h0m0 2h0m2-4h0m4-9h0m2-4h0m0 5h0m4 3h0m0 2h0m1-9h0m3 11h0m1-8h0m3-4h0m2 5h0m1-5h0m1 2h0m1 1h0m0 2h0m0 2h0m9-2h0m29 8h0m3-1h0m4 4h0m2-5h0m0 6h0m1-8h0m5 2h0m1-3h0m1 8h0m252 22h0m-7-6h0m-5-11h0m-3 2h0m-2 9h0m-3 5h0m-1-1h0m-1-3h0m-2 6h0m0-1h0m-212 1h0m-2 0h0m-8-15h0m-1 3h0m0-5h0m-1 4h0m-1 5h0m-3 4h0m0-13h0m-12 17h0m-11-1h0m-6-6h0m-5 4h0m-10-1h0m-1 0h0m-3 4h0m-1-1h0m-1-11h0m-8 6h0m-4-5h0m-2 4h0m-3-8h0m-2 15h0m0-13h0m-1 8h0m-2-4h0m-6 9h0m0-7h0m-3 0h0m0-4h0m-1-4h0m-1 14h0m-1-5h0m0-8h0m-6-2h0m0-2h0m-1 6h0m-2-5h0m-5 11h0m-1-8h0m0-4h0m-3 16h0m-4-10h0m-2 10h0m0-13h0m-1 4h0m-2 3h0m-1 0h0m-3 5h0m0-12h0m-2 7h0m0-3h0m-2-1h0m0-4h0m-2-2h0m-1 12h0m-1 2h0m-2-9h0m-2 12h0m0-11h0m-1 2h0m0-3h0m0-1h0m-7-5h0m-1 19h0m-2-6h0m-1-4h0m-1 4h0m0-1h0m0-2h0m-3 9h0m0-10h0m-1-3h0m-3 6h0m-2 0h0m-2-10h0m-1-2h0m-3 0h0m-3 13h0m-1 0h0m-1 0h0m-2-7h0m-2 10h0m-3-5h0m-3 2h0m-27 5h0m-4-13h0m-2 11h0m-8-14h0m-18 12h0m-8-12h0m-10-1h0m-6 16h0m-6-17h0m-8 10h0m-3-8h0m-3 16h0m-8-11h0m-40 11h0m19 6h0m1 3h0m26 11h0m5-2h0m9-12h0m17 11h0m4 2h0m1-12h0m12 3h0m3 7h0m5 0h0m6-8h0m1 10h0m1-5h0m3-12h0m2 1h0m4 10h0m2-5h0m1 5h0m6-9h0m29 5h0m0 4h0m5-9h0m1-2h0m1 4h0m1 4h0m1-7h0m1 3h0m1-2h0m1 2h0m1-2h0m1 16h0m1-16h0m0 10h0m0 4h0m2-4h0m1 3h0m2-14h0m0 5h0m2 12h0m2-12h0m0 13h0m1-15h0m1-1h0m3 14h0m1-3h0m1-13h0m0 10h0m1-2h0m0 2h0m2-10h0m0 11h0m0 3h0m2-2h0m17-5h0m1 2h0m1-10h0m9 1h0m1 11h0m2-6h0m0 6h0m1-8h0m0 9h0m1-1h0m9 0h0m2-12h0m0 14h0m2-1h0m5-2h0m1 1h0m4-11h0m3 0h0m0 10h0m1-8h0m2-1h0m0 3h0m4-3h0m1 1h0m5-1h0m31 0h0m8 3h0m9 0h0m2 4h0m5 0h0m2 7h0m10-2h0m4-13h0m1 9h0m0 4h0m5-5h0m4-4h0m1 3h0m189-6h0m8 5h0m0 3h0m4-3h0m1-3h0m0 10h0m2-14h0m1 4h0m0 8h0m0 5h0m1-10h0m1-4h0m0 8h0m2-10h0m0 3h0m0 5h0m1-2h0m3 0h0m0 7h0m2 0h0m3 4h0m5-8h0m1 5h0m1-2h0m4-1h0m5-2h0m0 1h0m3-5h0m-24 23h0m0-5h0m-6 6h0m-8-5h0m-193-3h0m-2 15h0m-1 0h0m0-11h0m0-2h0m-2-1h0m-1 1h0m-8 11h0m-2-4h0m-1 3h0m-3-8h0m-3-5h0m-6-1h0m-92 1h0m0-1h0m-5 3h0m-4 9h0m-2 1h0m-2 1h0m0-14h0m-3 18h0m-11-10h0m-3-6h0m-2-1h0m-24 2h0m0-2h0m-6 1h0m-40 17h0m-4-15h0m-1 10h0m-5 2h0m-4-2h0m-1-9h0m-9 1h0m-5 0h0m-24 2h0m-21-7h0m-13 10h0m-6 3h0m-13-5h0m-8 2h0m-7 8h0m-36-7h0m-8-7h0m-1 9h0m-42 4h0m21 14h0m17 5h0m12-6h0m1 4h0m12-12h0m5 8h0m9 7h0m5-1h0m24-5h0m13 2h0m33 4h0m40-12h0m4 3h0m0 10h0m2-2h0m0 2h0m5-18h0m0 5h0m0 6h0m3-1h0m1 3h0m2-5h0m2-4h0m1 9h0m0 2h0m4-12h0m0 3h0m1 8h0m1-11h0m8 4h0m7-2h0m2 3h0m15 2h0m1-2h0m0 4h0m3 2h0m3-9h0m1 8h0m3-3h0m2 4h0m0 1h0m5-3h0m3-1h0m5-9h0m4 15h0m3-7h0m2-3h0m2-8h0m3 3h0m130-3h0m4 0h0m0 11h0m5 4h0m1-2h0m1-13h0m0 9h0m1-8h0m2-1h0m0 11h0m193-5h0m7-4h0m69 36h0m-5-4h0m-4-4h0m-6-1h0m-3-4h0m-4 1h0m-5-2h0m-1-1h0m-12 3h0m-3 3h0m-1-3h0m-9 1h0m-5-2h0m-6 2h0m-3-7h0m-3 1h0m-9 6h0m-6-1h0m-2 7h0m-1-8h0m-4 10h0m-172-1h0m-4 2h0m0-5h0m-3-8h0m0-1h0m-1-1h0m-149 11h0m-1 3h0m0-3h0m-1-9h0m-6 6h0m-1 5h0m-1-11h0m-1 6h0m0-5h0m-3 15h0m0-8h0m-2 2h0m-4-13h0m-4 14h0m-1-7h0m-1 0h0m-2-5h0m-3 5h0m-3 12h0m0-14h0m-6 3h0m-2-5h0m-3-1h0m-3 1h0m-7 2h0m-7 14h0m0-6h0m0-12h0m-1 14h0m0-6h0m-1-5h0m-1-3h0m-2 16h0m-1-2h0m-1 2h0m0-13h0m-1 14h0m-1-11h0m-2 1h0m-13-1h0m0-1h0m-32 6h0m-32 2h0m-34-1h0m0-1h0m-5 7h0m-21-15h0m-4 13h0m-11-2h0m-32-2h0m-4-4h0m-2 4h0m-4 1h0m0-3h0m-3-5h0m-6 11h0m-16 1h0m-3 0h0m-2-8h0m-1 8h0m-1 12h0m5-2h0m21 7h0m3-7h0m20 6h0m2 4h0m4-6h0m6-6h0m3 4h0m9-2h0m22-8h0m31 7h0m27 10h0m1-6h0m11-1h0m63-6h0m1 7h0m6 4h0m2 1h0m1-7h0m2-6h0m2 5h0m0 10h0m1-4h0m8-10h0m1 2h0m1 8h0m5-11h0m1 2h0m0 10h0m8-1h0m1 2h0m2 2h0m2-4h0m6-12h0m2 4h0m5 3h0m3 3h0m0 6h0m2-1h0m0 2h0m7-19h0m4 2h0m2 9h0m0 2h0m1 1h0m152-7h0m2 0h0m0 10h0m1-7h0m4-1h0m6 1h0m7-2h0m3 7h0m4 4h0m17-1h0m122-1h0m1-11h0m0 13h0m3-18h0m1 3h0m95-2h0m2-2h0m1 2h0m7 6h0m1 7h0m3-6h0m6 8h0m8 15h0m-1-3h0m-5-4h0m-3-5h0m-117 14h0m0-5h0m-2-7h0m-1 17h0m-1-12h0m-105 12h0m-22-8h0m-9-11h0m-2 1h0m-12 15h0m-5 2h0m0-3h0m-2-5h0m0-6h0m0-3h0m-158 2h0m-3 7h0m-1 5h0m-1-1h0m0-10h0m-11 0h0m0-1h0m-1 13h0m-2-8h0m0-4h0m-4 15h0m-3-12h0m-3 11h0m-2-17h0m-1 0h0m-2 3h0m-1-3h0m-5 1h0m-2 9h0m-4 1h0m-3-9h0m-2 2h0m-3 12h0m-3-10h0m0-4h0m-1 11h0m-2 2h0m-1 3h0m-1-19h0m-1 19h0m0-3h0m0-9h0m0-1h0m-2 4h0m-1 7h0m0-5h0m0-4h0m0-4h0m-5-3h0m-4 16h0m-1-8h0m-1 0h0m-1 8h0m-4-11h0m-1 4h0m0-6h0m-1 14h0m-1-11h0m-2 3h0m-3 7h0m-1 0h0m0-7h0m0-6h0m-2 14h0m-15-17h0m-6 2h0m-4 16h0m-22-7h0m0-8h0m-2 1h0m-3 5h0m-6 6h0m-1-2h0m-10-8h0m-17-5h0m-48 9h0m-36 3h0m-4-8h0m-19 2h0m-20-3h0m30 20h0m2 4h0m14-8h0m12 13h0m13 1h0m1-5h0m15 6h0m4 1h0m7-11h0m29-1h0m5 8h0m8-12h0m17 5h0m12 13h0m23-10h0m5 1h0m4 6h0m6-7h0m1-3h0m0 13h0m1-8h0m2-6h0m0 12h0m1 2h0m1-14h0m0 4h0m3 2h0m1 6h0m5 0h0m1-3h0m1-11h0m4 7h0m0 6h0m2-14h0m4 12h0m3 0h0m4-10h0m0 11h0m2-12h0m0 14h0m2-15h0m0 16h0m7-10h0m1-6h0m2 16h0m2-17h0m1 0h0m3 10h0m1 4h0m1 0h0m2-3h0m0 3h0m3-3h0m1-8h0m1 5h0m1 9h0m2-11h0m4 8h0m2-10h0m0 12h0m2-10h0m0 11h0m1-11h0m1-2h0m0 11h0m2-2h0m0 1h0m1-5h0m0 5h0m13 3h0m1 1h0m1-9h0m2 3h0m1-11h0m3 7h0m163-3h0m3 0h0m0 14h0m1-9h0m1-9h0m0 5h0m1 13h0m1-6h0m1-6h0m2-6h0m4 0h0m4 6h0m0 8h0m5 2h0m21-10h0m2 4h0m4-2h0m11 2h0m2 6h0m3 2h0m85-19h0m3 11h0m0 1h0m2 5h0m0 1h0m127-16h0m1 6h0m3-7h0m1 15h0m1-10h0m2 13h0m239-2h0m-237 18h0m0-14h0m-1 8h0m-1 6h0m0-11h0m-130 15h0m-1-11h0m-1 3h0m-3-8h0m-63 12h0m-18 0h0m-6 4h0m-2-9h0m-11 1h0m-4-7h0m-21 14h0m-1-8h0m-1 2h0m-2-8h0m-5 0h0m-10 10h0m-2-2h0m-1 5h0m-1 1h0m0-5h0m0-5h0m-1-7h0m-1 8h0m0-9h0m-1 10h0m-173-4h0m-2 5h0m-1 6h0m0-5h0m-1-7h0m-10 10h0m-1 0h0m-2 0h0m-3-3h0m-5-8h0m-6 1h0m-1 10h0m0-1h0m0-12h0m-2 10h0m0-2h0m-1-8h0m-1-2h0m-2 0h0m-4 7h0m-3-2h0m-1 8h0m-2 6h0m-4-8h0m-1-2h0m-1 5h0m-1-1h0m0-10h0m-2 0h0m-3 10h0m-13-1h0m0-2h0m0-2h0m0-8h0m-1 10h0m-2-1h0m-1 0h0m-1 9h0m-2-5h0m-1-12h0m-2 12h0m0-5h0m0-4h0m-2 15h0m-4-11h0m-3 2h0m-3-9h0m-1 16h0m0-14h0m-1 16h0m0-10h0m-2 8h0m-4-16h0m-4 8h0m-4-5h0m-1 13h0m0-9h0m0-6h0m-5 12h0m-5-7h0m-19-7h0m-23 14h0m-6 0h0m-4-10h0m-2 12h0m-11-7h0m-14 2h0m-7-1h0m-1-7h0m-5 5h0m-8 11h0m-28-11h0m14 16h0m6 6h0m13-6h0m10-4h0m12 8h0m16-4h0m0 8h0m56-2h0m4-9h0m0 3h0m0 7h0m2-5h0m5-6h0m0 8h0m4 8h0m1-11h0m6-4h0m0 2h0m3 13h0m1-4h0m5-1h0m7-9h0m2 7h0m2-5h0m1-4h0m2 12h0m1-10h0m0 8h0m3 9h0m1 0h0m1-10h0m1 4h0m5-12h0m1 15h0m4-5h0m0 1h0m1 6h0m3-10h0m11-7h0m6 10h0m1-1h0m0 9h0m2-17h0m2 3h0m3-1h0m0 14h0m3-1h0m1-10h0m1 4h0m1-6h0m6 4h0m1 4h0m5-9h0m0 1h0m0 11h0m0 2h0m1-14h0m0 7h0m1-4h0m1 2h0m3-5h0m3-4h0m181 5h0m1 2h0m0 1h0m2-6h0m0 9h0m2 6h0m19-9h0m1-7h0m1 13h0m2 2h0m1-6h0m3 3h0m2-5h0m12 4h0m9-11h0m1 0h0m1 17h0m4-14h0m2 15h0m3-2h0m4-9h0m1 11h0m2-14h0m6-5h0m0 3h0m1 6h0m2 4h0m6 3h0m0 3h0m2 0h0m3-8h0m9 6h0m7 1h0m3-16h0m40 2h0m0 3h0m2 3h0m5 8h0m119-8h0m0 4h0m1-10h0m5 1h0m-6 16h0m-2 0h0m-4 10h0m0-2h0m-7 8h0m0-4h0m-105 1h0m-2 1h0m-1-6h0m0-6h0m-2 6h0m-19 2h0m-9 8h0m-2-11h0m-23 8h0m0-9h0m-1 0h0m-1 8h0m-14-2h0m-3 4h0m0-1h0m-4-6h0m-1-4h0m-2-5h0m-2 2h0m-1 11h0m-1-2h0m-10-10h0m-2 10h0m0-5h0m-2 7h0m0-1h0m-5-8h0m-2-5h0m-5 8h0m-6-1h0m-2 4h0m-1 5h0m-1-7h0m-2 9h0m-1-15h0m-1 8h0m-21-9h0m-4 14h0m-1 3h0m-2-14h0m0-4h0m-2 13h0m0-12h0m-4 1h0m-1 5h0m-1 7h0m-191-13h0m-1-1h0m0-1h0m-3 3h0m-3-3h0m-2 8h0m-5 1h0m0-4h0m-1 7h0m-7 2h0m-2-12h0m-1 17h0m0-13h0m-8 11h0m-3 2h0m-2-8h0m-10-5h0m-2 12h0m-2-6h0m-5-9h0m-2 10h0m-1-3h0m-8 3h0m-1-10h0m0-2h0m-6 3h0m-2 1h0m-1-5h0m-2 18h0m0-17h0m-6 6h0m-1-5h0m-1 11h0m0-5h0m-1 6h0m0-10h0m-1 11h0m0-2h0m0-4h0m-2 1h0m-1 4h0m-4-9h0m-1 5h0m-1-8h0m-4 17h0m-4-13h0m-2-6h0m-2 0h0m-5 9h0m-1 5h0m-5-3h0m-19 3h0m-1-4h0m-21-6h0m-17 2h0m-8 7h0m-3-7h0m17 18h0m4 3h0m3 4h0m15-2h0m20 10h0m9-3h0m4-1h0m2 2h0m5 1h0m1-2h0m1-7h0m11-3h0m1-5h0m0 6h0m3-4h0m1-3h0m4 18h0m1-13h0m0 4h0m5-5h0m0 6h0m1 4h0m1-2h0m1-3h0m2 4h0m3-6h0m1 0h0m0 7h0m3-9h0m0 11h0m1 0h0m0 3h0m1-19h0m1 17h0m11-11h0m7 9h0m0 4h0m6-1h0m1-17h0m1 14h0m1-1h0m0 3h0m0 1h0m1-15h0m2 10h0m0 3h0m1-7h0m6-3h0m1-3h0m3 0h0m218 14h0m1-4h0m1-5h0m2-8h0m0 1h0m6 12h0m1-6h0m0 12h0m2-19h0m3 13h0m22-7h0m0 1h0m2-7h0m1 4h0m1 11h0m0 3h0m1-14h0m1 8h0m6-2h0m11 4h0m3 5h0m8-6h0m2-11h0m1 16h0m1-16h0m1 3h0m4 1h0m1 13h0m2-15h0m1-1h0m5 2h0m4-3h0m3 12h0m1-3h0m7 4h0m2-12h0m3 12h0m5-9h0m11 7h0m34 4h0m3-13h0m0 8h0m0 1h0m2-8h0m94 7h0m2 1h0m0 5h0m3-17h0m2 11h0m7-12h0m-17 26h0m-1 2h0m-5 2h0m-8 5h0m-1 0h0m-4 2h0m-39 2h0m-32-2h0m-2-8h0m-1-8h0m-2 9h0m-34 6h0m-27-5h0m-1-11h0m-5 6h0m-3-1h0m-1 14h0m-2-17h0m-3 8h0m0-9h0m-3 17h0m-1-10h0m-2 9h0m-1-11h0m-1 3h0m-5 0h0m-3-8h0m-1 1h0m-3 17h0m-2-11h0m-4 1h0m-2 1h0m-5-10h0m-3 2h0m-1 11h0m-2-6h0m-2-3h0m-1 13h0m-1 2h0m0-15h0m-28 0h0m-1 6h0m-2 2h0m-9-8h0m-2 15h0m0-8h0m0-7h0m-235 2h0m-3 4h0m0-8h0m-1 2h0m-4 8h0m-1 3h0m0-7h0m-2 9h0m-4 2h0m-2-13h0m-1-5h0m-1 4h0m0-5h0m-2 9h0m-2 4h0m0-4h0m-3 1h0m-4-10h0m-1 11h0m0-6h0m-1-5h0m-4 9h0m-1-7h0m-1 6h0m-1 1h0m0-9h0m-4 3h0m-6 0h0m-7 4h0m-4-1h0m-2-6h0m-1 1h0m-2 4h0m0-1h0m-14 5h0m65 28h0m1-3h0m2-9h0m0 1h0m242 7h0m3-12h0m0 7h0m1-4h0m0 13h0m10-17h0m0 3h0m0 3h0m0 13h0m1-15h0m0 15h0m32-11h0m2 5h0m5-13h0m0 9h0m1 6h0m3 0h0m0 4h0m7-7h0m2 7h0m3-8h0m4-4h0m3-6h0m5-1h0m1 15h0m3-2h0m1 0h0m1 4h0m13-9h0m2 0h0m6-3h0m0 12h0m5-8h0m57 8h0m1-17h0m3 3h0m2 10h0m0 1h0m2 2h0m1-9h0m1 8h0m4-7h0m6-3h0m0 2h0m4-5h0m6 1h0m13 0h0m0 2h0m5-1h0m3 2h0m7 6h0m2-12h0m1 5h0m6-2h0m-56 26h0m-3-4h0m-2 13h0m-1-6h0m-9-7h0m-5 3h0m-7 1h0m-2 0h0m-7 1h0m-7-1h0m-9-7h0m-4 4h0m-4-2h0m-10 4h0m-2 1h0m-2 3h0m-6-2h0m0-3h0m-4 4h0m-5-7h0m-5 14h0m-3-3h0m0-3h0m-3-7h0m-6 10h0m-5-3h0m-2-10h0m-2 6h0m-3-5h0m-2-2h0m-10 3h0m-4-3h0m-32 0h0m-4 14h0m-3 0h0m-4-8h0m-2 1h0m-2-5h0m-1 16h0m0-7h0m-239 5h0m0-7h0m0-1h0m-1 5h0m-3-14h0m5 23h0m0 5h0m4 7h0m2-3h0m228-2h0m1 7h0m2-17h0m0 11h0m1-5h0m2 7h0m1 4h0m3-8h0m3-3h0m1-6h0m56 1h0m8-1h0m92 6h0m1 8h0m5-7h0m6-6h0m170 6h0m-179 14h0m-6 2h0m0-3h0m-2 11h0m0-2h0m-3 10h0m-152-15h0m-4 4h0m-3-2h0m-1 13h0m0-5h0m-2 4h0m-1-12h0m-2 4h0m-2 9h0m0-10h0m-2 7h0m-212-4h0m-1-3h0m-4-4h0m-3 0h0m-3-5h0m18 20h0m0 2h0m0 4h0m3-1h0m1 2h0m3-1h0m2 3h0m0 6h0m1-7h0m0 2h0m1 6h0m187-2h0m2 5h0m1-17h0m0 5h0m0 1h0m9 1h0m1 2h0m2 3h0m1 5h0m147-6h0m0 4h0m3-6h0m6-8h0m1-2h0m-13 26h0m-1-4h0m-2 14h0m0-4h0m-142 0h0m-1-1h0m-2-5h0m-14 2h0m-1-7h0m-2 9h0m0-1h0m-160 8h0m-6-5h0m-2 0h0m-6-6h0m-2-5h0m-5-2h0m22 22h0m3 0h0m3 1h0m5 5h0m2 3h0m7 7h0m1-2h0m120 3h0m2-2h0m5-6h0m4-11h0m3 3h0m2-3h0m19 13h0m5-10h0m1 1h0m0 8h0m1 6h0m134-17h0m0 4h0m2 6h0m1 4h0m1 1h0m3 3h0m3 20h0m-1-8h0m-2 7h0m-2-3h0m-1-13h0m-141 1h0m0-1h0m-1 7h0m-1 9h0m-5-4h0m-35-14h0m-3 5h0m-3 0h0m-4 2h0m-3 7h0m-3-1h0m-6 3h0m-7-2h0m-2 3h0m-1 0h0m-7 0h0m-9-1h0m-9 2h0m-9 0h0m-2 0h0m-4-1h0m-4-3h0m-7-3h0m-4 0h0m-3-2h0m-1-1h0m-7 0h0m-9-2h0m0-5h0m-10 2h0m68 17h0m7 3h0m66 14h0m4-2h0m4-11h0m1 1h0m2 1h0m154 4h0m1 1h0m1-1h0m12 28h0m-2-10h0m-5-3h0m-1 2h0m-3-7h0m-168 2h0m-3 5h0m-1 0h0m-3 4h0m-6 4h0m-1-1h0m-9 21h0m2-13h0m3 13h0m1-4h0m1-3h0m194 11h0m1-18h0m0 6h0m0 2h0m1-7h0m0 11h0m-2 15h0m-1 4h0m-3-9h0m-2 14h0m-174 2h0m-4-3h0m-3-2h0m-3-8h0m-1-1h0m-3-3h0m18 20h0m3 4h0m6 3h0m10 2h0m3 6h0m2-2h0m6 2h0m127 2h0m1-2h0m4-8h0m2-5h0m2 2h0m4-6h0m-16 26h0m-4-4h0m-1 5h0m-2 3h0m-6 9h0m-3-8h0m-5 7h0m-4 1h0m-58 0h0m-6-2h0m0-1h0m-2-3h0m-7 1h0m-2-2h0m-10-4h0m-1 2h0m-5-6h0m-3-1h0m42 17h0m7 1h0m2 5h0m6-2h0m7 2h0m4 0h0m4 2h0m5-7h0m10 1h0m7 1h0" stroke="#D5D5D5" stroke-width="7.6" stroke-linecap="round" fill="none"/>
<path transform="scale(.5)" d="M3996 2201h0" stroke="#CEC9DA" stroke-width="7.6" stroke-linecap="round" fill="none"/>
<path transform="scale(.5)" d="M3067 2018h0m17-1h0m1-4h0m6-3h0m4 5h0m6-9h0m48 12h0m172 15h0m-171 0h0m-8-5h0m-17-4h0m-7-2h0m-13 5h0m-29 4h0m-3-3h0m-3-6h0m-18 12h0m-15-4h0m-2 3h0m-5 3h0m-2-2h0m-6 3h0m-25 16h0m7 6h0m10-8h0m2-5h0m4-6h0m6 7h0m11 6h0m26 6h0m23-6h0m4 1h0m2-8h0m22 12h0m11-3h0m7-7h0m14 10h0m9-5h0m15-6h0m2 3h0m156 2h0m42-1h0m26-7h0m11 6h0m-6 14h0m-35 5h0m-175 1h0m-11-9h0m-7 14h0m-5-14h0m-8 17h0m-3-6h0m-4 4h0m-4 3h0m-3-2h0m-5-11h0m-4 8h0m-25-12h0m-5 17h0m-14-13h0m-2 12h0m-11 1h0m-6-14h0m-24 2h0m0-5h0m-8 9h0m-23-8h0m-4 13h0m-21 17h0m4-12h0m29 9h0m31 1h0m28-2h0m5-7h0m2 13h0m58-15h0m3 17h0m1-10h0m9 8h0m5-10h0m118-5h0m43 5h0m16 0h0m54 9h0m3 0h0m15 3h0m205-2h0m23 24h0m-1-6h0m-2-3h0m-226-4h0m-3 4h0m-10 5h0m-10-5h0m-9-1h0m-109 4h0m-95-13h0m-2 0h0m-4 16h0m0-13h0m-1 13h0m-13-5h0m-1-9h0m-12 15h0m-9-11h0m-14 2h0m-7-6h0m-10-2h0m-3 15h0m-8-1h0m-12-13h0m-28 6h0m-12-6h0m-2 13h0m-14-11h0m-8 8h0m-33 4h0m-8 7h0m4 11h0m19 0h0m2-13h0m0 4h0m0 1h0m24 5h0m19 8h0m10-5h0m17-13h0m16 8h0m49 1h0m13-5h0m2-3h0m12 1h0m0 13h0m5 1h0m226-9h0m23 9h0m14-9h0m171 12h0m1-6h0m0 5h0m25-17h0m10 17h0m5-16h0m3 1h0m15 19h0m-8 12h0m-40-5h0m-11 3h0m-148-1h0m-23-10h0m-44 12h0m-7-12h0m-32 10h0m-35-2h0m-150-9h0m-3 2h0m-7 7h0m-6 3h0m-4-2h0m-32 6h0m-34-10h0m-12 12h0m-20-13h0m-11 5h0m-20 0h0m21 11h0m5 12h0m46-8h0m3 5h0m5-7h0m0 16h0m12-15h0m6 15h0m1-5h0m27-3h0m167 7h0m9 1h0m18-12h0m59 4h0m2-7h0m15 7h0m3 1h0m0 7h0m13-14h0m37 12h0m3 0h0m137-13h0m40-2h0m0 2h0m39 12h0m-7 14h0m-15 9h0m-9-2h0m-5-9h0m-187-4h0m-6 7h0m-44-5h0m-2 1h0m-1 8h0m-7 0h0m-2-14h0m-6-1h0m-8 6h0m-46 6h0m-13-1h0m-27 2h0m-155-4h0m0-8h0m-13 5h0m-1 9h0m-4-5h0m-3 2h0m-7 7h0m-13-16h0m-50 11h0m15 9h0m13 8h0m1 2h0m20-5h0m0 1h0m2 4h0m1 3h0m173-7h0m54-8h0m33 1h0m5 16h0m8-12h0m39 5h0m1-7h0m18-4h0m17 15h0m7-3h0m154-10h0m0 8h0m1 7h0m10-2h0m25-9h0m4-2h0m3 3h0m32 29h0m-9-1h0m-11-7h0m-1 8h0m-5-9h0m-13 12h0m-8-11h0m-17-1h0m-12 11h0m-141-11h0m-10-2h0m-7 1h0m-30 8h0m-28-8h0m-4-4h0m-38 16h0m-65-16h0m-15 14h0m-157-12h0m-21 3h0m-4-3h0m-4-2h0m220 27h0m42-5h0m35 11h0m8 2h0m5-10h0m1-2h0m0 11h0m4 1h0m3-14h0m27 1h0m13 2h0m9 1h0m13-3h0m15-2h0m137 13h0m7-14h0m0 14h0m3-8h0m11 2h0m-3 11h0m-151 8h0m-53-8h0m-1 9h0m-17 6h0m-4 1h0m-3-1h0m-3 4h0m-14-10h0m-11 2h0m-4-10h0m-29 8h0m-12-8h0m-6 9h0m-30 9h0m-13-12h0m-16 1h0m-64 10h0m-4 15h0m33 4h0m35-7h0m119-1h0m45 10h0m23-11h0m9 4h0m115 7h0m28-12h0m-6 17h0m-6 2h0m-12 1h0m-10 7h0m-2-3h0m-4 0h0m-4-2h0m-1-8h0m-12 17h0m-22-15h0m-10 7h0m-17-8h0m-27 6h0m-6-1h0m-2-5h0m-21 13h0m-22-13h0m-11 6h0m-15 7h0m-7-14h0m-27 7h0m-35 4h0m-105 2h0m54 12h0m20-3h0m9 9h0m48 5h0m31 1h0m1-7h0m12 1h0m2-5h0m21 5h0m17-12h0m12 5h0m20 13h0m25-12h0m4-2h0m45 3h0m15-3h0m3 0h0m-139 23h0m-22 7h0m-92-4h0m-12-6h0m-41 12h0m3 14h0m104-3h0m31 2h0m0 1h0m3 5h0m13-12h0m-15 20h0m-10-3h0m-12 23h0" stroke="#C6BADB" stroke-width="7.6" stroke-linecap="round" fill="none"/>
<path transform="scale(.5)" d="M3333 1899h0m305-3h0m10 2h0m0 15h0m-6-12h0m-9-1h0m-1 13h0m-298-10h0m-50 4h0m-6 2h0m27 17h0m21-4h0m6 8h0m292-9h0m10 5h0m1 1h0m3 0h0m7-4h0m-8 19h0m-5 5h0m-2-1h0m-9-3h0m-262 0h0m-15 2h0m-66 3h0m-154 51h0m9-2h0m5-9h0m4 6h0m3-2h0m5 3h0m10 4h0m8-12h0m22 22h0m-6-1h0m-32-3h0m-6-5h0m-3 16h0m-8 3h0m-2-13h0m-9-2h0m-1 0h0m-6 12h0m-7-3h0m-19 1h0m-48 21h0m2 1h0m3 2h0m3 1h0m4-13h0m20 11h0m10-17h0m8 10h0m13-2h0m1 7h0m14 1h0m2-10h0m6-3h0m11-1h0m1 5h0m3 8h0m3-13h0m8 7h0m8 2h0m2-7h0m9 3h0m163 5h0m26-5h0m11 3h0m-30 22h0m-146 7h0m-8-13h0m-12 3h0m-7-6h0m-3 1h0m-2 12h0m-12-6h0m-2-6h0m-1 3h0m-1 0h0m-27-7h0m-4 19h0m-2-6h0m-16-12h0m-1 3h0m-2 11h0m-34-5h0m-20-2h0m-19 3h0m-1 6h0m-8 12h0m10 4h0m26 6h0m4-18h0m2 14h0m16-6h0m8 4h0m4-2h0m44-10h0m6 18h0m4-10h0m2-3h0m6 4h0m8 0h0m5 8h0m1-16h0m5 15h0m18 1h0m3-15h0m2 13h0m1-11h0m9 3h0m13 7h0m4-12h0m2 5h0m5 11h0m19-13h0m4 5h0m2-7h0m1 11h0m0 4h0m59-18h0m66 5h0m312 27h0m-3 5h0m-5 0h0m-9-5h0m-4 4h0m-32-8h0m-25 3h0m-350 1h0m-8 4h0m0-12h0m-9 2h0m-6 1h0m-7 0h0m-16 0h0m-4-6h0m-6 3h0m-24 11h0m-2-3h0m-4 0h0m-21 5h0m-16 1h0m-24-9h0m-1-7h0m-3 10h0m-2-13h0m-8 0h0m-24 16h0m-8 0h0m-30-6h0m-2 0h0m-22 8h0m-17-18h0m-16 18h0m-7 6h0m13 5h0m14 7h0m2 2h0m15-6h0m14 2h0m30-8h0m2 2h0m29-8h0m2 14h0m3-2h0m10-10h0m2 5h0m3 5h0m0 6h0m7-2h0m1-12h0m12-1h0m3-1h0m0 14h0m4-14h0m3 10h0m7-6h0m5 2h0m1 9h0m12-10h0m3-7h0m8 19h0m4-8h0m19-9h0m17 8h0m1-8h0m2 3h0m5 1h0m4 7h0m8 5h0m1-11h0m5 12h0m5-3h0m14-6h0m2-10h0m58 4h0m33 3h0m41 7h0m30 0h0m173 4h0m2 1h0m2-15h0m16 9h0m11-12h0m1 4h0m6 9h0m5-8h0m17 12h0m4-11h0m3 12h0m4-8h0m17-1h0m14 3h0m27 23h0m-6-10h0m-5 11h0m0-9h0m-10-3h0m-6 3h0m-4 7h0m-1 2h0m-15-16h0m-26 11h0m-17-10h0m-17 1h0m-13 12h0m-173-7h0m-178-4h0m-3 5h0m-2-8h0m-3 10h0m-19 4h0m-5-3h0m-1 6h0m-8-12h0m-5-2h0m-12 5h0m-3 4h0m-17 6h0m-2-2h0m0-15h0m-3 1h0m-3 11h0m-2 3h0m-5-4h0m-5-5h0m-2 10h0m-8-7h0m-8 8h0m-1-2h0m-1 0h0m-11-4h0m-7 4h0m-9-1h0m-8-10h0m-1 5h0m-17 3h0m-27-2h0m-17-9h0m-10 9h0m-4-11h0m-10 13h0m-10 4h0m0-16h0m-3 3h0m-9 18h0m16 15h0m20-9h0m22 5h0m26-10h0m2 0h0m1 10h0m9-7h0m5 9h0m2-14h0m3 7h0m12-4h0m11 10h0m1-1h0m1-1h0m1-6h0m3-1h0m4-3h0m5 9h0m7-9h0m13 13h0m3-9h0m1-6h0m1-1h0m0 12h0m12 0h0m2 3h0m2-14h0m12 0h0m6 1h0m6 9h0m1-4h0m7 6h0m1 6h0m10-5h0m4 3h0m10 0h0m6-16h0m1 6h0m2 6h0m6-5h0m3-8h0m36 17h0m123-6h0m16-3h0m12 0h0m1 5h0m170 1h0m12-8h0m9 9h0m2-3h0m6 1h0m13 1h0m15 0h0m13 0h0m14 3h0m5 2h0m3-7h0m1 2h0m2-9h0m3-4h0m2-1h0m3 1h0m0 7h0m6 0h0m5 8h0m3-6h0m0 9h0m-12 17h0m-5-8h0m0-1h0m-2 8h0m-4-2h0m0-11h0m-11 14h0m-11-4h0m-21-9h0m-2 16h0m-26-19h0m-7 4h0m-9 13h0m-5-10h0m-100 3h0m-83 3h0m-88 4h0m-54-5h0m-19 1h0m-3-5h0m-32 2h0m-10-6h0m0-3h0m-5 5h0m-6 4h0m-4-5h0m-11-3h0m-1 5h0m-11-6h0m-1 2h0m-4-3h0m-3 19h0m-2-8h0m-4-4h0m-92 8h0m-12-12h0m-24 7h0m-6-7h0m-6 11h0m7 15h0m8 7h0m19-2h0m14-1h0m14-9h0m17-3h0m10 8h0m4-1h0m0 2h0m0 1h0m4 2h0m1-10h0m0 12h0m2 3h0m8-6h0m1-1h0m3-4h0m21-4h0m1 1h0m0 1h0m28 8h0m4-6h0m0 7h0m6-1h0m3-1h0m3-9h0m6 10h0m5-3h0m1-6h0m9 3h0m23-6h0m10 2h0m57 11h0m70-14h0m48 17h0m48-10h0m11 3h0m28 1h0m74 6h0m8-5h0m6 1h0m24-7h0m5-6h0m14 13h0m3 0h0m31-5h0m1 9h0m3-10h0m1 4h0m1-5h0m0 11h0m1-9h0m9-8h0m4 9h0m5-8h0m2 6h0m2 9h0m2 3h0m3-18h0m0 10h0m-7 10h0m-2 18h0m0-10h0m-19 6h0m-6-8h0m-11 1h0m-3-8h0m-2 13h0m-21 2h0m-1 1h0m-7-11h0m-19 1h0m-4 8h0m-69 5h0m-24-14h0m-8 12h0m-2-13h0m-2 12h0m-2 1h0m-19-7h0m-2-6h0m-1 11h0m-14 2h0m-68-2h0m-141-3h0m-1-12h0m-17 0h0m-33 11h0m-8-3h0m-2 0h0m-21-8h0m-5 19h0m-5 0h0m-1-5h0m-3-9h0m-3 10h0m-1-7h0m-12 9h0m-1-16h0m-1 12h0m-5 3h0m-1-14h0m-5 13h0m-15 0h0m0-11h0m-20 5h0m-11 6h0m-2-14h0m-11 4h0m-1 2h0m-8-7h0m-4 16h0m-2-16h0m-1 2h0m-14 2h0m-4-2h0m36 25h0m31-6h0m9 9h0m16-4h0m2-3h0m1 11h0m3 4h0m2-2h0m1 3h0m3-19h0m0 9h0m3 6h0m1-6h0m0 6h0m12-15h0m7 8h0m2 6h0m4-14h0m5 19h0m5-13h0m7 7h0m4-6h0m5-5h0m1-2h0m21 9h0m187 10h0m70 0h0m23 0h0m7-9h0m5 5h0m22-2h0m5-4h0m62 2h0m20-8h0m20 13h0m20-9h0m10 8h0m-73 9h0m-77 14h0m-13-10h0m-7 7h0m-2 0h0m-20-14h0m-3 16h0m-73-1h0m-45-1h0m-62 4h0m-111-16h0m-10 5h0m-4-5h0m-15 2h0m-17-5h0m-27 4h0m-4-3h0m80 22h0m51 12h0m40-12h0m129 0h0m73 4h0m29 5h0m5-3h0m9-5h0m18 8h0m102-10h0m-118 21h0m-119 1h0m-59 11h0m-37-1h0m-114 18h0m109 5h0m58 2h0m12-4h0m8-6h0m13 8h0m11 17h0m-3-7h0m-16 5h0m-7-6h0m-113 10h0m-20-8h0m-41 7h0m21 24h0m3-6h0m18 5h0m187-17h0m0 14h0m3-7h0m15 6h0m48 10h0m-9 9h0m-2-1h0m-34 2h0m-75-5h0m-107 14h0m2-2h0m49 1h0m110 8h0m91 29h0m-25-3h0m0-13h0m-14 2h0m-153-1h0m-26 16h0m192 6h0m4 1h0m61 28h0m-37 4h0m-52-13h0m-26-5h0m8 29h0m100-3h0m-30 24h0m-30-8h0m-42 43h0m25 9h0m17 2h0m5-5h0m39 0h0" stroke="#BBA8D6" stroke-width="7.6" stroke-linecap="round" fill="none"/>
<path transform="scale(.5)" d="M3289 1887h0m3 2h0m3 0h0m23 7h0m33 1h0m302 17h0m-9 0h0m-6-8h0m0-3h0m-5 10h0m-3-7h0m-9 3h0m-7 6h0m-256-13h0m-49 14h0m-26 2h0m-12-1h0m-21-1h0m-2-14h0m-71 37h0m4-11h0m1 0h0m16 4h0m8 7h0m3-9h0m7-2h0m1-2h0m1 10h0m2-11h0m2 2h0m8-5h0m0 12h0m3-5h0m7-7h0m10 11h0m49-10h0m48 4h0m270 0h0m13-4h0m2 12h0m1-15h0m0 4h0m2 14h0m4-18h0m0 2h0m1 0h0m-14 22h0m-3-3h0m-262 3h0m-38 15h0m-50 0h0m-12-3h0m-4-16h0m-13 5h0m-15-5h0m-5 8h0m-1-7h0m-6 7h0m-1 8h0m-4-8h0m-1-2h0m-2 4h0m-9 1h0m-1 4h0m-2-3h0m-4 7h0m-1-8h0m0-11h0m-14 17h0m-4-15h0m-5 6h0m-2 4h0m-1-9h0m-1 7h0m-3-7h0m-8 16h0m2 1h0m11 3h0m2 4h0m18-2h0m9 1h0m10 3h0m17-9h0m8 13h0m4-8h0m2 10h0m4-15h0m2 17h0m6-3h0m13-11h0m20 9h0m4-7h0m25 11h0m9-11h0m51 13h0m15 19h0m-1-6h0m-6-4h0m0-1h0m-5-5h0m-7 0h0m-23 1h0m-3 0h0m-11-1h0m-10 16h0m-23-4h0m-3-6h0m-9 5h0m-3-11h0m-3 9h0m-28-1h0m-11 4h0m-3 0h0m-9 3h0m0-9h0m-59 11h0m-9-10h0m-3-1h0m-4 6h0m-4 1h0m-25 3h0m-37 19h0m20-9h0m3 6h0m6 5h0m2-12h0m5-4h0m1 6h0m0 3h0m1-5h0m0 12h0m1-16h0m10 10h0m3-2h0m10-9h0m18 11h0m11-10h0m1 2h0m9 12h0m37-15h0m3 5h0m1 13h0m7-12h0m12-3h0m4-2h0m2 6h0m3 7h0m5-9h0m29 13h0m10-19h0m19 1h0m4 11h0m58-11h0m18 9h0m210 7h0m1-1h0m17 2h0m18-1h0m9 14h0m-15-3h0m-14 8h0m-12-8h0m-1-8h0m-3 8h0m-207-5h0m-4 8h0m-41 6h0m-15 2h0m-14-7h0m-23 0h0m-15 4h0m-33 1h0m-4 1h0m-13-9h0m-4-3h0m-1-1h0m-45 3h0m-1-5h0m-1 16h0m-12-12h0m-5 10h0m-9-7h0m-1 7h0m-1-12h0m-1 14h0m-3-4h0m-3-9h0m-1 8h0m-2 2h0m-2-13h0m-5 16h0m-8-2h0m-1-5h0m-2 3h0m0-12h0m-5 0h0m-7 16h0m-5-18h0m-8 0h0m-1 6h0m-12 4h0m0-4h0m-2-3h0m-3 4h0m-2 0h0m-18-1h0m-5-3h0m0-1h0m-8 4h0m-1-5h0m-2 10h0m-1 7h0m-1-5h0m-9-2h0m-3 1h0m-2 1h0m-4-1h0m-2 4h0m-21 21h0m32-13h0m3 10h0m9-10h0m5 0h0m1 10h0m10-7h0m24 7h0m8-3h0m11 2h0m9-1h0m6 6h0m3-10h0m2-9h0m0 2h0m2 10h0m8-11h0m0 14h0m2 2h0m10-11h0m3-2h0m1 2h0m4 11h0m11-14h0m1 9h0m2-4h0m4 7h0m67-13h0m98 12h0m13 0h0m50-9h0m1-1h0m10 4h0m1 5h0m2 0h0m-10 13h0m-106 2h0m-27-7h0m-30 3h0m-2 5h0m-8-1h0m-3 8h0m-1 3h0m-3-8h0m0-10h0m-13 4h0m-6-1h0m-11 10h0m-2-12h0m-10 13h0m-8 0h0m0-5h0m-1 8h0m-3-11h0m-1 0h0m-1 0h0m0-4h0m-10-1h0m-1 16h0m-7 1h0m-10-9h0m-9 1h0m-2-3h0m0-7h0m-6 8h0m-2-8h0m-11 15h0m-11-3h0m-1-1h0m-18-2h0m-2-5h0m-13-5h0m-15 12h0m0-8h0m-8 14h0m-58-3h0m-8-2h0m-3-4h0m-8 21h0m12 8h0m2-5h0m5-6h0m5-7h0m7 17h0m2-2h0m21 3h0m4-15h0m5 13h0m19-3h0m1 6h0m5-18h0m3 14h0m1-12h0m1 6h0m7 2h0m3-4h0m1-6h0m2 13h0m16-1h0m7 2h0m4-15h0m0 8h0m0 7h0m10 1h0m1-8h0m11 5h0m6-8h0m4 9h0m22 0h0m2-12h0m0 1h0m6 0h0m2 10h0m9-7h0m1-6h0m1 15h0m1-5h0m9 1h0m5-8h0m9 11h0m2 1h0m3-11h0m3 10h0m2-14h0m10 17h0m4-7h0m4 4h0m1-12h0m19 11h0m1-4h0m34-9h0m134 15h0m182-5h0m26 0h0m25 2h0m6-3h0m13-4h0m10 12h0m25 21h0m-6-3h0m-11-10h0m-1 6h0m-3 5h0m-7-13h0m-1 7h0m-1-9h0m-2 10h0m-2-9h0m0-1h0m-2 9h0m-2-9h0m-4 10h0m0-5h0m-4 3h0m-8-6h0m-12 15h0m-20-4h0m-4 2h0m-1 3h0m-14-7h0m-1 2h0m-146 1h0m-197 2h0m-13-3h0m-3-14h0m-1 12h0m-14 4h0m-1-6h0m-18-4h0m-2 12h0m-10-15h0m-18 4h0m-1-4h0m-2 3h0m-1-2h0m-4-4h0m-9 6h0m-1-2h0m-1 12h0m0-13h0m-4 3h0m-5 1h0m-6-6h0m-3 3h0m-6 13h0m-1-3h0m-1-14h0m-4 9h0m-9-4h0m-9 14h0m-1-18h0m-7 3h0m-2-3h0m-14 7h0m0-2h0m-3 2h0m-1 1h0m-9 10h0m-5-4h0m-1-6h0m-7 8h0m-8-4h0m-11 5h0m-1-5h0m-17 4h0m-2-6h0m-4-10h0m-4 7h0m-5 3h0m-11 6h0m-13 20h0m3-4h0m12-5h0m3-5h0m6 9h0m10-7h0m24 14h0m7-12h0m12 10h0m11-14h0m3 4h0m2-3h0m1 2h0m7 0h0m5 6h0m7-10h0m12 0h0m14 0h0m0 1h0m7 11h0m3-1h0m1-5h0m3 0h0m4 0h0m3 1h0m1 10h0m1-13h0m1 0h0m4-4h0m2 15h0m9-12h0m0 2h0m6-7h0m4 14h0m7 2h0m6-1h0m15-4h0m3 6h0m2-17h0m10 3h0m9 14h0m4-7h0m3 4h0m4-9h0m2 0h0m1-1h0m12-2h0m2 15h0m11-7h0m20-6h0m66 5h0m46-5h0m1 0h0m3 0h0m10 4h0m19-4h0m31-1h0m4-1h0m8 12h0m204-7h0m2 3h0m12 8h0m1-14h0m3 14h0m3-12h0m0 9h0m1-8h0m5 1h0m7-7h0m2 4h0m5 6h0m6 8h0m3 17h0m-6-14h0m-3 13h0m-3 0h0m-2-5h0m-3 4h0m-3-10h0m-8 8h0m-1-3h0m-3 8h0m-4 1h0m-4-5h0m-6 5h0m-10-4h0m-39 1h0m-160-14h0m-20 13h0m-190-5h0m-11 9h0m-10-8h0m-3 8h0m0-4h0m-4-13h0m-20 8h0m-2 5h0m-5-14h0m-5 14h0m-3 2h0m0-15h0m-1 4h0m-4 13h0m0-2h0m-1-10h0m-2 0h0m-7-5h0m-1-1h0m-2 9h0m-4-1h0m-2 9h0m0-4h0m-8 6h0m-5-12h0m-7 9h0m-7-13h0m-5-3h0m-13 13h0m-5-8h0m-6 7h0m-1-8h0m-6 7h0m-6-4h0m-1 10h0m-9-10h0m-5 8h0m-1-1h0m-1 3h0m-1 1h0m-3-3h0m-10 2h0m-13 1h0m-8-4h0m-9-10h0m-8 10h0m-24 2h0m-10-12h0m-11 2h0m30 17h0m9 10h0m4-13h0m10 4h0m5 0h0m9 7h0m18-5h0m6 12h0m1-1h0m2 1h0m4-6h0m3 7h0m3-1h0m4 1h0m6-12h0m1-7h0m1 17h0m6-7h0m18-1h0m2-4h0m4 0h0m1 1h0m7 13h0m4-6h0m17 4h0m2 0h0m2-13h0m4 4h0m5 10h0m1-7h0m2-11h0m1 15h0m7-13h0m0 7h0m2-6h0m8 15h0m0 1h0m2-6h0m0 3h0m2-11h0m5 8h0m1-9h0m16 4h0m3 9h0m11 0h0m7-13h0m7 14h0m5-8h0m100 6h0m31-10h0m24 0h0m56-3h0m49 6h0m108 7h0m8 1h0m41-17h0m1 0h0m3 12h0m11 3h0m10-13h0m1 7h0m2-9h0m2 14h0m13 5h0m1-13h0m0 5h0m8 4h0m-5 8h0m-3-2h0m-5 6h0m-2 5h0m-10 3h0m0-1h0m-2-5h0m-1 3h0m-3-7h0m-7 2h0m-18-7h0m-56 4h0m-59 8h0m-1-8h0m-17 0h0m-6 14h0m-6-10h0m-12 5h0m-1-12h0m-7 6h0m-2 12h0m-37-4h0m-3-11h0m-2 3h0m-9-4h0m-50 4h0m-3 8h0m-142-13h0m-17-1h0m-2 3h0m-31-3h0m-3 9h0m-1-7h0m-2 13h0m-2-2h0m-17-10h0m-2 7h0m-9-9h0m-7 17h0m-1-11h0m-14 3h0m-10-11h0m-2 7h0m-3 7h0m-2-3h0m-8-5h0m-3 7h0m0-9h0m-6 2h0m-18 1h0m0-2h0m-2 2h0m-20 0h0m-7 3h0m-3-8h0m-2 7h0m0-5h0m-2 9h0m-3 6h0m-3-10h0m-3-9h0m-8 1h0m-3 6h0m12 20h0m17 8h0m10 0h0m4 1h0m7-3h0m7 6h0m9-13h0m12-2h0m4 11h0m8-10h0m5 3h0m1 1h0m20 3h0m1 2h0m14 4h0m12-10h0m11-3h0m16-5h0m26 7h0m79 11h0m21-13h0m68-2h0m28 13h0m18 3h0m5-6h0m2 0h0m7 2h0m7-5h0m1 3h0m11 4h0m13-3h0m4-10h0m1 15h0m2-11h0m2 4h0m13-11h0m19 10h0m15-9h0m48 8h0m74-5h0m7 1h0m5-3h0m2 5h0m4 2h0m0 2h0m11-4h0m1-8h0m3 1h0m2 14h0m-8 15h0m-2-9h0m-2-1h0m-13 1h0m-4 12h0m-12 0h0m-2-7h0m-6 7h0m-8 1h0m-95 3h0m-4-3h0m-7 5h0m-5-17h0m-12 5h0m-10-3h0m-14 8h0m-8 7h0m-15-11h0m-5 4h0m-14-3h0m-2-2h0m-6 12h0m-67-6h0m-62-11h0m-17 8h0m-7 9h0m-83-19h0m-18 13h0m-5 0h0m-16-2h0m0-11h0m-3 4h0m-18 10h0m-2-9h0m-6 8h0m-10-8h0m-5-3h0m-1 16h0m-9-2h0m-20-1h0m0-2h0m-1-11h0m-3 13h0m-5-12h0m-1 2h0m-2 1h0m-4 7h0m-8-9h0m67 17h0m1 7h0m3 2h0m2-8h0m10 11h0m10 0h0m5 5h0m1-6h0m21-11h0m14 11h0m236-1h0m13 8h0m10-14h0m22 7h0m3-12h0m4 17h0m10-5h0m13-3h0m13 4h0m2-4h0m74-2h0m7-3h0m-89 29h0m-5 1h0m-18-2h0m-12-1h0m-1-6h0m-5 5h0m-10-8h0m-4-2h0m-9 9h0m-6 0h0m-6 9h0m-1-2h0m0-4h0m-3 1h0m-5-6h0m-33-5h0m-5-2h0m-47 19h0m-91 17h0m57-15h0m4 11h0m114-12h0m19 1h0m6 5h0m9 13h0m20-9h0m13 9h0m3-16h0m1 16h0m10-16h0m8-1h0m4 13h0m14-4h0m1-1h0m10 5h0m7-5h0m15 4h0m6-7h0m6 10h0m14-7h0m-12 13h0m0-2h0m-13 11h0m-16 6h0m-15 1h0m-7-19h0m-2 19h0m-6-1h0m-30-2h0m-4 3h0m-5-12h0m-4 7h0m-1 1h0m-4 4h0m-8-2h0m0-11h0m-2 2h0m-7 2h0m-10-6h0m-9 1h0m-8 2h0m-6 8h0m-23-14h0m-76 9h0m-79 19h0m126 4h0m10-5h0m37 8h0m3-16h0m4 12h0m7-12h0m5 1h0m9 3h0m4 4h0m14 0h0m2 7h0m27 1h0m4-11h0m19 5h0m2 4h0m1-13h0m1 4h0m4-3h0m9-1h0m1 2h0m0 1h0m14 15h0m6-8h0m2-2h0m6 0h0m1 7h0m3-2h0m-113 11h0m-9 8h0m-14-4h0m-33-9h0m-12 17h0m-2-14h0m-126 9h0m110 13h0m143 3h0m27 13h0m-60 0h0m-2 12h0m-152 16h0m57-7h0m10 2h0m4 1h0m8 5h0m10 6h0m12-14h0m2 12h0m5-8h0m23-5h0m17 13h0m47-4h0m-6 26h0m-7-11h0m-27-2h0m-59 16h0m-9-5h0m0-2h0m-2 3h0m0-3h0m-1-5h0m-7 8h0m-7-9h0m-1 8h0m-3-3h0m-9-1h0m-7 1h0m-6 0h0m0-11h0m-1 1h0m-5 9h0m-4 3h0m13 10h0m5 6h0m2-5h0m0 9h0m2-11h0m6 9h0m5 2h0m7 3h0m1-10h0m2 6h0m0 4h0m0 1h0m2-17h0m1 4h0m1 8h0m1 2h0m3-9h0m1 8h0m2 6h0m15-16h0m0 4h0m7 6h0m14-12h0m74 5h0m-11 33h0m-38-5h0m-47-10h0m-6-2h0m-3 11h0m-1-1h0m-8-11h0m-2 10h0m-3-3h0m-1 2h0m-1 4h0m-6 2h0m-2-9h0m-8 5h0m-1 4h0m-5-8h0m0-2h0m-1 11h0m18 12h0m0 2h0m4 7h0m1-6h0m2-12h0m0 9h0m5-7h0m0 4h0m5-3h0m5-3h0m4 15h0m1-1h0m3 4h0m2-12h0m33 8h0m20 4h0m24-10h0m33 10h0m5-1h0m-34 3h0m-44 18h0m-33-17h0m-17 4h0m-3-5h0m-4 11h0m-8-7h0m120 29h0" stroke="#AC97CE" stroke-width="7.6" stroke-linecap="round" fill="none"/>
<path transform="scale(.5)" d="M3261 1894h0m-9 24h0m-8 0h0m-1-2h0m0-10h0m-7 0h0m-1 12h0m-1-14h0m-3 1h0m-9 1h0m-1 11h0m-1-2h0m-7 2h0m-50 20h0m14 0h0m9-3h0m10-9h0m0 2h0m0 3h0m0 8h0m1-7h0m7 2h0m5 4h0m11-4h0m2-12h0m0 5h0m0 5h0m4-5h0m3-1h0m6 2h0m1 0h0m5 10h0m25 13h0m-7-6h0m-21 4h0m-1-6h0m-9 5h0m-4 1h0m-4 3h0m-2 4h0m0-3h0m-1-10h0m-5 5h0m-1 8h0m-11-9h0m-1 8h0m-3 3h0m0-5h0m-8 4h0m-1-14h0m-1 3h0m-3 14h0m-1-12h0m-2-6h0m-3 5h0m-7-3h0m-1 15h0m-1-7h0m-3 4h0m-4-7h0m-3 0h0m-3 7h0m-2 8h0m14 1h0m10 5h0m25 1h0m1 4h0m9-13h0m5 8h0m7 2h0m3-8h0m2-3h0m4 9h0m2-2h0m2-3h0m2 13h0m3-4h0m15-12h0m8 15h0m3-13h0m6 3h0m5 0h0m5 3h0m3-8h0m17 11h0m15 7h0m4-3h0m15 13h0m-13 1h0m-1-2h0m-1 3h0m-18 2h0m0-5h0m-11 3h0m-7-5h0m-1 0h0m-1-1h0m-4 0h0m-20 1h0m-3-6h0m-6 14h0m-5-9h0m-12 2h0m-2 1h0m0-3h0m-1-3h0m-11-1h0m-103 16h0m-39 16h0m14 5h0m7 1h0m2 0h0m1-10h0m3-1h0m7 3h0m6 1h0m23-1h0m4 2h0m0 2h0m84-12h0m1 15h0m5 0h0m1-1h0m1-7h0m30 3h0m1-3h0m17-6h0m12-3h0m-47 36h0m-15-1h0m-7-2h0m-5-14h0m-54 14h0m-3 3h0m-7 2h0m-5-19h0m-3 5h0m0-1h0m-1 0h0m0-1h0m-4 11h0m-15-3h0m-13-6h0m-2 12h0m-9-8h0m-3 6h0m0-6h0m-5-9h0m-2 10h0m-13 9h0m0-12h0m-3 7h0m-2 2h0m-4-2h0m-6-13h0m-2 0h0m-6 14h0m-3 3h0m-9-10h0m-51 26h0m43-3h0m17 0h0m6-10h0m12 16h0m23-15h0m29 11h0m20-8h0m2 4h0m5 10h0m2-11h0m7-6h0m1 10h0m9 5h0m5 2h0m68-13h0m-57 22h0m-4 1h0m-13-1h0m-9 2h0m-10-2h0m-4-4h0m-2-3h0m-11 5h0m-10-5h0m-1 1h0m-1 2h0m-1 11h0m0-4h0m-4 1h0m-4 1h0m-2 2h0m-5-6h0m-5-1h0m-5-2h0m-1 8h0m-31-3h0m-14-1h0m0-3h0m-4-1h0m-2 12h0m-5-8h0m-2-9h0m-18 8h0m-9 8h0m-14 1h0m-10-8h0m-16 16h0m60 9h0m6-14h0m10 9h0m8-6h0m1 2h0m1 3h0m6-5h0m9 9h0m2 4h0m6 1h0m18-13h0m2-5h0m0 12h0m8-1h0m14-4h0m2-5h0m2 4h0m6-6h0m14 18h0m3-9h0m3-9h0m8 10h0m2-6h0m6-4h0m447 19h0m40-10h0m5 2h0m-37 20h0m-2-10h0m-14 6h0m-433-7h0m-13 7h0m-2-5h0m-11 12h0m-3 0h0m-8 0h0m-7-7h0m-3-6h0m-2 10h0m-3 1h0m-1 1h0m-20 2h0m-7-9h0m-10 2h0m-2-2h0m-4 3h0m-10 6h0m0-3h0m-20 4h0m-9 1h0m-31 0h0m-7-8h0m18 30h0m37-3h0m4-10h0m4-6h0m12 10h0m11-6h0m4 4h0m8 5h0m3 4h0m13-9h0m7 8h0m19-12h0m2 12h0m3-11h0m11 13h0m5-15h0m2 12h0m2-2h0m1-9h0m428 15h0m4-3h0m15-12h0m15-3h0m20 17h0m34 10h0m-2-3h0m-11 5h0m-16 4h0m-7-5h0m-2 5h0m-5-3h0m-1-8h0m-27 10h0m-3 1h0m-448-14h0m-2 8h0m-4 7h0m-1 3h0m-6-9h0m-4 0h0m-1-1h0m-9 0h0m-1 8h0m-1-7h0m-7-7h0m-4 16h0m-3-1h0m-1-16h0m-29-1h0m-5 13h0m-11 3h0m-4-1h0m-25-13h0m-38 9h0m27 18h0m3 5h0m25-4h0m2-1h0m12-8h0m8-1h0m7 7h0m5-5h0m11 4h0m11 12h0m15-16h0m5 0h0m2-2h0m2 13h0m1-1h0m8-2h0m362 6h0m4 0h0m5 2h0m8-4h0m99 5h0m8-4h0m22 1h0m7-14h0m-40 21h0m-30 4h0m-46-1h0m-3 13h0m-41-19h0m-11 4h0m-361 2h0m-1 7h0m-3 0h0m-2 4h0m-2-16h0m-9 5h0m-51-3h0m-3 1h0m-4 15h0m-10-5h0m20 16h0m4-4h0m7 1h0m1 6h0m5-12h0m8 4h0m2 10h0m1-4h0m1 5h0m4-11h0m10-2h0m0 5h0m4-1h0m376-1h0m7 8h0m2-6h0m9-7h0m6 11h0m85-11h0m33 17h0m6-11h0m33-2h0m-34 29h0m-5-7h0m-5-4h0m-1-2h0m-3 9h0m-7-3h0m-7-2h0m-36 1h0m-34 4h0m-1 2h0m-5-3h0m-18 4h0m-19 0h0m-5 3h0m-5-7h0m-361-8h0m-19 17h0m-13-8h0m392 18h0m10-2h0m18-4h0m16 11h0m18-7h0m94 12h0m36-15h0m-41 21h0m-107-4h0m-18 22h0m28 68h0m-10 2h0m-35 11h0m3 24h0m-3-1h0m-11 2h0m-23 4h0m-76 24h0m6 3h0m12-16h0m17 6h0m87 7h0m8-11h0m22-5h0m12 13h0m38 26h0m-54-15h0m-96-3h0m-7 7h0m0-4h0m-23 11h0m-14-10h0m-13 7h0m6 15h0m5 11h0m2-1h0m14-3h0m1-6h0m23-1h0m6-5h0m0 10h0m1-10h0m2 10h0m3-5h0m60 0h0m15 0h0m0 5h0m11 3h0m4-5h0m5 26h0m-26 1h0m-66-16h0m-12 17h0m-5 0h0m-4-8h0m-18-6h0m-4-3h0m-2 7h0m77 29h0m55 4h0m-68 14h0m39 15h0" stroke="#9D86C7" stroke-width="7.6" stroke-linecap="round" fill="none"/>
<path transform="scale(.5)" d="M3245 1898h0m5-5h0m11-2h0m30-9h0m339 17h0m7-4h0m11 23h0m-1-18h0m-2 17h0m-2-7h0m-1 9h0m-1-8h0m-1 7h0m-3-16h0m-4 5h0m-4 12h0m0-3h0m0-7h0m-1 7h0m-11-2h0m-1-7h0m-302 3h0m-58 8h0m-4-18h0m-14 17h0m0-14h0m-4 4h0m-15 12h0m-53 16h0m9 3h0m6-3h0m7-7h0m5 7h0m1-4h0m1 2h0m1 4h0m5-6h0m2 8h0m1-15h0m0 6h0m6 4h0m6-14h0m3 4h0m0 2h0m6 3h0m1 0h0m2-2h0m0 7h0m0 5h0m2-10h0m14-2h0m18 4h0m17-9h0m14 13h0m77 0h0m252-14h0m0 15h0m2-4h0m6 2h0m0 5h0m3-15h0m0 4h0m5 5h0m2 3h0m1-11h0m1 0h0m2-1h0m2-4h0m0 15h0m2-15h0m-12 22h0m-1-2h0m-350 4h0m-28-3h0m-9 3h0m-18 7h0m-7-9h0m-1 9h0m-2-5h0m-12-2h0m-10 6h0m-7-1h0m-1-8h0m-1 3h0m-10 7h0m-2-11h0m-5 5h0m-2 5h0m-2 2h0m-2-8h0m-10 6h0m0-9h0m-9 34h0m13 4h0m6-15h0m4 12h0m6-12h0m9-3h0m168 3h0m-173 35h0m-15-3h0m-4 3h0m-1-11h0m-7 6h0m-13-3h0m-2 3h0m-63 20h0m7-2h0m0 4h0m4-7h0m1 6h0m4-10h0m4 2h0m1 4h0m4 0h0m11 3h0m2-6h0m2-6h0m1 1h0m5-1h0m3-2h0m10 1h0m3 6h0m3-4h0m0 6h0m6 6h0m3-11h0m18 13h0m1-6h0m1-10h0m3 6h0m7 10h0m473 16h0m0-3h0m-2-1h0m-5 1h0m-3-8h0m-6 1h0m-10 4h0m-432-6h0m-8 3h0m-3 6h0m-8-4h0m-1 3h0m-19-6h0m-12-2h0m0-1h0m-2 7h0m-24 11h0m-3-3h0m-2 0h0m-9-5h0m-1 5h0m-4-6h0m0-4h0m-8 2h0m0-6h0m-1 18h0m0-13h0m-1 10h0m-5 1h0m-1-5h0m-1-11h0m-10 12h0m-6-5h0m-9 11h0m-11-3h0m-4-3h0m-11 5h0m-26 18h0m1-8h0m4-3h0m10-1h0m2 9h0m0 1h0m1-5h0m8-1h0m1 0h0m1 0h0m0 6h0m21 0h0m2 5h0m6-16h0m0 10h0m8 2h0m16-9h0m1 13h0m2-3h0m0 2h0m8 0h0m11-2h0m1-7h0m8 10h0m7-2h0m1-14h0m9 10h0m0 1h0m2-1h0m12 0h0m3-5h0m5-8h0m4 19h0m18-13h0m4 0h0m3 2h0m2 11h0m21-2h0m42 19h0m-4-9h0m-7 7h0m0-3h0m-3 0h0m-31 8h0m0-3h0m-5-11h0m0-2h0m-6 9h0m-4-9h0m-8 0h0m-2 14h0m-6-7h0m-6-1h0m-6 8h0m-2-14h0m-13 10h0m-1-6h0m-3-6h0m-4 5h0m-14 8h0m-5 1h0m-14-6h0m-1 6h0m-5 0h0m-5-3h0m-9-2h0m-5-5h0m-3 6h0m-1 0h0m-8-8h0m-1 7h0m-15-5h0m-4 1h0m-26 2h0m-9 11h0m-13-19h0m-1 17h0m-1-1h0m-14 19h0m2-14h0m16 7h0m4-7h0m8 1h0m1 14h0m10-2h0m2-3h0m11-1h0m10 6h0m13-16h0m4 8h0m0 10h0m7-18h0m0 1h0m4 11h0m6-9h0m9 15h0m2-2h0m1-4h0m8 4h0m4-16h0m1 11h0m2-1h0m1-4h0m4-5h0m3 17h0m1-13h0m4 7h0m9-10h0m3 9h0m10-7h0m1 2h0m10-6h0m6 13h0m1-4h0m8 9h0m16-6h0m12-10h0m4 0h0m8 10h0m13-7h0m0 7h0m2-1h0m16-6h0m5-5h0m1 1h0m1 8h0m12 7h0m6 2h0m409 1h0m3-3h0m2 0h0m11 5h0m-6 15h0m-19-10h0m-1 6h0m-404-8h0m-11 0h0m-4 5h0m0-1h0m-13 10h0m-13-10h0m-12 2h0m-47 2h0m-5-11h0m-16 16h0m-36-12h0m-3 1h0m-3 4h0m-2-10h0m-1 0h0m-11 11h0m-12-7h0m-2 2h0m-12 3h0m-10-8h0m-5 4h0m-1-3h0m-16 12h0m-1-10h0m-8 0h0m-15 15h0m-4-3h0m-19 5h0m4 14h0m16-13h0m11 9h0m12-5h0m24-2h0m1 12h0m1 1h0m20-1h0m2-5h0m1-4h0m18 5h0m9-4h0m8 9h0m3-11h0m6-1h0m4 4h0m2 10h0m4-5h0m2-5h0m7 7h0m2-2h0m5-14h0m3 4h0m18 1h0m3 14h0m5 0h0m5-14h0m4 2h0m5 4h0m2-11h0m5 5h0m1 11h0m8 3h0m6-3h0m13-3h0m12 6h0m1-6h0m2 6h0m6-14h0m7 14h0m5-5h0m4 0h0m1-14h0m4 7h0m404-6h0m9 12h0m2-6h0m17-1h0m6-1h0m1 12h0m15-10h0m2 10h0m10 10h0m-4 5h0m-1 6h0m-9-11h0m-1-1h0m-2 2h0m-3-7h0m-7 14h0m0-7h0m-3-8h0m-1 11h0m-459 0h0m-9-2h0m-1 0h0m-7-3h0m-5 10h0m-4 1h0m-2-7h0m-11 7h0m0-6h0m-3-7h0m0-3h0m-1 0h0m-4 7h0m-3-6h0m-1 8h0m-4 7h0m0-4h0m-3-10h0m-1 7h0m-1-9h0m-2 9h0m-2-7h0m-6 5h0m-2 4h0m-2-3h0m-9-7h0m-11 14h0m-5-5h0m0-5h0m-3 4h0m-1 5h0m-2-6h0m-6 6h0m-4-6h0m0-1h0m-8-4h0m-3 10h0m-4-8h0m-2 1h0m-5 8h0m-15-14h0m-1 0h0m-6 10h0m0-2h0m-1 8h0m-7-15h0m-9 1h0m-4 2h0m-6 12h0m0-10h0m-16 3h0m-10 1h0m-9-2h0m0-7h0m-9-1h0m17 28h0m22 9h0m14-6h0m19 0h0m2-6h0m0 4h0m2 7h0m2-6h0m1 2h0m9-10h0m5 13h0m5-6h0m14 1h0m9 8h0m20-7h0m1-3h0m6-6h0m6 0h0m8 13h0m1-10h0m0 4h0m3 7h0m2-14h0m0 12h0m0 4h0m7-16h0m7 16h0m5-7h0m5-5h0m0 9h0m5 3h0m3-2h0m1-14h0m12-3h0m2 1h0m4 4h0m0 9h0m4-8h0m17-6h0m6 12h0m10-8h0m0 10h0m210-2h0m221-7h0m0 10h0m3-3h0m5-8h0m1 6h0m7 3h0m4-12h0m12 14h0m6-7h0m2 4h0m-11 22h0m-1 2h0m-1 1h0m-10-2h0m-12-2h0m-1-6h0m-1 8h0m-218 1h0m-5-14h0m-200 3h0m-31 4h0m-7 7h0m-1-11h0m-4 11h0m-3-16h0m-7 8h0m-1 11h0m-2-2h0m-9-3h0m0-10h0m-1 1h0m-6 9h0m-16 4h0m0-9h0m-2 9h0m-2-14h0m-3 7h0m-3 7h0m-8-11h0m-2 2h0m-1 10h0m-2-7h0m-3-2h0m-2-6h0m-10-3h0m-4-1h0m-1 8h0m-6 2h0m-9-8h0m-5 15h0m0-16h0m-3 3h0m-5 5h0m-1 10h0m-1-1h0m0-14h0m-1 11h0m-3 2h0m-4-13h0m-1 13h0m-4-10h0m-1-3h0m-11 13h0m-1-16h0m-2 11h0m-4 4h0m-2 1h0m-3-7h0m-5-6h0m-3 14h0m-4 1h0m-4-10h0m-1 5h0m-6-12h0m-2 10h0m-3-5h0m-1 1h0m0-2h0m9 21h0m7 3h0m8-7h0m0 14h0m3 0h0m18-15h0m4 9h0m1 6h0m6-16h0m0 17h0m1 1h0m6-12h0m17 1h0m1 0h0m1-3h0m0 12h0m3-17h0m0 7h0m0 5h0m2-9h0m1 8h0m8-7h0m0 3h0m5 2h0m1 10h0m4-14h0m1 3h0m4 10h0m7-18h0m0 2h0m1-2h0m3 12h0m1-9h0m6-2h0m1 4h0m0 5h0m1-2h0m0 4h0m8-9h0m6 7h0m1-7h0m1 6h0m11 4h0m7-3h0m9-6h0m1 1h0m2 5h0m2 9h0m4-15h0m0 3h0m1 12h0m1-14h0m1 10h0m239-4h0m1-9h0m106 3h0m115 6h0m4 5h0m9-10h0m6 16h0m-3 11h0m-2-4h0m-5-5h0m-1 4h0m-1-1h0m-7 2h0m-114 3h0m-17-12h0m-87 8h0m-3 5h0m-18-1h0m-227-7h0m-18 1h0m-16 6h0m-18-3h0m-11 7h0m-6-16h0m-1 0h0m-1 6h0m-4 3h0m-3-7h0m-7 1h0m-7 7h0m-12-4h0m-2 2h0m-3-2h0m-1 0h0m-13-3h0m-1 13h0m0-9h0m-20 1h0m54 18h0m9-1h0m18 3h0m8-7h0m2 0h0m19 1h0m7 7h0m3-5h0m255 10h0m14-5h0m59 25h0m-68 0h0m-5-9h0m0-3h0m-6 35h0m3-6h0m14 4h0m25 1h0m8-14h0m76 17h0m17-4h0m3 3h0m2 19h0m-26-2h0m-22 3h0m-14-2h0m-11-10h0m-28-3h0m-5 11h0m-4-14h0m-13 15h0m-13-12h0m-1 10h0m-8-2h0m-1 2h0m-10 15h0m13 0h0m5 1h0m24 8h0m46-6h0m2-7h0m9 13h0m19-4h0m8-3h0m7 6h0m15-6h0m5-1h0m-147 83h0m-6 1h0m-3-10h0m0-2h0m-7 18h0m-22-3h0m-8-1h0m-25 16h0m11-1h0m2-5h0m7 8h0m26 1h0m2-9h0m5 14h0m1-15h0m11 7h0m1 1h0m3 5h0m3-15h0m1 5h0m6 12h0m1-14h0m-5 21h0m-1-5h0m-1 7h0m-3 10h0m-4-16h0m-3 13h0m0-5h0m-2-4h0m-1 13h0m-1-6h0m0-6h0m0-5h0m-2 7h0m-2 9h0m0-1h0m-1-8h0m-6 8h0m-1-5h0m-2-3h0m-3-1h0m0-1h0m-1 9h0m-2-4h0m-4 4h0m-3-15h0m-4 15h0m-3-12h0m-2 13h0m-23-14h0m26 29h0m3 7h0m5-17h0m2 4h0m0 11h0m10 0h0m1 2h0m6-15h0m1 1h0m2 4h0m1 6h0m2-7h0m3 5h0m10-12h0m8 16h0m-10 14h0m-7 5h0m0-2h0m-1-13h0m-2 1h0m-1 10h0m-3-8h0m-1-2h0m-1 4h0m-1-1h0m-7 12h0m-15-14h0m26 23h0m0 4h0m2-7h0m0 1h0m1 8h0m16 8h0" stroke="#8F79BF" stroke-width="7.6" stroke-linecap="round" fill="none"/>
<path transform="scale(.5)" d="M3261 1891h0m1-2h0m-16 16h0m-6-5h0m-6 18h0m-4 0h0m-2-2h0m-3-3h0m-1-4h0m-13 10h0m-22 13h0m5 7h0m4-14h0m1 12h0m3-4h0m4-11h0m1 13h0m1 3h0m2-16h0m0 8h0m9 8h0m0 1h0m3-7h0m16-12h0m0 9h0m7-1h0m4-5h0m7 0h0m-8 24h0m-9-6h0m-7 1h0m-1-1h0m-3 7h0m-2-1h0m-1 4h0m-8-11h0m-3 7h0m-7 5h0m-2 1h0m0-4h0m-5 3h0m-1 5h0m0-4h0m-2 2h0m-7-1h0m-9 1h0m-5 4h0m-5-13h0m0-1h0m-3 14h0m-4-2h0m-4-1h0m-9-2h0m20 14h0m1 3h0m1-8h0m2-2h0m-33 51h0m-14-5h0m-7 0h0m-6 3h0m-8-6h0m-11 11h0m-6-7h0m-57 29h0m3 0h0m9 2h0m5-14h0m1 8h0m8-8h0m1 1h0m5 4h0m2-8h0m4 9h0m4-5h0m12-2h0m6 12h0m6 0h0m8-13h0m4 15h0m4-18h0m5 14h0m28 1h0m13-4h0m13 12h0m-9 2h0m-44 13h0m-17-10h0m-1 6h0m-25-10h0m-7 4h0m-6 7h0m0-14h0m-23 11h0m0-7h0m-8 14h0m0-2h0m-3-15h0m-10 17h0m-10-11h0m-15 8h0m-17 23h0m22-16h0m3 6h0m5 0h0m5 7h0m7-7h0m13 7h0m8-4h0m1-6h0m1-2h0m2 12h0m1-1h0m11-13h0m9 0h0m8-2h0m2 2h0m2 4h0m14 1h0m16 1h0m9 5h0m13-2h0m0 7h0m2-15h0m11 3h0m29-1h0m8 10h0m-5 13h0m-31-4h0m-3 1h0m-14-2h0m-36 11h0m-1 1h0m-3 0h0m-3-10h0m-5 9h0m-14 3h0m-6-8h0m-2 0h0m-6 9h0m-1-13h0m0-4h0m-12 14h0m-1-1h0m-9 1h0m0-13h0m0-2h0m-6 15h0m-6 4h0m-7-5h0m-5 0h0m-17-8h0m-3 9h0m-15 10h0m1 14h0m4-15h0m4 2h0m1 8h0m1 0h0m1 5h0m2-1h0m7-17h0m0 9h0m52-10h0m9 2h0m1 5h0m8-6h0m3 8h0m2-6h0m4-3h0m0 6h0m7 5h0m6-6h0m1 1h0m9 9h0m2-6h0m4 3h0m2-12h0m6 0h0m4 19h0m9-3h0m6 0h0m17-16h0m0 19h0m5-10h0m3-6h0m524-3h0m1 18h0m4-4h0m3-11h0m0 1h0m1 1h0m9 14h0m4-5h0m22 20h0m-4 2h0m-7-14h0m-2 2h0m-6 13h0m-4 2h0m-3-8h0m0-11h0m-15 1h0m-13 10h0m-518 0h0m-1 6h0m-4-10h0m-11 11h0m-23 1h0m0-10h0m-1 0h0m-12 3h0m-12 6h0m-19-1h0m-19-6h0m-9-1h0m-13 2h0m-3 2h0m-12-5h0m0-3h0m-1-1h0m-7 12h0m-13-16h0m-4 8h0m-1 3h0m-2-6h0m16 15h0m1 7h0m12 7h0m4-12h0m2 9h0m7-5h0m2 1h0m0 8h0m6-10h0m7-1h0m1 10h0m4-1h0m1-2h0m11-2h0m2-3h0m4 11h0m2-5h0m14-3h0m6-5h0m6 14h0m4-16h0m0 10h0m11-10h0m5 8h0m2 8h0m25-11h0m22 6h0m545 0h0m1 3h0m1-15h0m3 1h0m1-2h0m1 7h0m2-6h0m3 2h0m1 15h0m5-10h0m0 2h0m1-11h0m11 14h0m-4 12h0m-19 12h0m-7-11h0m-5-7h0m-547 13h0m-9 0h0m-4 2h0m-3 3h0m-12-12h0m-11-3h0m-4 16h0m-11-19h0m-2 14h0m-6-2h0m-5 2h0m-3-8h0m-6-4h0m-2 9h0m-2 7h0m-21-17h0m-5 8h0m-10-2h0m-3 10h0m-12-16h0m20 22h0m7 0h0m1-1h0m1 3h0m4 9h0m5-1h0m8 6h0m7-8h0m16 6h0m41-16h0m573 6h0m4-4h0m7 0h0m0 13h0m4-15h0m3 6h0m1 12h0m6-4h0m2-14h0m5-1h0m-10 22h0m-5-2h0m-2 6h0m-3 11h0m-16-17h0m-3 14h0m-1 2h0m-567-10h0m-9 3h0m-3 6h0m-8 0h0m-17-2h0m-6-11h0m-2 0h0m-4 13h0m-1-1h0m-8 4h0m-1-5h0m31 25h0m16-6h0m583-6h0m9 4h0" stroke="#826CB8" stroke-width="7.6" stroke-linecap="round" fill="none"/>
<path transform="scale(.5)" d="M3340 1617h0m-162 380h0m-33-3h0m0-4h0m-1 0h0m-61 27h0m35-3h0m19-3h0m36-6h0m11 11h0m459 3h0m9 12h0m-9 1h0m-4-10h0m-2-2h0m-1 9h0m-439 1h0m-20 5h0m-40 2h0m-6-15h0m-60 3h0m-28 10h0m-3-4h0m-1 6h0m-11 2h0m-2-3h0m-26 21h0m6-7h0m22 3h0m3-6h0m26 4h0m48 3h0m26-6h0m60-3h0m-105 31h0m-9 1h0m-1 2h0m-3-4h0m-2-15h0m-3 9h0m-3-5h0m-2-4h0m-2 11h0m-7 6h0m-7-2h0m-1-2h0m-9-4h0m0-8h0m-12 10h0m-10-5h0m-1 12h0m-7-1h0m-8-5h0m-3 6h0m0-15h0m-1 2h0m-19 26h0m3-3h0m5 7h0m12-1h0m1 5h0m1-16h0m6 2h0m1 5h0m5 2h0m7-3h0m5-7h0m12 7h0m0 2h0m4 2h0m2 1h0m6-14h0m17 8h0m43 10h0m13-12h0m11-5h0m52 19h0m-51 3h0m-3 11h0m-3-14h0m-8 6h0m-24 10h0m-10-11h0m-2 1h0m-10-5h0m-6 15h0m-5-14h0m-13 11h0m-11-9h0m-8 8h0m-14-8h0m-2-3h0m-1 9h0m-1-8h0m-2 8h0m-17 7h0m-13-16h0m-4 10h0m4 15h0m4 4h0m2-4h0m3-5h0m3 8h0m1-8h0m5 4h0m0 12h0m23-9h0m6 2h0m5 8h0m2-16h0m0 5h0m24-5h0m0 7h0m15 4h0m0 3h0m15-14h0m12 2h0m3-3h0m16 11h0m0 2h0m10-9h0m50 11h0m6-14h0m6 17h0m9-4h0m10 17h0m-32 0h0m-4-8h0m-4-4h0m-70 8h0m-32-1h0m-17-4h0m-2 1h0m-3 15h0m-2-5h0m-1-4h0m-14 8h0m-6-2h0m-6-9h0m0-1h0m-14-3h0m24 19h0m1 8h0m4 4h0m3 1h0m1-12h0m5 14h0m2-16h0m1 12h0m24-13h0m5 3h0m30 1h0m9 13h0m9-2h0m3 0h0m23 1h0m7 3h0m4-13h0m5 10h0m5-2h0m40 1h0m-8 6h0m-11 3h0m-12 12h0m-6-5h0m-2 6h0m0-13h0m-23-2h0m-56 7h0m-7 8h0m0-3h0m-3-1h0m-2 4h0m0-5h0m-14 6h0m-1-6h0m-4 7h0m-4-4h0m-8-12h0m17 28h0m6-6h0m20 8h0m8-4h0m4 1h0m82-4h0m-22 19h0m-8-2h0m-44 16h0m-11-4h0m-1 1h0" stroke="#7563B3" stroke-width="7.6" stroke-linecap="round" fill="none"/>
<path transform="scale(.5)" d="M3075 2016h0m4 1h0m36-5h0m36 25h0m-32-17h0m-15 3h0m-26 16h0m0-7h0m-9-3h0m-47 10h0m-6-1h0m-22 19h0m2-6h0m11 5h0m6 3h0m13-11h0m1 2h0m22-6h0m15 6h0m9 6h0m2-16h0m0 14h0m10-9h0m54-3h0m-83 28h0m-12 0h0m-26 1h0m-4-6h0m-4-1h0m-3 8h0m-2-11h0m-3 16h0m-5-1h0m-4 3h0m-2-18h0m-3 8h0m-6 8h0m-3-3h0m-1 4h0m1 17h0m2 2h0m8-16h0m1 2h0m3 0h0m10 7h0m4-7h0m7 5h0m14-2h0m2 1h0m22-6h0m16 9h0m32 15h0m-67-3h0m-28 12h0m-3-5h0m-8 9h0m-4-7h0m-4 6h0m0-7h0m-4 2h0m-9 3h0m0-2h0m-2 6h0m17 10h0m7-7h0m0 16h0m3-18h0m14 11h0m1-2h0m2-9h0m126 10h0m-40 12h0m-20 2h0m-26 13h0m-6-4h0m-2-7h0m-3 9h0m-1-6h0m-5-1h0m-2-1h0m-2 6h0m-16-1h0m-15 3h0m-1-9h0m-3-2h0m24 24h0m15-4h0m1 6h0m10 6h0m23-11h0m10 29h0m-8-5h0m-7-5h0m17 42h0" stroke="#685EB0" stroke-width="7.6" stroke-linecap="round" fill="none"/>
<path transform="scale(.5)" d="M3134 2004h0m0 24h0m-141 30h0m20-6h0m41-11h0m0 7h0m6-8h0m17 10h0m-32 25h0m-23-1h0m-22-3h0m-6-10h0m-11 11h0m-2 22h0m9-5h0m78-9h0m-13 24h0m-9-3h0m-65 8h0m-9 0h0m51 28h0m32 20h0m-46-10h0m-4 4h0m-1-10h0m-6 3h0m-2 0h0m42 17h0m9 2h0m41 20h0" stroke="#5B59AE" stroke-width="7.6" stroke-linecap="round" fill="none"/>
<path transform="scale(.5)" d="M3025 2049h0m-15 50h0m-17-8h0m21 14h0m-22 16h0m-6 10h0m-12-8h0m28 24h0" stroke="#4859AF" stroke-width="7.6" stroke-linecap="round" fill="none"/></g>
<g><text x="8" y="1483.5" font-size="54" font-weight="bold" fill="#231F20">e</text>
<text x="115.5" y="1491.3" font-size="37.5">Aged</text>
<text x="319.5" y="1539.5" font-size="34" text-anchor="middle">Saline</text>
<text x="836.5" y="1539.5" font-size="34" text-anchor="middle">IL-1β</text>
<path d="M105.9 1542.7V2038.9H569.3M585.4 2038.9H1047.5" stroke="#000" stroke-width="2" fill="none"/>
<path d="M99.5 1656.3L105.9 1656.3" stroke="#000" stroke-width="2" fill="none"/>
<text x="90.5" y="1666.3" font-size="28.5" text-anchor="end">4</text>
<path d="M99.5 1778.9L105.9 1778.9" stroke="#000" stroke-width="2" fill="none"/>
<text x="90.5" y="1788.9" font-size="28.5" text-anchor="end">0</text>
<path d="M99.5 1901.6L105.9 1901.6" stroke="#000" stroke-width="2" fill="none"/>
<text x="90.5" y="1911.6" font-size="28.5" text-anchor="end">−4</text>
<path d="M99.5 2024.6L105.9 2024.6" stroke="#000" stroke-width="2" fill="none"/>
<text x="90.5" y="2034.6" font-size="28.5" text-anchor="end">−8</text>
<path d="M212.5 2038.9L212.5 2045.5" stroke="#000" stroke-width="2" fill="none"/>
<text x="212.5" y="2076" font-size="28.5" text-anchor="middle">−5</text>
<path d="M346.6 2038.9L346.6 2045.5" stroke="#000" stroke-width="2" fill="none"/>
<text x="346.6" y="2076" font-size="28.5" text-anchor="middle">0</text>
<path d="M480.7 2038.9L480.7 2045.5" stroke="#000" stroke-width="2" fill="none"/>
<text x="480.7" y="2076" font-size="28.5" text-anchor="middle">5</text>
<path d="M691.3 2038.9L691.3 2045.5" stroke="#000" stroke-width="2" fill="none"/>
<text x="691.3" y="2076" font-size="28.5" text-anchor="middle">−5</text>
<path d="M825.4 2038.9L825.4 2045.5" stroke="#000" stroke-width="2" fill="none"/>
<text x="825.4" y="2076" font-size="28.5" text-anchor="middle">0</text>
<path d="M959.5 2038.9L959.5 2045.5" stroke="#000" stroke-width="2" fill="none"/>
<text x="959.5" y="2076" font-size="28.5" text-anchor="middle">5</text>
<text x="571.5" y="2112.5" font-size="32.5" text-anchor="middle">UMAP1</text>
<text font-size="32.5" text-anchor="middle" transform="translate(44.5 1778) rotate(-90)">UMAP2</text>
<circle cx="1098.2" cy="1613.3" r="14.8" fill="#FBB817"/>
<text x="1132" y="1621.7" font-size="27">0</text>
<circle cx="1098.2" cy="1655.9" r="14.8" fill="#DBAA68"/>
<text x="1132" y="1664.3" font-size="27">1</text>
<circle cx="1098.2" cy="1698.6" r="14.8" fill="#F58220"/>
<text x="1132" y="1707" font-size="27">2</text>
<circle cx="1098.2" cy="1741.2" r="14.8" fill="#E0E227"/>
<text x="1132" y="1749.6" font-size="27">3</text>
<circle cx="1098.2" cy="1783.8" r="14.8" fill="#B6BECA"/>
<text x="1132" y="1792.2" font-size="27">4</text>
<circle cx="1098.2" cy="1826.5" r="14.8" fill="#EC5424"/>
<text x="1132" y="1834.9" font-size="27">6</text>
<circle cx="1098.2" cy="1869.1" r="14.8" fill="#76808F"/>
<text x="1132" y="1877.5" font-size="27">7</text>
<circle cx="1098.2" cy="1911.7" r="14.8" fill="#45474C"/>
<text x="1132" y="1920.1" font-size="27">8</text>
<path d="M249.1 1799L252.8 1789.1L261.5 1785.3L273.9 1779.1L281.4 1769.2L288.8 1756.8L291.3 1744.3L298.8 1735.7L308.7 1733.2L318.6 1738.1L324.8 1746.8L333.5 1756.8L338.5 1764.2L348.4 1768L353.4 1779.1L355.9 1794L359.6 1808.9L363.4 1823.9L367.8 1838.8L369.8 1853.7L369.3 1868.6L365.8 1884.7L359.6 1899.6L349.7 1914.5L338.5 1924.5L324.8 1930.7L311.2 1930.2L298.8 1924.5L287.6 1915.8L277.6 1904.6L268.9 1890.9L261.5 1876L256 1859.9L252.8 1841.2L250.3 1821.4Z" fill="#FBB817"/>
<path transform="scale(.5)" d="M609 3480h0m0 4h0m3 0h0m26-2h0m5 18h0m0-2h0m-2 18h0m-5-9h0m-5 2h0m-1-15h0m-5 14h0m-1-10h0m-14 11h0m-6-8h0m-15 5h0m0-10h0m-20 34h0m4 8h0m0 13h0m4-8h0m4-15h0m0 22h0m4-21h0m5 3h0m10 5h0m8-1h0m14-3h0m4-1h0m7 19h0m4-29h0m0 24h0m5-10h0m6-5h0m3 16h0m14-18h0m3 6h0m7 7h0m23 10h0m-8 20h0m-12-12h0m-15 14h0m-86-22h0m-14 13h0m-33 7h0m-11 20h0m18-7h0m43 26h0m29-26h0m63 69h0m-112 55h0m80-24h0m71 26h0m-18 18h0m-104 13h0m-36 17h0m7 13h0m83 17h0m-51 34h0m19 6h0m82-9h0" stroke="#fff" stroke-width="8.8" stroke-linecap="round" fill="none"/>
<path transform="scale(.5)" d="M585 3476h0m7-2h0m15 0h0m1-8h0m2 1h0m4 7h0m14-7h0m9 6h0m7 11h0m2-11h0m0 13h0m18 26h0m-3-9h0m-6-1h0m-6-4h0m-63-9h0m-3 11h0m-2-8h0m-3 19h0m-12 2h0m-17 36h0m5 1h0m10-17h0m0 5h0m9-15h0m1 6h0m92 2h0m16 6h0m7 2h0m7 5h0m4-1h0m3 0h0m9 36h0m-1-14h0m-4 1h0m-4-9h0m-160 12h0m-7-11h0m-8 11h0m-8 6h0m-1-16h0m-14 23h0m-12-3h0m0 17h0m9 12h0m4-10h0m202 13h0m4-21h0m1 14h0m4-18h0m1 22h0m14 38h0m-8-25h0m-6 10h0m-216 10h0m-2-8h0m-1-12h0m-4-4h0m7 39h0m0 12h0m2-13h0m0 18h0m3-25h0m216 18h0m2-17h0m4 5h0m1 2h0m5 13h0m12 26h0m-9-10h0m-2 25h0m-4-29h0m-214 28h0m-9-5h0m-5-10h0m0-7h0m-1 8h0m-2 27h0m12 16h0m2 4h0m220-14h0m5-15h0m2 1h0m0 16h0m0 18h0m-5 15h0m-1-10h0m-5-2h0m-8 20h0m-192-6h0m-9-11h0m-1-5h0m1 28h0m10 11h0m6 6h0m6 2h0m5 7h0m2-4h0m6 2h0m159 5h0m4-7h0m2 2h0m14-20h0m-22 28h0m-11 9h0m-1 9h0m-1-18h0m-127 26h0m-3-5h0m-3-5h0m6 15h0m7 0h0m5 17h0m7-14h0m8 7h0m3 3h0m13 13h0m1-10h0m8-2h0m7-1h0m5 11h0m5 0h0m8-6h0m15-5h0m1 11h0m1-14h0m14-5h0m1 4h0m2-1h0m4-3h0" stroke="#FBB817" stroke-width="10.8" stroke-linecap="round" fill="none"/>
<path transform="scale(.5)" d="M613 3476h0m29 8h0m23 15h0m-8 13h0m-5-14h0m-18 1h0m-15 13h0m-12 2h0m-4-1h0m-1-16h0m-1 12h0m-3-12h0m-5 0h0m-4 2h0m-15 8h0m-21 39h0m7 3h0m4-22h0m16 7h0m7 16h0m5-23h0m1-7h0m0 28h0m2 2h0m4-22h0m14-2h0m11 18h0m4-9h0m17 2h0m10-8h0m3 20h0m5-15h0m6 10h0m4 3h0m6-2h0m12 0h0m2-18h0m2 12h0m10 38h0m-1-7h0m-6 5h0m-8 1h0m0-22h0m-22 8h0m-10-4h0m-3 9h0m-7-3h0m-5-8h0m-1 7h0m-62-10h0m-7 9h0m-3-2h0m-2-6h0m-27 24h0m-2-13h0m1 20h0m146-1h0m17 22h0m1-1h0" stroke="#FBB817" stroke-width="10.8" stroke-linecap="round" fill="none"/>
<path transform="scale(.5)" d="M623 3405h0m10 11h0m18 3h0m4-8h0m8 4h0m1-1h0m5 4h0m5-5h0m4-3h0m12 2h0m0 2h0m3 0h0m17-10h0m1-4h0m1 7h0m13 6h0m13-6h0m9 19h0m-1 18h0m-1-15h0m-6-2h0m-2 22h0m-6 0h0m-6 2h0m0-21h0m-13-5h0m-7 11h0m-2 2h0m-10 9h0m-1-7h0m0-11h0m-1 6h0m0-11h0m-2 13h0m-2 13h0m0-16h0m-19 17h0m-4-13h0m-7-4h0m-5 18h0m-6-11h0m-1 2h0m-4 0h0m-3-19h0m-7 9h0m-2 17h0m-1-11h0m-1 15h0m-7 0h0m-3-9h0m-14-10h0m-7 20h0m-1-13h0m0-3h0m-6 22h0m2 9h0m2-8h0m3-2h0m5 17h0m26-11h0m4 8h0m8-15h0m1 9h0m0 2h0m10-6h0m9-6h0m1-1h0m2 3h0m0 16h0m4-4h0m3-15h0m0 23h0m15 1h0m11-6h0m2 11h0m6-11h0m3 0h0m0 2h0m1-10h0m2 3h0m6-3h0m3-11h0m0 6h0m7 18h0m6-24h0m0 27h0m1-8h0m2-5h0m4 9h0m1-17h0m1 12h0m3-4h0m6-11h0m0 20h0m-30 17h0m-15 10h0m-17-2h0m-1 2h0m-7-16h0m-2 2h0m-6 4h0m-1 19h0m-2-3h0m14 19h0m13-9h0" stroke="#FBB817" stroke-width="10.8" stroke-linecap="round" fill="none"/>
<path transform="scale(.5)" d="M715 3536h0m19 3h0m2 1h0m8 3h0m6-8h0m3 0h0m19 4h0m0 40h0m-1-8h0m-11 1h0m-3 0h0m-1-17h0m-9 24h0m-17-20h0m-13 8h0m3 24h0m0 5h0m1 10h0m9 8h0m3-25h0m3 24h0m8-21h0m3 19h0m21 2h0m6-10h0m6-5h0m5 24h0m0-1h0m-3 2h0m-11 24h0m0-26h0m-5-4h0m-10 16h0m-4 12h0m-15-25h0m-2 17h0m-13 1h0m10 21h0m0 2h0m6 16h0m8-9h0m1-12h0m0 23h0m6 0h0m9-30h0m1 0h0m2 26h0m0 2h0m1-14h0m18-3h0m-27 32h0m-25-9h0m2 49h0m1 0h0m11-8h0m0 10h0m8-4h0m2 8h0m2-13h0m5 4h0m1-7h0m0 14h0m7 1h0m5-4h0m1 2h0m-9 22h0m-6 10h0m-2-7h0m-9-14h0m-24 31h0m5 20h0m3-14h0m17 15h0m1-21h0m2 13h0m12-6h0m6-7h0m0 21h0m3-20h0m1 9h0m7 5h0m0 20h0m-18 25h0m-2-9h0m-4 10h0m-7-15h0m-2-6h0m-10 17h0m-7-10h0m-2-12h0m-1 10h0m-3-11h0m14 29h0m0 10h0m26 9h0" stroke="#FBB817" stroke-width="10.8" stroke-linecap="round" fill="none"/>
<path transform="scale(.5)" d="M521 3480h0m31 24h0m-11 1h0m10 39h0m6-4h0m10-15h0m10-4h0m6 25h0m-73 24h0m-27 3h0m-11 2h0m-20-11h0m10 46h0m13 5h0m5-21h0m39-9h0m17 6h0m-31 52h0m0-14h0m-7 0h0m-13-13h0m-21 1h0" stroke="#FBB817" stroke-width="10.8" stroke-linecap="round" fill="none"/>
<path transform="scale(.5)" d="M625 3294h0m16-10h0m4 19h0m-28-3h0m-19 22h0m-6-5h0m-36 16h0m6-3h0m25 8h0m4-6h0m3 2h0m22 1h0m5 0h0m22 1h0" stroke="#FBB817" stroke-width="10.8" stroke-linecap="round" fill="none"/>
<path transform="scale(.5)" d="M800 3527h0m3 27h0m19 48h0m151 81h0m-24 24h0m-97 2h0m-38-22h0m-8 24h0m-7-1h0m-4 14h0m11-10h0m34-1h0m49 5h0m12-3h0m49 17h0m13-17h0m-18 36h0m-107 12h0m-69 70h0m44 3h0m48 16h0m-77-6h0m-15 20h0m10 8h0m24 16h0m67 13h0m69 11h0m-91 11h0m-3-20h0m-17 25h0m-32-18h0m-6-5h0m36 32h0m7 20h0m9-7h0m20-10h0m-23 51h0m-65-19h0m54 28h0m89-2h0" stroke="#FBB817" stroke-width="10.8" stroke-linecap="round" fill="none"/>
<path transform="scale(.5)" d="M806 3514h0m27 5h0m50 39h0m-39 0h0m-20 29h0m57 16h0m59 7h0m-37 28h0m-4-3h0m7 30h0m-10 40h0m-32-16h0" stroke="#FBB817" stroke-width="10.8" stroke-linecap="round" fill="none"/>
<path transform="scale(.5)" d="M960 3437h0m94 28h0m1 47h0m-96 57h0" stroke="#FBB817" stroke-width="10.8" stroke-linecap="round" fill="none"/>
<path transform="scale(.5)" d="M348 3511h0m3 4h0m6-9h0m1 2h0m3-10h0m5 13h0m3 8h0m1-2h0m7-12h0m5-4h0m5 3h0m4 4h0m0 6h0m1 4h0m1-3h0m5-1h0m11-2h0m28 37h0m-3-12h0m-9 10h0m0-16h0m-1 12h0m-1-11h0m-1 5h0m-1-3h0m-1 9h0m0-16h0m-3 14h0m-4 6h0m0-5h0m-2 8h0m0-1h0m0-11h0m-3 4h0m-3-4h0m-1 3h0m-2-16h0m-2 19h0m-2-6h0m-1 5h0m-1-1h0m0-3h0m0-10h0m-8 12h0m-1 0h0m-2 0h0m-3-3h0m-1-5h0m0-7h0m-2 24h0m0-23h0m-3 3h0m0-5h0m-1 8h0m-2 8h0m0-9h0m-2 15h0m0-19h0m-1 10h0m-3 12h0m0-22h0m-1-7h0m-2 29h0m-2-19h0m-1 20h0m-2-11h0m0-1h0m0-2h0m-1 5h0m-5 3h0m-1-1h0m0-15h0m0-2h0m-1 19h0m-1 2h0m0-27h0m-2 25h0m-1 5h0m-3-29h0m5 37h0m5-7h0m1 18h0m1-17h0m0 1h0m2 14h0m7 8h0m6-8h0m4-12h0m3 19h0m1-5h0m8-15h0m2 6h0m1 13h0m3 8h0m1-1h0m1-20h0m2-2h0m1 16h0m4-1h0m0 9h0m1-7h0m2-10h0m3 4h0m2-8h0m6-8h0m2 1h0m4 4h0m3 18h0m1-19h0m6 16h0m1 1h0m5-11h0m-1 20h0m-18 25h0m0-17h0m-1 17h0m-2-23h0m-1 15h0m-12 6h0m0-2h0m-4-4h0m-11-17h0m-1 6h0m-3 0h0m-8-5h0" stroke="#F58220" stroke-width="10.8" stroke-linecap="round" fill="none"/>
<path transform="scale(.5)" d="M376 3321h0m5-7h0m6 9h0m47-3h0m38 39h0m-12-27h0m-35-3h0m-17 8h0m-42-6h0m-62 42h0m59-10h0m30 10h0m32 18h0m22-29h0m13-1h0m5 18h0m9-19h0m14 28h0m-51 16h0m-2 0h0m-2 9h0m-24-5h0m-24 3h0m-24-16h0m-24 17h0m-14 4h0m-50-9h0m75 26h0m126 24h0m-20 21h0m-60-22h0m-19 28h0m-15-24h0m-21-4h0m-22 13h0m-23 8h0m1 26h0m4 9h0m51-5h0m17-4h0m14-6h0m25-9h0m34 27h0m11-11h0m-3 18h0m-20 28h0m-25-22h0m-27 19h0m-10-19h0m6 28h0m11 14h0m49 7h0m-21 10h0m-12 7h0m-9-9h0" stroke="#F58220" stroke-width="10.8" stroke-linecap="round" fill="none"/>
<path transform="scale(.5)" d="M458 3263h0m5 8h0m-5 11h0m-37-6h0m-10 28h0m47 16h0m18 3h0m6-5h0m2 28h0m6 124h0m14-10h0m27 69h0m-43 1h0m-41 9h0m0-2h0m-3-8h0m-3 47h0m30 9h0m-7 12h0m-26-6h0m-12-3h0m2 29h0" stroke="#F58220" stroke-width="10.8" stroke-linecap="round" fill="none"/>
<path transform="scale(.5)" d="M721 3858h0m19-2h0m5 7h0m42 33h0m-38 13h0m3 25h0m1-3h0m8-27h0" stroke="#F58220" stroke-width="10.8" stroke-linecap="round" fill="none"/>
<path transform="scale(.5)" d="M823 3733h0m64 94h0m-6-6h0m-28 30h0m71 49h0m-73 29h0m-2 87h0m-1 22h0" stroke="#F58220" stroke-width="10.8" stroke-linecap="round" fill="none"/>
<path transform="scale(.5)" d="M1022 3527h0m47 17h0m19 34h0m-68 12h0m5 54h0" stroke="#F58220" stroke-width="10.8" stroke-linecap="round" fill="none"/>
<path transform="scale(.5)" d="M612 3132h0m3-6h0m4 6h0m79 35h0m-27-5h0m-11-8h0m-12 8h0m-8 1h0m-8-26h0m-1 7h0m-3 2h0m-1 7h0m-1-5h0m-1 2h0m-2-11h0m-3 16h0m-6-9h0m-7 19h0m-5-14h0m0-4h0m-1-2h0m-4 7h0m-1 4h0m-8-4h0m-2 14h0m-5-18h0m-13 3h0m-10 16h0m-15-7h0m-13 0h0m-18 39h0m18-31h0m3 4h0m2 3h0m0 19h0m11 0h0m3-3h0m14 5h0m4-3h0m3-6h0m1-10h0m8 21h0m1-21h0m2 17h0m8-12h0m4 8h0m1-18h0m3 25h0m4-29h0m0 1h0m2 18h0m1-7h0m3 4h0m0 11h0m1-9h0m1-16h0m1 5h0m1-7h0m3 26h0m3-10h0m3 11h0m5-9h0m1 8h0m2-12h0m5 0h0m2-3h0m7-6h0m10 24h0m4-19h0m1-2h0m1 20h0m5-14h0m2 16h0m3-7h0m10-14h0m2 31h0m-11 0h0m-4 19h0m-3-3h0m-4-16h0m-1-6h0m-8 22h0m-5-13h0m-2 10h0m-6 0h0m-4 6h0m-1 3h0m-1-20h0m-5 14h0m-18-11h0m-1-7h0m-3 23h0m-7-23h0m-8 2h0m-3 5h0m-5 16h0m-4-10h0m0-11h0m-3 18h0m-1-10h0m-2-1h0m-12 7h0m-5-6h0m-8-5h0m-1 10h0m-4-1h0m-1-5h0m-4 9h0m-9 1h0m-7 2h0m-4-22h0m-14 25h0m-32-17h0m55 45h0m3-25h0m11 19h0m2-11h0m13-9h0m3 3h0m2 0h0m1 17h0m4-11h0m2 13h0m2-15h0m1 0h0m3 15h0m8-12h0m1-10h0m0 13h0m0 18h0m16-16h0m2-7h0m2 23h0m7-29h0m0 6h0m13 4h0m5-7h0m3 20h0m1 0h0m4-13h0m0 12h0m1-15h0m8 3h0m2-2h0m11-9h0m12 3h0m2 12h0m0 1h0m-22 18h0m-13 0h0m-3-1h0m-3 4h0m-4 0h0m-6 1h0m-6 6h0m-1 14h0m-1-23h0m-3 14h0m-11 11h0m-2-11h0m-4 2h0m-3-3h0m-8-7h0m-1 17h0m-1-24h0m-18 3h0m-6 17h0m-7-5h0m-1 11h0m-3-7h0m-5 8h0m0-19h0m-4 8h0m-1-6h0m-2 1h0m-3 12h0m0-13h0m10 50h0m8-28h0m2 19h0m1 1h0m4-8h0m1 3h0m4 13h0m9-16h0m1 8h0m-12 24h0m-4-1h0m-10-9h0" stroke="#E0E227" stroke-width="10.8" stroke-linecap="round" fill="none"/>
<path transform="scale(.5)" d="M694 3236h0m1 15h0m4 11h0m1-15h0m2 10h0m5-4h0m12 42h0m-1-14h0m-2 2h0m1 17h0m3 1h0m2 13h0m4-10h0m0 3h0m1-10h0m5 22h0m5-13h0m4 13h0m2 6h0m5-7h0m0 41h0m0-31h0m-4 18h0m-5-15h0m-1 4h0m-3 10h0m10 30h0m13-1h0" stroke="#E0E227" stroke-width="10.8" stroke-linecap="round" fill="none"/>
<path transform="scale(.5)" d="M478 3615h0m17 2h0m-6 25h0m-3-17h0m-8 9h0" stroke="#E0E227" stroke-width="10.8" stroke-linecap="round" fill="none"/>
<path transform="scale(.5)" d="M504 3363h0m27 17h0m4 2h0m16-10h0m28-2h0m-20 30h0m-2 14h0m-59 21h0m4 20h0m9-27h0m43 4h0m8 17h0m15 3h0m20 25h0m-18 7h0m-6-7h0m-18 3h0m0-24h0m-26 20h0m-10 0h0m25 26h0m16 3h0m1 14h0m30-7h0m3 12h0m-54 8h0" stroke="#EC5424" stroke-width="10.8" stroke-linecap="round" fill="none"/>
<path transform="scale(.5)" d="M813 3899h0m25 4h0m2-12h0m20-5h0m5 12h0m14-11h0m11 12h0m11-4h0m2 0h0m10 6h0m1-7h0m13 1h0m19 27h0m-14 1h0m-1-10h0m-1 14h0m-5-6h0m0-2h0m0-7h0m-8-5h0m-2 12h0m0-5h0m-1 11h0m0-12h0m0-4h0m-3-5h0m-13 27h0m-2-20h0m-3-2h0m-7 7h0m-2 0h0m-2 7h0m-9-8h0m-2 5h0m-13 8h0m-1-13h0m-4-6h0m-12 25h0m-1-21h0m-1 20h0m-4-28h0m-4 11h0m-1-5h0m-5 12h0m-15-1h0m-2 12h0m0-4h0m-4-2h0m-2-7h0m-2 13h0m0-11h0m-5 10h0m0-8h0m-3-15h0m-9 1h0m-1 20h0m-14-5h0m-10 6h0m-12 15h0m1 10h0m3-21h0m8 17h0m5 10h0m1-20h0m0 13h0m10-11h0m2 15h0m0 1h0m2 2h0m4-12h0m1-14h0m5 8h0m3-9h0m1 28h0m1-19h0m3-1h0m7 1h0m3 19h0m1-8h0m3-17h0m4 27h0m11-2h0m9-17h0m2 2h0m1-5h0m10 3h0m3 16h0m2-1h0m1-20h0m4 7h0m4 18h0m4-21h0m0 16h0m1-19h0m1 13h0m2-2h0m1-12h0m2 24h0m2-17h0m10-8h0m13 18h0m2-17h0m2 6h0m2 17h0m1-29h0m6 6h0m0 24h0m5-15h0m4 16h0m2-14h0m2-15h0m2 4h0m2-4h0m2 19h0m1 1h0m4-14h0m5 20h0m4 22h0m-4 12h0m0-18h0m-1 7h0m-2 5h0m0-15h0m-13 11h0m-1 8h0m0-5h0m-1-10h0m-9 11h0m-1 2h0m0-15h0m-5 14h0m-4 0h0m-6-3h0m-1-22h0m-10 1h0m-10 12h0m-4 8h0m-1 5h0m-2 3h0m-3-16h0m-8-2h0m-1-2h0m-2 12h0m0-13h0m-7-1h0m-18 22h0m-12-21h0m-4-3h0m-6 1h0m-1 0h0m-2 5h0m-2 12h0m-7-14h0m-6 22h0m-2-31h0m-1 1h0m-3 2h0m-1 4h0m-12 3h0m-1-8h0m-8 2h0m-10 2h0m29 31h0m5 2h0m13-1h0m8 1h0m5-2h0m2-1h0m1 25h0m9-12h0m5-13h0m1 1h0m0 24h0m15-26h0m0 26h0m1-16h0m11-7h0m11 10h0m2-4h0m0 17h0m7-2h0m8-11h0m3 2h0m0 7h0m2-19h0m3 3h0m1 9h0m2 12h0m1-25h0m0 3h0m8 5h0m8 7h0m3-16h0m5 12h0m5 11h0m1-7h0m-59 17h0m-3-1h0m-3-1h0" stroke="#DBAA68" stroke-width="10.8" stroke-linecap="round" fill="none"/>
<path transform="scale(.5)" d="M789 3513h0m11 22h0m-2 8h0m-2-3h0m0-16h0m-1 20h0m-1 37h0m3-3h0m7-26h0m0 52h0m9 18h0m7 3h0m15 34h0m-7-8h0m-13 21h0m-4-12h0m-3 6h0m-1-12h0m-8 20h0m-14 36h0m11-2h0m3-13h0m3-2h0m1-6h0m15 21h0m2-23h0m5-3h0m3 26h0m14-22h0m4 11h0m1-11h0m2 25h0m3-10h0m10-6h0m39 1h0m1 5h0m7-14h0m1-1h0m3-4h0m9 24h0m1-21h0m31 18h0m-2 29h0m-1 6h0m-1 1h0m-4-20h0m-6-3h0m-7 8h0m-13 14h0m-23-23h0m-4 11h0m-52 0h0m-6-3h0m-6 6h0m-6 10h0m-8-3h0m-5-9h0m-5 1h0m-10 8h0m-8-4h0m-5-13h0m0 41h0m17-16h0m34 5h0m9 11h0m27 2h0m2-13h0m33-2h0m11 22h0m19 4h0m12-21h0m-36 34h0m-3-6h0m-9 13h0m-8 14h0m0-14h0m-2 11h0m-3-13h0m-2-10h0m-7 8h0m-10 14h0m-13-10h0m-33-3h0m-16 15h0m-12-15h0m-14 18h0m5 18h0m5 11h0m4-29h0m10 7h0m8-2h0m19-4h0m1 23h0m3-11h0m3-10h0m6 22h0m3 1h0m11-4h0m2 4h0m6-21h0m14 12h0m2-10h0m1 3h0m9-1h0m13-6h0m0 17h0m2-1h0m7-17h0m4 23h0m-12 16h0m-6 8h0m-2-7h0m-7 14h0m-13-4h0m-6-18h0m-63 6h0m-3-2h0m-4-3h0m-17 8h0m-3 1h0m0-8h0m-11 19h0m60 58h0m77 64h0m-85 0h0" stroke="#DBAA68" stroke-width="10.8" stroke-linecap="round" fill="none"/>
<path transform="scale(.5)" d="M845 3517h0m7 1h0m4-3h0m8-5h0m38 40h0m-31-5h0m-7 5h0m-1-1h0m-10-4h0m-16 5h0m-4-11h0m0 41h0m1-19h0m7 5h0m2-1h0m4 11h0m1-15h0m2 10h0m2-11h0m3-4h0m0 1h0m1 7h0m1 16h0m2-4h0m4-14h0m0 10h0m0 8h0m3-5h0m1-4h0m4 1h0m0 10h0m13-30h0m1 9h0m2 9h0m2-2h0m0 1h0m1-10h0m2 16h0m1-12h0m0 19h0m8-4h0m3-13h0m36 27h0m-2 3h0m-12-1h0m-1 5h0m-3 11h0m0-7h0m-1 7h0m-1-15h0m-3 15h0m0-9h0m-1-13h0m-11 3h0m-2 7h0m-5 11h0m-11-1h0m0-2h0m-1-16h0m-3 2h0m-4 16h0m-2 7h0m-9-14h0m0-3h0m0-4h0m0-6h0m-3 3h0m-1 3h0m-2-5h0m-4-3h0m-2 19h0m-4-18h0m-1 4h0m-3 16h0m-1-21h0m-1 23h0m-5-21h0m0-2h0m-3 16h0m-3-18h0m-11 0h0m8 62h0m2-23h0m10-7h0m0 17h0m1 8h0m9-17h0m3 16h0m1 7h0m1-17h0m4 8h0m1-12h0m0 6h0m3 12h0m2 0h0m1 1h0m3-10h0m0 9h0m3-25h0m4 19h0m1-21h0m6 23h0m1-6h0m1-13h0m1 26h0m4-27h0m0 3h0m7-2h0m3 15h0m-12 32h0m-12 1h0m-1-10h0m-13 7h0m-2 2h0m-5-11h0m-3 10h0m-3-10h0m-15-8h0" stroke="#76808F" stroke-width="10.8" stroke-linecap="round" fill="none"/>
<path transform="scale(.5)" d="M853 3507h0m74 34h0m-8 9h0m-7-14h0m-23-10h0m-4 8h0m-38 16h0m26 26h0m9-17h0m1-1h0m37-3h0m12 38h0m-11 13h0m-56-8h0m-14-2h0m-9 12h0m-15-16h0m-3 5h0m-2 29h0m4 12h0m50-7h0m43 14h0m-26 7h0m-5 22h0m-8-6h0m-23-14h0m-10 16h0m19 24h0m3-13h0m11 24h0" stroke="#76808F" stroke-width="10.8" stroke-linecap="round" fill="none"/>
<path transform="scale(.5)" d="M805 3543h0m64 356h0m-25 31h0m13 78h0" stroke="#76808F" stroke-width="10.8" stroke-linecap="round" fill="none"/>
<path transform="scale(.5)" d="M658 3711h0" stroke="#76808F" stroke-width="10.8" stroke-linecap="round" fill="none"/>
<path transform="scale(.5)" d="M952 3417h0m13-8h0m5-14h0m2 5h0m2 16h0m6-2h0m8 9h0m3-19h0m18 11h0m4-2h0m18 6h0m2 3h0m3-7h0m0 2h0m36 26h0m-14 10h0m0-4h0m-1-25h0m-5 6h0m-3-3h0m-5 7h0m0-10h0m-2 10h0m-2-8h0m-6-1h0m-1 24h0m-1-2h0m0-15h0m-1-1h0m-3 24h0m0-21h0m0-9h0m-3 14h0m-1-6h0m-1 12h0m-1 9h0m0-7h0m-2-17h0m-6 19h0m-1-25h0m-4 28h0m-4-24h0m-4-3h0m-1 19h0m-1 10h0m0-27h0m-10 21h0m-1 0h0m-3-13h0m0-7h0m-2 8h0m-2 6h0m-1 0h0m-1 4h0m-1-6h0m0-10h0m-3 16h0m-1 7h0m0-28h0m-5 17h0m-2-11h0m-5 22h0m-2-20h0m-6 19h0m-4 2h0m-5 9h0m5 0h0m2 22h0m2-16h0m0 16h0m6-8h0m0 6h0m2 2h0m4-5h0m3-23h0m2 14h0m0 10h0m2-21h0m2 0h0m2 3h0m0 18h0m1-24h0m2 11h0m3 12h0m1-18h0m3 9h0m0 8h0m3-6h0m1 8h0m5-10h0m0 16h0m1-25h0m1 2h0m3-5h0m2 4h0m0 24h0m2-29h0m0 15h0m2-6h0m3 9h0m0 3h0m2-21h0m3 20h0m1-16h0m0 12h0m1-14h0m3 22h0m1-24h0m0 21h0m3-1h0m0 5h0m1-19h0m10 11h0m1 8h0m1 1h0m2 1h0m3-10h0m3-18h0m7 23h0m1-1h0m9-6h0m13 3h0m8-12h0m4 20h0m5 0h0m4 3h0m-1 2h0m-5 25h0m0-15h0m-1-10h0m0-1h0m-3 31h0m-3-25h0m-8 0h0m-2 19h0m-5-8h0m-6 11h0m-7-6h0m-2-1h0m-5-16h0m-13 22h0m-1 1h0m-3-2h0m-12-12h0m-1 4h0m-3 7h0m0-5h0m-3-5h0m-1-13h0m-1 28h0m0-22h0m-3-1h0m-1 24h0m0-7h0m-1-19h0m-2 11h0m-1 6h0m0-16h0m-3 2h0m-5 20h0m0-10h0m-5-3h0m-2 4h0m-3-6h0m-3 14h0m-3-10h0m-7-15h0m-5 22h0m-1-10h0m-1 3h0m0-9h0m-1-3h0m-1 14h0m0-11h0m-7 20h0m0-18h0m-2 15h0m-4-8h0m0-6h0m-6-4h0m10 43h0m5-18h0m0 27h0m6-27h0m5 2h0m1 27h0m1-7h0m1 3h0m8-20h0m3 10h0m1 3h0m0 6h0m1 1h0m4-7h0m1-6h0m1 9h0m0 4h0m4-1h0m3-19h0m5 2h0m5 4h0m1 18h0m6-5h0m3-10h0m2 11h0m2-24h0m4 3h0m6-4h0m2 7h0m0 11h0m0 13h0m12-18h0m6-6h0m5 16h0m4-6h0m11 6h0m0 1h0m3-5h0m9 5h0m0 4h0m5-9h0m5-2h0m-12 25h0m-4 2h0m-2-3h0m-2 21h0m-5 1h0m0-6h0m-30-25h0m-7 26h0m-3-17h0m-2-8h0m-1 16h0m-1-4h0m-6 5h0m-2 2h0m-1 11h0m-5-8h0m-5-15h0m-1 22h0m-2-18h0m-3 0h0m-8-6h0m-1 19h0m-3 0h0m-2-2h0m-4-6h0m-2-13h0m-2-4h0m-3 26h0m0-26h0m-1 9h0m-3 11h0m0-11h0m-3 6h0m-3-4h0m0-7h0m-2 6h0m-9-6h0m8 56h0m12-26h0m1 0h0m4 7h0m7-6h0m1 20h0m10 2h0m5-6h0m2 5h0m1-22h0m4-1h0m0 7h0m0 20h0m3 2h0m1-19h0m1 16h0m4-3h0m4-7h0m3 14h0m7-30h0m0 15h0m1-4h0m8-2h0m1-2h0m5 1h0m5-3h0m3 22h0m1-8h0m3-2h0m3 0h0m1-14h0m2 2h0m1 10h0m-19 35h0m0-18h0m-12 8h0m0-8h0m-2 24h0m-10-9h0m-3-10h0m-2 16h0m-1-9h0m-2-12h0m-2 5h0m-1 8h0m-1 16h0m-4-22h0m-6-2h0m-11 24h0m-1-1h0m0-3h0m0-16h0m-4-3h0m-3 11h0m0-18h0m-2 26h0m-4-17h0m-6-8h0m-3 10h0m-1 6h0m-1-2h0m-6 9h0m-4-17h0m33 25h0m31 0h0m2 7h0m6-5h0m3 6h0m6-8h0" stroke="#B6BECA" stroke-width="10.8" stroke-linecap="round" fill="none"/>
<path transform="scale(.5)" d="M972 3288h0m10 56h0m-8 26h0" stroke="#B6BECA" stroke-width="10.8" stroke-linecap="round" fill="none"/>
<path transform="scale(.5)" d="M982 3150h0m10 14h0m3 35h0m0-19h0m-2 13h0m-3 4h0m-2-3h0m-7 5h0m-4-1h0m2 22h0m3-10h0m0 5h0m1-14h0m0 8h0m0 4h0m1-1h0m4-6h0m2 8h0m3-6h0m8-8h0" stroke="#45474C" stroke-width="10.8" stroke-linecap="round" fill="none"/>
<path transform="scale(.5)" d="M961 3315h0m6-3h0m1 3h0m2-6h0m2 7h0m1-6h0m0 7h0m1 9h0m1-1h0m2-19h0m2 14h0m1-12h0m3 15h0m1-12h0m5-1h0m5 6h0m0 9h0m3-12h0m8 3h0m1 11h0m3-17h0m-11 20h0m-1 3h0m0-1h0m-7 7h0m-18-5h0" stroke="#45474C" stroke-width="10.8" stroke-linecap="round" fill="none"/>
<path transform="scale(.5)" d="M967 3361h0" stroke="#45474C" stroke-width="10.8" stroke-linecap="round" fill="none"/>
<path transform="scale(.5)" d="M1640 3321h0m12-1h0m35 23h0m-13 6h0m-1-19h0m-8 12h0m-4 5h0m-2-6h0m-1-10h0m-3 10h0m-25 10h0m0-19h0m-28 24h0m-2-26h0m-18 20h0m-28 30h0m5 11h0m9-11h0m2 7h0m44-20h0m44 18h0m5-25h0m-51 52h0m-14-8h0m-26 3h0m-3-6h0m-19 13h0m-4 18h0m4 3h0m35 0h0m28 7h0m19-3h0m8 3h0m4-17h0m4 22h0m18 2h0m2-22h0m16 22h0m18-22h0m14 39h0m-31 21h0m-4-2h0m0-24h0m-1 21h0m-8-4h0m-14 2h0m-7-14h0m-1 13h0m-2-10h0m-1-10h0m-12 7h0m-6 0h0m-16 11h0m-5-19h0m-4 26h0m-20-10h0m-1 13h0m-22-6h0m-6 5h0m-7-30h0m13 55h0m8 4h0m5-23h0m11 1h0m5-5h0m12 31h0m12-26h0m14 24h0m3-21h0m3 5h0m7-11h0m18 9h0m0 20h0m7-20h0m8 8h0m11-15h0m9 12h0m0 7h0m6 6h0m10-7h0m4-7h0m23-9h0m-4 39h0m-7 10h0m-26 3h0m-4-7h0m-10-6h0m-8 0h0m-1 6h0m-9-10h0m-2-7h0m-7 27h0m0-14h0m-3 5h0m-9 4h0m-1-18h0m-3 11h0m-6-12h0m-2 0h0m-20-5h0m-1 20h0m-1-5h0m0-8h0m-2 1h0m-9 3h0m-3 5h0m-8-5h0m-2 17h0m0-21h0m-1 22h0m0-3h0m-1-18h0m-3 22h0m-3 0h0m0-28h0m-6 25h0m-27-10h0m-28 32h0m5-10h0m9 9h0m2-3h0m5-13h0m18 7h0m0 2h0m0 4h0m4-9h0m22 12h0m3-11h0m0 3h0m16 18h0m3-17h0m4 11h0m5-6h0m23-14h0m2 0h0m31 23h0m10-23h0m5 0h0m4 17h0m47-11h0m0 9h0m5 15h0m-12 10h0m-9 3h0m-7 7h0m-6-6h0m-16 12h0m-8 7h0m-4 0h0m-22-24h0m-7 7h0m-2-3h0m-1 8h0m-7-15h0m-3 16h0m-2-1h0m-1 3h0m-1 3h0m-18-5h0m-6-9h0m-6-5h0m-5 13h0m-6 1h0m-1-1h0m-9 1h0m-25 8h0m-3-11h0m-2-15h0m-10 15h0m-18-3h0m-3 16h0m-21-3h0m-4-13h0m-14 17h0m-25 28h0m13-1h0m0 3h0m4-7h0m0 8h0m17-27h0m13 23h0m1-18h0m5-3h0m1 20h0m5-5h0m9-19h0m8-1h0m5 20h0m4-7h0m1 12h0m1-24h0m11 28h0m3-18h0m1 4h0m3-2h0m11 10h0m1-9h0m3 11h0m15-25h0m7 26h0m1-20h0m1 2h0m6 5h0m6-9h0m5 11h0m2-4h0m0 18h0m10 1h0m1-16h0m1 11h0m8-18h0m1 8h0m3-5h0m15-8h0m3 4h0m2 3h0m1 16h0m1-10h0m2-9h0m1-2h0m5 16h0m2-9h0m2 19h0m11-29h0m3 5h0m4 22h0m1-26h0m2 7h0m7 16h0m9-25h0m2 25h0m6-7h0m2 5h0m0 3h0m10-9h0m-6 42h0m-6-26h0m-4 6h0m-12 21h0m-1-4h0m0-21h0m-2 26h0m-3-12h0m-8-11h0m-14 19h0m-6 3h0m-4-8h0m-6-16h0m-17 13h0m0-7h0m-9 18h0m-1-16h0m-4 2h0m-1-14h0m-5 24h0m0-6h0m-19 11h0m-11-15h0m-2 14h0m-17-1h0m-3-4h0m-7-21h0m-1 2h0m-3 27h0m-3-22h0m-5-2h0m-1 4h0m0-5h0m-10 24h0m-12-8h0m-2-7h0m-7 15h0m-6-5h0m0-18h0m-3 8h0m-4-14h0m-12 7h0m0-6h0m-17 8h0m-12-2h0m-10 6h0m12 27h0m0 6h0m3-1h0m7 13h0m1-12h0m16 15h0m15-16h0m1 6h0m7 9h0m1-5h0m4 0h0m0 2h0m4-8h0m24 5h0m7-23h0m2 3h0m2 24h0m1-15h0m1-5h0m2-3h0m7-1h0m12 11h0m11 14h0m7-1h0m5-6h0m11-19h0m6 26h0m2-25h0m2 24h0m8-26h0m2 22h0m5 1h0m12-21h0m0 19h0m5-6h0m4 7h0m6-12h0m13 19h0m3-6h0m2 7h0m3-24h0m4 21h0m3-25h0m3 22h0m1-16h0m1-8h0m4 30h0m13-30h0m5 1h0m-4 35h0m-1 24h0m0-21h0m-3 6h0m0-1h0m-6-7h0m-2-4h0m-7 28h0m-1-7h0m0-17h0m-5 18h0m-4 7h0m0-6h0m-1 1h0m0-25h0m-2 15h0m0-16h0m-2 11h0m-7 2h0m-1 11h0m-3 0h0m-4-18h0m-7 12h0m0-7h0m-3-6h0m-14-1h0m-4 25h0m-11-20h0m-5 7h0m-6-15h0m-11 17h0m-1-18h0m-13 21h0m-3-3h0m-2-9h0m-1 6h0m-1 3h0m-4-5h0m-2 7h0m-4-12h0m-2 21h0m0-10h0m-3 11h0m0-7h0m-2-1h0m-3 3h0m0-12h0m0-10h0m-6 27h0m0-3h0m0-8h0m-1 9h0m-3-7h0m-9 2h0m-6 5h0m-5 3h0m-7-12h0m-20 11h0m-11-8h0m-2 8h0m-3-11h0m-11-19h0m-11 6h0m-15-4h0m20 36h0m7 19h0m11-4h0m14-11h0m20 10h0m2 1h0m1 6h0m12 1h0m6-22h0m1 25h0m1-29h0m25 12h0m4-12h0m21 3h0m4 17h0m2-22h0m3 21h0m2-13h0m5-4h0m0 23h0m7 2h0m3-20h0m2 1h0m3 3h0m2-8h0m0 22h0m11-6h0m1-19h0m7 17h0m15 6h0m6-12h0m5-3h0m9-9h0m0 2h0m0 24h0m5 3h0m3-15h0m2 9h0m1 25h0m-5-4h0m-19-5h0m-4 6h0m-1 1h0m-1-8h0m-5-3h0m-1 9h0m-1-1h0m-12-10h0m-10 0h0m-1 7h0m-2 19h0m-2-15h0m-1 14h0m0-7h0m-3 3h0m-8 3h0m-8-25h0m-4 11h0m-7-10h0m-1 21h0m-4-18h0m-11-2h0m-7 27h0m-1-22h0m-2 5h0m-23 13h0m-13-5h0m-3-17h0m-2-1h0m-6-1h0m-2 16h0m-10-16h0m-2-1h0m-5 7h0m-8 11h0m-1-4h0m-10-4h0m0-2h0m51 28h0m9 23h0m1-10h0m2-9h0m0 22h0m1-10h0m1-19h0m10 28h0m5-9h0m3-18h0m2 8h0m1-10h0m3 0h0m0 17h0m8 1h0m10 1h0m2-9h0m5-11h0m3 15h0m7-13h0m7 29h0m3-30h0m11 25h0m1-18h0m7 7h0m3-5h0m8 12h0m15 2h0m8-1h0m2-16h0m8-1h0m-33 26h0m-4 0h0m-3 9h0m-2 1h0m-4 12h0m-18-10h0m-16-12h0m-4 1h0m-4 16h0m-13-9h0m-1-6h0m-12 10h0m-4-7h0m-1 0h0m-6-3h0" stroke="#FBB817" stroke-width="10.8" stroke-linecap="round" fill="none"/>
<path transform="scale(.5)" d="M1458 3462h0m6 7h0m50 35h0m-33 12h0m-24-22h0m-1 23h0m-2-22h0m-1 23h0m-1-22h0m-2 12h0m-11-18h0m-9 25h0m-16 27h0m11-21h0m2 27h0m1-19h0m13-7h0m5 19h0m8-10h0m8 2h0m0 17h0m4-23h0m8 19h0m27-7h0m28-16h0m15 14h0m1-6h0m-36 29h0m-1 9h0m-9 9h0m-3 2h0m-37-4h0m-13-18h0m-2 19h0m-4 6h0m-22 16h0m8-7h0m17 15h0m21-10h0m10 1h0m16-3h0m-17 24h0m-21 3h0m-3 9h0m-17 8h0" stroke="#FBB817" stroke-width="10.8" stroke-linecap="round" fill="none"/>
<path transform="scale(.5)" d="M1481 3276h0m104 9h0m8-4h0m18 11h0m2 9h0m-11 20h0m-9-12h0m-13 6h0m-6 11h0m-12-12h0m-29 5h0m-31-20h0m26 48h0m7-12h0m10-7h0m32 2h0m31-2h0m-73 38h0" stroke="#FBB817" stroke-width="10.8" stroke-linecap="round" fill="none"/>
<path transform="scale(.5)" d="M1756 3510h0m-8 18h0m0 57h0m165 94h0m-141-11h0m-14-6h0m-3 44h0m142 3h0m9 30h0m-1-5h0m-3-22h0m-26 4h0m-76 19h0m16 35h0m64 4h0m-49 10h0m-29 20h0m-15-5h0m-56 1h0m50 24h0m11 12h0m13-20h0m1 14h0m5-20h0m16-2h0m70 54h0m-111 3h0m-30-11h0m-13 10h0m35 36h0m25-11h0m56-9h0m8 12h0m3 5h0m30 11h0m-26 5h0m-7 10h0m-20 9h0m-31-28h0m-8 5h0m-100 5h0m-16 38h0m40 1h0m23 8h0m57-22h0m35-1h0m37 25h0m-45 21h0m-5 3h0m-2-7h0m-15-7h0m-2-3h0m-16 29h0m-64 5h0m45 22h0m21 3h0m26-18h0m8 4h0m8 8h0m27 2h0" stroke="#FBB817" stroke-width="10.8" stroke-linecap="round" fill="none"/>
<path transform="scale(.5)" d="M1963 3399h0m50 85h0m-85-4h0m-16-15h0m26 66h0m1 2h0m48 48h0m-23 22h0" stroke="#FBB817" stroke-width="10.8" stroke-linecap="round" fill="none"/>
<path transform="scale(.5)" d="M1835 3517h0m-5 21h0m-61 32h0m129 22h0m-120-7h0m-3 17h0m21 45h0m45-13h0m43-8h0m4 13h0m-25 14h0m-21 26h0m-59-1h0m18 7h0m14 2h0m28 3h0" stroke="#FBB817" stroke-width="10.8" stroke-linecap="round" fill="none"/>
<path transform="scale(.5)" d="M1342 3288h0m6 6h0m11-4h0m0 4h0m10-8h0m56 41h0m-8-5h0m-18-12h0m-9 13h0m-7-6h0m-1-2h0m-1-16h0m-1 9h0m-8 10h0m-4 9h0m-3-26h0m-4 0h0m-3 16h0m-13 1h0m-4 4h0m-8-22h0m-4 18h0m-3-1h0m-15 3h0m-67 38h0m10-2h0m5 2h0m7-3h0m1-17h0m8 19h0m3-4h0m1 1h0m5-10h0m2 12h0m6-21h0m1 20h0m12-8h0m0 9h0m1-21h0m17 20h0m10 4h0m6-3h0m3-16h0m0 4h0m0 14h0m21-21h0m0 6h0m1 16h0m7-28h0m2 4h0m2 7h0m1 13h0m4-26h0m2 15h0m1-3h0m9-1h0m4-9h0m3 23h0m7-12h0m5-12h0m1 22h0m1-12h0m10 11h0m0 4h0m0 1h0m26 22h0m-1 5h0m-7-7h0m-2-14h0m-1 20h0m-6-19h0m-2 14h0m-2 6h0m0-12h0m-1 7h0m-2-13h0m-4 5h0m-2-2h0m-3 0h0m0-1h0m-2 1h0m-1-6h0m-1 26h0m0-26h0m-6-1h0m-2 28h0m-4 1h0m-5-27h0m-4 26h0m0-29h0m-1 10h0m-1 10h0m-1 2h0m-2-21h0m-1 13h0m-2 12h0m-1 2h0m0-16h0m-2-11h0m-2 27h0m-3 3h0m-4-31h0m-1 28h0m0-25h0m-1 25h0m0-22h0m-6 17h0m-2-10h0m-1 12h0m-1-24h0m-1 17h0m0-12h0m-2 16h0m0-12h0m0-5h0m-2 18h0m0-2h0m0-12h0m-3-6h0m-2 18h0m-2 1h0m0-2h0m-1-1h0m-1 6h0m0-5h0m-3 2h0m-6-3h0m-4-5h0m-2-14h0m-1 28h0m-1-21h0m0-5h0m-2 19h0m-3 6h0m-6-17h0m-3 13h0m0-1h0m-1 5h0m-1 3h0m-1-13h0m-1 2h0m-3 10h0m-2-13h0m-1-5h0m-6-8h0m0-3h0m-5 28h0m0-18h0m-1 10h0m-1-1h0m-2-12h0m-1-1h0m-2 5h0m-1-5h0m-1 21h0m-1 3h0m0-3h0m0-17h0m-1 5h0m-4 4h0m0-4h0m-1-5h0m-2 9h0m0-17h0m-2 21h0m0-3h0m-1 8h0m-2-27h0m-1 15h0m-3-6h0m-1 2h0m0-5h0m-1 5h0m-1 7h0m-1-11h0m-1 12h0m-2-7h0m-1 4h0m0-11h0m-3-1h0m0-3h0m-1 18h0m-2 4h0m0-9h0m0-1h0m0-9h0m-1 23h0m0-10h0m-2-11h0m-4 13h0m-3 5h0m-1 2h0m-5-24h0m-1 6h0m-3 0h0m-1 0h0m-5 16h0m-3-1h0m-5-8h0m-5 45h0m3-25h0m4 16h0m1-9h0m0 3h0m1-3h0m5-11h0m0 28h0m0 2h0m3-25h0m2 8h0m0 15h0m1-10h0m1 10h0m1-2h0m0 5h0m1-15h0m1-13h0m1 3h0m1-6h0m3 23h0m0 2h0m3-25h0m1 28h0m3-27h0m0 20h0m1-5h0m3-2h0m0 7h0m0 9h0m2-15h0m1-8h0m6 8h0m0 5h0m1-4h0m2-2h0m0 12h0m2-23h0m1 3h0m1 0h0m2 23h0m0 1h0m1-22h0m0 20h0m2-21h0m0 14h0m0 1h0m1-10h0m1 3h0m0 5h0m1-12h0m2-8h0m0 4h0m1 21h0m1-23h0m1 3h0m0 5h0m0 18h0m1-27h0m0 9h0m2 0h0m2-6h0m1 5h0m0 19h0m3 2h0m4-19h0m1-5h0m0 3h0m1-6h0m0 3h0m0 5h0m0 3h0m0 6h0m2-9h0m1 10h0m1-4h0m0 6h0m1-14h0m1 11h0m2-20h0m0 5h0m0 2h0m1-5h0m1 15h0m3-8h0m2-8h0m0 17h0m0 3h0m1 10h0m2-31h0m0 24h0m1-16h0m0 8h0m2 13h0m4-18h0m0 4h0m0 10h0m1-5h0m1 10h0m1-16h0m1 5h0m0 12h0m2-16h0m2-14h0m0 10h0m3-6h0m1-1h0m0 16h0m0 1h0m2-2h0m3-10h0m0 15h0m2 3h0m3-25h0m2-1h0m0 19h0m1-16h0m1 22h0m1-24h0m1 16h0m0 5h0m2-22h0m0 29h0m1-30h0m3 10h0m0 9h0m0 7h0m1-26h0m2 24h0m3-4h0m4-20h0m8 0h0m2 10h0m2 1h0m0 11h0m1-6h0m1-5h0m1-11h0m4 8h0m1 21h0m1-7h0m2-17h0m1 5h0m0 3h0m1 18h0m1-8h0m2-19h0m2 4h0m0 5h0m0 16h0m1-10h0m5-11h0m0 10h0m0 11h0m7-22h0m0 4h0m5-4h0m0 22h0m1 1h0m2-25h0m5 24h0m2-22h0m1 9h0m11 15h0m4-15h0m0 3h0m2 30h0m-1-15h0m-2 12h0m-3 16h0m-2-1h0m0-17h0m-2-10h0m-2 7h0m-3 8h0m-1 9h0m-1-4h0m-2-20h0m-2 27h0m-3-22h0m-3 6h0m-7 5h0m-1-18h0m-1 17h0m-3-3h0m-3-11h0m-4 5h0m-3 21h0m-1-22h0m-1 8h0m-3 14h0m-4-28h0m-1 28h0m-1-1h0m0-18h0m-4-1h0m-1 5h0m-2-9h0m-1 25h0m0-25h0m-2 15h0m-2 1h0m-2 8h0m-2-2h0m0-24h0m-3-1h0m-1 24h0m-1-1h0m0-5h0m-1 2h0m-1 4h0m0-14h0m-3 19h0m-2-16h0m-2 2h0m-6 0h0m-1-3h0m-4 13h0m-1 2h0m-3-21h0m-2 18h0m-1-2h0m0-20h0m-2 26h0m-1-8h0m-1 7h0m-1-4h0m0-10h0m0-12h0m-1 11h0m-1-8h0m-4 18h0m0-4h0m-1 8h0m-3-8h0m-1-18h0m-1 29h0m0-8h0m0-12h0m-2-2h0m-2-3h0m-1 7h0m-4 14h0m-1-4h0m-1 4h0m-1-13h0m-1 3h0m-1-15h0m-1 17h0m-1-10h0m-2 0h0m0-1h0m-3-1h0m-1 12h0m0-3h0m-1 10h0m0-11h0m-2-1h0m0-14h0m-1 29h0m0-14h0m0-7h0m0-7h0m-2 16h0m-2 10h0m-1-21h0m0-5h0m-1 10h0m0-3h0m0-2h0m-1 0h0m-2 19h0m0-10h0m0-15h0m-1 1h0m-1 16h0m-2-17h0m-2 29h0m0-10h0m-1-5h0m-1 2h0m-1 9h0m0-6h0m-2 9h0m-3-16h0m-2 8h0m0-10h0m-3 13h0m-1-7h0m-3 11h0m-1-7h0m-2-17h0m-4 27h0m-1-20h0m-3-5h0m-3 16h0m-1 6h0m0-7h0m0-18h0m-1 17h0m-1-14h0m-3 22h0m-1 0h0m0-6h0m0-17h0m-1 7h0m-2-8h0m-2 8h0m-1-2h0m-1-8h0m-2-1h0m-1 20h0m-1-9h0m0-6h0m-1 24h0m0-16h0m-4 16h0m-1-1h0m0-8h0m0-6h0m-1 4h0m-6-14h0m-2 24h0m0-21h0m0-6h0m-7 28h0m-2-16h0m16 32h0m8-9h0m0 4h0m3-1h0m1-4h0m1 4h0m2-5h0m2 18h0m1-15h0m2 12h0m0 3h0m1-15h0m0 3h0m1 6h0m2 2h0m1 6h0m0 9h0m2-6h0m1-17h0m1 9h0m0 11h0m2-2h0m1-22h0m1 8h0m1 5h0m1 11h0m2-3h0m0 5h0m1-28h0m1 17h0m5-11h0m0 13h0m0 10h0m1-8h0m4-16h0m2-7h0m3 2h0m4 9h0m3-8h0m0 4h0m1-7h0m0 28h0m1 3h0m1-27h0m2-3h0m0 6h0m1-5h0m0 12h0m2-7h0m1 1h0m1 0h0m2-3h0m2-4h0m0 26h0m1-20h0m0 14h0m1 1h0m1-12h0m1-9h0m0 19h0m1-6h0m3 10h0m1-22h0m1 18h0m1-18h0m0 10h0m1 12h0m2-16h0m2-4h0m2 8h0m2 2h0m2 0h0m2 7h0m2 9h0m1-17h0m0 11h0m3 7h0m1-29h0m0 4h0m5-1h0m0 22h0m2 3h0m1-6h0m2-21h0m1 8h0m0 6h0m0 9h0m5-24h0m1 23h0m1 0h0m1-22h0m1 21h0m0 6h0m1-10h0m2-20h0m1 19h0m3-3h0m2-12h0m2 22h0m2-13h0m4-9h0m5 14h0m2-16h0m0 4h0m1-3h0m5 20h0m0 7h0m1-10h0m1-18h0m5-2h0m0 8h0m0 12h0m1-17h0m1 23h0m9-1h0m1-22h0m3 8h0m1-3h0m4-5h0m1 26h0m2-21h0m0 8h0m9-1h0m0 3h0m0 11h0m2-5h0m23-20h0m-12 29h0m-13 15h0m-2-1h0m-6-3h0m-2 2h0m-2 10h0m-3-8h0m-1 2h0m-1-9h0m-2 18h0m0-16h0m-2-7h0m-3 25h0m-1-3h0m-4-2h0m-1-3h0m-1-17h0m-2 19h0m-1 8h0m-3-30h0m-4 2h0m-2-2h0m0-1h0m-3 30h0m-1-24h0m-2 11h0m-2-7h0m-2 13h0m-1-20h0m-1 11h0m-1 14h0m0-15h0m-5-2h0m-3 5h0m-8 9h0m-1-6h0m-2-2h0m-2 2h0m0-17h0m-1 24h0m-1 2h0m0-16h0m-1 4h0m-2 13h0m-1-2h0m0-1h0m-3-1h0m-3 5h0m0-7h0m0-14h0m-2 15h0m-1 5h0m0-18h0m-1 1h0m-1 18h0m0-6h0m-1 6h0m0-26h0m-1 24h0m0-6h0m0-7h0m-3 6h0m-1-14h0m0-4h0m-2 16h0m0-4h0m-1-3h0m-2 7h0m0-17h0m-2 18h0m-1-6h0m-2 4h0m-1 0h0m0-2h0m0-2h0m-4 14h0m0-6h0m0-6h0m-1-2h0m-7 0h0m-1 14h0m-1-18h0m-1 17h0m-2-23h0m-1-3h0m-3 15h0m-1 9h0m0-11h0m-1 17h0m-1-31h0m-1 18h0m0-12h0m-2 5h0m-1-7h0m-4 10h0m-2 9h0m-4-22h0m-4 19h0m-3-6h0m0-3h0m0-2h0m-1 12h0m-4-9h0m-1-5h0m-2 0h0m-1 9h0m-4-7h0m-3 4h0m-6-11h0m24 30h0m8 0h0m9 4h0m0 17h0m1-8h0m2-1h0m2-5h0m3-5h0m2 0h0m8 9h0m2-5h0m1 7h0m0 14h0m1-22h0m1 2h0m0 22h0m3-15h0m2 2h0m2-10h0m0 8h0m3-8h0m5-5h0m0 24h0m1-14h0m1-4h0m4 2h0m1 5h0m1-10h0m1-1h0m0 2h0m0 12h0m3-5h0m0 7h0m1-6h0m4-7h0m2 8h0m2-7h0m1 9h0m0 10h0m3-10h0m0 14h0m1-26h0m0 1h0m1-2h0m1-1h0m0 3h0m0 2h0m1 6h0m0 10h0m0 1h0m1-20h0m1-1h0m2 7h0m0 7h0m1-15h0m2 4h0m0 3h0m1 1h0m1 7h0m4-13h0m2 6h0m1-4h0m1-2h0m2 25h0m1-1h0m2 2h0m4 1h0m4-25h0m3 10h0m9-9h0m4 13h0m5 6h0m5-22h0m1-1h0m4 3h0m4 13h0m-23 21h0m-2-8h0m-1 4h0m-1 13h0m-2-4h0m-3 15h0m-1-4h0m-1-23h0m-3 9h0m-3-10h0m-7 24h0m-4-5h0m0-2h0m0-4h0m-3-7h0m-1 10h0m-5 1h0m-10-9h0m-6 2h0m-2 3h0m-1-13h0m-3 20h0m-1 7h0m-3-9h0m-2 11h0m-5-2h0m0-9h0m-3-6h0m0-1h0m-1-3h0m-1-2h0m-5-2h0m-3-3h0m-4 7h0m10 25h0m4 7h0m10-8h0m7 9h0m2 1h0m0 5h0m1-14h0m5 9h0m7-8h0m1 20h0m4-2h0m1-4h0m2 2h0m1-11h0m6-4h0m7-3h0m2 7h0m0 21h0m1-7h0m3-12h0m1 3h0m4 1h0" stroke="#F58220" stroke-width="10.8" stroke-linecap="round" fill="none"/>
<path transform="scale(.5)" d="M1376 3261h0m11 0h0m28-2h0m4 3h0m45 26h0m-7 6h0m-12-1h0m-4-15h0m-13 4h0m-9 4h0m-16-12h0m-4 8h0m-7-5h0m-1-10h0m-3-1h0m-8 8h0m-12 8h0m-19-5h0m49 30h0m15 5h0m4-13h0m2 21h0m1-10h0m6 10h0m1-22h0m6 4h0m3 15h0m5-21h0m0 11h0m1 2h0m2 8h0m4-13h0m6-6h0m2 7h0m3 0h0m-6 41h0m-5 9h0m-1-6h0m0-14h0m-5 3h0m-1 10h0m-4-16h0m23 122h0m4 24h0m-6-10h0m-2-12h0m-1 23h0m-7-23h0m-22 59h0m1-14h0m2 7h0m6-11h0m6 20h0m1-27h0m0 20h0m20 3h0m8-19h0m0 5h0m5 13h0m3 8h0m-11 25h0m-9-19h0m-1 21h0m-20-14h0m-3 1h0m-1 11h0m-6-1h0m0-11h0m-14 12h0m-21 6h0m-8 30h0m14-19h0m7 2h0m8 15h0m1-8h0m4-2h0m7 6h0m2-18h0m0 3h0m6 15h0m10 3h0m2-2h0m9-17h0m2-6h0m4 13h0m5-9h0m-35 30h0m-1-3h0m-6 18h0m-7 7h0m-14-16h0m-16-1h0m-12 35h0m24-7h0m23-2h0" stroke="#F58220" stroke-width="10.8" stroke-linecap="round" fill="none"/>
<path transform="scale(.5)" d="M1688 3839h0m18-4h0m4 34h0m0-12h0m-13 8h0m-7-17h0m-2 7h0m-8 11h0m-8 30h0m0 2h0m4-4h0m4-4h0m17-13h0m11 9h0m3 16h0m2-25h0m7 58h0m-6-15h0m-7 14h0m-2-11h0m-13-16h0m-1 20h0m-3-16h0m-4 19h0m-2-17h0m-2-4h0m-4-1h0m-5 5h0m28 31h0m23-3h0" stroke="#F58220" stroke-width="10.8" stroke-linecap="round" fill="none"/>
<path transform="scale(.5)" d="M1973 3402h0m-51 53h0m106 30h0m4-25h0m12 28h0m-127 20h0m52 36h0m-27 8h0m-1 50h0m-10 43h0" stroke="#F58220" stroke-width="10.8" stroke-linecap="round" fill="none"/>
<path transform="scale(.5)" d="M2017 3416h0m1 5h0m1-1h0m-5 4h0m-9 1h0" stroke="#F58220" stroke-width="10.8" stroke-linecap="round" fill="none"/>
<path transform="scale(.5)" d="M1527 3135h0m24-1h0m11 1h0m1-2h0m2-7h0m4-2h0m2 11h0m1-27h0m1 16h0m7 6h0m3 5h0m16-2h0m21 12h0m-9 2h0m-2 1h0m-5 2h0m-2-5h0m-2 18h0m0-10h0m-1-2h0m-6-3h0m0-8h0m0-1h0m-6 5h0m-3-5h0m-2-2h0m-2 9h0m-8 2h0m-7-6h0m-7 1h0m-1 1h0m-1-3h0m-1-4h0m-9 9h0m-3-6h0m-2 8h0m-13-4h0m-4-3h0m-1 19h0m-2 1h0m-1-8h0m-3 4h0m-2 0h0m-1 10h0m-9-15h0m-4 9h0m0-2h0m-4 6h0m-33 34h0m7-5h0m0 3h0m0 2h0m1-20h0m5 2h0m9-13h0m0 8h0m0 13h0m1-5h0m1-8h0m3 16h0m1-3h0m1-5h0m13-3h0m6-2h0m-45 31h0m-2 12h0m-3-8h0m-15 14h0m-5-20h0m-6 8h0m0-8h0m-6 7h0m-51 37h0m14-5h0m3 14h0m11-23h0m0 10h0m2 10h0m1-7h0m2-8h0m6 9h0m5-11h0m5-4h0m16 1h0m-40 29h0m-3 3h0m-10 2h0m-8 2h0m-1 3h0m-1 4h0m-6 0h0m-2-5h0m-2 17h0m-1-11h0m-9 12h0m-2-12h0m0-7h0m-8 32h0m7-10h0m1 4h0" stroke="#E0E227" stroke-width="10.8" stroke-linecap="round" fill="none"/>
<path transform="scale(.5)" d="M1487 3165h0m31-12h0m6 3h0m31 7h0m6-14h0m6 16h0m3-8h0m36-7h0m12-3h0m-35 35h0m-33-11h0m-13 21h0m-19-11h0m-6-6h0m-17 7h0m-64 18h0m29 3h0m59 15h0m20-5h0m30 11h0m11 0h0m53-4h0m13-11h0m-22 29h0m-57-1h0m-22-2h0m-9 27h0m-13 11h0m8 6h0m20 8h0" stroke="#E0E227" stroke-width="10.8" stroke-linecap="round" fill="none"/>
<path transform="scale(.5)" d="M1641 3254h0m1-5h0m7-6h0m0 14h0m24 3h0m0 27h0m-8-1h0m-2-2h0m10 18h0m13 3h0m2 18h0m14 36h0" stroke="#E0E227" stroke-width="10.8" stroke-linecap="round" fill="none"/>
<path transform="scale(.5)" d="M1445 3375h0m6-5h0m24 18h0m11 2h0m11-16h0m3 3h0m-19 28h0m-4 7h0m-17-12h0m28 54h0m17 13h0m-6 16h0m-6-2h0m-16-2h0m14 14h0m14 1h0m4 12h0m28 44h0m-37-3h0m-11-9h0m0-4h0m39 33h0" stroke="#EC5424" stroke-width="10.8" stroke-linecap="round" fill="none"/>
<path transform="scale(.5)" d="M1692 3868h0m6-8h0m17 0h0m25 37h0m-4-9h0m-3-8h0m-7 13h0m-1-5h0m-9-3h0m-15-5h0m-1-8h0m-1 0h0m-3 8h0m-2 5h0m-28 34h0m27-14h0m0 8h0m8 9h0m8-13h0m0 13h0m3 0h0m3-2h0m0 12h0m14-13h0m8-14h0m7-1h0m-14 38h0m-11 3h0" stroke="#EC5424" stroke-width="10.8" stroke-linecap="round" fill="none"/>
<path transform="scale(.5)" d="M1783 3899h0m7 3h0m24-1h0m6-16h0m6 8h0m2 5h0m3-8h0m3 10h0m10 1h0m2-10h0m2 7h0m19-3h0m1 4h0m1-21h0m0 16h0m0 7h0m1-18h0m22 10h0m6 36h0m-5 4h0m-1-29h0m-1 28h0m-3-17h0m-2 18h0m-2-1h0m-4-2h0m0-11h0m-6 8h0m0-22h0m-1 29h0m-6-16h0m-3-3h0m-1-6h0m-2 23h0m-9-8h0m-1-9h0m-4 8h0m-1 0h0m0-4h0m0-5h0m-11 18h0m-1-5h0m-1-10h0m0-8h0m0-3h0m-2 13h0m-2-2h0m-1-1h0m-3 17h0m-2 1h0m0-18h0m-1-6h0m-4 25h0m-1-30h0m-3 5h0m-1 16h0m-1-5h0m0-8h0m-1 22h0m-3-12h0m-3 3h0m-4 2h0m0-8h0m0-13h0m-5 21h0m0-14h0m0-9h0m-2 21h0m-4-11h0m-5 8h0m0-13h0m-1 9h0m0-4h0m-2 20h0m0-24h0m-1 19h0m-9-13h0m-3-5h0m-3 21h0m0-2h0m-3-1h0m0-14h0m-6 13h0m-2-4h0m-2-4h0m0-5h0m-7-6h0m0-5h0m-9 16h0m-1 4h0m-14 5h0m-2 3h0m-1-3h0m-23 30h0m11 5h0m2-1h0m7 3h0m6-27h0m0 26h0m3-18h0m1 10h0m4-17h0m2 22h0m10 2h0m6-25h0m1 1h0m1 20h0m1-3h0m2-1h0m0 5h0m3-11h0m1-12h0m0 5h0m2-7h0m3 18h0m1-16h0m3 28h0m2-5h0m2-7h0m1-12h0m1 9h0m0 9h0m1-2h0m0 5h0m2-26h0m0 16h0m0 2h0m0 11h0m1-7h0m3-22h0m0 23h0m7-13h0m1 8h0m2-15h0m2 25h0m3-20h0m1 9h0m3-9h0m1 16h0m6 5h0m1-20h0m1-10h0m4 16h0m5 3h0m4-18h0m1 8h0m1 12h0m0 3h0m2 2h0m3-11h0m6 13h0m6-23h0m1 3h0m1-1h0m1 7h0m2-12h0m0 1h0m0 10h0m2-12h0m6-1h0m1 2h0m5 16h0m2-14h0m0 5h0m2-9h0m1 3h0m2-2h0m0 5h0m1 2h0m2-6h0m4 17h0m2-20h0m4 10h0m2 21h0m1-22h0m0 4h0m1 6h0m9 10h0m2-6h0m4-11h0m1-4h0m1 14h0m3-11h0m0 1h0m5 19h0m-3 26h0m-2-25h0m-6 5h0m-2 6h0m0-11h0m-2 16h0m-4 11h0m-1-13h0m-4-2h0m-1 13h0m-2 2h0m-1-5h0m-1-2h0m0-2h0m-7-10h0m-1 19h0m-3-24h0m-1 12h0m-1 10h0m-1-9h0m0-2h0m0-3h0m0-4h0m-3 15h0m-1 0h0m-1 9h0m-1 0h0m0-12h0m-1 2h0m-3 7h0m0-21h0m-1 12h0m-6-16h0m-4 20h0m0-3h0m0-7h0m-3 2h0m0-10h0m-4 3h0m-9 20h0m0-10h0m-3 8h0m-3-25h0m-1-1h0m-1 31h0m0-16h0m0-1h0m-1-13h0m-2 22h0m-1-12h0m-3 0h0m-2 11h0m-5-2h0m-3 11h0m-5-16h0m-2-11h0m-1 21h0m-2-6h0m-1 11h0m-3-17h0m0-7h0m-3 5h0m-1 18h0m0-11h0m-3 3h0m0-7h0m-2 1h0m-1-7h0m0-3h0m0-5h0m-2 10h0m-1 18h0m0-13h0m-2-9h0m-2 14h0m-4 8h0m-1-8h0m-3 0h0m-3 1h0m-7 3h0m-1 6h0m0-1h0m-2-2h0m-6-18h0m-1 3h0m-1 9h0m-3 5h0m0-13h0m-1-12h0m-2 2h0m-4 3h0m-3 22h0m-1-20h0m-3 2h0m-3 15h0m0-18h0m-6 0h0m-1 10h0m0-4h0m-1 12h0m-4-6h0m-1-9h0m31 44h0m13-16h0m2 13h0m3-3h0m8-4h0m2-1h0m2-4h0m1-3h0m0 3h0m0 18h0m2-7h0m3-3h0m7-4h0m2-7h0m0 8h0m5-3h0m0 6h0m4-9h0m2 24h0m4-17h0m3 10h0m9 3h0m5-9h0m9-12h0m0 14h0m1-11h0m4-1h0m1 4h0m3 15h0m8-21h0m2 14h0m2 1h0m4-12h0m6-4h0m0 1h0m2 0h0m0 15h0m1 3h0m1-20h0m0 3h0m1-5h0m2 5h0m7-3h0m0 3h0m-30 35h0m-11-9h0m-5 0h0m-2 13h0m-4-1h0m-20-3h0" stroke="#DBAA68" stroke-width="10.8" stroke-linecap="round" fill="none"/>
<path transform="scale(.5)" d="M1746 3512h0m3-19h0m10 23h0m8 10h0m-9-4h0m-16 21h0m7 10h0m2 10h0m9 5h0m0 2h0m7 6h0m1-1h0m1-22h0m3 9h0m4 16h0m5 31h0m-10-11h0m-2-14h0m-5 18h0m-11-11h0m-8 9h0m9 35h0m5-11h0m20 18h0m147 32h0m-3-8h0m-33 7h0m-100-11h0m-2 17h0m-19-31h0m-4 25h0m-1 0h0m-1 5h0m-10 0h0m-5-18h0m3 25h0m14 18h0m1-8h0m7-5h0m17-7h0m2 0h0m16 15h0m9-6h0m0 17h0m39-16h0m20 15h0m16-14h0m9 14h0m24-16h0m-11 23h0m-13 21h0m-12-5h0m-14-9h0m-29 3h0m-1 4h0m-6-4h0m-4 2h0m-5-8h0m0-2h0m-7 23h0m-11 3h0m-3-8h0m-3 4h0m-28-15h0m-13-9h0m-11 12h0m-7-14h0m-6 6h0m-14 28h0m5 20h0m9 4h0m28 1h0m16 1h0m4-11h0m26-5h0m4 17h0m2-19h0m2 3h0m3 17h0m5-19h0m4-1h0m19 12h0m15-5h0m4-13h0m0 11h0m4-1h0m4 0h0m6-2h0m9-3h0m5-5h0m-11 50h0m-9-22h0m-8 20h0m-9-19h0m-5 6h0m-9 4h0m-3-12h0m-20 30h0m-37-29h0m-3 22h0m-3 3h0m0-22h0m-1 19h0m-4-19h0m-8 10h0m-2 16h0m-1-17h0m-9 14h0m0-4h0m-4 4h0m-10-27h0m-1 27h0m-5-1h0m-11 0h0m8 24h0m9-7h0m2-8h0m1 21h0m1-14h0m26 7h0m5-4h0m14 0h0m6 12h0m6-6h0m8 10h0m13-16h0m6 12h0m2-8h0m39-7h0m3 19h0m1-14h0m5 19h0m-4 18h0m-12-18h0m-4 9h0m-2 12h0m0-9h0m-7 1h0m0-10h0m-6 4h0m-9 15h0m-7-2h0m-8-20h0m-18 4h0m-8 17h0m-10-2h0m-2-3h0m0-18h0m-3 9h0m-3 1h0m-39 9h0m0-6h0m-6-11h0m-10 27h0m12 18h0m21-6h0m8-4h0m25 24h0m20-8h0m23 2h0m40-18h0m13 2h0m15 48h0m-48 5h0m-23-8h0m-65 27h0m118-5h0m-86 24h0m-1 28h0m-14-12h0" stroke="#DBAA68" stroke-width="10.8" stroke-linecap="round" fill="none"/>
<path transform="scale(.5)" d="M1802 3539h0m27 0h0m46 42h0m-3-3h0m-1 3h0m-13 0h0m-1 2h0m0-3h0m-4-7h0m-10 7h0m-1-3h0m-2 4h0m-6-1h0m-2-4h0m-7 3h0m-1 1h0m-8-7h0m-5 34h0m1 7h0m5-29h0m1 5h0m0 12h0m2 7h0m1 5h0m1-29h0m1-1h0m2 6h0m1 12h0m2 6h0m3 2h0m4-25h0m3 6h0m3 2h0m5 22h0m4-23h0m4-5h0m0 1h0m2 19h0m10-7h0m8-13h0m0 25h0m2-13h0m-33 41h0m-6 6h0m-7-15h0m-2 6h0m-2-14h0m-2 18h0m-1-11h0m-1-7h0m-11 38h0m3-12h0m4 6h0m7-7h0m9 8h0m0 5h0m2-4h0m6-5h0m1 0h0m10-4h0" stroke="#76808F" stroke-width="10.8" stroke-linecap="round" fill="none"/>
<path transform="scale(.5)" d="M1796 3530h0m53-1h0m21 43h0m-37-16h0m-16 14h0m-4 2h0m-17-14h0m-28-2h0m7 30h0m64-2h0m64 38h0m-90 10h0m-37-11h0m26 55h0m11-27h0m34 11h0m20 18h0m28-13h0" stroke="#76808F" stroke-width="10.8" stroke-linecap="round" fill="none"/>
<path transform="scale(.5)" d="M1842 3726h0m65-9h0m-47 102h0m-108 2h0m-22 28h0m99 3h0m-94 100h0m144 30h0" stroke="#76808F" stroke-width="10.8" stroke-linecap="round" fill="none"/>
<path transform="scale(.5)" d="M1928 3408h0m2 13h0m35 2h0m1-1h0m6-17h0m8 6h0m1 0h0m10-6h0m7-1h0m12 11h0m31 29h0m-17 6h0m-19-4h0m0-17h0m-2 26h0m-6-13h0m0-2h0m-4-4h0m-1-2h0m-10 16h0m-4-10h0m-2-12h0m-2 24h0m0-17h0m-3 18h0m-5-11h0m-2 6h0m0-11h0m-13 2h0m-3 10h0m-4-3h0m-6 2h0m-4-6h0m-4-11h0m-4 7h0m-9 17h0m-17-24h0m-1 9h0m0 41h0m18-18h0m7 23h0m14-24h0m2 2h0m4 4h0m1 3h0m9-7h0m10 9h0m6-16h0m10 0h0m6 0h0m0 9h0m10-5h0m5-3h0m0 9h0m10 0h0m2 20h0m2-24h0m5-5h0m2 6h0m13 23h0m6-23h0m2 8h0m4 4h0m5 30h0m-4 4h0m-4-5h0m-1-9h0m-2-6h0m-12 22h0m-1-24h0m-2 31h0m-5 0h0m-3-2h0m-5-20h0m-1 3h0m0-7h0m-5 12h0m-9-1h0m-1 9h0m-2-21h0m-24 22h0m-6-23h0m-25 5h0m-3 2h0m-1 21h0m-7-2h0m-5-27h0m-2 9h0m-16-9h0m-3 44h0m8 13h0m8-19h0m4 4h0m15 12h0m2-22h0m1 12h0m5 1h0m20-2h0m26 0h0m3-8h0m16 12h0m1-16h0m18 0h0m8 2h0m10 57h0m-9-8h0m-3-11h0m-2 11h0m-4-5h0m-5-9h0m-2-3h0m-7 2h0m-2 7h0m-12-5h0m-2 13h0m-5-3h0m-20-3h0m-48 15h0m-10-25h0m19 36h0m1 2h0m12 14h0m17-22h0m9 17h0m2-14h0m12 23h0m1-6h0m3 7h0m7 2h0m3-25h0m1 20h0m9 6h0m-5 8h0m-15 6h0m-2 2h0m-6 11h0m0-1h0m-5 3h0m-2-29h0m-4 13h0m-7-7h0m-12 6h0m-10 18h0m-6-2h0m-5-11h0m0-12h0m-3 5h0m-2 20h0m24 2h0" stroke="#B6BECA" stroke-width="10.8" stroke-linecap="round" fill="none"/>
<path transform="scale(.5)" d="M1930 3154h0m0 3h0m4 10h0m4-8h0m1 3h0m4-11h0m1 13h0m5-2h0m2 4h0m0 1h0m9-25h0m1 10h0m2 8h0m-5 11h0m-1-2h0m-1 8h0m-1 10h0m-1 3h0m-3-6h0m0-6h0m-1 11h0m0-8h0m-3-8h0m-1 26h0m0-5h0m0-13h0m-1-3h0m-1 13h0m-3-18h0m-2 10h0m-5-1h0m-2 3h0m0-13h0m-5 11h0m0-15h0m11 48h0m4-12h0m1-4h0m2 5h0m1 15h0m4-17h0m9 1h0" stroke="#45474C" stroke-width="10.8" stroke-linecap="round" fill="none"/>
<path transform="scale(.5)" d="M1915 3326h0m6-11h0m8-8h0m8 9h0m19-3h0m4 3h0m0 9h0m2-2h0" stroke="#45474C" stroke-width="10.8" stroke-linecap="round" fill="none"/></g>
</svg></body></html>
